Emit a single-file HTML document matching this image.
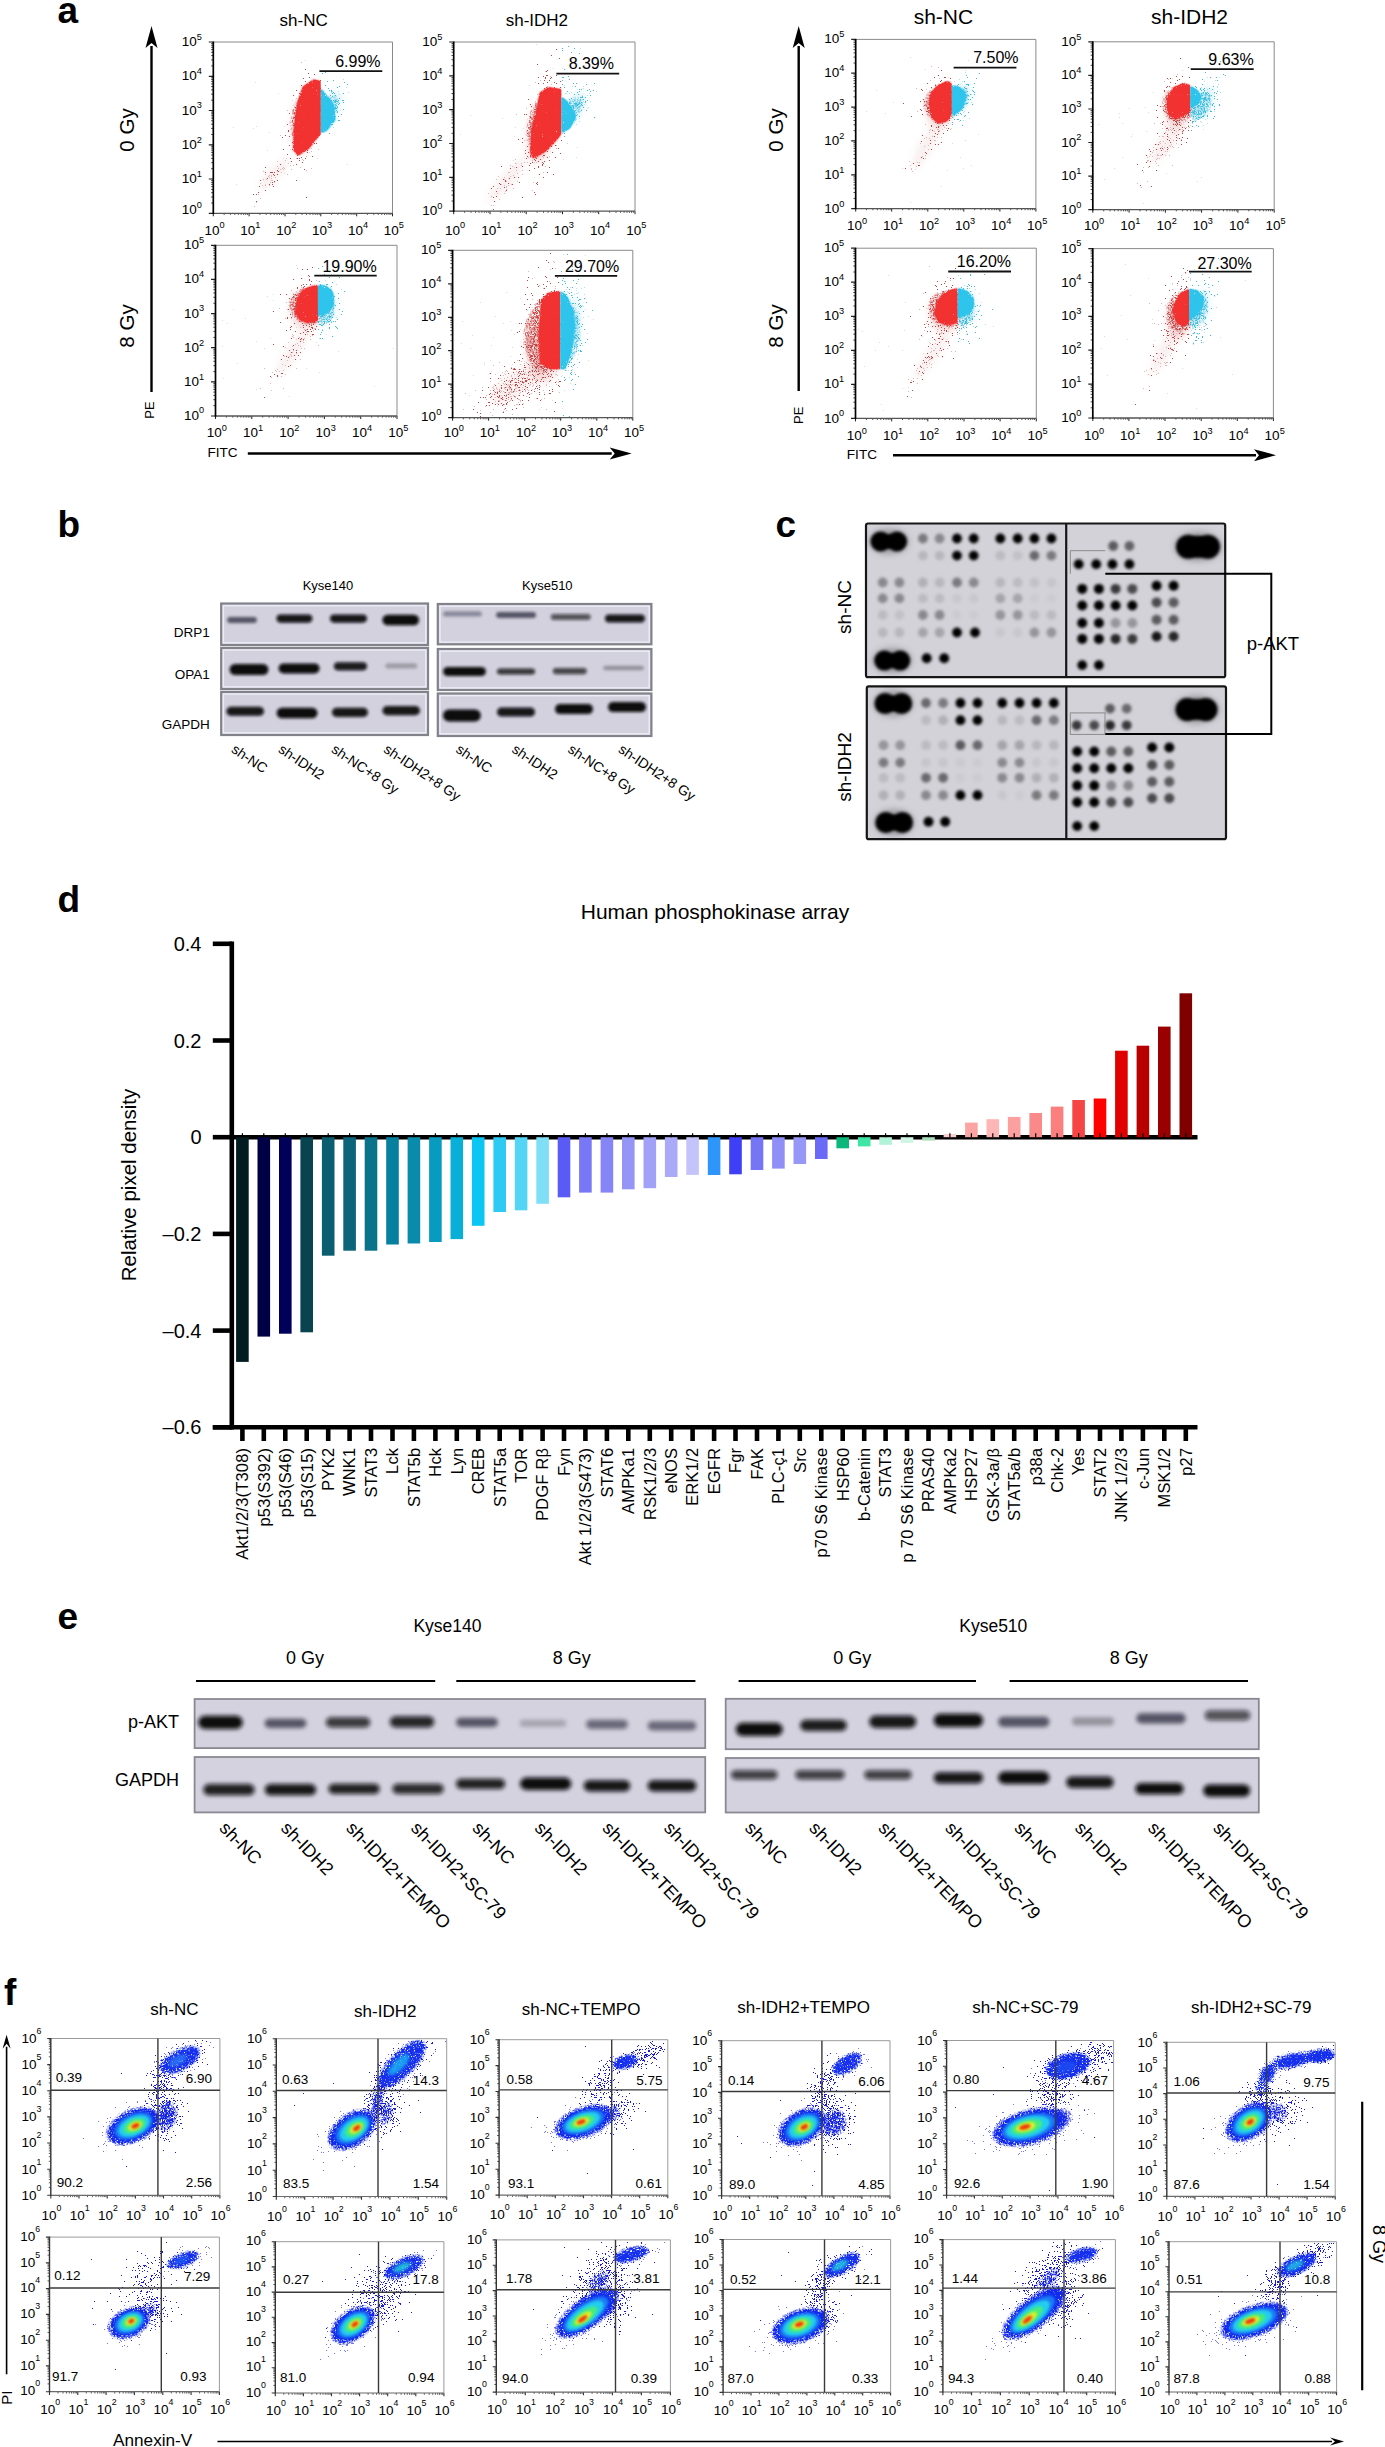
<!DOCTYPE html><html><head><meta charset="utf-8"><style>html,body{margin:0;padding:0;background:#fff;}svg{display:block;font-family:"Liberation Sans",sans-serif;}</style></head><body><svg width="1385" height="2447" viewBox="0 0 1385 2447"><defs><filter id="spkA" x="-40%" y="-40%" width="180%" height="180%" color-interpolation-filters="sRGB"><feGaussianBlur in="SourceGraphic" stdDeviation="2.2" result="b"/><feTurbulence type="fractalNoise" baseFrequency="0.9" numOctaves="2" seed="5" result="n"/><feColorMatrix in="n" type="matrix" values="0 0 0 0 0  0 0 0 0 0  0 0 0 0 0  3 0 0 0 -0.9" result="na"/><feComposite in="b" in2="na" operator="in" result="m"/><feComponentTransfer in="m"><feFuncA type="linear" slope="2" intercept="-0.5"/></feComponentTransfer></filter><filter id="spkB" x="-40%" y="-40%" width="180%" height="180%" color-interpolation-filters="sRGB"><feGaussianBlur in="SourceGraphic" stdDeviation="1" result="b"/><feTurbulence type="fractalNoise" baseFrequency="0.9" numOctaves="2" seed="9" result="n"/><feColorMatrix in="n" type="matrix" values="0 0 0 0 0  0 0 0 0 0  0 0 0 0 0  3 0 0 0 -0.4" result="na"/><feComposite in="b" in2="na" operator="in" result="m"/><feComponentTransfer in="m"><feFuncA type="linear" slope="3" intercept="0"/></feComponentTransfer></filter><filter id="ab1" x="-20%" y="-20%" width="140%" height="140%"><feGaussianBlur stdDeviation="0.7"/></filter><filter id="ab2" x="-50%" y="-50%" width="200%" height="200%"><feGaussianBlur stdDeviation="3"/></filter><clipPath id="gL1"><rect x="214.3" y="43" width="106.5" height="169.3"/></clipPath><clipPath id="gR1"><rect x="320.8" y="43" width="70.7" height="169.3"/></clipPath><clipPath id="gL2"><rect x="454.7" y="43" width="106.7" height="167.2"/></clipPath><clipPath id="gR2"><rect x="561.4" y="43" width="72.6" height="167.2"/></clipPath><clipPath id="gL3"><rect x="216.5" y="246.3" width="101.4" height="168.7"/></clipPath><clipPath id="gR3"><rect x="317.9" y="246.3" width="78.1" height="168.7"/></clipPath><clipPath id="gL4"><rect x="453.6" y="251.3" width="106.6" height="165.4"/></clipPath><clipPath id="gR4"><rect x="560.2" y="251.3" width="71.6" height="165.4"/></clipPath><clipPath id="gL5"><rect x="856.7" y="40.4" width="95.1" height="167.2"/></clipPath><clipPath id="gR5"><rect x="951.8" y="40.4" width="83.1" height="167.2"/></clipPath><clipPath id="gL6"><rect x="1093.8" y="42.8" width="96.4" height="165.9"/></clipPath><clipPath id="gR6"><rect x="1190.2" y="42.8" width="83" height="165.9"/></clipPath><clipPath id="gL7"><rect x="856.5" y="249.2" width="101.1" height="168.2"/></clipPath><clipPath id="gR7"><rect x="957.6" y="249.2" width="77.7" height="168.2"/></clipPath><clipPath id="gL8"><rect x="1093.8" y="249.6" width="95.3" height="167.4"/></clipPath><clipPath id="gR8"><rect x="1189.1" y="249.6" width="83.3" height="167.4"/></clipPath><filter id="bb" x="-30%" y="-100%" width="160%" height="300%"><feGaussianBlur stdDeviation="1.6"/></filter><filter id="bd" x="-50%" y="-50%" width="200%" height="200%"><feGaussianBlur stdDeviation="1.35"/></filter><filter id="bd2" x="-50%" y="-50%" width="200%" height="200%"><feGaussianBlur stdDeviation="2.3"/></filter><filter id="bd2h" x="-50%" y="-50%" width="200%" height="200%"><feGaussianBlur stdDeviation="3.5"/></filter><filter id="fb1" x="-50%" y="-50%" width="200%" height="200%"><feGaussianBlur stdDeviation="1.6"/></filter><filter id="fb2" x="-50%" y="-50%" width="200%" height="200%"><feGaussianBlur stdDeviation="1.0"/></filter><filter id="fb3" x="-50%" y="-50%" width="200%" height="200%"><feGaussianBlur stdDeviation="3"/></filter><filter id="spk" x="-40%" y="-40%" width="180%" height="180%" color-interpolation-filters="sRGB"><feGaussianBlur in="SourceGraphic" stdDeviation="2.6" result="b"/><feTurbulence type="fractalNoise" baseFrequency="0.8" numOctaves="2" seed="3" result="n"/><feColorMatrix in="n" type="matrix" values="0 0 0 0 0  0 0 0 0 0  0 0 0 0 0  3 0 0 0 -0.9" result="na"/><feComposite in="b" in2="na" operator="in" result="m"/><feComponentTransfer in="m"><feFuncA type="linear" slope="2.5" intercept="-0.3"/></feComponentTransfer></filter><filter id="spk2" x="-40%" y="-40%" width="180%" height="180%" color-interpolation-filters="sRGB"><feGaussianBlur in="SourceGraphic" stdDeviation="2" result="b"/><feTurbulence type="fractalNoise" baseFrequency="0.8" numOctaves="2" seed="7" result="n"/><feColorMatrix in="n" type="matrix" values="0 0 0 0 0  0 0 0 0 0  0 0 0 0 0  3 0 0 0 -0.9" result="na"/><feComposite in="b" in2="na" operator="in" result="m"/><feComponentTransfer in="m"><feFuncA type="linear" slope="2.5" intercept="-0.3"/></feComponentTransfer></filter><filter id="spkL" x="-40%" y="-40%" width="180%" height="180%" color-interpolation-filters="sRGB"><feGaussianBlur in="SourceGraphic" stdDeviation="3.5" result="b"/><feTurbulence type="fractalNoise" baseFrequency="0.8" numOctaves="2" seed="11" result="n"/><feColorMatrix in="n" type="matrix" values="0 0 0 0 0  0 0 0 0 0  0 0 0 0 0  3 0 0 0 -0.9" result="na"/><feComposite in="b" in2="na" operator="in" result="m"/><feComponentTransfer in="m"><feFuncA type="linear" slope="2.2" intercept="-0.5"/></feComponentTransfer></filter></defs><rect width="100%" height="100%" fill="#fff"/><g font-family="Liberation Sans, sans-serif">
<text x="57.5" y="22.5" font-size="37" text-anchor="start" font-weight="bold" fill="#000">a</text>
<path d="M213.3 42H392.5V213.3" stroke="#8a8a8a" stroke-width="1" fill="none"/>
<path d="M213.3 213.3v3M249.1 213.3v3M285 213.3v3M320.8 213.3v3M356.7 213.3v3M392.5 213.3v3" stroke="#222" stroke-width="1" fill="none"/>
<path d="M224.1 213.3v1.6M230.4 213.3v1.6M234.9 213.3v1.6M238.4 213.3v1.6M241.2 213.3v1.6M243.6 213.3v1.6M245.7 213.3v1.6M247.5 213.3v1.6M259.9 213.3v1.6M266.2 213.3v1.6M270.7 213.3v1.6M274.2 213.3v1.6M277 213.3v1.6M279.4 213.3v1.6M281.5 213.3v1.6M283.3 213.3v1.6M295.8 213.3v1.6M302.1 213.3v1.6M306.6 213.3v1.6M310 213.3v1.6M312.9 213.3v1.6M315.3 213.3v1.6M317.3 213.3v1.6M319.2 213.3v1.6M331.6 213.3v1.6M337.9 213.3v1.6M342.4 213.3v1.6M345.9 213.3v1.6M348.7 213.3v1.6M351.1 213.3v1.6M353.2 213.3v1.6M355 213.3v1.6M367.4 213.3v1.6M373.8 213.3v1.6M378.2 213.3v1.6M381.7 213.3v1.6M384.5 213.3v1.6M386.9 213.3v1.6M389 213.3v1.6M390.9 213.3v1.6M211.1 203h2.2M211.1 197h2.2M211.1 192.7h2.2M211.1 189.4h2.2M211.1 186.6h2.2M211.1 184.3h2.2M211.1 182.4h2.2M211.1 180.6h2.2M211.1 168.7h2.2M211.1 162.7h2.2M211.1 158.4h2.2M211.1 155.1h2.2M211.1 152.4h2.2M211.1 150.1h2.2M211.1 148.1h2.2M211.1 146.3h2.2M211.1 134.5h2.2M211.1 128.4h2.2M211.1 124.2h2.2M211.1 120.8h2.2M211.1 118.1h2.2M211.1 115.8h2.2M211.1 113.8h2.2M211.1 112.1h2.2M211.1 100.2h2.2M211.1 94.2h2.2M211.1 89.9h2.2M211.1 86.6h2.2M211.1 83.9h2.2M211.1 81.6h2.2M211.1 79.6h2.2M211.1 77.8h2.2M211.1 65.9h2.2M211.1 59.9h2.2M211.1 55.6h2.2M211.1 52.3h2.2M211.1 49.6h2.2M211.1 47.3h2.2M211.1 45.3h2.2M211.1 43.6h2.2" stroke="#222" stroke-width="0.8" fill="none"/>
<path d="M208.8 213.3h4.5M208.8 179h4.5M208.8 144.8h4.5M208.8 110.5h4.5M208.8 76.3h4.5M208.8 42h4.5" stroke="#222" stroke-width="1.2" fill="none"/>
<path d="M212.6 213.3H392.5" stroke="#555" stroke-width="1.3" fill="none"/>
<path d="M213.3 41.5V214.1" stroke="#000" stroke-width="1.7" fill="none"/>
<text x="204.5" y="234.6" font-size="13.5">10<tspan font-size="9.2" dy="-6.2">0</tspan></text>
<text x="181.8" y="214.4" font-size="13.5">10<tspan font-size="9.2" dy="-6.2">0</tspan></text>
<text x="240.3" y="234.6" font-size="13.5">10<tspan font-size="9.2" dy="-6.2">1</tspan></text>
<text x="181.8" y="183" font-size="13.5">10<tspan font-size="9.2" dy="-6.2">1</tspan></text>
<text x="276.2" y="234.6" font-size="13.5">10<tspan font-size="9.2" dy="-6.2">2</tspan></text>
<text x="181.8" y="148.8" font-size="13.5">10<tspan font-size="9.2" dy="-6.2">2</tspan></text>
<text x="312" y="234.6" font-size="13.5">10<tspan font-size="9.2" dy="-6.2">3</tspan></text>
<text x="181.8" y="114.5" font-size="13.5">10<tspan font-size="9.2" dy="-6.2">3</tspan></text>
<text x="347.9" y="234.6" font-size="13.5">10<tspan font-size="9.2" dy="-6.2">4</tspan></text>
<text x="181.8" y="80.3" font-size="13.5">10<tspan font-size="9.2" dy="-6.2">4</tspan></text>
<text x="383.7" y="234.6" font-size="13.5">10<tspan font-size="9.2" dy="-6.2">5</tspan></text>
<text x="181.8" y="46" font-size="13.5">10<tspan font-size="9.2" dy="-6.2">5</tspan></text>
<path d="M300 137.5h1m-11 12h1m-22 -17h1m14 -6h1m-20 58h1m36 -37h1m44 17h1m-65 -6h1m-6 -65h1m38 65h1m-6 -27h1m-9 -32h1m-38 51h1m31 -16h1m24 -8h1m-72 2h1m30 45h1m-52 -46h1m21 -45h1m-20 102h1m55 -84h1m-37 26h1m52 26h1m-5 -92h1" stroke="#e8d8d8" stroke-width="1" fill="none"/>
<ellipse cx="306" cy="118" rx="36" ry="13.5" transform="rotate(-80 306 118)" fill="#c85050" fill-opacity="0.2" filter="url(#ab2)" clip-path="url(#gL1)"/>
<ellipse cx="274" cy="174" rx="20.8" ry="5.9" transform="rotate(-45 274 174)" fill="#c87070" fill-opacity="0.1" filter="url(#ab2)" clip-path="url(#gL1)"/>
<ellipse cx="329" cy="108" rx="18.2" ry="8.4" transform="rotate(-60 329 108)" fill="#40b8d8" fill-opacity="0.2" filter="url(#ab2)" clip-path="url(#gR1)"/>
<g clip-path="url(#gL1)"><ellipse cx="306" cy="118" rx="28.8" ry="15.8" transform="rotate(-80 306 118)" fill="#c63a3a" fill-opacity="0.8" filter="url(#spkA)"/></g>
<g clip-path="url(#gR1)"><ellipse cx="329" cy="108" rx="14.9" ry="9" transform="rotate(-60 329 108)" fill="#38bfe4" fill-opacity="0.8" filter="url(#spkA)"/></g>
<path d="M306 99.5h1m11 50h1m0 -31h1m-19 -15h1m-3 18h1m10 -19h1m1 1h1m5 -18h1m-21 48h1m-12 -23h1m14 19h1m10 -13h1m-3 32h1m-8 -16h1m2 -9h1m12 -24h1m-11 -8h1m0 60h1m-19 -16h1m5 -34h1m-12 62h1m19 -33h1m-8 -11h1m10 -31h1m-1 14h1m-5 24h1m7 3h1m1 -3h1m-14 -45h1m0 47h1m-4 -3h1m-5 -17h1m12 16h1m-13 20h1m1 -26h1m4 11h1m-6 -40h1m4 13h1m9 18h1m-1 -16h1m-21 21h1m8 -33h1m-11 10h1m-2 46h1m0 -40h1m5 51h1m-3 8h1m14 -40h1m-36 8h1m27 -21h1m-8 -52h1m6 77h1m-7 -7h1m8 -25h1m-15 14h1m18 4h1m-18 -25h1m5 5h1m5 39h1m-2 -23h1m-1 -3h1m-9 25h1m9 -30h1m-3 27h1m2 -44h1m2 19h1m1 3h1m-21 1h1m12 49h1m-11 -23h1m11 -35h1m-8 60h1m-5 -73h1m0 63h1m-8 -62h1m12 41h1m-1 -24h1m-4 41h1m-1 -68h1m6 -4h1m-14 35h1m4 6h1m9 -2h1m-13 18h1m6 -49h1m-16 37h1" stroke="#e2b6b6" stroke-width="1" fill="none"/>
<path d="M314 121.5h1m-12 16h1m15 -2h1m-25 12h1m15 -52h1m-16 21h1m20 21h1m-4 -10h1m-5 5h1m5 -12h1m-16 6h1m10 0h1m-6 26h1m-11 -16h1m22 -56h1m-22 53h1m10 11h1m7 -32h1m-36 37h1m24 -26h1m-8 10h1m-3 27h1m8 -60h1m-4 18h1m-17 -5h1m22 24h1m0 -5h1m3 -9h1m-23 20h1m-2 2h1m25 -57h1m-5 44h1m-7 -20h1m-17 5h1m4 12h1m18 -24h1m-23 19h1m18 -1h1m-7 -5h1m7 -15h1m-23 4h1m0 23h1m7 21h1m13 -54h1m-10 25h1m-1 -17h1m0 -5h1m-1 -1h1m9 -1h1m-16 31h1m7 -47h1m-25 63h1m3 -50h1m15 12h1m6 -8h1m-3 -25h1m3 10h1m-11 62h1m-10 12h1m19 -58h1m-24 41h1m10 -23h1m-1 -20h1m-7 59h1m2 12h1m10 -56h1m-8 4h1m1 8h1m-7 -8h1m-3 21h1m9 18h1m-8 -34h1m8 21h1m-10 15h1m5 -51h1m-5 1h1m-7 33h1m3 -7h1m0 8h1m-1 -2h1m8 -25h1m-11 22h1m6 -27h1m-6 0h1m-10 41h1m9 -54h1m-2 23h1m2 -1h1m-16 32h1m23 -20h1m-15 -31h1m-2 20h1m-1 -4h1m-4 8h1m15 -32h1m-10 27h1m-18 50h1m7 -35h1m-4 30h1m9 33h1m-8 -67h1m1 -45h1m-5 30h1m1 30h1m16 -2h1m-15 -53h1m5 25h1m-7 4h1m16 0h1m-6 -13h1m-19 5h1m8 32h1m0 -38h1m-19 26h1m7 -41h1m5 58h1m5 -26h1m8 -2h1m-11 30h1m1 -73h1m-1 6h1m-7 46h1m-4 -31h1m13 12h1m-19 70h1m4 -69h1m-1 8h1m-5 -5h1m0 29h1m9 -18h1m-7 -3h1m17 -31h1m-20 26h1m-1 14h1m17 -1h1m-18 32h1m15 -80h1m-7 21h1m-14 11h1m4 -2h1m0 11h1m-6 -7h1m-3 15h1m-11 -1h1m14 -52h1m1 28h1m-8 19h1m7 20h1m-1 -25h1m-5 -24h1m-16 28h1m18 0h1m-1 -1h1m-2 -8h1m-19 39h1m17 -30h1m-17 12h1m28 -37h1m-15 38h1m5 -32h1m-6 -24h1m-11 43h1m21 11h1m-15 -17h1m4 25h1m-4 -74h1m-5 54h1m-1 -1h1m4 21h1m-9 -34h1m4 39h1m-12 -6h1m26 -53h1m-10 52h1m-2 -49h1m9 -9h1m-13 50h1m-16 16h1m19 -31h1m3 -34h1m-18 9h1m-18 44h1m2 -2h1m17 -5h1m1 -19h1m-14 9h1m15 -7h1m7 0h1m-13 12h1m-3 -7h1m11 -4h1m5 9h1m-13 -50h1m6 32h1m-9 12h1m-11 41h1" stroke="#c44444" stroke-width="1" fill="none"/>
<path d="M321 122.5h1m-1 2h1m1 -3h1m-2 -5h1m-2 -26h1" stroke="#b4e2ee" stroke-width="1" fill="none"/>
<path d="M328 88.5h1m-7 22h1m6 23h1m-6 -40h1m2 5h1m-4 25h1m0 -51h1m3 49h1m-9 -20h1m0 12h1m7 -13h1m6 -13h1m-17 22h1m0 -36h1m-2 35h1" stroke="#3cbde0" stroke-width="1" fill="none"/>
<path d="M282 168.5h1m-20 3h1m16 -2h1m-16 16h1m2 -9h1m-9 7h1m29 -18h1m-17 10h1m-12 4h1m5 -2h1m1 -1h1m5 -15h1m-20 33h1m3 -9h1m8 -5h1m26 -39h1m-8 28h1m-17 8h1m8 -9h1m10 -19h1m-27 26h1m-5 -1h1m27 -9h1m-17 1h1m5 1h1m-14 15h1m23 -31h1m1 7h1m-10 16h1m-32 28h1m26 -33h1m-13 6h1m6 -7h1m-8 10h1m-12 20h1m20 -26h1m-13 13h1m4 -3h1m-9 -3h1m5 1h1m-19 26h1m31 -48h1m-10 13h1m7 -11h1" stroke="#e2b6b6" stroke-width="1" fill="none"/>
<path d="M296 151.5h1m-25 21h1m-20 22h1m6 -14h1m-2 6h1m7 -8h1m6 -6h1m-19 29h1m21 -30h1m-21 21h1m18 -22h1m-1 10h1m-13 -8h1m7 2h1m-2 10h1m0 2h1m-18 8h1m17 -19h1m22 -20h1m-7 6h1m-12 3h1m-12 20h1m20 -26h1m-21 14h1m-6 -5h1m8 14h1m2 -7h1m-6 8h1m-2 -10h1m-7 18h1" stroke="#c44444" stroke-width="1" fill="none"/>
<path d="M320 134.5h1m-9 -9h1m7 -9h1m-6 -8h1m4 21h1" stroke="#e2b6b6" stroke-width="1" fill="none"/>
<path d="M318 108.5h1m-5 6h1m-4 15h1m9 -15h1m-12 4h1m6 0h1m2 -8h1m-8 1h1m-2 17h1m2 6h1" stroke="#c44444" stroke-width="1" fill="none"/>
<path d="M331 117.5h1m-8 -12h1m-1 15h1m2 1h1m-4 -9h1m-1 15h1m9 -10h1m-5 -11h1m-6 3h1m1 5h1m1 -18h1m3 6h1m-5 7h1m-2 -11h1m-2 18h1m-5 6h1m1 -4h1m12 -27h1m-4 17h1m-5 -16h1m-4 23h1m4 -19h1m-5 21h1m-4 -8h1m16 -30h1m-8 22h1m-10 7h1m-6 -9h1m9 -8h1m-4 24h1m-5 -5h1m3 -2h1m-1 -1h1m9 -13h1m0 16h1m-6 -10h1m-3 27h1m-1 -30h1m12 -10h1m-9 14h1m-7 5h1m-4 -1h1m18 -13h1" stroke="#b4e2ee" stroke-width="1" fill="none"/>
<path d="M332 124.5h1m1 -12h1m8 -3h1m-5 -6h1m-4 5h1m-13 1h1m12 2h1m-11 -2h1m-5 13h1m5 -14h1m2 -12h1m-7 14h1m6 -10h1m-7 23h1m-1 -19h1m-5 17h1m8 -28h1m11 -11h1m-12 -2h1m4 36h1m-4 -15h1m-11 3h1m5 4h1m11 -15h1m-22 31h1m20 -24h1m-16 8h1m-4 -23h1m-2 17h1m5 17h1m4 -12h1m0 -6h1m-13 4h1m11 0h1m-8 11h1m0 -21h1m5 15h1m0 2h1m1 -14h1m-2 22h1m-8 -8h1m2 -19h1m-4 -2h1m-1 28h1m-1 -29h1m0 21h1m-7 14h1m0 -13h1m15 -10h1m-15 -12h1m9 30h1m-3 -13h1m-12 9h1m3 -12h1m-4 4h1m-1 7h1m13 -1h1m-13 3h1m-4 -5h1m8 -17h1m-1 13h1m2 -8h1m-6 -8h1m-3 8h1m15 -16h1m-26 8h1m12 24h1m3 -30h1m-13 -5h1m-6 37h1m11 -17h1m2 0h1m-3 -1h1m-5 10h1m-4 -9h1m6 1h1m6 -2h1m-5 4h1" stroke="#3cbde0" stroke-width="1" fill="none"/>
<g clip-path="url(#gL1)">
<polygon points="298.2,102.8 303.4,87.2 313.8,80.3 320.8,82 320.8,132.3 308.6,147.8 298.2,154.8 293.9,149.6 294.8,127.1" fill="#f23131" filter="url(#spkB)"/>
</g>
<g clip-path="url(#gR1)">
<polygon points="320.8,88.9 326,95.9 332.9,104.5 334.6,120.1 326,130.5 320.8,132.3" fill="#2ec4ec" filter="url(#spkB)"/>
</g>
<line x1="319.4" y1="71.2" x2="382.3" y2="71.2" stroke="#111" stroke-width="1.8"/>
<text x="380.6" y="66.9" font-size="16" text-anchor="end" fill="#000">6.99%</text>
<path d="M453.7 42H635V211.2" stroke="#8a8a8a" stroke-width="1" fill="none"/>
<path d="M453.7 211.2v3M490 211.2v3M526.2 211.2v3M562.5 211.2v3M598.7 211.2v3M635 211.2v3" stroke="#222" stroke-width="1" fill="none"/>
<path d="M464.6 211.2v1.6M471 211.2v1.6M475.5 211.2v1.6M479 211.2v1.6M481.9 211.2v1.6M484.3 211.2v1.6M486.4 211.2v1.6M488.3 211.2v1.6M500.9 211.2v1.6M507.3 211.2v1.6M511.8 211.2v1.6M515.3 211.2v1.6M518.2 211.2v1.6M520.6 211.2v1.6M522.7 211.2v1.6M524.6 211.2v1.6M537.1 211.2v1.6M543.5 211.2v1.6M548.1 211.2v1.6M551.6 211.2v1.6M554.4 211.2v1.6M556.9 211.2v1.6M559 211.2v1.6M560.8 211.2v1.6M573.4 211.2v1.6M579.8 211.2v1.6M584.3 211.2v1.6M587.8 211.2v1.6M590.7 211.2v1.6M593.1 211.2v1.6M595.2 211.2v1.6M597.1 211.2v1.6M609.7 211.2v1.6M616 211.2v1.6M620.6 211.2v1.6M624.1 211.2v1.6M627 211.2v1.6M629.4 211.2v1.6M631.5 211.2v1.6M633.3 211.2v1.6M451.5 201h2.2M451.5 195.1h2.2M451.5 190.8h2.2M451.5 187.5h2.2M451.5 184.9h2.2M451.5 182.6h2.2M451.5 180.6h2.2M451.5 178.9h2.2M451.5 167.2h2.2M451.5 161.2h2.2M451.5 157h2.2M451.5 153.7h2.2M451.5 151h2.2M451.5 148.8h2.2M451.5 146.8h2.2M451.5 145.1h2.2M451.5 133.3h2.2M451.5 127.4h2.2M451.5 123.1h2.2M451.5 119.9h2.2M451.5 117.2h2.2M451.5 114.9h2.2M451.5 113h2.2M451.5 111.2h2.2M451.5 99.5h2.2M451.5 93.5h2.2M451.5 89.3h2.2M451.5 86h2.2M451.5 83.3h2.2M451.5 81.1h2.2M451.5 79.1h2.2M451.5 77.4h2.2M451.5 65.7h2.2M451.5 59.7h2.2M451.5 55.5h2.2M451.5 52.2h2.2M451.5 49.5h2.2M451.5 47.2h2.2M451.5 45.3h2.2M451.5 43.5h2.2" stroke="#222" stroke-width="0.8" fill="none"/>
<path d="M449.2 211.2h4.5M449.2 177.4h4.5M449.2 143.5h4.5M449.2 109.7h4.5M449.2 75.8h4.5M449.2 42h4.5" stroke="#222" stroke-width="1.2" fill="none"/>
<path d="M452.9 211.2H635" stroke="#555" stroke-width="1.3" fill="none"/>
<path d="M453.7 41.5V211.9" stroke="#000" stroke-width="1.7" fill="none"/>
<text x="444.9" y="234.6" font-size="13.5">10<tspan font-size="9.2" dy="-6.2">0</tspan></text>
<text x="422.2" y="214.7" font-size="13.5">10<tspan font-size="9.2" dy="-6.2">0</tspan></text>
<text x="481.2" y="234.6" font-size="13.5">10<tspan font-size="9.2" dy="-6.2">1</tspan></text>
<text x="422.2" y="181.4" font-size="13.5">10<tspan font-size="9.2" dy="-6.2">1</tspan></text>
<text x="517.4" y="234.6" font-size="13.5">10<tspan font-size="9.2" dy="-6.2">2</tspan></text>
<text x="422.2" y="147.5" font-size="13.5">10<tspan font-size="9.2" dy="-6.2">2</tspan></text>
<text x="553.7" y="234.6" font-size="13.5">10<tspan font-size="9.2" dy="-6.2">3</tspan></text>
<text x="422.2" y="113.7" font-size="13.5">10<tspan font-size="9.2" dy="-6.2">3</tspan></text>
<text x="589.9" y="234.6" font-size="13.5">10<tspan font-size="9.2" dy="-6.2">4</tspan></text>
<text x="422.2" y="79.8" font-size="13.5">10<tspan font-size="9.2" dy="-6.2">4</tspan></text>
<text x="626.2" y="234.6" font-size="13.5">10<tspan font-size="9.2" dy="-6.2">5</tspan></text>
<text x="422.2" y="46" font-size="13.5">10<tspan font-size="9.2" dy="-6.2">5</tspan></text>
<path d="M534 177.5h1m41 -20h1m-24 -89h1m4 51h1m-7 11h1m-11 -37h1m-7 -49h1m-8 41h1m37 40h1m-66 -7h1m84 -10h1m-47 43h1m-28 16h1m8 -39h1m-8 35h1m29 -31h1m-32 -5h1m64 -79h1m-68 112h1m-54 -26h1m53 2h1m-45 -21h1m68 -22h1m37 54h1m-15 12h1" stroke="#e8d8d8" stroke-width="1" fill="none"/>
<ellipse cx="545" cy="122" rx="42" ry="15" transform="rotate(-75 545 122)" fill="#c85050" fill-opacity="0.2" filter="url(#ab2)" clip-path="url(#gL2)"/>
<ellipse cx="507" cy="180" rx="28.6" ry="6.5" transform="rotate(-50 507 180)" fill="#c87070" fill-opacity="0.1" filter="url(#ab2)" clip-path="url(#gL2)"/>
<ellipse cx="572" cy="110" rx="19.6" ry="8.4" transform="rotate(-55 572 110)" fill="#40b8d8" fill-opacity="0.2" filter="url(#ab2)" clip-path="url(#gR2)"/>
<g clip-path="url(#gL2)"><ellipse cx="545" cy="122" rx="33.6" ry="17.5" transform="rotate(-75 545 122)" fill="#c63a3a" fill-opacity="0.8" filter="url(#spkA)"/></g>
<g clip-path="url(#gR2)"><ellipse cx="572" cy="110" rx="16.1" ry="9" transform="rotate(-55 572 110)" fill="#38bfe4" fill-opacity="0.8" filter="url(#spkA)"/></g>
<path d="M521 163.5h1m23 -14h1m-1 -43h1m8 17h1m-11 28h1m3 -17h1m-2 -12h1m-1 -14h1m-12 29h1m20 -4h1m-46 33h1m12 -16h1m24 -74h1m-18 106h1m9 -51h1m-3 -16h1m-4 16h1m17 17h1m-20 -26h1m-22 -8h1m5 56h1m17 -45h1m-1 20h1m-14 -12h1m30 -14h1m-11 -15h1m-12 -10h1m5 42h1m12 -38h1m-5 -8h1m5 2h1m-19 -12h1m12 48h1m-19 -4h1m-8 33h1m19 -40h1m-7 15h1m0 40h1m-1 -25h1m-14 -29h1m-1 2h1m11 7h1m-19 13h1m20 -30h1m6 21h1m-3 -25h1m-6 -35h1m-11 49h1m-2 42h1m3 -17h1m-3 17h1m5 -6h1m-8 -74h1m11 34h1m-3 50h1m8 -60h1m-8 -20h1m-12 44h1m4 11h1m7 -8h1m-3 -19h1m-2 -27h1m11 4h1m-8 -7h1m-14 17h1m-12 61h1m16 -37h1m-19 -17h1m9 23h1m18 -33h1m-21 32h1m-2 16h1m14 -42h1m4 -10h1m-5 20h1m-19 76h1m23 -45h1m-12 -10h1m-8 14h1m6 -33h1m-11 17h1m13 23h1m-21 -25h1m13 26h1m8 -40h1m-16 -9h1m6 34h1m9 -41h1m-16 34h1m-12 9h1m30 -41h1m-10 39h1" stroke="#e2b6b6" stroke-width="1" fill="none"/>
<path d="M558 116.5h1m-6 11h1m-17 13h1m5 -17h1m-4 1h1m16 -20h1m-8 -7h1m-13 -14h1m5 29h1m2 28h1m-6 -3h1m15 -26h1m-12 -5h1m-1 -24h1m8 31h1m-2 -19h1m-11 -16h1m5 41h1m-20 43h1m14 -5h1m-5 6h1m-26 -24h1m39 -49h1m-5 18h1m-1 -13h1m-17 28h1m3 4h1m-17 -13h1m17 3h1m-18 16h1m14 -11h1m8 -45h1m-5 95h1m0 -57h1m-10 32h1m9 -29h1m-14 3h1m17 -19h1m-17 64h1m16 -73h1m-13 46h1m2 -35h1m12 16h1m-25 74h1m1 -52h1m7 -26h1m14 -35h1m-8 35h1m1 1h1m-21 43h1m8 -80h1m-15 37h1m4 9h1m2 41h1m5 -71h1m8 12h1m-13 41h1m18 -62h1m-26 68h1m6 -42h1m11 -1h1m-3 1h1m-2 33h1m-3 14h1m5 -37h1m-16 18h1m-11 15h1m-1 -1h1m20 -17h1m-13 36h1m4 -13h1m-16 4h1m6 -57h1m5 57h1m-1 -70h1m-3 32h1m-9 1h1m23 -53h1m-26 53h1m-7 22h1m10 8h1m-3 -49h1m11 4h1m-13 46h1m12 -8h1m4 -43h1m-11 -4h1m10 39h1m-11 -40h1m2 3h1m-18 64h1m19 -59h1m-15 25h1m1 46h1m4 -53h1m7 -51h1m-15 105h1m19 -134h1m-2 108h1m-11 -63h1m10 -5h1m-13 4h1m10 27h1m-13 35h1m-16 -56h1m19 44h1m-15 49h1m25 -87h1m-14 -35h1m-26 72h1m22 -65h1m-12 43h1m-7 32h1m4 -28h1m3 60h1m-4 -16h1m24 -45h1m-8 29h1m-19 -28h1m16 3h1m-15 -63h1m16 23h1m-4 38h1m-6 -38h1m-25 51h1m15 -8h1m-7 25h1m-3 -29h1m9 33h1m12 -38h1m-7 -46h1m-10 67h1m18 -23h1m-16 28h1m1 8h1m-12 0h1m20 -73h1m-4 -27h1m-10 52h1m12 38h1m-10 -43h1m-13 27h1m11 -30h1m-10 12h1m14 5h1m6 -8h1m-28 27h1m19 1h1m0 38h1m-22 -43h1m9 31h1m4 -35h1m11 -14h1m-22 48h1m-3 -18h1m23 10h1m-18 -53h1m-8 30h1m19 -47h1m-8 84h1m-12 -90h1m10 65h1m-28 55h1m20 -121h1m-2 75h1m-7 -36h1m14 15h1m-17 -14h1m6 48h1m1 -23h1m-15 -37h1m13 11h1m8 -26h1m-30 25h1m34 -56h1m-20 55h1m2 64h1m-19 -24h1m17 -70h1m0 66h1m10 -40h1m-19 41h1m14 -16h1m-17 0h1m24 6h1m-7 -37h1m-2 2h1m-12 33h1m-9 8h1m23 -28h1m-21 5h1m16 3h1m-17 0h1m7 22h1m-11 -2h1m-12 0h1m4 -16h1m-6 0h1m25 -27h1m-1 33h1m-20 -11h1m-2 29h1m12 -79h1m2 33h1m-4 -37h1m-4 27h1m5 -18h1m-12 47h1m-5 28h1m9 -67h1m-14 18h1m20 -4h1" stroke="#c44444" stroke-width="1" fill="none"/>
<path d="M563 129.5h1m-1 -26h1m3 40h1m-5 -42h1m-1 -3h1m2 11h1m-1 -16h1m-3 -8h1m6 17h1m-7 -9h1m-4 -25h1" stroke="#b4e2ee" stroke-width="1" fill="none"/>
<path d="M568 123.5h1m5 -75h1m-11 39h1m-3 -7h1m0 -3h1m8 28h1m-5 -29h1m10 -23h1m-13 54h1m-1 -16h1m-4 42h1m0 -31h1m0 20h1m-3 -53h1m-1 67h1m8 -28h1m-6 -62h1m-7 38h1m10 -1h1m-11 18h1m5 -22h1m-9 23h1m0 -52h1m8 2h1m-8 51h1m-3 -55h1m-1 29h1" stroke="#3cbde0" stroke-width="1" fill="none"/>
<path d="M515 159.5h1m-3 29h1m-10 -3h1m32 -38h1m-37 37h1m-9 21h1m3 -12h1m8 -4h1m28 -48h1m-26 35h1m10 -11h1m-31 31h1m21 -21h1m8 -1h1m7 -26h1m-35 43h1m19 -21h1m-9 2h1m-21 21h1m22 -9h1m-6 3h1m3 -22h1m6 8h1m-13 18h1m-15 14h1m38 -48h1m-14 24h1m3 -18h1m10 -3h1m-29 33h1m10 -30h1m-10 23h1m-1 -5h1m-4 -2h1m0 -2h1m19 -15h1m-16 16h1m-2 7h1m-13 -6h1m12 -7h1m-11 27h1m0 -11h1m3 -9h1m-8 9h1m0 -12h1" stroke="#e2b6b6" stroke-width="1" fill="none"/>
<path d="M493 186.5h1m43 -38h1m-12 10h1m-9 19h1m-14 3h1m31 -37h1m-37 23h1m3 15h1m13 1h1m-6 -5h1m12 -21h1m-16 28h1m27 -37h1m-45 49h1m19 -29h1m-24 30h1m42 -45h1m-38 31h1m8 0h1m13 -17h1m7 -3h1m-37 38h1m5 -17h1m-8 25h1m15 -31h1m-7 1h1m0 8h1m-9 4h1m9 -1h1m-16 -2h1m18 -20h1" stroke="#c44444" stroke-width="1" fill="none"/>
<path d="M559 127.5h1m-4 -9h1m-8 16h1m3 -24h1m5 9h1m-2 4h1" stroke="#e2b6b6" stroke-width="1" fill="none"/>
<path d="M553 127.5h1m6 -1h1m-1 -14h1m-14 18h1m12 -23h1m-2 18h1m0 4h1m-3 19h1m0 -14h1m-8 -6h1m5 -3h1m-1 -12h1m-1 11h1" stroke="#c44444" stroke-width="1" fill="none"/>
<path d="M575 108.5h1m-14 25h1m0 -12h1m7 -29h1m11 -4h1m-8 20h1m13 -7h1m-17 21h1m4 -4h1m-12 -11h1m10 1h1m3 -7h1m-2 -6h1m-19 33h1m11 -21h1m-6 13h1m12 -16h1m-6 8h1m-5 8h1m20 -29h1m-26 16h1m6 5h1m-14 6h1m15 -9h1m-13 8h1m0 -1h1m18 -23h1m-21 0h1m18 14h1m-15 -4h1m12 -8h1m-17 15h1m11 -24h1m-20 34h1m3 -9h1m10 10h1m-11 -22h1m2 -13h1m-11 28h1m4 -8h1m8 13h1m-10 0h1m-2 7h1m8 -15h1m1 0h1m-5 -1h1m2 14h1m-12 -2h1" stroke="#b4e2ee" stroke-width="1" fill="none"/>
<path d="M590 91.5h1m-26 37h1m9 -42h1m7 21h1m-10 11h1m-8 8h1m6 -32h1m1 -11h1m-14 37h1m9 -4h1m9 -17h1m-15 3h1m23 -12h1m-25 9h1m-8 25h1m23 -40h1m-25 32h1m13 -1h1m-12 -7h1m23 -19h1m-17 28h1m-3 -7h1m6 -6h1m11 -9h1m-12 21h1m5 -15h1m-17 6h1m-4 -1h1m0 16h1m14 -26h1m4 4h1m-3 2h1m-15 9h1m-5 9h1m7 -4h1m-2 -13h1m4 -1h1m-11 1h1m10 -4h1m-12 18h1m3 -10h1m7 -3h1m-7 6h1m-11 2h1m12 -18h1m-8 4h1m2 13h1m-13 17h1m17 -31h1m13 -14h1m-25 35h1m-2 -12h1m-1 6h1m11 -2h1m-5 -18h1m-11 31h1m13 -34h1m-14 34h1m13 -26h1m-1 8h1m-17 17h1m3 -1h1m-4 -6h1m13 -18h1m-18 30h1m29 -10h1m-19 -14h1m9 7h1m-12 -6h1m3 -15h1m-5 14h1m5 -1h1m-5 2h1m9 -14h1m-3 7h1m-12 19h1m-11 -7h1m-1 12h1m5 -6h1m-5 3h1m10 -13h1m1 -14h1m-7 15h1m-1 9h1m-10 9h1m0 -19h1" stroke="#3cbde0" stroke-width="1" fill="none"/>
<g clip-path="url(#gL2)">
<polygon points="540.5,93 548.8,88 561.1,90 561.1,133.3 554.3,141.5 544.7,151.1 533.7,158 531,152.5 532.3,129.2 537.8,108.6" fill="#f23131" filter="url(#spkB)"/>
</g>
<g clip-path="url(#gR2)">
<polygon points="561.4,97.6 566.6,101.7 573.5,111.3 574.8,118.2 569.4,127.8 561.8,132.6" fill="#2ec4ec" filter="url(#spkB)"/>
</g>
<line x1="556.4" y1="73.6" x2="619.2" y2="73.6" stroke="#111" stroke-width="1.8"/>
<text x="614" y="69.3" font-size="16" text-anchor="end" fill="#000">8.39%</text>
<path d="M215.5 245.3H397V416" stroke="#8a8a8a" stroke-width="1" fill="none"/>
<path d="M215.5 416v3M251.8 416v3M288.1 416v3M324.4 416v3M360.7 416v3M397 416v3" stroke="#222" stroke-width="1" fill="none"/>
<path d="M226.4 416v1.6M232.8 416v1.6M237.4 416v1.6M240.9 416v1.6M243.7 416v1.6M246.2 416v1.6M248.3 416v1.6M250.1 416v1.6M262.7 416v1.6M269.1 416v1.6M273.7 416v1.6M277.2 416v1.6M280 416v1.6M282.5 416v1.6M284.6 416v1.6M286.4 416v1.6M299 416v1.6M305.4 416v1.6M310 416v1.6M313.5 416v1.6M316.3 416v1.6M318.8 416v1.6M320.9 416v1.6M322.7 416v1.6M335.3 416v1.6M341.7 416v1.6M346.3 416v1.6M349.8 416v1.6M352.6 416v1.6M355.1 416v1.6M357.2 416v1.6M359 416v1.6M371.6 416v1.6M378 416v1.6M382.6 416v1.6M386.1 416v1.6M388.9 416v1.6M391.4 416v1.6M393.5 416v1.6M395.3 416v1.6M213.3 405.7h2.2M213.3 399.7h2.2M213.3 395.4h2.2M213.3 392.1h2.2M213.3 389.4h2.2M213.3 387.1h2.2M213.3 385.2h2.2M213.3 383.4h2.2M213.3 371.6h2.2M213.3 365.6h2.2M213.3 361.3h2.2M213.3 358h2.2M213.3 355.3h2.2M213.3 353h2.2M213.3 351h2.2M213.3 349.3h2.2M213.3 337.4h2.2M213.3 331.4h2.2M213.3 327.2h2.2M213.3 323.9h2.2M213.3 321.2h2.2M213.3 318.9h2.2M213.3 316.9h2.2M213.3 315.1h2.2M213.3 303.3h2.2M213.3 297.3h2.2M213.3 293h2.2M213.3 289.7h2.2M213.3 287h2.2M213.3 284.7h2.2M213.3 282.7h2.2M213.3 281h2.2M213.3 269.2h2.2M213.3 263.2h2.2M213.3 258.9h2.2M213.3 255.6h2.2M213.3 252.9h2.2M213.3 250.6h2.2M213.3 248.6h2.2M213.3 246.9h2.2" stroke="#222" stroke-width="0.8" fill="none"/>
<path d="M211 416h4.5M211 381.9h4.5M211 347.7h4.5M211 313.6h4.5M211 279.4h4.5M211 245.3h4.5" stroke="#222" stroke-width="1.2" fill="none"/>
<path d="M214.8 416H397" stroke="#555" stroke-width="1.3" fill="none"/>
<path d="M215.5 244.8V416.8" stroke="#000" stroke-width="1.7" fill="none"/>
<text x="206.7" y="437" font-size="13.5">10<tspan font-size="9.2" dy="-6.2">0</tspan></text>
<text x="184" y="419.6" font-size="13.5">10<tspan font-size="9.2" dy="-6.2">0</tspan></text>
<text x="243" y="437" font-size="13.5">10<tspan font-size="9.2" dy="-6.2">1</tspan></text>
<text x="184" y="385.9" font-size="13.5">10<tspan font-size="9.2" dy="-6.2">1</tspan></text>
<text x="279.3" y="437" font-size="13.5">10<tspan font-size="9.2" dy="-6.2">2</tspan></text>
<text x="184" y="351.7" font-size="13.5">10<tspan font-size="9.2" dy="-6.2">2</tspan></text>
<text x="315.6" y="437" font-size="13.5">10<tspan font-size="9.2" dy="-6.2">3</tspan></text>
<text x="184" y="317.6" font-size="13.5">10<tspan font-size="9.2" dy="-6.2">3</tspan></text>
<text x="351.9" y="437" font-size="13.5">10<tspan font-size="9.2" dy="-6.2">4</tspan></text>
<text x="184" y="283.4" font-size="13.5">10<tspan font-size="9.2" dy="-6.2">4</tspan></text>
<text x="388.2" y="437" font-size="13.5">10<tspan font-size="9.2" dy="-6.2">5</tspan></text>
<text x="184" y="249.3" font-size="13.5">10<tspan font-size="9.2" dy="-6.2">5</tspan></text>
<path d="M264 348.5h1m109 38h1m-79 -121h1m5 13h1m-30 22h1m-51 78h1m3 -55h1m68 16h1m-1 -12h1m-27 11h1m-38 -29h1m-12 37h1m44 -50h1m-46 24h1m93 22h1m9 -8h1m66 14h1m-79 -51h1m-60 44h1m-12 -23h1m10 71h1m16 -95h1m45 78h1m-16 -69h1m-1 10h1m-16 83h1m16 -28h1m31 -17h1m-102 12h1" stroke="#e8d8d8" stroke-width="1" fill="none"/>
<ellipse cx="309" cy="306" rx="24" ry="18" transform="rotate(-70 309 306)" fill="#c85050" fill-opacity="0.2" filter="url(#ab2)" clip-path="url(#gL3)"/>
<ellipse cx="294" cy="350" rx="28.6" ry="5.9" transform="rotate(-55 294 350)" fill="#c87070" fill-opacity="0.1" filter="url(#ab2)" clip-path="url(#gL3)"/>
<ellipse cx="325" cy="310" rx="19.6" ry="9.8" transform="rotate(-80 325 310)" fill="#40b8d8" fill-opacity="0.2" filter="url(#ab2)" clip-path="url(#gR3)"/>
<g clip-path="url(#gL3)"><ellipse cx="309" cy="306" rx="19.2" ry="21" transform="rotate(-70 309 306)" fill="#c63a3a" fill-opacity="0.8" filter="url(#spkA)"/></g>
<g clip-path="url(#gR3)"><ellipse cx="325" cy="310" rx="16.1" ry="10.5" transform="rotate(-80 325 310)" fill="#38bfe4" fill-opacity="0.8" filter="url(#spkA)"/></g>
<path d="M315 328.5h1m-7 -15h1m-3 -18h1m1 10h1m-15 4h1m-5 9h1m22 -13h1m-12 -7h1m-25 10h1m18 -15h1m8 6h1m-4 49h1m-4 -47h1m2 15h1m-8 -10h1m18 16h1m-12 -14h1m10 -2h1m-2 12h1m-13 -13h1m9 25h1m-28 -28h1m10 -34h1m6 31h1m11 -19h1m-10 7h1m-11 10h1m11 4h1m-4 0h1m-9 14h1m19 30h1m-32 -36h1m4 25h1m21 -27h1m-7 -16h1m4 15h1m-29 12h1m10 -24h1m12 -4h1m-5 27h1m7 0h1m0 -8h1m-11 20h1m-6 -9h1m6 -25h1m-1 11h1m2 -7h1m0 40h1m1 -23h1m4 -23h1m-8 13h1m1 -11h1m1 21h1m-5 -29h1m3 13h1m-24 -10h1m9 -3h1" stroke="#e2b6b6" stroke-width="1" fill="none"/>
<path d="M296 295.5h1m0 -8h1m-5 -8h1m14 27h1m-8 32h1m1 -36h1m-2 21h1m7 -13h1m-21 4h1m0 12h1m12 -31h1m-11 13h1m-4 9h1m-1 21h1m-3 -40h1m14 13h1m-5 28h1m-15 -9h1m27 -12h1m-3 -51h1m-13 28h1m-4 10h1m15 -7h1m-20 13h1m20 6h1m-26 12h1m11 -60h1m9 65h1m-10 -7h1m-5 -16h1m8 3h1m8 -6h1m-5 -20h1m3 29h1m-6 -18h1m-40 12h1m27 -12h1m11 25h1m2 -23h1m-7 28h1m-16 -15h1m22 -17h1m-2 14h1m-4 -16h1m-7 21h1m-6 -32h1m10 29h1m-20 -7h1m11 -3h1m-3 14h1m3 -37h1m-9 -2h1m3 31h1m3 -30h1m3 29h1m1 -6h1m-16 -4h1m12 5h1m-8 22h1m3 -41h1m-8 27h1m13 3h1m-45 30h1m38 -54h1m0 4h1m-17 -6h1m5 -1h1m-1 17h1m8 16h1m-12 -35h1m-8 38h1m12 -4h1m0 -21h1m-9 12h1m-21 12h1m18 -1h1m9 -45h1m-3 55h1m-6 -31h1m8 -4h1m6 2h1m-16 27h1m4 -14h1m-1 -8h1m0 -11h1m1 26h1m-1 9h1m-6 -39h1m-19 21h1m28 -2h1m-12 -16h1m-27 3h1m6 23h1m5 -21h1m5 6h1m9 11h1m-3 -14h1m3 32h1m-12 -28h1m13 0h1m-11 -17h1m10 43h1m-11 1h1m2 -28h1m-2 -33h1m1 26h1m4 -1h1m-2 28h1m-6 9h1m-7 -40h1m5 -16h1m2 27h1m-6 -18h1m2 40h1m-3 5h1m3 -48h1m-11 13h1m-16 0h1m8 4h1m6 17h1m5 -21h1m-14 0h1m-9 24h1m20 -21h1m-16 12h1m19 1h1m3 -16h1m-28 33h1m18 -1h1m3 -5h1m-13 -3h1m-1 -4h1" stroke="#c44444" stroke-width="1" fill="none"/>
<path d="M319 297.5h1m0 17h1m-2 -11h1m2 3h1m-2 17h1m2 -11h1m-1 4h1m0 -46h1m-6 45h1m11 -7h1m-11 -21h1m-3 10h1m4 3h1m3 -7h1m0 3h1m-8 17h1m-5 -6h1m1 3h1m-3 28h1m8 -37h1m2 -15h1m-7 -6h1m-8 12h1m-1 10h1" stroke="#b4e2ee" stroke-width="1" fill="none"/>
<path d="M322 325.5h1m-5 -3h1m10 5h1m-10 -18h1m2 3h1m-2 -2h1m-2 -2h1m0 -14h1m-4 14h1m-1 -21h1m9 -10h1m-7 26h1m8 -21h1m-12 34h1m7 -10h1m-4 -22h1m-6 6h1m2 3h1m-5 5h1m-1 18h1m14 10h1m-9 -19h1m-8 -7h1m5 -6h1m1 19h1m-11 -6h1m1 17h1m6 -27h1m1 24h1m-7 -7h1m-3 -19h1m-4 -27h1m0 13h1m6 15h1m6 25h1m-1 -13h1m-14 -4h1m-2 9h1m14 -17h1m-17 7h1m23 8h1m-22 21h1m15 -13h1m-14 -15h1m2 1h1m-7 20h1m0 -59h1m-4 38h1m10 -15h1m-11 -5h1m0 18h1m-1 -4h1m2 -24h1m-6 19h1m15 12h1m-11 -2h1m19 -37h1m-16 35h1" stroke="#3cbde0" stroke-width="1" fill="none"/>
<path d="M293 350.5h1m9 -8h1m-3 -3h1m-14 3h1m11 17h1m5 -27h1m-1 -3h1m-26 47h1m30 -41h1m-20 0h1m13 -1h1m-16 2h1m-17 35h1m2 0h1m35 -55h1m-21 28h1m-24 28h1m24 -29h1m-9 13h1m-20 27h1m-11 5h1m10 -11h1m29 -29h1m-6 5h1m-7 1h1m9 -8h1m2 -6h1m-33 50h1m19 -34h1m-10 8h1m-8 6h1m11 -10h1m-3 -13h1m5 8h1m-28 13h1m19 -12h1m33 -44h1m-36 58h1m-1 18h1m14 -43h1m-6 -8h1m-9 37h1m14 -47h1m-16 38h1m-9 4h1m18 -1h1m-5 -16h1m11 -14h1m-6 -1h1m10 -1h1m-19 10h1" stroke="#e2b6b6" stroke-width="1" fill="none"/>
<path d="M303 332.5h1m-30 42h1m-5 2h1m29 -43h1m-24 42h1m17 -16h1m2 -4h1m-16 0h1m2 1h1m24 -31h1m-48 72h1m40 -63h1m-10 16h1m-1 2h1m-2 -21h1m20 -15h1m-36 57h1m18 -21h1m-7 3h1m3 -17h1m-6 7h1m9 -6h1m-16 18h1m1 8h1m-10 -6h1m9 -7h1m-9 -6h1m-2 27h1m31 -51h1m-26 28h1m-13 26h1m35 -42h1m-26 32h1m11 -25h1m-8 8h1" stroke="#c44444" stroke-width="1" fill="none"/>
<path d="M319 313.5h1" stroke="#b4e2ee" stroke-width="1" fill="none"/>
<path d="M323 309.5h1" stroke="#3cbde0" stroke-width="1" fill="none"/>
<path d="M317 294.5h1m-4 8h1m0 -2h1m-2 28h1m-3 -34h1m-3 4h1m3 10h1m-1 -23h1" stroke="#e2b6b6" stroke-width="1" fill="none"/>
<path d="M316 326.5h1m-5 -6h1m2 9h1m-1 -38h1m1 6h1m-7 11h1m5 -20h1m-1 29h1m-2 -17h1m-5 27h1m3 -10h1m-4 0h1m-2 11h1m-3 -6h1m2 2h1" stroke="#c44444" stroke-width="1" fill="none"/>
<path d="M330 312.5h1m-1 -15h1m1 10h1m-2 4h1m-6 3h1m4 -11h1m-2 -5h1m-10 11h1m14 8h1m-15 12h1m-1 -5h1m4 -24h1m-1 4h1m3 -16h1m-14 20h1m11 -9h1m-2 -7h1m-3 4h1m-5 22h1m2 -5h1m-9 -6h1m4 17h1m1 -21h1m2 -7h1m2 22h1m4 -34h1m-5 31h1m-10 -2h1m5 1h1m1 7h1m-8 -17h1m16 -15h1m-16 14h1m-2 10h1m-2 -2h1m2 11h1m4 -10h1m-3 -25h1m-10 12h1m12 1h1m-9 7h1m-4 0h1m9 -9h1m-10 22h1m-3 -18h1m8 -28h1m1 39h1" stroke="#b4e2ee" stroke-width="1" fill="none"/>
<path d="M322 313.5h1m0 6h1m-6 10h1m1 -37h1m-3 16h1m4 -3h1m3 -21h1m11 -7h1m-16 45h1m1 -27h1m2 7h1m-5 2h1m6 0h1m-3 -11h1m-13 3h1m4 7h1m1 2h1m5 -19h1m-7 17h1m6 9h1m-15 9h1m10 -5h1m-11 8h1m4 -16h1m-7 -3h1m1 33h1m12 -36h1m-13 5h1m2 16h1m2 -31h1m8 35h1m-14 -17h1m14 -12h1m0 11h1m-11 19h1m5 -7h1m-3 -7h1m-14 20h1m8 -25h1m9 -6h1m-13 9h1m-6 -9h1m3 16h1m1 -25h1m1 2h1m-9 20h1m-1 -2h1m4 -25h1m2 15h1m-2 13h1m1 5h1m-3 2h1m-8 6h1m6 -23h1m11 7h1m-20 1h1m1 -26h1m7 28h1m-5 4h1m-4 -29h1m6 14h1m-1 30h1m-6 -26h1m16 -19h1m-17 10h1m0 -9h1m-3 19h1m3 -15h1m5 32h1m-8 -8h1m-1 -26h1m7 -1h1m-13 13h1m-4 18h1m1 -12h1m1 8h1m3 -30h1m-3 16h1m-6 -3h1m5 13h1m-9 22h1m1 -17h1m-2 -17h1m2 5h1" stroke="#3cbde0" stroke-width="1" fill="none"/>
<g clip-path="url(#gL3)">
<polygon points="297.8,298.4 303.2,290.4 311.2,287.1 317.9,285.7 317.9,319.8 308.5,322.5 300.5,319.8 295.8,311.8" fill="#f23131" filter="url(#spkB)"/>
</g>
<g clip-path="url(#gR3)">
<polygon points="317.9,285.7 325.9,286.4 332.6,293.1 333.2,303.8 328.5,311.8 321.9,314.5 317.9,314.5" fill="#2ec4ec" filter="url(#spkB)"/>
</g>
<line x1="314.3" y1="275.6" x2="376.7" y2="275.6" stroke="#111" stroke-width="1.8"/>
<text x="376.7" y="271.8" font-size="16" text-anchor="end" fill="#000">19.90%</text>
<path d="M452.6 250.3H632.8V417.7" stroke="#8a8a8a" stroke-width="1" fill="none"/>
<path d="M452.6 417.7v3M488.6 417.7v3M524.7 417.7v3M560.7 417.7v3M596.8 417.7v3M632.8 417.7v3" stroke="#222" stroke-width="1" fill="none"/>
<path d="M463.4 417.7v1.6M469.8 417.7v1.6M474.3 417.7v1.6M477.8 417.7v1.6M480.6 417.7v1.6M483.1 417.7v1.6M485.1 417.7v1.6M487 417.7v1.6M499.5 417.7v1.6M505.8 417.7v1.6M510.3 417.7v1.6M513.8 417.7v1.6M516.7 417.7v1.6M519.1 417.7v1.6M521.2 417.7v1.6M523 417.7v1.6M535.5 417.7v1.6M541.9 417.7v1.6M546.4 417.7v1.6M549.9 417.7v1.6M552.7 417.7v1.6M555.1 417.7v1.6M557.2 417.7v1.6M559.1 417.7v1.6M571.6 417.7v1.6M577.9 417.7v1.6M582.4 417.7v1.6M585.9 417.7v1.6M588.8 417.7v1.6M591.2 417.7v1.6M593.3 417.7v1.6M595.1 417.7v1.6M607.6 417.7v1.6M614 417.7v1.6M618.5 417.7v1.6M622 417.7v1.6M624.8 417.7v1.6M627.2 417.7v1.6M629.3 417.7v1.6M631.2 417.7v1.6M450.4 407.6h2.2M450.4 401.7h2.2M450.4 397.5h2.2M450.4 394.3h2.2M450.4 391.6h2.2M450.4 389.4h2.2M450.4 387.5h2.2M450.4 385.8h2.2M450.4 374.1h2.2M450.4 368.2h2.2M450.4 364.1h2.2M450.4 360.8h2.2M450.4 358.2h2.2M450.4 355.9h2.2M450.4 354h2.2M450.4 352.3h2.2M450.4 340.7h2.2M450.4 334.8h2.2M450.4 330.6h2.2M450.4 327.3h2.2M450.4 324.7h2.2M450.4 322.4h2.2M450.4 320.5h2.2M450.4 318.8h2.2M450.4 307.2h2.2M450.4 301.3h2.2M450.4 297.1h2.2M450.4 293.9h2.2M450.4 291.2h2.2M450.4 289h2.2M450.4 287h2.2M450.4 285.3h2.2M450.4 273.7h2.2M450.4 267.8h2.2M450.4 263.6h2.2M450.4 260.4h2.2M450.4 257.7h2.2M450.4 255.5h2.2M450.4 253.5h2.2M450.4 251.8h2.2" stroke="#222" stroke-width="0.8" fill="none"/>
<path d="M448.1 417.7h4.5M448.1 384.2h4.5M448.1 350.7h4.5M448.1 317.3h4.5M448.1 283.8h4.5M448.1 250.3h4.5" stroke="#222" stroke-width="1.2" fill="none"/>
<path d="M451.9 417.7H632.8" stroke="#555" stroke-width="1.3" fill="none"/>
<path d="M452.6 249.8V418.4" stroke="#000" stroke-width="1.7" fill="none"/>
<text x="443.8" y="437" font-size="13.5">10<tspan font-size="9.2" dy="-6.2">0</tspan></text>
<text x="421.1" y="421.4" font-size="13.5">10<tspan font-size="9.2" dy="-6.2">0</tspan></text>
<text x="479.8" y="437" font-size="13.5">10<tspan font-size="9.2" dy="-6.2">1</tspan></text>
<text x="421.1" y="388.2" font-size="13.5">10<tspan font-size="9.2" dy="-6.2">1</tspan></text>
<text x="515.9" y="437" font-size="13.5">10<tspan font-size="9.2" dy="-6.2">2</tspan></text>
<text x="421.1" y="354.7" font-size="13.5">10<tspan font-size="9.2" dy="-6.2">2</tspan></text>
<text x="551.9" y="437" font-size="13.5">10<tspan font-size="9.2" dy="-6.2">3</tspan></text>
<text x="421.1" y="321.3" font-size="13.5">10<tspan font-size="9.2" dy="-6.2">3</tspan></text>
<text x="588" y="437" font-size="13.5">10<tspan font-size="9.2" dy="-6.2">4</tspan></text>
<text x="421.1" y="287.8" font-size="13.5">10<tspan font-size="9.2" dy="-6.2">4</tspan></text>
<text x="624" y="437" font-size="13.5">10<tspan font-size="9.2" dy="-6.2">5</tspan></text>
<text x="421.1" y="254.3" font-size="13.5">10<tspan font-size="9.2" dy="-6.2">5</tspan></text>
<path d="M544 392.5h1m18 -32h1m-21 -17h1m44 17h1m-17 7h1m-49 11h1m-15 -57h1m45 31h1m-14 -7h1m-22 44h1m-50 -14h1m-13 -32h1m75 47h1m14 10h1m0 -37h1m-74 -61h1m80 40h1m-56 -50h1m32 63h1m0 7h1m-44 44h1m6 -33h1m-12 -36h1m-32 -16h1m77 1h1m-14 28h1m29 8h1m-21 -13h1m-35 -22h1m33 9h1m-27 -2h1m34 14h1m-11 37h1m-47 -21h1m34 28h1m1 -78h1m28 49h1m28 -104h1m-74 109h1m0 31h1m6 -97h1m-11 58h1m24 -10h1m10 19h1m-35 -18h1m-22 24h1m60 -1h1m-81 -35h1m41 -1h1m78 -15h1m-67 25h1m13 63h1m-22 -78h1m-37 33h1m39 -1h1m14 48h1m-51 -36h1m47 6h1m31 -28h1m-8 57h1m-93 -60h1m20 -3h1m-23 50h1m92 -20h1m-17 9h1m3 -70h1m-67 50h1m44 3h1m-35 -51h1m34 59h1m17 -31h1m-16 40h1" stroke="#e8d8d8" stroke-width="1" fill="none"/>
<ellipse cx="546" cy="335" rx="48" ry="19.5" transform="rotate(-85 546 335)" fill="#c85050" fill-opacity="0.2" filter="url(#ab2)" clip-path="url(#gL4)"/>
<ellipse cx="514" cy="385" rx="28.6" ry="11.7" transform="rotate(-35 514 385)" fill="#c87070" fill-opacity="0.1" filter="url(#ab2)" clip-path="url(#gL4)"/>
<ellipse cx="570" cy="335" rx="36.4" ry="9.8" transform="rotate(-85 570 335)" fill="#40b8d8" fill-opacity="0.2" filter="url(#ab2)" clip-path="url(#gR4)"/>
<g clip-path="url(#gL4)"><ellipse cx="546" cy="335" rx="38.4" ry="22.8" transform="rotate(-85 546 335)" fill="#c63a3a" fill-opacity="0.8" filter="url(#spkA)"/></g>
<g clip-path="url(#gR4)"><ellipse cx="570" cy="335" rx="29.9" ry="10.5" transform="rotate(-85 570 335)" fill="#38bfe4" fill-opacity="0.8" filter="url(#spkA)"/></g>
<path d="M528 271.5h1m11 34h1m5 -6h1m-36 76h1m44 -4h1m-20 -71h1m15 42h1m-9 1h1m0 -19h1m-24 49h1m29 -38h1m-16 21h1m14 -37h1m-15 38h1m14 -58h1m-20 6h1m14 14h1m-11 -5h1m12 -5h1m-20 22h1m8 13h1m-15 34h1m26 -22h1m-27 7h1m12 -75h1m0 75h1m5 -94h1m-15 64h1m10 31h1m-4 -61h1m4 -22h1m5 5h1m-28 56h1m26 -54h1m-9 59h1m1 39h1m4 -66h1m-21 -16h1m20 -36h1m-3 75h1m-21 18h1m2 -18h1m-2 -15h1m4 7h1m-2 -25h1m19 45h1m-31 39h1m25 -20h1m-13 -37h1m9 -32h1m-18 13h1m19 6h1m-6 32h1m-6 -24h1m-7 29h1m-22 8h1m37 -70h1m-15 66h1m-12 -66h1m22 29h1m4 -20h1m-18 5h1m-2 -3h1m3 54h1m-3 -7h1m-13 -44h1m6 -28h1m13 -24h1m-8 64h1m-9 3h1m13 -25h1m2 32h1m-4 3h1m-4 -35h1m1 67h1m-10 -52h1m13 63h1m-2 -80h1m0 68h1m-24 16h1m17 -35h1m-8 -53h1m14 65h1m-15 -29h1m0 76h1m7 -83h1m-15 -5h1m0 49h1m8 -53h1m-18 42h1m7 8h1m-2 -33h1m-6 22h1m18 -94h1m-9 123h1m-3 -74h1m10 -7h1m-20 94h1m-10 -9h1m9 -73h1m12 35h1m-1 -52h1m-22 69h1m20 -39h1m-16 35h1m13 -36h1m-29 49h1m10 -99h1m8 22h1m4 8h1m9 66h1m-19 -27h1m5 5h1m-2 -4h1m6 23h1m-3 -50h1m1 7h1m-7 -5h1m-18 27h1m18 -57h1m10 45h1m-16 -34h1m-2 40h1m12 0h1m-14 12h1m16 -41h1m-3 45h1m-27 -44h1m-5 71h1m4 -73h1" stroke="#e2b6b6" stroke-width="1" fill="none"/>
<path d="M547 358.5h1m0 -34h1m7 0h1m-7 -27h1m-10 4h1m3 52h1m-13 -14h1m-6 36h1m18 -94h1m-4 40h1m6 -30h1m-11 54h1m13 57h1m-10 -116h1m-3 46h1m13 0h1m-40 -1h1m39 -12h1m-21 66h1m15 -32h1m-5 -47h1m-10 39h1m-16 48h1m9 -64h1m-5 -12h1m5 20h1m9 38h1m-20 -16h1m19 17h1m4 -47h1m-27 -22h1m9 -6h1m2 57h1m-5 -31h1m-2 -11h1m10 24h1m-3 -12h1m11 -20h1m-31 39h1m11 -14h1m11 58h1m-6 -55h1m4 -68h1m-10 28h1m1 17h1m3 42h1m-10 -15h1m3 -25h1m-8 51h1m12 27h1m-10 -26h1m-5 21h1m-4 -10h1m22 -78h1m-14 41h1m-2 -47h1m2 57h1m12 -27h1m-13 11h1m-20 -16h1m0 60h1m4 -20h1m15 -43h1m-11 30h1m0 -7h1m2 -35h1m9 -14h1m-29 19h1m4 -16h1m15 55h1m11 -2h1m-39 -23h1m31 22h1m-24 5h1m-4 -70h1m30 63h1m-19 23h1m12 -46h1m-9 -44h1m-3 56h1m-19 -38h1m12 54h1m-9 8h1m19 -16h1m6 -63h1m-43 92h1m34 -1h1m-5 -26h1m-13 -17h1m17 64h1m2 -65h1m-7 44h1m10 -25h1m-16 -14h1m-33 40h1m22 -20h1m-4 26h1m12 -32h1m-12 13h1m12 -5h1m1 -57h1m-6 72h1m3 27h1m-14 -22h1m11 -10h1m-8 -5h1m-4 -70h1m8 7h1m-5 57h1m-11 11h1m11 -63h1m9 84h1m-13 -5h1m5 -14h1m-16 28h1m3 -124h1m9 60h1m-29 27h1m18 -54h1m-18 100h1m23 -66h1m-9 0h1m-3 -21h1m17 49h1m-5 -27h1m-5 -31h1m5 20h1m-28 20h1m-7 -21h1m28 10h1m-22 -46h1m28 26h1m0 31h1m-22 -33h1m17 0h1m-41 51h1m22 36h1m3 -27h1m-18 -4h1m25 -17h1m-2 -22h1m-15 7h1m-2 2h1m18 16h1m-4 -70h1m-6 18h1m-5 78h1m-20 -21h1m28 -41h1m1 42h1m1 -52h1m2 20h1m-14 -8h1m9 44h1m-9 11h1m-9 -24h1m1 -50h1m14 41h1m-24 19h1m-15 15h1m34 -57h1m-15 -16h1m1 -1h1m0 67h1m8 -11h1m-2 -27h1m-14 -20h1m-12 -11h1m19 68h1m-19 -18h1m6 18h1m0 -27h1m2 41h1m-24 -49h1m28 -6h1m-8 15h1m13 5h1m2 -10h1m-14 45h1m-2 -48h1m11 30h1m-32 -16h1m29 -18h1m-15 58h1m19 -1h1m-22 -42h1m1 -25h1m10 5h1m-28 -20h1m24 -11h1m-6 26h1m14 18h1m-8 29h1m0 -39h1m-17 0h1m-8 0h1m24 -1h1m-2 0h1m4 28h1m-28 13h1m12 -45h1m-16 25h1m17 -85h1m-12 97h1m-8 -18h1m19 -14h1m-5 45h1m-9 -41h1m7 -54h1m5 29h1m-5 9h1m6 2h1m-19 -14h1m8 37h1m-26 6h1m3 -23h1m28 -9h1m-23 -19h1m13 -35h1m-11 84h1m21 19h1m-13 4h1m8 -55h1m3 41h1m-6 -48h1m-15 95h1m7 -74h1m0 55h1m3 -79h1m-32 80h1m13 -67h1m-4 19h1m14 39h1m-11 -56h1m1 5h1m11 -10h1m-3 -59h1m-2 69h1m-13 -38h1m-48 89h1m43 -2h1m9 -24h1m13 10h1m-24 -45h1m-10 34h1m7 -32h1m21 -4h1m-6 60h1m-11 -42h1m1 -44h1m1 12h1m-5 65h1m12 -29h1m-15 29h1m3 2h1m-15 -59h1m-1 17h1m24 -16h1m-5 35h1m-27 40h1m2 -103h1m27 15h1m-12 29h1m-13 -9h1m5 11h1m14 -32h1m-43 89h1m30 -73h1m4 36h1m-10 51h1m14 -35h1m2 -38h1m0 28h1m-17 -36h1m-4 -11h1m9 46h1m-18 31h1m3 -27h1m4 -53h1m-14 101h1m15 -6h1m14 -13h1m-8 -30h1m-14 -17h1m16 4h1m-25 36h1m4 0h1m16 37h1m-2 -70h1m-10 -53h1m1 74h1m-3 -66h1m-13 67h1m24 -35h1m-19 -29h1m16 -8h1m-4 56h1m-18 34h1" stroke="#c44444" stroke-width="1" fill="none"/>
<path d="M560 311.5h1m7 11h1m-6 -16h1m1 40h1m5 8h1m-3 -38h1m8 -24h1m-9 91h1m-7 -102h1m23 35h1m-19 38h1m-2 -8h1m-7 -92h1m2 98h1m-4 -34h1m-3 58h1m5 -85h1m-5 26h1m-4 47h1m0 -57h1m3 -26h1m2 11h1m-3 78h1m-4 -61h1m3 43h1m-4 -28h1m4 7h1m-5 26h1m-2 -6h1m-2 5h1m-2 -2h1" stroke="#b4e2ee" stroke-width="1" fill="none"/>
<path d="M561 316.5h1m13 -13h1m-11 49h1m-2 -71h1m-2 72h1m4 -84h1m-3 29h1m5 38h1m-7 -29h1m-5 22h1m5 -29h1m2 -5h1m-2 46h1m-9 -57h1m0 26h1m12 7h1m-10 -63h1m1 51h1m-6 13h1m3 6h1m-6 27h1m1 -44h1m5 24h1m5 5h1m-6 -70h1m-13 83h1m9 -18h1m-2 85h1m3 -108h1m5 -9h1m1 27h1m-3 -63h1m-9 29h1m0 5h1m-1 23h1m-13 19h1m4 31h1m12 -32h1m-18 3h1m10 -24h1m-1 27h1m-6 -10h1m-6 67h1m3 -107h1m-2 34h1m-3 -35h1m-2 63h1m0 -12h1m-3 -73h1m1 48h1m-2 -6h1m4 34h1m-6 -67h1m1 32h1m0 13h1m1 -11h1m-1 4h1m-2 24h1m-4 -64h1m1 5h1m-2 52h1m2 -36h1m-5 51h1m-3 -15h1m12 -7h1m-1 -18h1m-15 41h1m2 -30h1m10 16h1m-10 -28h1" stroke="#3cbde0" stroke-width="1" fill="none"/>
<path d="M529 365.5h1m14 33h1m-44 -7h1m18 9h1m-10 -15h1m-19 24h1m1 -12h1m28 -34h1m5 9h1m-12 11h1m0 18h1m-1 -27h1m1 5h1m15 -5h1m-29 22h1m-18 -31h1m17 27h1m45 -17h1m-23 5h1m-38 20h1m10 -7h1m-9 2h1m17 -2h1m-6 -14h1m42 -19h1m-22 19h1m-14 4h1m-28 5h1m11 -4h1m-3 10h1m7 -9h1m15 -14h1m-56 19h1m64 -17h1m-37 14h1m32 -26h1m-12 26h1m8 -19h1m-13 9h1m11 -2h1m-25 6h1m-19 7h1m26 -19h1m6 9h1m22 -21h1m-86 36h1m49 3h1m15 -26h1m-46 25h1m21 -8h1m39 -33h1m-11 12h1m-45 25h1m38 -33h1m2 14h1m-11 2h1m-6 7h1m-2 4h1m-23 12h1m11 3h1m12 -29h1m-17 0h1m30 -22h1m-38 31h1m-2 -2h1m21 9h1m-18 -16h1m-2 33h1m31 -44h1m-37 32h1m26 -15h1m-15 18h1m-24 2h1m50 -26h1m-79 38h1m28 -22h1m35 3h1m-19 4h1m18 -16h1m-12 17h1m-8 4h1m40 -42h1m-42 33h1m7 9h1m-23 4h1m-1 -12h1m34 -5h1m-4 -1h1m-25 -11h1m-12 10h1m39 5h1m-29 -2h1m8 10h1m-16 1h1m18 -11h1m-21 3h1m12 24h1m45 -35h1m-26 6h1m-4 -22h1m-16 23h1m24 0h1m-16 -14h1m6 -7h1m25 -8h1m-43 22h1m-10 -2h1m-22 22h1m40 -19h1m-20 19h1m24 -30h1m5 2h1m-32 21h1m26 -32h1m7 -1h1m-26 14h1m-15 36h1m33 -47h1m-25 29h1m-4 5h1m8 -6h1m-23 -7h1m33 -3h1m9 -2h1m-19 0h1m-23 20h1m0 -23h1m33 10h1m-22 19h1m-7 -16h1m-8 3h1m27 -26h1m-15 -5h1m-3 28h1m-3 4h1m17 1h1m-4 -20h1m-6 -4h1m-14 22h1m5 -20h1m12 3h1m-10 -10h1m-18 40h1m-1 -5h1m14 0h1m7 -3h1m2 -25h1m-9 0h1m-20 1h1m12 13h1m31 -20h1m-39 36h1m4 -27h1m25 -12h1m-18 23h1m-50 21h1m43 -30h1m-2 28h1m-10 -23h1m23 -10h1m-9 11h1m-14 9h1m9 -30h1m-8 7h1m-9 2h1m18 20h1m-23 -7h1m8 17h1m5 -10h1m-13 20h1m-25 -23h1m49 -26h1m-26 24h1m4 -1h1m1 6h1m1 -2h1m-6 -8h1m7 9h1m-27 -3h1m39 -9h1m-28 23h1m19 -38h1m-47 48h1m11 -16h1m41 -18h1m-12 27h1m-25 -14h1m-10 1h1m32 5h1m-20 -7h1m-5 2h1m35 -7h1m-43 6h1m56 -14h1m-46 21h1m30 -37h1m-22 32h1m-20 -2h1m5 22h1m40 -34h1m-31 12h1m34 -22h1m-41 18h1m15 -16h1m-22 15h1m6 5h1m37 -14h1m-41 13h1m9 -15h1m-15 23h1m23 -37h1m13 31h1m-24 2h1m1 -18h1m9 15h1m-28 -6h1m3 4h1m20 -3h1m-32 16h1m15 -18h1m6 -1h1m-28 -7h1m8 18h1m27 -9h1m-37 4h1m38 -30h1m-25 10h1m-22 45h1m20 -36h1m15 -13h1m-19 26h1m31 10h1m-17 -15h1m-26 -9h1m13 30h1m-3 -13h1m1 -10h1m6 -8h1m-9 -6h1m4 34h1m-4 -18h1m1 -10h1m-26 41h1m-3 -34h1m13 -3h1m1 6h1m16 23h1m-25 -10h1m24 -24h1m-4 11h1m-37 22h1m13 -44h1m-5 39h1m54 -31h1m-46 19h1m3 3h1m7 -6h1m-7 2h1m-3 -8h1m31 -16h1m-17 27h1m4 -16h1m1 -8h1m-34 34h1m39 -46h1m-17 15h1" stroke="#e2b6b6" stroke-width="1" fill="none"/>
<path d="M537 380.5h1m-41 13h1m21 -33h1m-6 8h1m-10 24h1m45 -43h1m-24 34h1m-12 15h1m-3 -20h1m13 -7h1m2 -4h1m-8 11h1m9 -11h1m7 3h1m-54 27h1m10 -12h1m-4 12h1m13 -19h1m37 2h1m-21 2h1m-43 5h1m11 -12h1m31 -5h1m-14 25h1m-2 -17h1m-41 24h1m57 -16h1m-19 -10h1m3 -2h1m-29 20h1m11 9h1m-6 -15h1m25 5h1m-20 -20h1m7 9h1m36 -11h1m-23 -13h1m-37 27h1m10 13h1m27 -51h1m-21 49h1m23 -31h1m-2 -9h1m-22 52h1m-13 -27h1m11 3h1m-18 12h1m2 9h1m2 -18h1m29 -5h1m-25 16h1m1 -7h1m-2 9h1m-31 -10h1m65 -14h1m-45 19h1m19 -17h1m-40 19h1m35 -26h1m16 0h1m-38 27h1m16 -16h1m-29 11h1m29 -20h1m-2 14h1m9 10h1m-2 -45h1m-11 20h1m18 -6h1m-14 8h1m-30 30h1m28 -15h1m0 -8h1m-37 24h1m52 -32h1m-20 22h1m-1 -13h1m-29 10h1m22 -5h1m1 -6h1m-2 23h1m-3 -19h1m-41 27h1m67 -35h1m-43 35h1m-31 -3h1m27 -6h1m-5 -11h1m28 -11h1m-6 3h1m-17 24h1m49 -50h1m-30 22h1m19 -25h1m-49 46h1m29 -22h1m-36 11h1m25 -21h1m3 2h1m-44 26h1m10 -1h1m-3 -2h1m-7 3h1m15 -6h1m-3 5h1m-10 6h1m15 -36h1m-13 37h1m13 -8h1m8 -10h1m-7 1h1m-3 16h1m31 -13h1m-12 -17h1m6 16h1m13 -29h1m-10 -5h1m-43 24h1m11 6h1m27 -10h1m-33 30h1m18 -18h1m-11 -2h1m-4 25h1m-3 -22h1m-25 18h1m14 -18h1m-22 26h1m74 -58h1m-11 16h1m-7 2h1m-11 21h1m2 -23h1m-4 -14h1m-27 47h1m10 -35h1m-7 28h1m-16 2h1m33 -12h1m0 -23h1m-40 38h1m55 -40h1m-8 1h1m-32 27h1m0 4h1m1 -12h1m23 -6h1m-28 13h1m-10 15h1m29 -12h1m-49 24h1m54 -46h1m-23 2h1m23 16h1m-16 -10h1m16 14h1m-18 -1h1m-21 8h1m19 5h1m-1 -4h1m13 -32h1m6 -4h1m-22 17h1m-18 19h1m-16 -22h1m20 11h1m31 -15h1m-33 -6h1m-2 13h1m-9 16h1m21 -32h1m-7 15h1m-4 2h1m34 -11h1m-45 9h1m37 -17h1m-3 14h1m-24 13h1m5 -23h1m-12 22h1m-16 6h1m6 -11h1m24 6h1m-21 -10h1m7 -9h1" stroke="#c44444" stroke-width="1" fill="none"/>
<path d="M568 350.5h1" stroke="#3cbde0" stroke-width="1" fill="none"/>
<path d="M558 311.5h1m-3 4h1m3 30h1m-2 21h1m-1 26h1m-4 -8h1m1 -2h1m-2 -31h1m1 14h1m-3 -32h1" stroke="#e2b6b6" stroke-width="1" fill="none"/>
<path d="M558 343.5h1m-1 -61h1m1 61h1m-4 5h1m-3 -8h1m2 45h1m1 -4h1m-5 -31h1m3 -12h1m-3 17h1m-9 -14h1m8 -9h1m-1 -19h1m-8 64h1m-4 13h1m10 -66h1m-10 50h1m7 -74h1m-4 61h1" stroke="#c44444" stroke-width="1" fill="none"/>
<path d="M584 294.5h1m-18 31h1m3 -10h1m2 -21h1m-3 49h1m3 -53h1m-11 -1h1m0 25h1m13 -26h1m-21 24h1m15 47h1m-11 -54h1m1 21h1m-8 -2h1m4 7h1m-3 -32h1m5 22h1m-11 31h1m6 -30h1m4 32h1m-9 -9h1m1 6h1m6 -25h1m-6 -18h1m14 -21h1m-3 18h1m-16 3h1m15 -2h1m-22 -7h1m8 46h1m-3 -28h1m0 10h1m-5 11h1m3 9h1m0 1h1m-2 -6h1m-8 -21h1m-3 14h1m5 -3h1m4 -6h1m10 -9h1m-20 33h1m-2 -13h1m5 40h1m2 -82h1m-5 28h1m16 -25h1m-14 49h1m3 -54h1m-7 -6h1m7 24h1m-1 -37h1m-1 45h1m-11 35h1m1 -33h1m-9 25h1m-2 22h1m3 0h1m7 -93h1m-7 74h1m1 -14h1m17 -2h1m-18 8h1m-5 4h1m7 27h1m-10 -18h1m-2 -27h1m12 -46h1m7 28h1m-10 -21h1m2 35h1m-15 13h1m6 33h1m-9 21h1m9 -47h1m2 -50h1m0 34h1m-10 -22h1m-2 65h1m6 -25h1m-6 -42h1m7 51h1m-18 -17h1m20 8h1m-6 22h1m-1 -34h1" stroke="#b4e2ee" stroke-width="1" fill="none"/>
<path d="M564 324.5h1m8 1h1m-6 41h1m-5 -29h1m0 42h1m4 -69h1m-2 51h1m-9 -20h1m12 5h1m-6 16h1m1 18h1m-3 -91h1m-3 38h1m16 2h1m-12 -49h1m5 58h1m-3 -18h1m-14 13h1m13 -29h1m-11 17h1m4 5h1m-3 1h1m8 -22h1m-8 84h1m2 -51h1m-9 7h1m0 -3h1m0 -27h1m-4 41h1m-1 -16h1m1 7h1m-6 30h1m-2 -32h1m7 14h1m9 -16h1m-7 -8h1m-8 -2h1m18 6h1m-10 -60h1m-12 44h1m3 43h1m4 -15h1m-7 -1h1m-7 -59h1m13 43h1m-3 7h1m-6 -1h1m8 -41h1m-11 23h1m10 -16h1m-19 109h1m-1 -90h1m7 -18h1m4 -24h1m-5 96h1m-9 -61h1m-1 62h1m3 -30h1m4 -47h1m3 13h1m-7 46h1m0 -93h1m-5 95h1m9 -27h1m-8 35h1m6 -72h1m-8 22h1m-1 -11h1m-3 21h1m4 4h1m-5 -7h1m4 55h1m16 -74h1m-21 0h1m7 35h1m-5 -10h1m2 -8h1m-11 -34h1m9 30h1m-8 24h1m2 27h1m4 -24h1m-14 -18h1m-3 -1h1m3 -9h1m-1 5h1m2 -10h1m-1 18h1m4 -13h1m8 -20h1m-22 65h1m3 -55h1m-1 21h1m9 -27h1m-9 27h1m-1 25h1m8 -51h1m-10 22h1m1 2h1m0 1h1m-7 -25h1m10 6h1m-12 14h1m2 47h1m-6 -30h1m3 -13h1m1 -44h1m5 37h1m-4 13h1m3 -34h1m-11 33h1m-5 -2h1m-3 -5h1m6 44h1m1 -64h1m9 15h1m2 18h1m-12 22h1m0 -36h1m8 -30h1m-4 53h1m-18 10h1m12 -38h1m0 53h1m-8 -24h1m-7 -12h1m8 8h1m5 -8h1m-3 10h1m-9 -5h1m6 -27h1m-15 -10h1m19 3h1m-20 48h1m-2 -18h1m4 -13h1m8 -31h1m-8 29h1m-8 23h1m9 -20h1m-2 14h1m-1 10h1m3 -32h1m0 25h1m-7 24h1m8 -19h1m-14 -15h1m11 26h1m-13 -75h1m6 23h1m-3 48h1m-11 -29h1m9 -26h1m-7 35h1m6 27h1m-11 -35h1" stroke="#3cbde0" stroke-width="1" fill="none"/>
<g clip-path="url(#gL4)">
<polygon points="542.2,300.1 548.9,293.4 560.2,292.1 560.2,368.2 551.5,368.2 540.8,362.9 539.5,334.8" fill="#f23131" filter="url(#spkB)"/>
</g>
<g clip-path="url(#gR4)">
<polygon points="560.2,292.1 566.2,295.8 572.9,312.1 574.2,328.1 570.2,352.2 564.9,368.2 560.2,368.2" fill="#2ec4ec" filter="url(#spkB)"/>
</g>
<line x1="554.9" y1="275.9" x2="617.2" y2="275.9" stroke="#111" stroke-width="1.8"/>
<text x="619.2" y="271.5" font-size="16" text-anchor="end" fill="#000">29.70%</text>
<path d="M855.7 39.4H1035.9V208.6" stroke="#8a8a8a" stroke-width="1" fill="none"/>
<path d="M855.7 208.6v3M891.7 208.6v3M927.8 208.6v3M963.8 208.6v3M999.9 208.6v3M1035.9 208.6v3" stroke="#222" stroke-width="1" fill="none"/>
<path d="M866.5 208.6v1.6M872.9 208.6v1.6M877.4 208.6v1.6M880.9 208.6v1.6M883.7 208.6v1.6M886.2 208.6v1.6M888.2 208.6v1.6M890.1 208.6v1.6M902.6 208.6v1.6M908.9 208.6v1.6M913.4 208.6v1.6M916.9 208.6v1.6M919.8 208.6v1.6M922.2 208.6v1.6M924.3 208.6v1.6M926.1 208.6v1.6M938.6 208.6v1.6M945 208.6v1.6M949.5 208.6v1.6M953 208.6v1.6M955.8 208.6v1.6M958.2 208.6v1.6M960.3 208.6v1.6M962.2 208.6v1.6M974.7 208.6v1.6M981 208.6v1.6M985.5 208.6v1.6M989 208.6v1.6M991.9 208.6v1.6M994.3 208.6v1.6M996.4 208.6v1.6M998.2 208.6v1.6M1010.7 208.6v1.6M1017.1 208.6v1.6M1021.6 208.6v1.6M1025.1 208.6v1.6M1027.9 208.6v1.6M1030.3 208.6v1.6M1032.4 208.6v1.6M1034.3 208.6v1.6M853.5 198.4h2.2M853.5 192.5h2.2M853.5 188.2h2.2M853.5 184.9h2.2M853.5 182.3h2.2M853.5 180h2.2M853.5 178h2.2M853.5 176.3h2.2M853.5 164.6h2.2M853.5 158.6h2.2M853.5 154.4h2.2M853.5 151.1h2.2M853.5 148.4h2.2M853.5 146.2h2.2M853.5 144.2h2.2M853.5 142.5h2.2M853.5 130.7h2.2M853.5 124.8h2.2M853.5 120.5h2.2M853.5 117.3h2.2M853.5 114.6h2.2M853.5 112.3h2.2M853.5 110.4h2.2M853.5 108.6h2.2M853.5 96.9h2.2M853.5 90.9h2.2M853.5 86.7h2.2M853.5 83.4h2.2M853.5 80.7h2.2M853.5 78.5h2.2M853.5 76.5h2.2M853.5 74.8h2.2M853.5 63.1h2.2M853.5 57.1h2.2M853.5 52.9h2.2M853.5 49.6h2.2M853.5 46.9h2.2M853.5 44.6h2.2M853.5 42.7h2.2M853.5 40.9h2.2" stroke="#222" stroke-width="0.8" fill="none"/>
<path d="M851.2 208.6h4.5M851.2 174.8h4.5M851.2 140.9h4.5M851.2 107.1h4.5M851.2 73.2h4.5M851.2 39.4h4.5" stroke="#222" stroke-width="1.2" fill="none"/>
<path d="M855 208.6H1035.9" stroke="#555" stroke-width="1.3" fill="none"/>
<path d="M855.7 38.9V209.3" stroke="#000" stroke-width="1.7" fill="none"/>
<text x="846.9" y="230" font-size="13.5">10<tspan font-size="9.2" dy="-6.2">0</tspan></text>
<text x="824.2" y="213.3" font-size="13.5">10<tspan font-size="9.2" dy="-6.2">0</tspan></text>
<text x="882.9" y="230" font-size="13.5">10<tspan font-size="9.2" dy="-6.2">1</tspan></text>
<text x="824.2" y="178.8" font-size="13.5">10<tspan font-size="9.2" dy="-6.2">1</tspan></text>
<text x="919" y="230" font-size="13.5">10<tspan font-size="9.2" dy="-6.2">2</tspan></text>
<text x="824.2" y="144.9" font-size="13.5">10<tspan font-size="9.2" dy="-6.2">2</tspan></text>
<text x="955" y="230" font-size="13.5">10<tspan font-size="9.2" dy="-6.2">3</tspan></text>
<text x="824.2" y="111.1" font-size="13.5">10<tspan font-size="9.2" dy="-6.2">3</tspan></text>
<text x="991.1" y="230" font-size="13.5">10<tspan font-size="9.2" dy="-6.2">4</tspan></text>
<text x="824.2" y="77.2" font-size="13.5">10<tspan font-size="9.2" dy="-6.2">4</tspan></text>
<text x="1027.1" y="230" font-size="13.5">10<tspan font-size="9.2" dy="-6.2">5</tspan></text>
<text x="824.2" y="43.4" font-size="13.5">10<tspan font-size="9.2" dy="-6.2">5</tspan></text>
<path d="M932 106.5h1m-74 24h1m42 38h1m45 -91h1m-39 125h1m-1 -145h1m49 100h1m-36 -88h1m52 65h1m-28 -6h1m-4 -9h1m-83 -8h1m9 -21h1m86 78h1m-79 -55h1m17 -10h1m48 40h1m-38 26h1m31 1h1m-55 -68h1m46 -2h1m30 65h1m-31 21h1" stroke="#e8d8d8" stroke-width="1" fill="none"/>
<ellipse cx="941" cy="104" rx="24" ry="15" transform="rotate(-80 941 104)" fill="#c85050" fill-opacity="0.2" filter="url(#ab2)" clip-path="url(#gL5)"/>
<ellipse cx="926" cy="146" rx="26" ry="6.5" transform="rotate(-60 926 146)" fill="#c87070" fill-opacity="0.1" filter="url(#ab2)" clip-path="url(#gL5)"/>
<ellipse cx="960" cy="100" rx="16.8" ry="8.4" transform="rotate(-70 960 100)" fill="#40b8d8" fill-opacity="0.2" filter="url(#ab2)" clip-path="url(#gR5)"/>
<g clip-path="url(#gL5)"><ellipse cx="941" cy="104" rx="19.2" ry="17.5" transform="rotate(-80 941 104)" fill="#c63a3a" fill-opacity="0.8" filter="url(#spkA)"/></g>
<g clip-path="url(#gR5)"><ellipse cx="960" cy="100" rx="13.8" ry="9" transform="rotate(-70 960 100)" fill="#38bfe4" fill-opacity="0.8" filter="url(#spkA)"/></g>
<path d="M947 86.5h1m-9 44h1m2 -28h1m-5 31h1m-12 -27h1m2 -26h1m0 -14h1m1 40h1m15 -16h1m-15 -3h1m6 26h1m-10 4h1m12 -5h1m-11 -7h1m-14 1h1m17 1h1m-25 4h1m-2 -23h1m23 23h1m5 17h1m-4 -24h1m-2 25h1m-3 -14h1m-6 -31h1m2 -17h1m1 32h1m-3 23h1m3 -30h1m-9 48h1m-2 -25h1m11 -34h1m-8 11h1m11 37h1m-22 1h1m-4 -41h1m12 16h1m-11 -9h1m13 18h1m1 -21h1m-13 21h1m0 6h1m-10 4h1m10 -24h1m1 17h1m12 -6h1m-10 -23h1m-10 22h1m15 7h1m-9 20h1m-9 -16h1m6 4h1m-5 -4h1m10 -21h1m-9 15h1m-10 14h1m10 -19h1m-1 -20h1m-3 -12h1m6 30h1m-15 0h1m-3 -12h1" stroke="#e2b6b6" stroke-width="1" fill="none"/>
<path d="M940 87.5h1m-12 8h1m15 23h1m-13 -20h1m7 -9h1m7 29h1m-12 8h1m9 -28h1m-2 2h1m-5 -10h1m-13 12h1m10 14h1m-4 -4h1m-3 8h1m-10 -8h1m3 -1h1m6 -24h1m3 38h1m6 -18h1m-11 7h1m-10 -5h1m-8 -8h1m16 -21h1m2 -3h1m-2 16h1m-1 10h1m-2 20h1m-5 -30h1m-13 8h1m22 -6h1m-18 8h1m5 12h1m0 6h1m-18 -31h1m24 20h1m0 -26h1m-8 34h1m-39 -15h1m31 19h1m-9 -39h1m1 15h1m14 15h1m-13 17h1m-9 -25h1m17 -16h1m-5 20h1m-4 1h1m10 15h1m-9 -22h1m-2 -9h1m10 24h1m-7 0h1m0 -17h1m-2 5h1m-9 1h1m6 -6h1m-2 0h1m8 16h1m-11 -20h1m2 -14h1m2 36h1m-9 -27h1m10 14h1m2 -8h1m-2 -5h1m-6 -16h1m-35 39h1m29 -9h1m1 1h1m-9 -23h1m11 7h1m-21 15h1m10 20h1m13 -19h1m-7 -5h1m-13 -5h1m3 -23h1m8 30h1m-13 4h1m14 -31h1m-13 34h1m-8 13h1m18 -36h1m-11 8h1m0 5h1m7 6h1m-28 6h1m21 3h1m-10 -21h1m4 6h1m-7 -25h1m-15 32h1m19 12h1m-4 2h1m-17 -34h1m18 -8h1m7 13h1m-27 41h1m15 -4h1m6 -29h1m-26 -1h1m21 16h1m-12 -30h1m17 13h1m-2 14h1m-19 -3h1m0 15h1m9 -56h1m-9 44h1m14 -15h1m-11 14h1m2 -22h1m5 7h1m-2 11h1m-4 24h1m-2 -20h1m-2 -5h1m-5 26h1m-17 -24h1m5 -2h1m-1 3h1m12 -12h1m0 43h1m-16 -31h1m7 6h1m11 -18h1m-1 14h1m0 -16h1m-9 -11h1m-17 13h1m23 31h1m-9 -14h1m8 -25h1m-1 19h1m-14 6h1m0 -11h1m-6 -13h1m4 25h1" stroke="#c44444" stroke-width="1" fill="none"/>
<path d="M959 121.5h1m-6 -16h1m-1 -24h1m2 6h1m-5 30h1m11 23h1m-4 -41h1m-1 -2h1m5 -37h1m-4 41h1m-12 5h1" stroke="#b4e2ee" stroke-width="1" fill="none"/>
<path d="M952 124.5h1m5 -40h1m-5 19h1m-3 -9h1m1 21h1m-1 -19h1m-1 -8h1m11 0h1m-7 13h1m-4 -4h1m-6 25h1m7 -32h1m-9 -1h1m10 10h1m-2 26h1m-11 -22h1m4 -10h1m2 27h1m-4 -35h1m-5 24h1m0 4h1m3 -3h1m-1 -22h1m-1 9h1m-6 3h1m1 2h1m1 -3h1m-6 3h1" stroke="#3cbde0" stroke-width="1" fill="none"/>
<path d="M935 140.5h1m-11 18h1m-1 -3h1m3 -17h1m-8 18h1m-7 10h1m7 -20h1m9 -15h1m-26 30h1m27 -32h1m-1 8h1m-21 25h1m2 -19h1m7 6h1m3 -13h1m1 0h1m-24 32h1m-1 1h1m27 -38h1m-12 14h1m-3 -8h1m-3 1h1m12 -20h1m-28 47h1m27 -36h1m-20 33h1m9 -30h1m14 -5h1m-33 44h1" stroke="#e2b6b6" stroke-width="1" fill="none"/>
<path d="M938 144.5h1m-14 8h1m0 1h1m4 -4h1m-19 14h1m5 2h1m14 -29h1m0 -3h1m-13 25h1m-19 10h1m45 -60h1m-16 19h1m-2 17h1m-18 21h1m2 -8h1m8 -14h1m10 -24h1m-21 22h1m8 -1h1" stroke="#c44444" stroke-width="1" fill="none"/>
<path d="M948 123.5h1m-2 -12h1m2 1h1m-1 -8h1m0 0h1" stroke="#e2b6b6" stroke-width="1" fill="none"/>
<path d="M950 98.5h1m1 8h1m-2 3h1m-8 9h1m4 -20h1m-2 30h1m1 -31h1m-2 23h1m1 -17h1m-3 10h1m2 -11h1" stroke="#c44444" stroke-width="1" fill="none"/>
<path d="M958 102.5h1m3 4h1m2 -36h1m-4 11h1m5 15h1m-14 -6h1m8 21h1m-12 -11h1m6 -2h1m4 3h1m-3 11h1m-5 -2h1m2 -15h1m2 3h1m2 4h1m-4 -16h1m-9 22h1m13 -6h1m-20 14h1m17 -22h1m-2 24h1m-12 -3h1m1 -11h1m4 -32h1m-6 36h1m-7 -16h1m0 4h1m3 -17h1m-7 35h1m3 5h1m-3 -16h1m0 -9h1m3 2h1m5 -7h1m-4 31h1m-11 -12h1m4 -7h1m12 -7h1m-11 1h1m-8 9h1m2 8h1m1 -23h1m0 -1h1" stroke="#b4e2ee" stroke-width="1" fill="none"/>
<path d="M979 73.5h1m-19 30h1m2 -22h1m3 31h1m-10 -6h1m-7 3h1m9 -2h1m1 -13h1m0 9h1m-12 -4h1m17 -12h1m-19 8h1m-1 2h1m1 3h1m14 4h1m-7 -9h1m-14 13h1m19 -17h1m-6 -7h1m-4 4h1m-13 16h1m-2 13h1m4 -12h1m5 -5h1m-1 -9h1m-4 12h1m-6 -1h1m11 -18h1m6 8h1m-18 -4h1m-2 27h1m0 -9h1m-1 13h1m3 -23h1m-3 9h1m0 -8h1m4 18h1m-6 -11h1m-3 15h1m-5 0h1m15 -20h1m-18 -3h1m0 14h1m13 -15h1m5 -12h1m-20 27h1m16 -13h1m-6 -20h1m-4 24h1m3 -16h1m-3 -1h1m3 10h1m-12 -7h1m12 3h1m-9 -3h1m2 16h1m-6 7h1m0 -8h1m1 -5h1m-5 10h1m0 -7h1m-7 -12h1m11 11h1m7 -21h1m-11 -3h1m-3 41h1m-5 -9h1m-6 6h1m9 -18h1m-6 18h1m0 1h1m0 -9h1m-10 -3h1m13 -11h1m-2 6h1m-9 -3h1m15 0h1m-17 19h1" stroke="#3cbde0" stroke-width="1" fill="none"/>
<g clip-path="url(#gL5)">
<polygon points="931.1,94.1 937.8,86.1 947.2,82.1 951.2,83.4 951.8,112 946.8,120.5 938.5,123 932.1,117 929.8,104.1" fill="#f23131" filter="url(#spkB)"/>
</g>
<g clip-path="url(#gR5)">
<polygon points="951.8,86 959,87.5 964.5,93 965,101 961,109 955,114 951.8,115" fill="#2ec4ec" filter="url(#spkB)"/>
</g>
<line x1="953.6" y1="67.6" x2="1016.4" y2="67.6" stroke="#111" stroke-width="1.8"/>
<text x="1018.6" y="63.2" font-size="16" text-anchor="end" fill="#000">7.50%</text>
<path d="M1092.8 41.8H1274.2V209.7" stroke="#8a8a8a" stroke-width="1" fill="none"/>
<path d="M1092.8 209.7v3M1129.1 209.7v3M1165.4 209.7v3M1201.6 209.7v3M1237.9 209.7v3M1274.2 209.7v3" stroke="#222" stroke-width="1" fill="none"/>
<path d="M1103.7 209.7v1.6M1110.1 209.7v1.6M1114.6 209.7v1.6M1118.2 209.7v1.6M1121 209.7v1.6M1123.5 209.7v1.6M1125.6 209.7v1.6M1127.4 209.7v1.6M1140 209.7v1.6M1146.4 209.7v1.6M1150.9 209.7v1.6M1154.4 209.7v1.6M1157.3 209.7v1.6M1159.7 209.7v1.6M1161.8 209.7v1.6M1163.7 209.7v1.6M1176.3 209.7v1.6M1182.7 209.7v1.6M1187.2 209.7v1.6M1190.7 209.7v1.6M1193.6 209.7v1.6M1196 209.7v1.6M1198.1 209.7v1.6M1200 209.7v1.6M1212.6 209.7v1.6M1218.9 209.7v1.6M1223.5 209.7v1.6M1227 209.7v1.6M1229.9 209.7v1.6M1232.3 209.7v1.6M1234.4 209.7v1.6M1236.3 209.7v1.6M1248.8 209.7v1.6M1255.2 209.7v1.6M1259.8 209.7v1.6M1263.3 209.7v1.6M1266.2 209.7v1.6M1268.6 209.7v1.6M1270.7 209.7v1.6M1272.5 209.7v1.6M1090.6 199.6h2.2M1090.6 193.7h2.2M1090.6 189.5h2.2M1090.6 186.2h2.2M1090.6 183.6h2.2M1090.6 181.3h2.2M1090.6 179.4h2.2M1090.6 177.7h2.2M1090.6 166h2.2M1090.6 160.1h2.2M1090.6 155.9h2.2M1090.6 152.6h2.2M1090.6 150h2.2M1090.6 147.7h2.2M1090.6 145.8h2.2M1090.6 144.1h2.2M1090.6 132.4h2.2M1090.6 126.5h2.2M1090.6 122.3h2.2M1090.6 119.1h2.2M1090.6 116.4h2.2M1090.6 114.2h2.2M1090.6 112.2h2.2M1090.6 110.5h2.2M1090.6 98.9h2.2M1090.6 92.9h2.2M1090.6 88.7h2.2M1090.6 85.5h2.2M1090.6 82.8h2.2M1090.6 80.6h2.2M1090.6 78.6h2.2M1090.6 76.9h2.2M1090.6 65.3h2.2M1090.6 59.4h2.2M1090.6 55.2h2.2M1090.6 51.9h2.2M1090.6 49.2h2.2M1090.6 47h2.2M1090.6 45.1h2.2M1090.6 43.3h2.2" stroke="#222" stroke-width="0.8" fill="none"/>
<path d="M1088.3 209.7h4.5M1088.3 176.1h4.5M1088.3 142.5h4.5M1088.3 109h4.5M1088.3 75.4h4.5M1088.3 41.8h4.5" stroke="#222" stroke-width="1.2" fill="none"/>
<path d="M1092 209.7H1274.2" stroke="#555" stroke-width="1.3" fill="none"/>
<path d="M1092.8 41.3V210.4" stroke="#000" stroke-width="1.7" fill="none"/>
<text x="1084" y="230" font-size="13.5">10<tspan font-size="9.2" dy="-6.2">0</tspan></text>
<text x="1061.3" y="214.2" font-size="13.5">10<tspan font-size="9.2" dy="-6.2">0</tspan></text>
<text x="1120.3" y="230" font-size="13.5">10<tspan font-size="9.2" dy="-6.2">1</tspan></text>
<text x="1061.3" y="180.1" font-size="13.5">10<tspan font-size="9.2" dy="-6.2">1</tspan></text>
<text x="1156.6" y="230" font-size="13.5">10<tspan font-size="9.2" dy="-6.2">2</tspan></text>
<text x="1061.3" y="146.5" font-size="13.5">10<tspan font-size="9.2" dy="-6.2">2</tspan></text>
<text x="1192.8" y="230" font-size="13.5">10<tspan font-size="9.2" dy="-6.2">3</tspan></text>
<text x="1061.3" y="113" font-size="13.5">10<tspan font-size="9.2" dy="-6.2">3</tspan></text>
<text x="1229.1" y="230" font-size="13.5">10<tspan font-size="9.2" dy="-6.2">4</tspan></text>
<text x="1061.3" y="79.4" font-size="13.5">10<tspan font-size="9.2" dy="-6.2">4</tspan></text>
<text x="1265.4" y="230" font-size="13.5">10<tspan font-size="9.2" dy="-6.2">5</tspan></text>
<text x="1061.3" y="45.8" font-size="13.5">10<tspan font-size="9.2" dy="-6.2">5</tspan></text>
<path d="M1145 107.5h1m-32 61h1m4 -51h1m52 -39h1m-51 79h1m9 -23h1m28 13h1m-58 32h1m96 -2h1m-56 -46h1m1 -19h1m-6 91h1m-13 -67h1m-13 -23h1m83 16h1m-38 44h1m-14 -81h1m43 89h1m-69 -73h1m52 -38h1m-61 53h1m64 -2h1m-90 3h1" stroke="#e8d8d8" stroke-width="1" fill="none"/>
<ellipse cx="1179" cy="104" rx="24" ry="15" transform="rotate(-80 1179 104)" fill="#c85050" fill-opacity="0.2" filter="url(#ab2)" clip-path="url(#gL6)"/>
<ellipse cx="1167" cy="141" rx="27.3" ry="7.8" transform="rotate(-55 1167 141)" fill="#c87070" fill-opacity="0.1" filter="url(#ab2)" clip-path="url(#gL6)"/>
<ellipse cx="1200" cy="106" rx="21" ry="9.8" transform="rotate(-60 1200 106)" fill="#40b8d8" fill-opacity="0.2" filter="url(#ab2)" clip-path="url(#gR6)"/>
<g clip-path="url(#gL6)"><ellipse cx="1179" cy="104" rx="19.2" ry="17.5" transform="rotate(-80 1179 104)" fill="#c63a3a" fill-opacity="0.8" filter="url(#spkA)"/></g>
<g clip-path="url(#gR6)"><ellipse cx="1200" cy="106" rx="17.2" ry="10.5" transform="rotate(-60 1200 106)" fill="#38bfe4" fill-opacity="0.8" filter="url(#spkA)"/></g>
<path d="M1173 117.5h1m4 -7h1m-25 13h1m14 -22h1m3 -5h1m12 21h1m-15 2h1m8 -6h1m-3 -7h1m-3 -2h1m5 4h1m-11 -5h1m-14 20h1m1 23h1m16 -50h1m-15 30h1m1 -12h1m14 -13h1m3 -9h1m-12 2h1m14 -7h1m-20 18h1m18 -4h1m-2 0h1m-12 11h1m2 -16h1m-5 -6h1m12 24h1m-18 -26h1m7 35h1m-7 -24h1m-6 47h1m9 -24h1m5 -27h1m-1 9h1m-5 28h1m-15 -53h1m2 16h1m1 3h1m4 2h1m7 -16h1m-12 18h1m-9 25h1m15 -17h1m1 -24h1m-7 11h1m7 17h1m-8 -10h1m6 -7h1m-6 34h1m-9 -12h1m-3 -25h1m2 14h1m12 -6h1m-12 -28h1m-2 36h1m-3 -9h1m-8 11h1m17 5h1m-6 -10h1m-1 22h1m0 10h1m-18 -58h1m5 25h1" stroke="#e2b6b6" stroke-width="1" fill="none"/>
<path d="M1175 103.5h1m8 1h1m-15 -11h1m9 1h1m-4 30h1m3 -37h1m-9 33h1m5 -18h1m8 -35h1m-9 38h1m-2 -26h1m8 34h1m-9 -17h1m3 4h1m-15 18h1m17 4h1m-6 -21h1m-2 30h1m-12 -13h1m13 -22h1m-9 19h1m-5 4h1m11 -7h1m-5 -8h1m-3 5h1m-4 -33h1m-6 35h1m-15 22h1m19 -30h1m5 3h1m-16 23h1m-2 -43h1m8 19h1m7 2h1m-13 22h1m5 -31h1m-1 8h1m10 -20h1m-10 39h1m-12 -23h1m4 17h1m1 3h1m-17 -16h1m16 0h1m10 9h1m-20 2h1m16 -9h1m-15 6h1m6 -11h1m9 9h1m-23 27h1m2 -57h1m8 19h1m10 -3h1m-28 12h1m-2 14h1m3 -37h1m12 10h1m2 2h1m-2 1h1m-1 6h1m-16 -7h1m10 6h1m-21 12h1m11 -3h1m11 -3h1m-1 33h1m-3 -40h1m-11 36h1m12 -64h1m3 20h1m1 1h1m-12 26h1m-21 -18h1m28 2h1m-18 9h1m18 -20h1m-21 -2h1m6 27h1m5 19h1m0 -34h1m-15 8h1m1 -36h1m6 2h1m4 22h1m-14 -16h1m-3 -8h1m5 26h1m4 -3h1m-15 -11h1m0 14h1m20 10h1m-8 3h1m1 -2h1m-12 -6h1m11 -26h1m-21 39h1m24 -32h1m-10 21h1m1 -27h1m3 14h1m-5 8h1m-8 -12h1m3 20h1m-11 -16h1m19 3h1m-11 6h1m-1 13h1m9 -22h1m-25 23h1m10 -26h1m0 2h1m-12 -6h1m-1 20h1m15 -53h1m4 52h1m-9 6h1m8 -32h1m-3 29h1m-1 -22h1m-19 7h1m21 14h1m-1 -20h1m-16 16h1m-3 -11h1m-5 24h1m11 -1h1m-2 14h1m-14 -25h1m10 9h1m9 -16h1m2 -5h1m-18 16h1m-9 -8h1m21 -11h1m-16 21h1m3 4h1m-20 -9h1m25 -15h1m1 2h1m1 4h1m-12 -18h1m-5 26h1m4 1h1m12 -33h1m-8 60h1m-13 -38h1" stroke="#c44444" stroke-width="1" fill="none"/>
<path d="M1201 87.5h1m-6 2h1m-4 26h1m-3 -7h1m6 -17h1m-9 34h1m10 -9h1" stroke="#b4e2ee" stroke-width="1" fill="none"/>
<path d="M1200 103.5h1m-6 8h1m-5 -2h1m5 -7h1m-6 -7h1m4 9h1m-8 -5h1m0 2h1m3 -5h1m-3 6h1m-1 3h1m-2 17h1m-1 -1h1m-2 -26h1m6 2h1m-6 -2h1m1 13h1m-3 4h1" stroke="#3cbde0" stroke-width="1" fill="none"/>
<path d="M1165 151.5h1m8 -18h1m14 -19h1m-37 33h1m13 0h1m-21 10h1m15 -16h1m9 6h1m-7 4h1m-7 4h1m-14 12h1m-2 -7h1m9 -2h1m12 -31h1m-2 28h1m2 10h1m3 -34h1m-6 -1h1m-12 25h1m4 0h1m6 -26h1m-11 -1h1m-5 27h1m14 -15h1m-3 4h1m-2 -28h1m-14 39h1m16 -31h1m-9 6h1m-17 24h1m33 -27h1m-12 -4h1m-26 37h1m38 -53h1m-39 49h1m9 2h1m4 -11h1m13 -17h1m-9 -1h1m-2 16h1m11 -28h1m-5 21h1m6 -20h1m-15 20h1m-34 45h1m25 -34h1m-8 10h1m21 -12h1m-16 -11h1m-8 27h1m-2 -2h1m12 -13h1m-9 -7h1m-20 46h1m34 -64h1m-15 13h1m-4 0h1m5 -4h1m-14 24h1m19 -10h1m0 -27h1m0 0h1m-7 11h1m-9 13h1m-4 11h1m27 -33h1m-18 8h1m-13 15h1m-10 37h1m4 -29h1m-10 20h1m33 -55h1m-10 20h1m-16 13h1m5 -8h1m28 -17h1m-42 36h1m17 -18h1m-8 22h1m-16 2h1m32 -24h1" stroke="#e2b6b6" stroke-width="1" fill="none"/>
<path d="M1177 109.5h1m-8 33h1m-13 2h1m8 -8h1m8 -15h1m-21 49h1m-15 0h1m45 -61h1m-22 25h1m18 -20h1m-23 19h1m18 -18h1m-28 34h1m9 -21h1m17 -14h1m-11 6h1m-15 28h1m14 -24h1m-14 30h1m-17 8h1m20 -34h1m16 -11h1m-12 7h1m-24 37h1m32 -31h1m-11 -2h1m-19 16h1m-16 41h1m47 -55h1m-13 -5h1m-1 10h1m-40 29h1m11 2h1m29 -42h1m-1 5h1m-8 3h1m-6 15h1m8 -10h1m-16 13h1m5 -1h1m-18 2h1m25 -11h1m-15 8h1m19 -21h1m-1 6h1m-34 16h1m-4 6h1m32 -17h1m-1 -16h1m-9 -11h1m-21 75h1m33 -58h1m-11 -12h1m7 0h1" stroke="#c44444" stroke-width="1" fill="none"/>
<path d="M1199 118.5h1m1 -22h1m-9 -2h1" stroke="#b4e2ee" stroke-width="1" fill="none"/>
<path d="M1191 97.5h1m7 20h1" stroke="#3cbde0" stroke-width="1" fill="none"/>
<path d="M1187 109.5h1m-2 18h1m-5 2h1m4 -19h1m2 -2h1m-2 19h1" stroke="#e2b6b6" stroke-width="1" fill="none"/>
<path d="M1189 104.5h1m-16 26h1m8 -22h1m6 -12h1m-1 14h1m-3 -7h1m1 17h1m-4 18h1m-12 -27h1m11 15h1m0 -17h1m-2 5h1m-3 28h1" stroke="#c44444" stroke-width="1" fill="none"/>
<path d="M1195 112.5h1m2 -7h1m-6 13h1m1 -18h1m24 -8h1m-22 19h1m-3 -10h1m16 -8h1m0 -13h1m-16 35h1m-1 -15h1m-10 10h1m2 -1h1m5 7h1m13 -5h1m-8 -22h1m-1 29h1m-13 -13h1m6 -9h1m0 -2h1m-10 10h1m2 1h1m20 -21h1m-23 25h1m6 -9h1m1 13h1m1 -36h1m-7 34h1m8 -13h1m-1 -3h1m6 -8h1m-26 36h1m11 -42h1m-9 22h1m-6 -1h1m10 11h1m-8 -5h1m-5 -17h1m17 18h1m-9 13h1m17 -45h1m-11 27h1m-15 5h1m21 -23h1m-11 37h1m-9 -16h1m-5 -1h1m4 -13h1m2 4h1m-8 19h1m6 -7h1m6 1h1m-11 2h1m-7 -9h1m-4 9h1m9 -7h1m1 20h1m-6 -28h1m-6 7h1m6 17h1m4 -2h1m-10 -8h1m10 -3h1" stroke="#b4e2ee" stroke-width="1" fill="none"/>
<path d="M1201 109.5h1m-4 10h1m18 -28h1m-4 7h1m-15 6h1m8 -9h1m-4 9h1m6 14h1m-23 -19h1m33 -24h1m-18 18h1m5 3h1m-20 13h1m17 -6h1m2 -26h1m-13 24h1m-2 -12h1m12 4h1m-8 7h1m3 -14h1m-2 18h1m-19 9h1m28 -39h1m-23 27h1m-5 1h1m11 -14h1m-15 23h1m2 -6h1m-1 12h1m3 -11h1m4 10h1m-2 -16h1m-3 10h1m-8 4h1m-4 -7h1m2 -1h1m-4 4h1m6 -20h1m17 15h1m-21 -3h1m-8 19h1m11 -22h1m-7 27h1m-1 -25h1m-5 0h1m0 15h1m-5 -4h1m18 -35h1m-19 27h1m13 -11h1m-4 7h1m3 -8h1m-13 29h1m24 -60h1m-17 47h1m-2 4h1m7 -17h1m-19 26h1m20 -12h1m-20 -6h1m9 -6h1m-4 7h1m-9 7h1m-2 5h1m2 -29h1m-5 39h1m-1 -19h1m9 -28h1m-2 34h1m2 -15h1m-2 13h1m-5 -18h1m3 23h1m-2 -32h1m-10 22h1m2 19h1m-6 -19h1m11 -8h1m-8 -8h1m12 8h1m7 -18h1m-17 37h1m2 -20h1m-12 11h1m18 -3h1m-9 4h1m-14 -7h1m6 10h1m4 -10h1m1 -3h1m-1 -1h1m11 1h1m-14 -11h1m-14 42h1m4 -18h1m17 4h1m-15 -28h1m18 16h1m-22 -1h1m15 -11h1m-8 23h1m-3 -22h1m-6 5h1m11 -9h1m-6 15h1m-7 -11h1m0 23h1m7 -5h1m-11 -22h1m10 22h1m-7 1h1m-2 -22h1m-6 15h1m-5 -19h1m9 -14h1m-4 23h1m0 -3h1m10 14h1" stroke="#3cbde0" stroke-width="1" fill="none"/>
<g clip-path="url(#gL6)">
<polygon points="1168.8,96.1 1174.2,88.1 1183.5,84.1 1190.2,86.1 1190.2,109.5 1183.5,114.8 1175.5,118.8 1169.5,114.8 1167.5,105.5" fill="#f23131" filter="url(#spkB)"/>
</g>
<g clip-path="url(#gR6)">
<polygon points="1190.5,86.8 1196.9,90.8 1200.9,97.4 1196.9,104.1 1190.9,106.8" fill="#2ec4ec" filter="url(#spkB)"/>
</g>
<line x1="1190.7" y1="69.2" x2="1253.7" y2="69.2" stroke="#111" stroke-width="1.8"/>
<text x="1253.7" y="65.3" font-size="16" text-anchor="end" fill="#000">9.63%</text>
<path d="M855.5 248.2H1036.3V418.4" stroke="#8a8a8a" stroke-width="1" fill="none"/>
<path d="M855.5 418.4v3M891.7 418.4v3M927.8 418.4v3M964 418.4v3M1000.1 418.4v3M1036.3 418.4v3" stroke="#222" stroke-width="1" fill="none"/>
<path d="M866.4 418.4v1.6M872.8 418.4v1.6M877.3 418.4v1.6M880.8 418.4v1.6M883.6 418.4v1.6M886.1 418.4v1.6M888.2 418.4v1.6M890 418.4v1.6M902.5 418.4v1.6M908.9 418.4v1.6M913.4 418.4v1.6M916.9 418.4v1.6M919.8 418.4v1.6M922.2 418.4v1.6M924.3 418.4v1.6M926.2 418.4v1.6M938.7 418.4v1.6M945.1 418.4v1.6M949.6 418.4v1.6M953.1 418.4v1.6M956 418.4v1.6M958.4 418.4v1.6M960.5 418.4v1.6M962.3 418.4v1.6M974.9 418.4v1.6M981.2 418.4v1.6M985.8 418.4v1.6M989.3 418.4v1.6M992.1 418.4v1.6M994.5 418.4v1.6M996.6 418.4v1.6M998.5 418.4v1.6M1011 418.4v1.6M1017.4 418.4v1.6M1021.9 418.4v1.6M1025.4 418.4v1.6M1028.3 418.4v1.6M1030.7 418.4v1.6M1032.8 418.4v1.6M1034.6 418.4v1.6M853.3 408.2h2.2M853.3 402.2h2.2M853.3 397.9h2.2M853.3 394.6h2.2M853.3 391.9h2.2M853.3 389.6h2.2M853.3 387.7h2.2M853.3 385.9h2.2M853.3 374.1h2.2M853.3 368.1h2.2M853.3 363.9h2.2M853.3 360.6h2.2M853.3 357.9h2.2M853.3 355.6h2.2M853.3 353.6h2.2M853.3 351.9h2.2M853.3 340.1h2.2M853.3 334.1h2.2M853.3 329.8h2.2M853.3 326.5h2.2M853.3 323.8h2.2M853.3 321.6h2.2M853.3 319.6h2.2M853.3 317.8h2.2M853.3 306h2.2M853.3 300h2.2M853.3 295.8h2.2M853.3 292.5h2.2M853.3 289.8h2.2M853.3 287.5h2.2M853.3 285.5h2.2M853.3 283.8h2.2M853.3 272h2.2M853.3 266h2.2M853.3 261.7h2.2M853.3 258.4h2.2M853.3 255.8h2.2M853.3 253.5h2.2M853.3 251.5h2.2M853.3 249.8h2.2" stroke="#222" stroke-width="0.8" fill="none"/>
<path d="M851 418.4h4.5M851 384.4h4.5M851 350.3h4.5M851 316.3h4.5M851 282.2h4.5M851 248.2h4.5" stroke="#222" stroke-width="1.2" fill="none"/>
<path d="M854.8 418.4H1036.3" stroke="#555" stroke-width="1.3" fill="none"/>
<path d="M855.5 247.7V419.1" stroke="#000" stroke-width="1.7" fill="none"/>
<text x="846.7" y="439.8" font-size="13.5">10<tspan font-size="9.2" dy="-6.2">0</tspan></text>
<text x="824" y="422.5" font-size="13.5">10<tspan font-size="9.2" dy="-6.2">0</tspan></text>
<text x="882.9" y="439.8" font-size="13.5">10<tspan font-size="9.2" dy="-6.2">1</tspan></text>
<text x="824" y="388.4" font-size="13.5">10<tspan font-size="9.2" dy="-6.2">1</tspan></text>
<text x="919" y="439.8" font-size="13.5">10<tspan font-size="9.2" dy="-6.2">2</tspan></text>
<text x="824" y="354.3" font-size="13.5">10<tspan font-size="9.2" dy="-6.2">2</tspan></text>
<text x="955.2" y="439.8" font-size="13.5">10<tspan font-size="9.2" dy="-6.2">3</tspan></text>
<text x="824" y="320.3" font-size="13.5">10<tspan font-size="9.2" dy="-6.2">3</tspan></text>
<text x="991.3" y="439.8" font-size="13.5">10<tspan font-size="9.2" dy="-6.2">4</tspan></text>
<text x="824" y="286.2" font-size="13.5">10<tspan font-size="9.2" dy="-6.2">4</tspan></text>
<text x="1027.5" y="439.8" font-size="13.5">10<tspan font-size="9.2" dy="-6.2">5</tspan></text>
<text x="824" y="252.2" font-size="13.5">10<tspan font-size="9.2" dy="-6.2">5</tspan></text>
<path d="M881 404.5h1m20 -54h1m5 37h1m-47 -56h1m16 11h1m3 68h1m72 -103h1m-26 -1h1m-30 82h1m1 -58h1m21 -22h1m-39 38h1m16 -44h1m35 -8h1m10 34h1m-24 14h1m3 -26h1m-5 -11h1m63 21h1m-71 27h1m-60 13h1m10 -16h1m66 7h1m13 -29h1m-13 1h1m2 10h1m-26 -3h1m-65 -7h1m29 -54h1" stroke="#e8d8d8" stroke-width="1" fill="none"/>
<ellipse cx="948" cy="309" rx="24" ry="18" transform="rotate(-70 948 309)" fill="#c85050" fill-opacity="0.2" filter="url(#ab2)" clip-path="url(#gL7)"/>
<ellipse cx="932" cy="355" rx="28.6" ry="5.9" transform="rotate(-55 932 355)" fill="#c87070" fill-opacity="0.1" filter="url(#ab2)" clip-path="url(#gL7)"/>
<ellipse cx="965" cy="312" rx="19.6" ry="9.8" transform="rotate(-80 965 312)" fill="#40b8d8" fill-opacity="0.2" filter="url(#ab2)" clip-path="url(#gR7)"/>
<g clip-path="url(#gL7)"><ellipse cx="948" cy="309" rx="19.2" ry="21" transform="rotate(-70 948 309)" fill="#c63a3a" fill-opacity="0.8" filter="url(#spkA)"/></g>
<g clip-path="url(#gR7)"><ellipse cx="965" cy="312" rx="16.1" ry="10.5" transform="rotate(-80 965 312)" fill="#38bfe4" fill-opacity="0.8" filter="url(#spkA)"/></g>
<path d="M953 321.5h1m-31 -28h1m17 19h1m7 -1h1m-14 -2h1m-18 0h1m8 15h1m22 27h1m-2 -44h1m-4 17h1m3 -7h1m-12 3h1m6 -7h1m7 38h1m-1 -43h1m-16 1h1m-11 34h1m22 -43h1m1 9h1m-6 8h1m5 13h1m-6 -12h1m2 0h1m-26 -52h1m20 14h1m-3 37h1m-2 -1h1m3 -11h1m-3 -4h1m-1 20h1m-7 3h1m3 -47h1m-3 14h1m-9 40h1m-14 -1h1m16 -9h1m12 -4h1m-15 16h1m4 -28h1m-7 -9h1m15 16h1m-1 8h1m-13 -22h1m-9 8h1m12 22h1m-4 -21h1m-20 16h1m23 -29h1m0 9h1m-18 -2h1m13 -12h1m-14 51h1m17 -26h1m-13 19h1m7 -20h1m-22 13h1m-10 13h1m19 -6h1m-8 -20h1m13 -10h1m-10 -5h1m15 -6h1m2 8h1m-20 22h1m7 -26h1" stroke="#e2b6b6" stroke-width="1" fill="none"/>
<path d="M929 309.5h1m4 30h1m-8 -8h1m15 -12h1m-1 -10h1m6 3h1m-7 16h1m-7 -16h1m-15 12h1m30 -23h1m-12 29h1m2 -33h1m8 20h1m-9 -27h1m3 19h1m-11 30h1m-1 -40h1m-1 57h1m-4 -43h1m1 17h1m10 -20h1m-5 5h1m4 -37h1m-4 40h1m-1 -40h1m0 9h1m-24 26h1m1 4h1m15 -31h1m1 21h1m5 9h1m-45 0h1m38 0h1m-13 6h1m-13 5h1m31 -23h1m-17 -20h1m0 18h1m2 15h1m0 -2h1m8 -47h1m-16 49h1m8 28h1m0 -48h1m4 13h1m0 1h1m-5 22h1m-21 4h1m11 -28h1m-7 17h1m13 -20h1m-7 24h1m-24 -24h1m9 4h1m8 5h1m8 -15h1m-2 13h1m6 14h1m-7 -22h1m-10 -8h1m1 -14h1m4 14h1m-9 25h1m2 -4h1m-5 -13h1m-2 1h1m-10 -8h1m17 11h1m-13 3h1m17 -14h1m-27 19h1m-4 -25h1m18 9h1m-6 37h1m1 -11h1m1 -9h1m1 -37h1m-13 37h1m-7 3h1m23 -2h1m4 -12h1m-36 28h1m14 18h1m6 -62h1m-7 -2h1m1 53h1m12 -28h1m-17 -28h1m13 35h1m-21 -13h1m20 -14h1m-8 19h1m-4 6h1m4 12h1m-7 5h1m-5 -3h1m10 -25h1m-5 25h1m5 -18h1m6 -20h1m-22 -10h1m19 5h1m-2 23h1m-13 -10h1m11 -2h1m-7 15h1m8 -22h1m-10 10h1m1 -13h1m-5 9h1m9 25h1m-25 1h1m1 -17h1m-2 -2h1m17 -11h1m-24 28h1m20 -12h1m-9 38h1m-6 -40h1m0 -29h1m2 67h1m7 -52h1m-9 26h1m13 -2h1m-9 21h1m1 -20h1m-3 0h1m7 -21h1m-10 2h1m-8 5h1m10 -2h1m2 -20h1m-13 25h1m-11 21h1m12 -33h1m7 3h1m-2 5h1m-20 16h1m6 3h1m18 -8h1m-11 -10h1m-13 19h1m4 -1h1m8 -25h1m5 -5h1m-10 24h1" stroke="#c44444" stroke-width="1" fill="none"/>
<path d="M963 295.5h1m-5 -1h1m5 13h1m-4 3h1m1 7h1m20 7h1m-27 -17h1m1 3h1m9 -1h1m-5 24h1m3 -42h1m-10 25h1m-3 -4h1m8 -7h1m-7 13h1m18 -49h1m-25 6h1m4 26h1" stroke="#b4e2ee" stroke-width="1" fill="none"/>
<path d="M967 300.5h1m-1 23h1m0 -39h1m-11 30h1m1 -36h1m0 30h1m3 14h1m3 -8h1m5 18h1m-14 -22h1m-1 10h1m4 -34h1m-7 1h1m-3 28h1m3 -2h1m9 -14h1m-8 -4h1m-6 44h1m-1 -47h1m12 -6h1m-5 21h1m21 2h1m-24 -3h1m-12 35h1m6 -35h1m-3 8h1m12 12h1m-10 -21h1m-9 -1h1m1 -7h1m8 9h1m4 21h1m-10 -66h1m5 36h1m-10 0h1m5 16h1m-5 -1h1m3 -55h1m-8 48h1m0 22h1m-6 -17h1m12 -7h1m-2 -29h1" stroke="#3cbde0" stroke-width="1" fill="none"/>
<path d="M919 371.5h1m-9 9h1m25 -51h1m-18 36h1m12 -15h1m-26 29h1m28 -24h1m-21 13h1m3 7h1m-6 -5h1m26 -32h1m-3 -6h1m-31 65h1m22 -47h1m10 -9h1m-29 37h1m29 -30h1m-26 15h1m-5 10h1m12 -9h1m-1 3h1m-15 16h1m37 -71h1m-30 52h1m-3 6h1m16 -31h1m-11 18h1m16 -26h1m-23 27h1m8 -10h1m-6 4h1m7 4h1m-10 3h1m2 -1h1m19 -33h1m-30 43h1m3 -1h1m1 -4h1m5 -20h1m3 7h1m8 -8h1m-36 36h1m17 -30h1m-2 11h1m-3 1h1m-21 31h1m22 -40h1" stroke="#e2b6b6" stroke-width="1" fill="none"/>
<path d="M913 381.5h1m17 -23h1m25 -26h1m-32 30h1m10 -18h1m-13 13h1m-12 8h1m4 6h1m3 -11h1m28 -25h1m-15 3h1m-19 28h1m18 -32h1m-12 22h1m-8 11h1m10 -23h1m-10 29h1m-14 9h1m33 -52h1m-33 60h1m30 -41h1m-33 33h1m19 -26h1m-5 1h1m-4 5h1m-18 34h1m21 -39h1m-3 -4h1m-6 19h1m9 -15h1m15 -16h1m-21 5h1m-7 33h1" stroke="#c44444" stroke-width="1" fill="none"/>
<path d="M971 304.5h1" stroke="#3cbde0" stroke-width="1" fill="none"/>
<path d="M950 317.5h1m3 -9h1m-3 18h1m-1 -18h1m-5 35h1m8 -9h1m-3 -35h1m-2 22h1" stroke="#e2b6b6" stroke-width="1" fill="none"/>
<path d="M953 305.5h1m2 13h1m-9 23h1m4 -28h1m-3 5h1m2 2h1m2 -21h1m-1 24h1m-7 -9h1m4 -18h1m-4 62h1m-5 -56h1m5 13h1m-1 13h1m-6 -3h1" stroke="#c44444" stroke-width="1" fill="none"/>
<path d="M965 301.5h1m15 1h1m-19 15h1m1 9h1m-8 -5h1m3 -12h1m11 -5h1m-7 -3h1m8 10h1m-20 -21h1m0 4h1m-1 27h1m15 -32h1m-17 15h1m4 -19h1m1 49h1m-8 -33h1m-2 13h1m14 12h1m5 -33h1m-9 13h1m-11 23h1m-2 -9h1m8 -32h1m-9 51h1m3 -31h1m-6 8h1m4 -2h1m-7 19h1m7 -14h1m-5 -30h1m5 16h1m-4 -1h1m-3 2h1m7 -7h1m-9 29h1m-2 -12h1m3 -16h1m-1 22h1m4 -3h1m-6 -24h1m-1 -4h1m-8 28h1m7 -15h1m10 6h1m-16 11h1m14 -15h1" stroke="#b4e2ee" stroke-width="1" fill="none"/>
<path d="M975 306.5h1m-18 3h1m9 -38h1m3 23h1m-2 7h1m-4 -3h1m15 -24h1m-21 22h1m0 25h1m6 -9h1m-3 -3h1m-13 -2h1m12 6h1m-13 4h1m10 -16h1m-4 33h1m0 -34h1m-8 11h1m1 -4h1m-1 -19h1m15 50h1m-15 -15h1m14 -18h1m-15 15h1m-8 -4h1m9 27h1m2 -24h1m-9 -11h1m3 -5h1m-6 5h1m-2 -3h1m3 17h1m2 -37h1m0 39h1m-5 -30h1m-8 -4h1m3 30h1m7 -15h1m-1 3h1m2 8h1m-10 -9h1m15 8h1m-3 4h1m-4 -5h1m-18 16h1m12 -12h1m-14 -6h1m7 -19h1m-8 12h1m5 -5h1m-8 21h1m0 -25h1m5 35h1m4 -24h1m-5 3h1m-3 8h1m-2 -8h1m1 17h1m-6 -20h1m-1 21h1m-3 0h1m8 -36h1m-10 28h1m8 21h1m-9 -20h1m-1 -10h1m-2 -14h1m0 9h1m6 -18h1m-2 25h1m10 -8h1m-17 20h1m5 -16h1m2 -18h1m7 20h1m-20 27h1m-2 -39h1m13 24h1m-1 -15h1m-15 16h1m12 -38h1m-9 23h1m6 -34h1m-9 33h1m1 15h1m0 -20h1m6 -4h1m-6 0h1m-5 40h1" stroke="#3cbde0" stroke-width="1" fill="none"/>
<g clip-path="url(#gL7)">
<polygon points="937.2,303.1 943.2,295.1 951.2,290.4 957.2,289.1 957.6,321.8 948.5,324.5 939.2,321.8 935.2,313.8" fill="#f23131" filter="url(#spkB)"/>
</g>
<g clip-path="url(#gR7)">
<polygon points="957.6,289.1 965.9,291.1 972.6,297.8 973.2,305.8 968.5,313.8 960.5,316.5 957.6,316.5" fill="#2ec4ec" filter="url(#spkB)"/>
</g>
<line x1="948.2" y1="271.5" x2="1011" y2="271.5" stroke="#111" stroke-width="1.8"/>
<text x="1011" y="267.2" font-size="16" text-anchor="end" fill="#000">16.20%</text>
<path d="M1092.8 248.6H1273.4V418" stroke="#8a8a8a" stroke-width="1" fill="none"/>
<path d="M1092.8 418v3M1128.9 418v3M1165 418v3M1201.2 418v3M1237.3 418v3M1273.4 418v3" stroke="#222" stroke-width="1" fill="none"/>
<path d="M1103.7 418v1.6M1110 418v1.6M1114.5 418v1.6M1118 418v1.6M1120.9 418v1.6M1123.3 418v1.6M1125.4 418v1.6M1127.3 418v1.6M1139.8 418v1.6M1146.2 418v1.6M1150.7 418v1.6M1154.2 418v1.6M1157 418v1.6M1159.4 418v1.6M1161.5 418v1.6M1163.4 418v1.6M1175.9 418v1.6M1182.3 418v1.6M1186.8 418v1.6M1190.3 418v1.6M1193.1 418v1.6M1195.6 418v1.6M1197.7 418v1.6M1199.5 418v1.6M1212 418v1.6M1218.4 418v1.6M1222.9 418v1.6M1226.4 418v1.6M1229.3 418v1.6M1231.7 418v1.6M1233.8 418v1.6M1235.6 418v1.6M1248.2 418v1.6M1254.5 418v1.6M1259 418v1.6M1262.5 418v1.6M1265.4 418v1.6M1267.8 418v1.6M1269.9 418v1.6M1271.7 418v1.6M1090.6 407.8h2.2M1090.6 401.8h2.2M1090.6 397.6h2.2M1090.6 394.3h2.2M1090.6 391.6h2.2M1090.6 389.4h2.2M1090.6 387.4h2.2M1090.6 385.7h2.2M1090.6 373.9h2.2M1090.6 368h2.2M1090.6 363.7h2.2M1090.6 360.4h2.2M1090.6 357.8h2.2M1090.6 355.5h2.2M1090.6 353.5h2.2M1090.6 351.8h2.2M1090.6 340h2.2M1090.6 334.1h2.2M1090.6 329.8h2.2M1090.6 326.6h2.2M1090.6 323.9h2.2M1090.6 321.6h2.2M1090.6 319.6h2.2M1090.6 317.9h2.2M1090.6 306.2h2.2M1090.6 300.2h2.2M1090.6 296h2.2M1090.6 292.7h2.2M1090.6 290h2.2M1090.6 287.7h2.2M1090.6 285.8h2.2M1090.6 284h2.2M1090.6 272.3h2.2M1090.6 266.3h2.2M1090.6 262.1h2.2M1090.6 258.8h2.2M1090.6 256.1h2.2M1090.6 253.8h2.2M1090.6 251.9h2.2M1090.6 250.2h2.2" stroke="#222" stroke-width="0.8" fill="none"/>
<path d="M1088.3 418h4.5M1088.3 384.1h4.5M1088.3 350.2h4.5M1088.3 316.4h4.5M1088.3 282.5h4.5M1088.3 248.6h4.5" stroke="#222" stroke-width="1.2" fill="none"/>
<path d="M1092 418H1273.4" stroke="#555" stroke-width="1.3" fill="none"/>
<path d="M1092.8 248.1V418.8" stroke="#000" stroke-width="1.7" fill="none"/>
<text x="1084" y="439.8" font-size="13.5">10<tspan font-size="9.2" dy="-6.2">0</tspan></text>
<text x="1061.3" y="421.8" font-size="13.5">10<tspan font-size="9.2" dy="-6.2">0</tspan></text>
<text x="1120.1" y="439.8" font-size="13.5">10<tspan font-size="9.2" dy="-6.2">1</tspan></text>
<text x="1061.3" y="388.1" font-size="13.5">10<tspan font-size="9.2" dy="-6.2">1</tspan></text>
<text x="1156.2" y="439.8" font-size="13.5">10<tspan font-size="9.2" dy="-6.2">2</tspan></text>
<text x="1061.3" y="354.2" font-size="13.5">10<tspan font-size="9.2" dy="-6.2">2</tspan></text>
<text x="1192.4" y="439.8" font-size="13.5">10<tspan font-size="9.2" dy="-6.2">3</tspan></text>
<text x="1061.3" y="320.4" font-size="13.5">10<tspan font-size="9.2" dy="-6.2">3</tspan></text>
<text x="1228.5" y="439.8" font-size="13.5">10<tspan font-size="9.2" dy="-6.2">4</tspan></text>
<text x="1061.3" y="286.5" font-size="13.5">10<tspan font-size="9.2" dy="-6.2">4</tspan></text>
<text x="1264.6" y="439.8" font-size="13.5">10<tspan font-size="9.2" dy="-6.2">5</tspan></text>
<text x="1061.3" y="252.6" font-size="13.5">10<tspan font-size="9.2" dy="-6.2">5</tspan></text>
<path d="M1173 289.5h1m-67 86h1m-4 -39h1m77 32h1m-11 -84h1m-48 -20h1m28 76h1m-34 -25h1m123 -35h1m-145 68h1m130 26h1m-103 -79h1m49 21h1m-28 29h1m-6 -67h1m52 49h1m-6 81h1m-45 -85h1m-26 16h1m118 -78h1m-27 76h1m-52 8h1m-18 -26h1m22 8h1m-9 66h1" stroke="#e8d8d8" stroke-width="1" fill="none"/>
<ellipse cx="1181" cy="312" rx="27" ry="13.5" transform="rotate(-80 1181 312)" fill="#c85050" fill-opacity="0.2" filter="url(#ab2)" clip-path="url(#gL8)"/>
<ellipse cx="1165" cy="350" rx="28.6" ry="6.5" transform="rotate(-60 1165 350)" fill="#c87070" fill-opacity="0.1" filter="url(#ab2)" clip-path="url(#gL8)"/>
<ellipse cx="1197" cy="312" rx="22.4" ry="9.8" transform="rotate(-70 1197 312)" fill="#40b8d8" fill-opacity="0.2" filter="url(#ab2)" clip-path="url(#gR8)"/>
<g clip-path="url(#gL8)"><ellipse cx="1181" cy="312" rx="21.6" ry="15.8" transform="rotate(-80 1181 312)" fill="#c63a3a" fill-opacity="0.8" filter="url(#spkA)"/></g>
<g clip-path="url(#gR8)"><ellipse cx="1197" cy="312" rx="18.4" ry="10.5" transform="rotate(-70 1197 312)" fill="#38bfe4" fill-opacity="0.8" filter="url(#spkA)"/></g>
<path d="M1179 308.5h1m9 10h1m-18 -35h1m-5 45h1m-11 -4h1m28 -1h1m-8 0h1m-11 -16h1m17 -15h1m-16 41h1m8 6h1m-13 3h1m6 -57h1m-13 20h1m16 -14h1m-22 12h1m11 -7h1m-3 7h1m11 18h1m-3 -46h1m-6 34h1m-3 9h1m2 20h1m-9 -30h1m2 -19h1m10 45h1m1 -61h1m-10 29h1m4 29h1m-3 -5h1m-6 -11h1m-2 17h1m-8 -1h1m11 -17h1m9 1h1m-19 15h1m16 -38h1m-2 3h1m-26 28h1m13 -5h1m12 -41h1m-7 15h1m-9 20h1m13 -4h1m-6 -1h1m-2 17h1m-25 -14h1m19 12h1m-4 -21h1m-22 22h1m-6 -20h1m34 -6h1m-11 -4h1m10 6h1" stroke="#e2b6b6" stroke-width="1" fill="none"/>
<path d="M1167 324.5h1m12 -28h1m-3 15h1m9 -8h1m-12 26h1m8 -43h1m-4 35h1m-2 -18h1m-3 8h1m4 18h1m-12 15h1m-8 -31h1m-4 16h1m15 -29h1m-4 -17h1m-5 67h1m-7 -19h1m13 -26h1m-1 -17h1m2 17h1m-3 -1h1m-18 -6h1m20 -17h1m1 19h1m-21 31h1m-6 -15h1m20 -9h1m-11 7h1m-2 5h1m11 -21h1m-6 19h1m-9 5h1m4 -13h1m7 -37h1m2 30h1m-19 46h1m-6 -25h1m7 11h1m-3 -58h1m2 62h1m9 -16h1m-1 -33h1m-11 51h1m14 -19h1m-22 -9h1m3 -17h1m9 26h1m6 -3h1m-14 25h1m1 -26h1m-2 -16h1m9 33h1m-16 -14h1m-5 -15h1m5 3h1m-2 8h1m4 -11h1m-3 3h1m-4 23h1m11 -40h1m-2 4h1m-1 5h1m-11 36h1m8 -26h1m-13 -10h1m-1 17h1m9 6h1m-5 -15h1m-9 -18h1m15 30h1m-5 -22h1m5 18h1m-3 -28h1m-1 37h1m-21 -40h1m2 50h1m10 -22h1m-5 -16h1m-4 30h1m9 6h1m5 -38h1m-18 23h1m0 -9h1m10 -41h1m-6 13h1m10 15h1m-9 40h1m-11 -33h1m16 11h1m-8 -28h1m-14 54h1m6 -36h1m4 4h1m2 17h1m-1 -46h1m-23 51h1m18 -20h1m6 0h1m-17 39h1m16 -11h1m-13 -10h1m9 -31h1m-12 -5h1m6 8h1m-11 4h1m-20 42h1m33 -25h1m-8 -32h1m5 -2h1m0 -17h1m1 29h1m-12 -4h1m0 38h1m1 -39h1m-16 36h1m19 -15h1m-1 12h1m-18 -10h1m8 4h1" stroke="#c44444" stroke-width="1" fill="none"/>
<path d="M1194 269.5h1m5 60h1m-6 -36h1m7 49h1m-11 0h1m-2 -48h1m-1 39h1m-3 -42h1m8 11h1m-10 -24h1m2 46h1m-4 -44h1m12 40h1m-14 -41h1m1 14h1" stroke="#b4e2ee" stroke-width="1" fill="none"/>
<path d="M1197 321.5h1m-6 -22h1m-3 -10h1m3 11h1m-5 15h1m11 -11h1m-13 12h1m2 -21h1m-3 24h1m2 -17h1m9 27h1m-11 -4h1m4 8h1m-9 -26h1m0 -22h1m-2 20h1m5 28h1m2 -32h1m2 15h1m-8 21h1m-4 -13h1m-5 -27h1m0 -4h1m8 16h1m5 -9h1m-8 38h1m-9 -65h1m-1 40h1m4 -4h1m2 9h1m-5 -10h1m1 12h1m-4 -24h1m-3 39h1m9 -22h1" stroke="#3cbde0" stroke-width="1" fill="none"/>
<path d="M1167 338.5h1m3 -5h1m-1 20h1m-16 21h1m26 -41h1m-17 29h1m-3 1h1m10 -30h1m-26 36h1m5 -11h1m5 -4h1m-4 12h1m-18 22h1m28 -56h1m2 3h1m-8 10h1m-7 13h1m7 -11h1m1 -10h1m-15 36h1m-2 -20h1m8 12h1m4 -30h1m2 13h1m-31 23h1m9 -11h1m34 -43h1m-34 53h1m15 -20h1m-15 12h1m19 -38h1m-26 20h1m12 18h1m-21 8h1m18 -14h1m7 -23h1m-5 1h1m-22 40h1m32 -56h1m-19 37h1m-11 16h1m12 -24h1m-14 12h1m11 6h1m-6 -2h1m9 -8h1m-7 7h1m-16 24h1m16 -49h1" stroke="#e2b6b6" stroke-width="1" fill="none"/>
<path d="M1150 355.5h1m22 -32h1m3 19h1m-6 -5h1m-1 12h1m5 -26h1m-23 30h1m-6 15h1m13 -27h1m-31 63h1m34 -42h1m5 -11h1m-16 7h1m15 -34h1m-11 9h1m0 15h1m-9 9h1m15 -29h1m-24 32h1m24 -22h1m-12 -3h1m18 -26h1m-26 44h1m-13 37h1m23 -53h1m13 -8h1m-16 29h1m11 -38h1m2 -4h1m-33 45h1m-3 -5h1m-3 19h1m11 -40h1" stroke="#c44444" stroke-width="1" fill="none"/>
<path d="M1195 314.5h1" stroke="#3cbde0" stroke-width="1" fill="none"/>
<path d="M1188 314.5h1m-8 17h1m5 -20h1m-4 22h1m-8 5h1m3 -61h1m0 57h1m3 -29h1m-3 3h1m2 8h1m-1 -29h1m-11 41h1m7 -8h1" stroke="#e2b6b6" stroke-width="1" fill="none"/>
<path d="M1177 313.5h1m7 11h1m2 -19h1m0 9h1m-5 27h1m2 -33h1m-9 20h1m-7 13h1m10 -18h1m-1 -21h1m-4 25h1m-2 7h1m3 21h1m1 -21h1m1 -7h1m-3 -13h1m-6 8h1m3 -11h1m-3 1h1m3 22h1m-4 -20h1m2 0h1m-3 28h1m-1 -45h1m-2 23h1m-4 -20h1" stroke="#c44444" stroke-width="1" fill="none"/>
<path d="M1205 325.5h1m-5 -25h1m-8 33h1m-1 -24h1m-1 5h1m-3 -14h1m0 44h1m6 -33h1m-2 16h1m-3 -17h1m1 -4h1m-4 12h1m6 3h1m-13 9h1m11 -25h1m-15 16h1m11 -15h1m1 -16h1m0 42h1m0 -37h1m-2 27h1m-11 -21h1m6 1h1m-8 9h1m19 -15h1m1 11h1m-12 -4h1m2 -16h1m-6 39h1m0 -34h1m-10 18h1m-7 -9h1m0 12h1m18 -26h1m-16 32h1m-2 -9h1m11 1h1m-12 -9h1m-2 26h1m15 -36h1m-19 18h1m-1 -3h1m8 -7h1m-10 15h1m4 18h1m-6 -21h1m10 18h1m1 -46h1m-16 38h1m14 4h1m-7 8h1m1 -19h1m-9 4h1m7 -2h1m-9 -14h1m-4 14h1m6 -18h1m-5 23h1m6 -11h1" stroke="#b4e2ee" stroke-width="1" fill="none"/>
<path d="M1193 311.5h1m5 -8h1m-3 12h1m7 3h1m-12 8h1m0 -21h1m-1 22h1m8 -43h1m-7 29h1m4 5h1m3 -16h1m-7 13h1m-3 -4h1m-1 18h1m7 -1h1m-9 -35h1m-4 30h1m-2 -5h1m-5 -20h1m12 -18h1m-14 28h1m7 10h1m4 -12h1m-12 27h1m-3 -38h1m3 34h1m2 -44h1m4 14h1m-8 -8h1m-6 44h1m3 -15h1m6 -17h1m2 -12h1m-5 22h1m3 4h1m-15 -25h1m7 22h1m2 22h1m8 -16h1m-2 15h1m-14 -10h1m7 -2h1m-6 -15h1m0 32h1m0 -66h1m-2 18h1m-3 8h1m-1 17h1m18 -36h1m-8 13h1m-6 30h1m-16 -35h1m13 5h1m-10 17h1m5 -18h1m-6 30h1m-4 -10h1m8 -16h1m-2 40h1m2 -32h1m-1 -22h1m-12 35h1m-2 -20h1m18 -13h1m-4 -8h1m-19 38h1m6 -1h1m-9 -9h1m16 -8h1m6 -2h1m-17 15h1m1 4h1m2 -5h1m2 -16h1m-11 16h1m11 -25h1m-19 40h1m20 -16h1m-16 -27h1m3 10h1m3 18h1m-15 13h1m15 -12h1m-12 -8h1m7 -2h1m-8 36h1m-1 -18h1m4 24h1m-12 -23h1m27 -61h1m-20 54h1m-7 9h1m0 11h1m-2 11h1m3 -30h1m11 -22h1m-15 49h1m-3 -37h1m10 -12h1m-9 49h1m1 -37h1m18 -9h1m-19 19h1m-6 -7h1m12 5h1m-11 -19h1m-8 21h1m6 1h1m3 -15h1" stroke="#3cbde0" stroke-width="1" fill="none"/>
<g clip-path="url(#gL8)">
<polygon points="1175.5,303.1 1180.8,293.8 1189.1,289.7 1189.1,321.8 1183.5,325.8 1176.8,321.8 1173.5,311.1" fill="#f23131" filter="url(#spkB)"/>
</g>
<g clip-path="url(#gR8)">
<polygon points="1189.1,289.7 1196.9,291.1 1203.5,297.8 1202.2,307.1 1194.2,316.5 1189.1,319.1" fill="#2ec4ec" filter="url(#spkB)"/>
</g>
<line x1="1189" y1="271.6" x2="1251.7" y2="271.6" stroke="#111" stroke-width="1.8"/>
<text x="1251.7" y="268.6" font-size="16" text-anchor="end" fill="#000">27.30%</text>
<text x="303.7" y="26" font-size="17" text-anchor="middle" fill="#000">sh-NC</text>
<text x="536.9" y="26" font-size="17" text-anchor="middle" fill="#000">sh-IDH2</text>
<text x="943.4" y="24.3" font-size="21" text-anchor="middle" fill="#000">sh-NC</text>
<text x="1189.5" y="24.3" font-size="21" text-anchor="middle" fill="#000">sh-IDH2</text>
<text x="133.8" y="130" font-size="20.5" text-anchor="middle" transform="rotate(-90 133.8 130)" fill="#000">0 Gy</text>
<text x="133.8" y="326" font-size="20.5" text-anchor="middle" transform="rotate(-90 133.8 326)" fill="#000">8 Gy</text>
<text x="782.5" y="130" font-size="20.5" text-anchor="middle" transform="rotate(-90 782.5 130)" fill="#000">0 Gy</text>
<text x="783" y="326" font-size="20.5" text-anchor="middle" transform="rotate(-90 783 326)" fill="#000">8 Gy</text>
<line x1="151.5" y1="46" x2="151.5" y2="392" stroke="#000" stroke-width="2.4"/>
<polygon points="151.5,26 145.5,48 151.5,43 157.5,48" fill="#000"/>
<line x1="798.7" y1="46" x2="798.7" y2="391" stroke="#000" stroke-width="2.4"/>
<polygon points="798.7,26 792.7,48 798.7,43 804.7,48" fill="#000"/>
<line x1="247.8" y1="453.5" x2="611.7" y2="453.5" stroke="#000" stroke-width="2.4"/>
<polygon points="631.7,453.5 609.7,447.5 614.7,453.5 609.7,459.5" fill="#000"/>
<line x1="893" y1="455.2" x2="1256" y2="455.2" stroke="#000" stroke-width="2.4"/>
<polygon points="1276,455.2 1254,449.2 1259,455.2 1254,461.2" fill="#000"/>
<text x="154" y="410" font-size="13" text-anchor="middle" transform="rotate(-90 154 410)" fill="#000">PE</text>
<text x="803" y="415.3" font-size="13" text-anchor="middle" transform="rotate(-90 803 415.3)" fill="#000">PE</text>
<text x="207.4" y="456.5" font-size="13.6" text-anchor="start" fill="#000">FITC</text>
<text x="846.8" y="459" font-size="13.6" text-anchor="start" fill="#000">FITC</text>
<text x="57.5" y="536.5" font-size="37" text-anchor="start" font-weight="bold" fill="#000">b</text>
<text x="328" y="590" font-size="13" text-anchor="middle" fill="#000">Kyse140</text>
<text x="547.3" y="590" font-size="13" text-anchor="middle" fill="#000">Kyse510</text>
<rect x="221.2" y="603.5" width="206.8" height="41.5" fill="#d3d1de" stroke="#82828a" stroke-width="2.2"/>
<rect x="223.4" y="605.7" width="202.4" height="37.1" fill="none" stroke="#ececf6" stroke-width="1.4"/>
<rect x="221.2" y="647.9" width="206.8" height="41.1" fill="#d3d1de" stroke="#82828a" stroke-width="2.2"/>
<rect x="223.4" y="650.1" width="202.4" height="36.7" fill="none" stroke="#ececf6" stroke-width="1.4"/>
<rect x="221.2" y="691.9" width="206.8" height="43.1" fill="#d3d1de" stroke="#82828a" stroke-width="2.2"/>
<rect x="223.4" y="694.1" width="202.4" height="38.7" fill="none" stroke="#ececf6" stroke-width="1.4"/>
<rect x="437.8" y="604" width="213.6" height="40.3" fill="#d3d1de" stroke="#82828a" stroke-width="2.2"/>
<rect x="440" y="606.2" width="209.2" height="35.9" fill="none" stroke="#ececf6" stroke-width="1.4"/>
<rect x="437.8" y="649" width="213.6" height="41" fill="#d3d1de" stroke="#82828a" stroke-width="2.2"/>
<rect x="440" y="651.2" width="209.2" height="36.6" fill="none" stroke="#ececf6" stroke-width="1.4"/>
<rect x="437.8" y="693.5" width="213.6" height="42.5" fill="#d3d1de" stroke="#82828a" stroke-width="2.2"/>
<rect x="440" y="695.7" width="209.2" height="38.1" fill="none" stroke="#ececf6" stroke-width="1.4"/>
<text x="209.7" y="636.5" font-size="13.5" text-anchor="end" fill="#000">DRP1</text>
<text x="209.7" y="678.7" font-size="13.5" text-anchor="end" fill="#000">OPA1</text>
<text x="209.7" y="728.6" font-size="13.5" text-anchor="end" fill="#000">GAPDH</text>
<rect x="227.1" y="617" width="29.8" height="6.1" rx="3" fill="#0a0a10" fill-opacity="0.60" filter="url(#bb)"/>
<rect x="276.5" y="614.5" width="35.9" height="8.2" rx="4.1" fill="#0a0a10" fill-opacity="0.95" filter="url(#bb)"/>
<rect x="330" y="614.5" width="36.9" height="8.2" rx="4.1" fill="#0a0a10" fill-opacity="0.95" filter="url(#bb)"/>
<rect x="382.4" y="614.8" width="36.7" height="10.4" rx="5.2" fill="#0a0a10" fill-opacity="1.00" filter="url(#bb)"/>
<rect x="229.6" y="664" width="38.8" height="11" rx="5.5" fill="#0a0a10" fill-opacity="1.00" filter="url(#bb)"/>
<rect x="278.6" y="663.4" width="40.9" height="10.1" rx="5" fill="#0a0a10" fill-opacity="1.00" filter="url(#bb)"/>
<rect x="333.9" y="662.2" width="33.1" height="8.2" rx="4.1" fill="#0a0a10" fill-opacity="0.92" filter="url(#bb)"/>
<rect x="385.3" y="663.3" width="31.9" height="5.3" rx="2.7" fill="#0a0a10" fill-opacity="0.25" filter="url(#bb)"/>
<rect x="226.4" y="706.7" width="37.6" height="9.1" rx="4.6" fill="#0a0a10" fill-opacity="0.95" filter="url(#bb)"/>
<rect x="276.6" y="707.7" width="40.9" height="10.6" rx="5.3" fill="#0a0a10" fill-opacity="1.00" filter="url(#bb)"/>
<rect x="331.9" y="707.8" width="36.1" height="9.1" rx="4.6" fill="#0a0a10" fill-opacity="0.95" filter="url(#bb)"/>
<rect x="382.4" y="706.1" width="37.6" height="9.1" rx="4.6" fill="#0a0a10" fill-opacity="0.95" filter="url(#bb)"/>
<rect x="443" y="611.3" width="38.8" height="5.3" rx="2.7" fill="#0a0a10" fill-opacity="0.35" filter="url(#bb)"/>
<rect x="496.1" y="612" width="39.9" height="6.1" rx="3" fill="#0a0a10" fill-opacity="0.60" filter="url(#bb)"/>
<rect x="550.8" y="614" width="39.9" height="6.1" rx="3" fill="#0a0a10" fill-opacity="0.65" filter="url(#bb)"/>
<rect x="605" y="614.6" width="39.9" height="8" rx="4" fill="#0a0a10" fill-opacity="0.95" filter="url(#bb)"/>
<rect x="443.1" y="666.9" width="42.8" height="9.1" rx="4.6" fill="#0a0a10" fill-opacity="1.00" filter="url(#bb)"/>
<rect x="497" y="668.5" width="38" height="6.1" rx="3" fill="#0a0a10" fill-opacity="0.80" filter="url(#bb)"/>
<rect x="552.9" y="667.9" width="33.8" height="6.3" rx="3.1" fill="#0a0a10" fill-opacity="0.72" filter="url(#bb)"/>
<rect x="603.1" y="665.7" width="40.9" height="4.6" rx="2.3" fill="#0a0a10" fill-opacity="0.30" filter="url(#bb)"/>
<rect x="443" y="709.6" width="37.8" height="11.8" rx="5.9" fill="#0a0a10" fill-opacity="1.00" filter="url(#bb)"/>
<rect x="497" y="707.4" width="38" height="9.1" rx="4.6" fill="#0a0a10" fill-opacity="0.95" filter="url(#bb)"/>
<rect x="555" y="704" width="38" height="10.1" rx="5" fill="#0a0a10" fill-opacity="1.00" filter="url(#bb)"/>
<rect x="608" y="702" width="38" height="10.1" rx="5" fill="#0a0a10" fill-opacity="1.00" filter="url(#bb)"/>
<text x="230.5" y="751.5" font-size="14" text-anchor="start" transform="rotate(34 230.5 751.5)" fill="#000">sh-NC</text>
<text x="277.4" y="751.5" font-size="14" text-anchor="start" transform="rotate(34 277.4 751.5)" fill="#000">sh-IDH2</text>
<text x="330.5" y="751.5" font-size="14" text-anchor="start" transform="rotate(34 330.5 751.5)" fill="#000">sh-NC+8 Gy</text>
<text x="382.8" y="751.5" font-size="14" text-anchor="start" transform="rotate(34 382.8 751.5)" fill="#000">sh-IDH2+8 Gy</text>
<text x="455" y="751.5" font-size="14" text-anchor="start" transform="rotate(34 455 751.5)" fill="#000">sh-NC</text>
<text x="510.9" y="751.5" font-size="14" text-anchor="start" transform="rotate(34 510.9 751.5)" fill="#000">sh-IDH2</text>
<text x="566.9" y="751.5" font-size="14" text-anchor="start" transform="rotate(34 566.9 751.5)" fill="#000">sh-NC+8 Gy</text>
<text x="617.5" y="751.5" font-size="14" text-anchor="start" transform="rotate(34 617.5 751.5)" fill="#000">sh-IDH2+8 Gy</text>
<text x="775.5" y="537" font-size="37" text-anchor="start" font-weight="bold" fill="#000">c</text>
<rect x="866" y="523.5" width="359.2" height="153.7" rx="2" fill="#d3d2d9" stroke="#161616" stroke-width="2.2"/>
<line x1="1066.2" y1="523.5" x2="1066.2" y2="677.2" stroke="#161616" stroke-width="2.2"/>
<rect x="866.8" y="686.4" width="359.2" height="152.8" rx="2" fill="#d3d2d9" stroke="#161616" stroke-width="2.2"/>
<line x1="1066.3" y1="686.4" x2="1066.3" y2="839.2" stroke="#161616" stroke-width="2.2"/>
<ellipse cx="888.8" cy="541.5" rx="19" ry="12" fill="#000" fill-opacity="0.3" filter="url(#bd2h)"/>
<ellipse cx="892.2" cy="660.6" rx="19" ry="12" fill="#000" fill-opacity="0.3" filter="url(#bd2h)"/>
<ellipse cx="1198" cy="546.8" rx="23" ry="14" fill="#000" fill-opacity="0.3" filter="url(#bd2h)"/>
<ellipse cx="893.3" cy="703.5" rx="19" ry="12.5" fill="#000" fill-opacity="0.3" filter="url(#bd2h)"/>
<ellipse cx="894.1" cy="822.5" rx="19" ry="12.5" fill="#000" fill-opacity="0.3" filter="url(#bd2h)"/>
<ellipse cx="1196.5" cy="709.6" rx="22" ry="13.5" fill="#000" fill-opacity="0.3" filter="url(#bd2h)"/>
<circle cx="880.5" cy="541.5" r="10" fill="#000" fill-opacity="1.00" filter="url(#bd)"/>
<circle cx="897.1" cy="541.5" r="10" fill="#000" fill-opacity="1.00" filter="url(#bd)"/>
<circle cx="888.8" cy="541.5" r="7" fill="#000" fill-opacity="1.00" filter="url(#bd)"/>
<circle cx="884.3" cy="660.6" r="10" fill="#000" fill-opacity="1.00" filter="url(#bd)"/>
<circle cx="900.2" cy="660.6" r="10" fill="#000" fill-opacity="1.00" filter="url(#bd)"/>
<circle cx="892.2" cy="660.6" r="7" fill="#000" fill-opacity="1.00" filter="url(#bd)"/>
<circle cx="926.7" cy="658.3" r="5" fill="#000" fill-opacity="1.00" filter="url(#bd)"/>
<circle cx="944.2" cy="658.3" r="5" fill="#000" fill-opacity="1.00" filter="url(#bd)"/>
<circle cx="922.9" cy="538.5" r="4.9" fill="#000" fill-opacity="0.42" filter="url(#bd)"/>
<circle cx="939.6" cy="538.5" r="4.9" fill="#000" fill-opacity="0.35" filter="url(#bd)"/>
<circle cx="957" cy="538.5" r="4.9" fill="#000" fill-opacity="1.00" filter="url(#bd)"/>
<circle cx="973.7" cy="538.5" r="4.9" fill="#000" fill-opacity="1.00" filter="url(#bd)"/>
<circle cx="1000.3" cy="538.5" r="4.9" fill="#000" fill-opacity="1.00" filter="url(#bd)"/>
<circle cx="1017.7" cy="538.5" r="4.9" fill="#000" fill-opacity="1.00" filter="url(#bd)"/>
<circle cx="1034.4" cy="538.5" r="4.9" fill="#000" fill-opacity="1.00" filter="url(#bd)"/>
<circle cx="1051.4" cy="538.5" r="4.9" fill="#000" fill-opacity="1.00" filter="url(#bd)"/>
<circle cx="922.9" cy="555.6" r="4.9" fill="#000" fill-opacity="0.13" filter="url(#bd)"/>
<circle cx="939.6" cy="555.6" r="4.9" fill="#000" fill-opacity="0.13" filter="url(#bd)"/>
<circle cx="957" cy="555.6" r="4.9" fill="#000" fill-opacity="0.99" filter="url(#bd)"/>
<circle cx="973.7" cy="555.6" r="4.9" fill="#000" fill-opacity="0.99" filter="url(#bd)"/>
<circle cx="1000.3" cy="555.6" r="4.9" fill="#000" fill-opacity="0.11" filter="url(#bd)"/>
<circle cx="1017.7" cy="555.6" r="4.9" fill="#000" fill-opacity="0.08" filter="url(#bd)"/>
<circle cx="1034.4" cy="555.6" r="4.9" fill="#000" fill-opacity="0.50" filter="url(#bd)"/>
<circle cx="1051.4" cy="555.6" r="4.9" fill="#000" fill-opacity="0.42" filter="url(#bd)"/>
<circle cx="882.7" cy="582.5" r="4.9" fill="#000" fill-opacity="0.35" filter="url(#bd)"/>
<circle cx="899.4" cy="582.5" r="4.9" fill="#000" fill-opacity="0.35" filter="url(#bd)"/>
<circle cx="922.9" cy="582.5" r="4.9" fill="#000" fill-opacity="0.16" filter="url(#bd)"/>
<circle cx="939.6" cy="582.5" r="4.9" fill="#000" fill-opacity="0.13" filter="url(#bd)"/>
<circle cx="957" cy="582.5" r="4.9" fill="#000" fill-opacity="0.42" filter="url(#bd)"/>
<circle cx="973.7" cy="582.5" r="4.9" fill="#000" fill-opacity="0.35" filter="url(#bd)"/>
<circle cx="1000.3" cy="582.5" r="4.9" fill="#000" fill-opacity="0.13" filter="url(#bd)"/>
<circle cx="1017.7" cy="582.5" r="4.9" fill="#000" fill-opacity="0.11" filter="url(#bd)"/>
<circle cx="1034.4" cy="582.5" r="4.9" fill="#000" fill-opacity="0.08" filter="url(#bd)"/>
<circle cx="1051.4" cy="582.5" r="4.9" fill="#000" fill-opacity="0.06" filter="url(#bd)"/>
<circle cx="882.7" cy="598.4" r="4.9" fill="#000" fill-opacity="0.35" filter="url(#bd)"/>
<circle cx="899.4" cy="598.4" r="4.9" fill="#000" fill-opacity="0.35" filter="url(#bd)"/>
<circle cx="922.9" cy="598.4" r="4.9" fill="#000" fill-opacity="0.11" filter="url(#bd)"/>
<circle cx="939.6" cy="598.4" r="4.9" fill="#000" fill-opacity="0.11" filter="url(#bd)"/>
<circle cx="957" cy="598.4" r="4.9" fill="#000" fill-opacity="0.05" filter="url(#bd)"/>
<circle cx="973.7" cy="598.4" r="4.9" fill="#000" fill-opacity="0.05" filter="url(#bd)"/>
<circle cx="1000.3" cy="598.4" r="4.9" fill="#000" fill-opacity="0.22" filter="url(#bd)"/>
<circle cx="1017.7" cy="598.4" r="4.9" fill="#000" fill-opacity="0.22" filter="url(#bd)"/>
<circle cx="1034.4" cy="598.4" r="4.9" fill="#000" fill-opacity="0.03" filter="url(#bd)"/>
<circle cx="1051.4" cy="598.4" r="4.9" fill="#000" fill-opacity="0.03" filter="url(#bd)"/>
<circle cx="882.7" cy="615" r="4.9" fill="#000" fill-opacity="0.11" filter="url(#bd)"/>
<circle cx="899.4" cy="615" r="4.9" fill="#000" fill-opacity="0.08" filter="url(#bd)"/>
<circle cx="922.9" cy="615" r="4.9" fill="#000" fill-opacity="0.35" filter="url(#bd)"/>
<circle cx="939.6" cy="615" r="4.9" fill="#000" fill-opacity="0.35" filter="url(#bd)"/>
<circle cx="957" cy="615" r="4.9" fill="#000" fill-opacity="0.03" filter="url(#bd)"/>
<circle cx="973.7" cy="615" r="4.9" fill="#000" fill-opacity="0.03" filter="url(#bd)"/>
<circle cx="1000.3" cy="615" r="4.9" fill="#000" fill-opacity="0.29" filter="url(#bd)"/>
<circle cx="1017.7" cy="615" r="4.9" fill="#000" fill-opacity="0.29" filter="url(#bd)"/>
<circle cx="1034.4" cy="615" r="4.9" fill="#000" fill-opacity="0.11" filter="url(#bd)"/>
<circle cx="1051.4" cy="615" r="4.9" fill="#000" fill-opacity="0.11" filter="url(#bd)"/>
<circle cx="882.7" cy="632.5" r="4.9" fill="#000" fill-opacity="0.13" filter="url(#bd)"/>
<circle cx="899.4" cy="632.5" r="4.9" fill="#000" fill-opacity="0.13" filter="url(#bd)"/>
<circle cx="922.9" cy="632.5" r="4.9" fill="#000" fill-opacity="0.22" filter="url(#bd)"/>
<circle cx="939.6" cy="632.5" r="4.9" fill="#000" fill-opacity="0.22" filter="url(#bd)"/>
<circle cx="957" cy="632.5" r="4.9" fill="#000" fill-opacity="1.00" filter="url(#bd)"/>
<circle cx="975" cy="632.5" r="4.9" fill="#000" fill-opacity="1.00" filter="url(#bd)"/>
<circle cx="1000.3" cy="632.5" r="4.9" fill="#000" fill-opacity="0.05" filter="url(#bd)"/>
<circle cx="1017.7" cy="632.5" r="4.9" fill="#000" fill-opacity="0.05" filter="url(#bd)"/>
<circle cx="1034.4" cy="632.5" r="4.9" fill="#000" fill-opacity="0.29" filter="url(#bd)"/>
<circle cx="1051.4" cy="632.5" r="4.9" fill="#000" fill-opacity="0.29" filter="url(#bd)"/>
<circle cx="1113.2" cy="546" r="4.9" fill="#000" fill-opacity="0.57" filter="url(#bd)"/>
<circle cx="1129.4" cy="546" r="4.9" fill="#000" fill-opacity="0.53" filter="url(#bd)"/>
<circle cx="1078.7" cy="564.2" r="4.9" fill="#000" fill-opacity="1.00" filter="url(#bd)"/>
<circle cx="1096.2" cy="564.2" r="4.9" fill="#000" fill-opacity="1.00" filter="url(#bd)"/>
<circle cx="1112.4" cy="564.2" r="4.9" fill="#000" fill-opacity="1.00" filter="url(#bd)"/>
<circle cx="1129.4" cy="564.2" r="4.9" fill="#000" fill-opacity="0.99" filter="url(#bd)"/>
<circle cx="1188" cy="546.8" r="12" fill="#000" fill-opacity="1.00" filter="url(#bd)"/>
<circle cx="1208" cy="546.8" r="12" fill="#000" fill-opacity="1.00" filter="url(#bd)"/>
<circle cx="1198" cy="546.8" r="11" fill="#000" fill-opacity="1.00" filter="url(#bd)"/>
<circle cx="1082.2" cy="588.9" r="5" fill="#000" fill-opacity="1.00" filter="url(#bd)"/>
<circle cx="1098.9" cy="588.9" r="5" fill="#000" fill-opacity="1.00" filter="url(#bd)"/>
<circle cx="1115.6" cy="588.9" r="5" fill="#000" fill-opacity="0.73" filter="url(#bd)"/>
<circle cx="1132.3" cy="588.9" r="5" fill="#000" fill-opacity="0.65" filter="url(#bd)"/>
<circle cx="1082.2" cy="605.5" r="5" fill="#000" fill-opacity="1.00" filter="url(#bd)"/>
<circle cx="1098.9" cy="605.5" r="5" fill="#000" fill-opacity="1.00" filter="url(#bd)"/>
<circle cx="1115.6" cy="605.5" r="5" fill="#000" fill-opacity="1.00" filter="url(#bd)"/>
<circle cx="1132.3" cy="605.5" r="5" fill="#000" fill-opacity="1.00" filter="url(#bd)"/>
<circle cx="1082.2" cy="623" r="5" fill="#000" fill-opacity="1.00" filter="url(#bd)"/>
<circle cx="1098.9" cy="623" r="5" fill="#000" fill-opacity="1.00" filter="url(#bd)"/>
<circle cx="1115.6" cy="623" r="5" fill="#000" fill-opacity="0.29" filter="url(#bd)"/>
<circle cx="1132.3" cy="623" r="5" fill="#000" fill-opacity="0.29" filter="url(#bd)"/>
<circle cx="1082.2" cy="638.9" r="5" fill="#000" fill-opacity="1.00" filter="url(#bd)"/>
<circle cx="1098.9" cy="638.9" r="5" fill="#000" fill-opacity="1.00" filter="url(#bd)"/>
<circle cx="1115.6" cy="638.9" r="5" fill="#000" fill-opacity="0.82" filter="url(#bd)"/>
<circle cx="1132.3" cy="638.9" r="5" fill="#000" fill-opacity="0.73" filter="url(#bd)"/>
<circle cx="1156.6" cy="585.7" r="5" fill="#000" fill-opacity="1.00" filter="url(#bd)"/>
<circle cx="1173.6" cy="585.7" r="5" fill="#000" fill-opacity="1.00" filter="url(#bd)"/>
<circle cx="1156.6" cy="602.4" r="5" fill="#000" fill-opacity="0.65" filter="url(#bd)"/>
<circle cx="1173.6" cy="602.4" r="5" fill="#000" fill-opacity="0.57" filter="url(#bd)"/>
<circle cx="1156.6" cy="619.8" r="5" fill="#000" fill-opacity="0.57" filter="url(#bd)"/>
<circle cx="1173.6" cy="619.8" r="5" fill="#000" fill-opacity="0.57" filter="url(#bd)"/>
<circle cx="1156.6" cy="636.5" r="5" fill="#000" fill-opacity="0.90" filter="url(#bd)"/>
<circle cx="1173.6" cy="636.5" r="5" fill="#000" fill-opacity="0.82" filter="url(#bd)"/>
<circle cx="1082.2" cy="665.1" r="4.9" fill="#000" fill-opacity="1.00" filter="url(#bd)"/>
<circle cx="1098.9" cy="665.1" r="4.9" fill="#000" fill-opacity="1.00" filter="url(#bd)"/>
<circle cx="885" cy="703.5" r="10.5" fill="#000" fill-opacity="1.00" filter="url(#bd)"/>
<circle cx="901.7" cy="703.5" r="10.5" fill="#000" fill-opacity="1.00" filter="url(#bd)"/>
<circle cx="893.3" cy="703.5" r="7.5" fill="#000" fill-opacity="1.00" filter="url(#bd)"/>
<circle cx="885.8" cy="822.5" r="10.5" fill="#000" fill-opacity="1.00" filter="url(#bd)"/>
<circle cx="902.5" cy="822.5" r="10.5" fill="#000" fill-opacity="1.00" filter="url(#bd)"/>
<circle cx="894.1" cy="822.5" r="7.5" fill="#000" fill-opacity="1.00" filter="url(#bd)"/>
<circle cx="928.5" cy="821.8" r="5" fill="#000" fill-opacity="1.00" filter="url(#bd)"/>
<circle cx="945.2" cy="821.8" r="5" fill="#000" fill-opacity="1.00" filter="url(#bd)"/>
<circle cx="926" cy="703" r="4.9" fill="#000" fill-opacity="0.50" filter="url(#bd)"/>
<circle cx="943.1" cy="703" r="4.9" fill="#000" fill-opacity="0.42" filter="url(#bd)"/>
<circle cx="960.4" cy="703" r="4.9" fill="#000" fill-opacity="1.00" filter="url(#bd)"/>
<circle cx="977.5" cy="703" r="4.9" fill="#000" fill-opacity="1.00" filter="url(#bd)"/>
<circle cx="1002.2" cy="703" r="4.9" fill="#000" fill-opacity="1.00" filter="url(#bd)"/>
<circle cx="1019.5" cy="703" r="4.9" fill="#000" fill-opacity="1.00" filter="url(#bd)"/>
<circle cx="1036.6" cy="703" r="4.9" fill="#000" fill-opacity="1.00" filter="url(#bd)"/>
<circle cx="1053.8" cy="703" r="4.9" fill="#000" fill-opacity="1.00" filter="url(#bd)"/>
<circle cx="926" cy="720.2" r="4.9" fill="#000" fill-opacity="0.11" filter="url(#bd)"/>
<circle cx="943.1" cy="720.2" r="4.9" fill="#000" fill-opacity="0.16" filter="url(#bd)"/>
<circle cx="960.4" cy="720.2" r="4.9" fill="#000" fill-opacity="1.00" filter="url(#bd)"/>
<circle cx="977.5" cy="720.2" r="4.9" fill="#000" fill-opacity="1.00" filter="url(#bd)"/>
<circle cx="1002.2" cy="720.2" r="4.9" fill="#000" fill-opacity="0.13" filter="url(#bd)"/>
<circle cx="1019.5" cy="720.2" r="4.9" fill="#000" fill-opacity="0.11" filter="url(#bd)"/>
<circle cx="1036.6" cy="720.2" r="4.9" fill="#000" fill-opacity="0.50" filter="url(#bd)"/>
<circle cx="1053.8" cy="720.2" r="4.9" fill="#000" fill-opacity="0.42" filter="url(#bd)"/>
<circle cx="883.5" cy="745.2" r="4.9" fill="#000" fill-opacity="0.29" filter="url(#bd)"/>
<circle cx="900.2" cy="745.2" r="4.9" fill="#000" fill-opacity="0.29" filter="url(#bd)"/>
<circle cx="926" cy="745.2" r="4.9" fill="#000" fill-opacity="0.11" filter="url(#bd)"/>
<circle cx="943.1" cy="745.2" r="4.9" fill="#000" fill-opacity="0.11" filter="url(#bd)"/>
<circle cx="960.4" cy="745.2" r="4.9" fill="#000" fill-opacity="0.57" filter="url(#bd)"/>
<circle cx="977.5" cy="745.2" r="4.9" fill="#000" fill-opacity="0.50" filter="url(#bd)"/>
<circle cx="1002.2" cy="745.2" r="4.9" fill="#000" fill-opacity="0.22" filter="url(#bd)"/>
<circle cx="1019.5" cy="745.2" r="4.9" fill="#000" fill-opacity="0.22" filter="url(#bd)"/>
<circle cx="1036.6" cy="745.2" r="4.9" fill="#000" fill-opacity="0.13" filter="url(#bd)"/>
<circle cx="1053.8" cy="745.2" r="4.9" fill="#000" fill-opacity="0.13" filter="url(#bd)"/>
<circle cx="883.5" cy="762.6" r="4.9" fill="#000" fill-opacity="0.42" filter="url(#bd)"/>
<circle cx="900.2" cy="762.6" r="4.9" fill="#000" fill-opacity="0.42" filter="url(#bd)"/>
<circle cx="926" cy="762.6" r="4.9" fill="#000" fill-opacity="0.06" filter="url(#bd)"/>
<circle cx="943.1" cy="762.6" r="4.9" fill="#000" fill-opacity="0.06" filter="url(#bd)"/>
<circle cx="960.4" cy="762.6" r="4.9" fill="#000" fill-opacity="0.04" filter="url(#bd)"/>
<circle cx="977.5" cy="762.6" r="4.9" fill="#000" fill-opacity="0.03" filter="url(#bd)"/>
<circle cx="1002.2" cy="762.6" r="4.9" fill="#000" fill-opacity="0.35" filter="url(#bd)"/>
<circle cx="1019.5" cy="762.6" r="4.9" fill="#000" fill-opacity="0.35" filter="url(#bd)"/>
<circle cx="1036.6" cy="762.6" r="4.9" fill="#000" fill-opacity="0.05" filter="url(#bd)"/>
<circle cx="1053.8" cy="762.6" r="4.9" fill="#000" fill-opacity="0.05" filter="url(#bd)"/>
<circle cx="883.5" cy="777.8" r="4.9" fill="#000" fill-opacity="0.11" filter="url(#bd)"/>
<circle cx="900.2" cy="777.8" r="4.9" fill="#000" fill-opacity="0.11" filter="url(#bd)"/>
<circle cx="926" cy="777.8" r="4.9" fill="#000" fill-opacity="0.50" filter="url(#bd)"/>
<circle cx="943.1" cy="777.8" r="4.9" fill="#000" fill-opacity="0.50" filter="url(#bd)"/>
<circle cx="960.4" cy="777.8" r="4.9" fill="#000" fill-opacity="0.03" filter="url(#bd)"/>
<circle cx="977.5" cy="777.8" r="4.9" fill="#000" fill-opacity="0.03" filter="url(#bd)"/>
<circle cx="1002.2" cy="777.8" r="4.9" fill="#000" fill-opacity="0.35" filter="url(#bd)"/>
<circle cx="1019.5" cy="777.8" r="4.9" fill="#000" fill-opacity="0.35" filter="url(#bd)"/>
<circle cx="1036.6" cy="777.8" r="4.9" fill="#000" fill-opacity="0.16" filter="url(#bd)"/>
<circle cx="1053.8" cy="777.8" r="4.9" fill="#000" fill-opacity="0.16" filter="url(#bd)"/>
<circle cx="883.5" cy="795.2" r="4.9" fill="#000" fill-opacity="0.16" filter="url(#bd)"/>
<circle cx="900.2" cy="795.2" r="4.9" fill="#000" fill-opacity="0.16" filter="url(#bd)"/>
<circle cx="926" cy="795.2" r="4.9" fill="#000" fill-opacity="0.35" filter="url(#bd)"/>
<circle cx="943.1" cy="795.2" r="4.9" fill="#000" fill-opacity="0.35" filter="url(#bd)"/>
<circle cx="960.4" cy="795.2" r="4.9" fill="#000" fill-opacity="1.00" filter="url(#bd)"/>
<circle cx="977.5" cy="795.2" r="4.9" fill="#000" fill-opacity="1.00" filter="url(#bd)"/>
<circle cx="1002.2" cy="795.2" r="4.9" fill="#000" fill-opacity="0.05" filter="url(#bd)"/>
<circle cx="1019.5" cy="795.2" r="4.9" fill="#000" fill-opacity="0.03" filter="url(#bd)"/>
<circle cx="1036.6" cy="795.2" r="4.9" fill="#000" fill-opacity="0.42" filter="url(#bd)"/>
<circle cx="1053.8" cy="795.2" r="4.9" fill="#000" fill-opacity="0.42" filter="url(#bd)"/>
<circle cx="1110" cy="708.6" r="4.9" fill="#000" fill-opacity="0.57" filter="url(#bd)"/>
<circle cx="1126.7" cy="708.6" r="4.9" fill="#000" fill-opacity="0.50" filter="url(#bd)"/>
<circle cx="1076.7" cy="725.3" r="4.9" fill="#000" fill-opacity="0.73" filter="url(#bd)"/>
<circle cx="1094.2" cy="725.3" r="4.9" fill="#000" fill-opacity="0.65" filter="url(#bd)"/>
<circle cx="1110" cy="725.3" r="4.9" fill="#000" fill-opacity="0.82" filter="url(#bd)"/>
<circle cx="1126.7" cy="725.3" r="4.9" fill="#000" fill-opacity="0.73" filter="url(#bd)"/>
<circle cx="1187" cy="709.6" r="11.5" fill="#000" fill-opacity="1.00" filter="url(#bd)"/>
<circle cx="1206" cy="709.6" r="11.5" fill="#000" fill-opacity="1.00" filter="url(#bd)"/>
<circle cx="1196.5" cy="709.6" r="10.5" fill="#000" fill-opacity="1.00" filter="url(#bd)"/>
<circle cx="1077.2" cy="751.5" r="5" fill="#000" fill-opacity="1.00" filter="url(#bd)"/>
<circle cx="1094.2" cy="751.5" r="5" fill="#000" fill-opacity="1.00" filter="url(#bd)"/>
<circle cx="1111.2" cy="751.5" r="5" fill="#000" fill-opacity="0.57" filter="url(#bd)"/>
<circle cx="1128.3" cy="751.5" r="5" fill="#000" fill-opacity="0.57" filter="url(#bd)"/>
<circle cx="1077.2" cy="768.2" r="5" fill="#000" fill-opacity="1.00" filter="url(#bd)"/>
<circle cx="1094.2" cy="768.2" r="5" fill="#000" fill-opacity="1.00" filter="url(#bd)"/>
<circle cx="1111.2" cy="768.2" r="5" fill="#000" fill-opacity="1.00" filter="url(#bd)"/>
<circle cx="1128.3" cy="768.2" r="5" fill="#000" fill-opacity="1.00" filter="url(#bd)"/>
<circle cx="1077.2" cy="785.6" r="5" fill="#000" fill-opacity="1.00" filter="url(#bd)"/>
<circle cx="1094.2" cy="785.6" r="5" fill="#000" fill-opacity="1.00" filter="url(#bd)"/>
<circle cx="1111.2" cy="785.6" r="5" fill="#000" fill-opacity="0.35" filter="url(#bd)"/>
<circle cx="1128.3" cy="785.6" r="5" fill="#000" fill-opacity="0.35" filter="url(#bd)"/>
<circle cx="1077.2" cy="802.3" r="5" fill="#000" fill-opacity="1.00" filter="url(#bd)"/>
<circle cx="1094.2" cy="802.3" r="5" fill="#000" fill-opacity="1.00" filter="url(#bd)"/>
<circle cx="1111.2" cy="802.3" r="5" fill="#000" fill-opacity="0.65" filter="url(#bd)"/>
<circle cx="1128.3" cy="802.3" r="5" fill="#000" fill-opacity="0.65" filter="url(#bd)"/>
<circle cx="1152.1" cy="747.5" r="5" fill="#000" fill-opacity="1.00" filter="url(#bd)"/>
<circle cx="1169.3" cy="747.5" r="5" fill="#000" fill-opacity="1.00" filter="url(#bd)"/>
<circle cx="1152.1" cy="765" r="5" fill="#000" fill-opacity="0.65" filter="url(#bd)"/>
<circle cx="1169.3" cy="765" r="5" fill="#000" fill-opacity="0.57" filter="url(#bd)"/>
<circle cx="1152.1" cy="781.7" r="5" fill="#000" fill-opacity="0.57" filter="url(#bd)"/>
<circle cx="1169.3" cy="781.7" r="5" fill="#000" fill-opacity="0.57" filter="url(#bd)"/>
<circle cx="1152.1" cy="798.3" r="5" fill="#000" fill-opacity="0.65" filter="url(#bd)"/>
<circle cx="1169.3" cy="798.3" r="5" fill="#000" fill-opacity="0.65" filter="url(#bd)"/>
<circle cx="1077.2" cy="826.1" r="4.9" fill="#000" fill-opacity="1.00" filter="url(#bd)"/>
<circle cx="1094.2" cy="826.1" r="4.9" fill="#000" fill-opacity="1.00" filter="url(#bd)"/>
<polyline points="1070.3,573.8 1070.3,550.7 1105.3,550.7" fill="none" stroke="#8a8a8a" stroke-width="1"/>
<rect x="1070.3" y="712.9" width="34.7" height="21.5" fill="none" stroke="#8a8a8a" stroke-width="1"/>
<text x="1246.7" y="650.2" font-size="18.5" text-anchor="start" fill="#000">p-AKT</text>
<polyline points="1105.3,573.8 1271.3,573.8 1271.3,734 1105.3,734" fill="none" stroke="#000" stroke-width="2"/>
<text x="851.2" y="607" font-size="19" text-anchor="middle" transform="rotate(-90 851.2 607)" fill="#000">sh-NC</text>
<text x="851.2" y="767" font-size="19" text-anchor="middle" transform="rotate(-90 851.2 767)" fill="#000">sh-IDH2</text>
<text x="57.5" y="911.5" font-size="37" text-anchor="start" font-weight="bold" fill="#000">d</text>
<text x="715" y="918.5" font-size="21" text-anchor="middle" fill="#000">Human phosphokinase array</text>
<line x1="231.8" y1="941.5" x2="231.8" y2="1429.6" stroke="#000" stroke-width="4.6"/>
<line x1="212.8" y1="943.8" x2="231.8" y2="943.8" stroke="#000" stroke-width="4.6"/>
<text x="201.5" y="950.8" font-size="20" text-anchor="end" fill="#000">0.4</text>
<line x1="212.8" y1="1040.5" x2="231.8" y2="1040.5" stroke="#000" stroke-width="4.6"/>
<text x="201.5" y="1047.5" font-size="20" text-anchor="end" fill="#000">0.2</text>
<line x1="212.8" y1="1137.2" x2="231.8" y2="1137.2" stroke="#000" stroke-width="4.6"/>
<text x="201.5" y="1144.2" font-size="20" text-anchor="end" fill="#000">0</text>
<line x1="212.8" y1="1233.9" x2="231.8" y2="1233.9" stroke="#000" stroke-width="4.6"/>
<text x="201.5" y="1240.9" font-size="20" text-anchor="end" fill="#000">–0.2</text>
<line x1="212.8" y1="1330.6" x2="231.8" y2="1330.6" stroke="#000" stroke-width="4.6"/>
<text x="201.5" y="1337.6" font-size="20" text-anchor="end" fill="#000">–0.4</text>
<line x1="212.8" y1="1427.3" x2="231.8" y2="1427.3" stroke="#000" stroke-width="4.6"/>
<text x="201.5" y="1434.3" font-size="20" text-anchor="end" fill="#000">–0.6</text>
<line x1="231.8" y1="1137.2" x2="1197.5" y2="1137.2" stroke="#000" stroke-width="4.4"/>
<line x1="212.8" y1="1427.3" x2="1197.5" y2="1427.3" stroke="#000" stroke-width="4.6"/>
<rect x="236.1" y="1137.2" width="12.6" height="224.7" fill="#031c1f"/>
<line x1="242.4" y1="1427.3" x2="242.4" y2="1441" stroke="#000" stroke-width="4.6"/>
<line x1="242.4" y1="1133.2" x2="242.4" y2="1137.2" stroke="#000" stroke-width="1.2"/>
<text x="248.3" y="1447.7" font-size="16.4" text-anchor="end" transform="rotate(-90 248.3 1447.7)" fill="#000" letter-spacing="0.25">Akt1/2/3(T308)</text>
<rect x="257.5" y="1137.2" width="12.6" height="199.4" fill="#000045"/>
<line x1="263.8" y1="1427.3" x2="263.8" y2="1441" stroke="#000" stroke-width="4.6"/>
<line x1="263.8" y1="1133.2" x2="263.8" y2="1137.2" stroke="#000" stroke-width="1.2"/>
<text x="269.7" y="1447.7" font-size="16.4" text-anchor="end" transform="rotate(-90 269.7 1447.7)" fill="#000" letter-spacing="0.25">p53(S392)</text>
<rect x="279" y="1137.2" width="12.6" height="196.5" fill="#00005a"/>
<line x1="285.3" y1="1427.3" x2="285.3" y2="1441" stroke="#000" stroke-width="4.6"/>
<line x1="285.3" y1="1133.2" x2="285.3" y2="1137.2" stroke="#000" stroke-width="1.2"/>
<text x="291.2" y="1447.7" font-size="16.4" text-anchor="end" transform="rotate(-90 291.2 1447.7)" fill="#000" letter-spacing="0.25">p53(S46)</text>
<rect x="300.4" y="1137.2" width="12.6" height="195.1" fill="#08434f"/>
<line x1="306.7" y1="1427.3" x2="306.7" y2="1441" stroke="#000" stroke-width="4.6"/>
<line x1="306.7" y1="1133.2" x2="306.7" y2="1137.2" stroke="#000" stroke-width="1.2"/>
<text x="312.6" y="1447.7" font-size="16.4" text-anchor="end" transform="rotate(-90 312.6 1447.7)" fill="#000" letter-spacing="0.25">p53(S15)</text>
<rect x="321.9" y="1137.2" width="12.6" height="118.5" fill="#0b5e70"/>
<line x1="328.2" y1="1427.3" x2="328.2" y2="1441" stroke="#000" stroke-width="4.6"/>
<line x1="328.2" y1="1133.2" x2="328.2" y2="1137.2" stroke="#000" stroke-width="1.2"/>
<text x="334.1" y="1447.7" font-size="16.4" text-anchor="end" transform="rotate(-90 334.1 1447.7)" fill="#000" letter-spacing="0.25">PYK2</text>
<rect x="343.3" y="1137.2" width="12.6" height="113.5" fill="#0b6479"/>
<line x1="349.6" y1="1427.3" x2="349.6" y2="1441" stroke="#000" stroke-width="4.6"/>
<line x1="349.6" y1="1133.2" x2="349.6" y2="1137.2" stroke="#000" stroke-width="1.2"/>
<text x="355.5" y="1447.7" font-size="16.4" text-anchor="end" transform="rotate(-90 355.5 1447.7)" fill="#000" letter-spacing="0.25">WNK1</text>
<rect x="364.7" y="1137.2" width="12.6" height="113.5" fill="#0a7389"/>
<line x1="371" y1="1427.3" x2="371" y2="1441" stroke="#000" stroke-width="4.6"/>
<line x1="371" y1="1133.2" x2="371" y2="1137.2" stroke="#000" stroke-width="1.2"/>
<text x="376.9" y="1447.7" font-size="16.4" text-anchor="end" transform="rotate(-90 376.9 1447.7)" fill="#000" letter-spacing="0.25">STAT3</text>
<rect x="386.2" y="1137.2" width="12.6" height="107.3" fill="#06809e"/>
<line x1="392.5" y1="1427.3" x2="392.5" y2="1441" stroke="#000" stroke-width="4.6"/>
<line x1="392.5" y1="1133.2" x2="392.5" y2="1137.2" stroke="#000" stroke-width="1.2"/>
<text x="398.4" y="1447.7" font-size="16.4" text-anchor="end" transform="rotate(-90 398.4 1447.7)" fill="#000" letter-spacing="0.25">Lck</text>
<rect x="407.6" y="1137.2" width="12.6" height="106.3" fill="#0a8bab"/>
<line x1="413.9" y1="1427.3" x2="413.9" y2="1441" stroke="#000" stroke-width="4.6"/>
<line x1="413.9" y1="1133.2" x2="413.9" y2="1137.2" stroke="#000" stroke-width="1.2"/>
<text x="419.8" y="1447.7" font-size="16.4" text-anchor="end" transform="rotate(-90 419.8 1447.7)" fill="#000" letter-spacing="0.25">STAT5b</text>
<rect x="429.1" y="1137.2" width="12.6" height="104.8" fill="#079bc0"/>
<line x1="435.4" y1="1427.3" x2="435.4" y2="1441" stroke="#000" stroke-width="4.6"/>
<line x1="435.4" y1="1133.2" x2="435.4" y2="1137.2" stroke="#000" stroke-width="1.2"/>
<text x="441.3" y="1447.7" font-size="16.4" text-anchor="end" transform="rotate(-90 441.3 1447.7)" fill="#000" letter-spacing="0.25">Hck</text>
<rect x="450.5" y="1137.2" width="12.6" height="101.9" fill="#0aafd8"/>
<line x1="456.8" y1="1427.3" x2="456.8" y2="1441" stroke="#000" stroke-width="4.6"/>
<line x1="456.8" y1="1133.2" x2="456.8" y2="1137.2" stroke="#000" stroke-width="1.2"/>
<text x="462.7" y="1447.7" font-size="16.4" text-anchor="end" transform="rotate(-90 462.7 1447.7)" fill="#000" letter-spacing="0.25">Lyn</text>
<rect x="471.9" y="1137.2" width="12.6" height="88.6" fill="#0bc5f2"/>
<line x1="478.2" y1="1427.3" x2="478.2" y2="1441" stroke="#000" stroke-width="4.6"/>
<line x1="478.2" y1="1133.2" x2="478.2" y2="1137.2" stroke="#000" stroke-width="1.2"/>
<text x="484.1" y="1447.7" font-size="16.4" text-anchor="end" transform="rotate(-90 484.1 1447.7)" fill="#000" letter-spacing="0.25">CREB</text>
<rect x="493.4" y="1137.2" width="12.6" height="74.8" fill="#2fcaf4"/>
<line x1="499.7" y1="1427.3" x2="499.7" y2="1441" stroke="#000" stroke-width="4.6"/>
<line x1="499.7" y1="1133.2" x2="499.7" y2="1137.2" stroke="#000" stroke-width="1.2"/>
<text x="505.6" y="1447.7" font-size="16.4" text-anchor="end" transform="rotate(-90 505.6 1447.7)" fill="#000" letter-spacing="0.25">STAT5a</text>
<rect x="514.8" y="1137.2" width="12.6" height="73.1" fill="#54d5f6"/>
<line x1="521.1" y1="1427.3" x2="521.1" y2="1441" stroke="#000" stroke-width="4.6"/>
<line x1="521.1" y1="1133.2" x2="521.1" y2="1137.2" stroke="#000" stroke-width="1.2"/>
<text x="527" y="1447.7" font-size="16.4" text-anchor="end" transform="rotate(-90 527 1447.7)" fill="#000" letter-spacing="0.25">TOR</text>
<rect x="536.3" y="1137.2" width="12.6" height="66.6" fill="#7fdff7"/>
<line x1="542.6" y1="1427.3" x2="542.6" y2="1441" stroke="#000" stroke-width="4.6"/>
<line x1="542.6" y1="1133.2" x2="542.6" y2="1137.2" stroke="#000" stroke-width="1.2"/>
<text x="548.5" y="1447.7" font-size="16.4" text-anchor="end" transform="rotate(-90 548.5 1447.7)" fill="#000" letter-spacing="0.25">PDGF Rβ</text>
<rect x="557.7" y="1137.2" width="12.6" height="60.1" fill="#5a5af6"/>
<line x1="564" y1="1427.3" x2="564" y2="1441" stroke="#000" stroke-width="4.6"/>
<line x1="564" y1="1133.2" x2="564" y2="1137.2" stroke="#000" stroke-width="1.2"/>
<text x="569.9" y="1447.7" font-size="16.4" text-anchor="end" transform="rotate(-90 569.9 1447.7)" fill="#000" letter-spacing="0.25">Fyn</text>
<rect x="579.1" y="1137.2" width="12.6" height="55.4" fill="#7878f6"/>
<line x1="585.4" y1="1427.3" x2="585.4" y2="1441" stroke="#000" stroke-width="4.6"/>
<line x1="585.4" y1="1133.2" x2="585.4" y2="1137.2" stroke="#000" stroke-width="1.2"/>
<text x="591.3" y="1447.7" font-size="16.4" text-anchor="end" transform="rotate(-90 591.3 1447.7)" fill="#000" letter-spacing="0.25">Akt 1/2/3(S473)</text>
<rect x="600.6" y="1137.2" width="12.6" height="55.4" fill="#8585f7"/>
<line x1="606.9" y1="1427.3" x2="606.9" y2="1441" stroke="#000" stroke-width="4.6"/>
<line x1="606.9" y1="1133.2" x2="606.9" y2="1137.2" stroke="#000" stroke-width="1.2"/>
<text x="612.8" y="1447.7" font-size="16.4" text-anchor="end" transform="rotate(-90 612.8 1447.7)" fill="#000" letter-spacing="0.25">STAT6</text>
<rect x="622" y="1137.2" width="12.6" height="52.1" fill="#9595f7"/>
<line x1="628.3" y1="1427.3" x2="628.3" y2="1441" stroke="#000" stroke-width="4.6"/>
<line x1="628.3" y1="1133.2" x2="628.3" y2="1137.2" stroke="#000" stroke-width="1.2"/>
<text x="634.2" y="1447.7" font-size="16.4" text-anchor="end" transform="rotate(-90 634.2 1447.7)" fill="#000" letter-spacing="0.25">AMPKa1</text>
<rect x="643.5" y="1137.2" width="12.6" height="51" fill="#a1a1f8"/>
<line x1="649.8" y1="1427.3" x2="649.8" y2="1441" stroke="#000" stroke-width="4.6"/>
<line x1="649.8" y1="1133.2" x2="649.8" y2="1137.2" stroke="#000" stroke-width="1.2"/>
<text x="655.7" y="1447.7" font-size="16.4" text-anchor="end" transform="rotate(-90 655.7 1447.7)" fill="#000" letter-spacing="0.25">RSK1/2/3</text>
<rect x="664.9" y="1137.2" width="12.6" height="39.8" fill="#aaaaf8"/>
<line x1="671.2" y1="1427.3" x2="671.2" y2="1441" stroke="#000" stroke-width="4.6"/>
<line x1="671.2" y1="1133.2" x2="671.2" y2="1137.2" stroke="#000" stroke-width="1.2"/>
<text x="677.1" y="1447.7" font-size="16.4" text-anchor="end" transform="rotate(-90 677.1 1447.7)" fill="#000" letter-spacing="0.25">eNOS</text>
<rect x="686.3" y="1137.2" width="12.6" height="37.7" fill="#c4c4fa"/>
<line x1="692.6" y1="1427.3" x2="692.6" y2="1441" stroke="#000" stroke-width="4.6"/>
<line x1="692.6" y1="1133.2" x2="692.6" y2="1137.2" stroke="#000" stroke-width="1.2"/>
<text x="698.5" y="1447.7" font-size="16.4" text-anchor="end" transform="rotate(-90 698.5 1447.7)" fill="#000" letter-spacing="0.25">ERK1/2</text>
<rect x="707.8" y="1137.2" width="12.6" height="37.8" fill="#2e96fb"/>
<line x1="714.1" y1="1427.3" x2="714.1" y2="1441" stroke="#000" stroke-width="4.6"/>
<line x1="714.1" y1="1133.2" x2="714.1" y2="1137.2" stroke="#000" stroke-width="1.2"/>
<text x="720" y="1447.7" font-size="16.4" text-anchor="end" transform="rotate(-90 720 1447.7)" fill="#000" letter-spacing="0.25">EGFR</text>
<rect x="729.2" y="1137.2" width="12.6" height="37.1" fill="#3f3ff8"/>
<line x1="735.5" y1="1427.3" x2="735.5" y2="1441" stroke="#000" stroke-width="4.6"/>
<line x1="735.5" y1="1133.2" x2="735.5" y2="1137.2" stroke="#000" stroke-width="1.2"/>
<text x="741.4" y="1447.7" font-size="16.4" text-anchor="end" transform="rotate(-90 741.4 1447.7)" fill="#000" letter-spacing="0.25">Fgr</text>
<rect x="750.7" y="1137.2" width="12.6" height="32.8" fill="#7575f6"/>
<line x1="757" y1="1427.3" x2="757" y2="1441" stroke="#000" stroke-width="4.6"/>
<line x1="757" y1="1133.2" x2="757" y2="1137.2" stroke="#000" stroke-width="1.2"/>
<text x="762.9" y="1447.7" font-size="16.4" text-anchor="end" transform="rotate(-90 762.9 1447.7)" fill="#000" letter-spacing="0.25">FAK</text>
<rect x="772.1" y="1137.2" width="12.6" height="31.4" fill="#8f8ff7"/>
<line x1="778.4" y1="1427.3" x2="778.4" y2="1441" stroke="#000" stroke-width="4.6"/>
<line x1="778.4" y1="1133.2" x2="778.4" y2="1137.2" stroke="#000" stroke-width="1.2"/>
<text x="784.3" y="1447.7" font-size="16.4" text-anchor="end" transform="rotate(-90 784.3 1447.7)" fill="#000" letter-spacing="0.25">PLC-ç1</text>
<rect x="793.5" y="1137.2" width="12.6" height="26.8" fill="#9797f8"/>
<line x1="799.8" y1="1427.3" x2="799.8" y2="1441" stroke="#000" stroke-width="4.6"/>
<line x1="799.8" y1="1133.2" x2="799.8" y2="1137.2" stroke="#000" stroke-width="1.2"/>
<text x="805.7" y="1447.7" font-size="16.4" text-anchor="end" transform="rotate(-90 805.7 1447.7)" fill="#000" letter-spacing="0.25">Src</text>
<rect x="815" y="1137.2" width="12.6" height="21.8" fill="#6a6af6"/>
<line x1="821.3" y1="1427.3" x2="821.3" y2="1441" stroke="#000" stroke-width="4.6"/>
<line x1="821.3" y1="1133.2" x2="821.3" y2="1137.2" stroke="#000" stroke-width="1.2"/>
<text x="827.2" y="1447.7" font-size="16.4" text-anchor="end" transform="rotate(-90 827.2 1447.7)" fill="#000" letter-spacing="0.25">p70 S6 Kinase</text>
<rect x="836.4" y="1137.2" width="12.6" height="11.1" fill="#0cb77b"/>
<line x1="842.7" y1="1427.3" x2="842.7" y2="1441" stroke="#000" stroke-width="4.6"/>
<line x1="842.7" y1="1133.2" x2="842.7" y2="1137.2" stroke="#000" stroke-width="1.2"/>
<text x="848.6" y="1447.7" font-size="16.4" text-anchor="end" transform="rotate(-90 848.6 1447.7)" fill="#000" letter-spacing="0.25">HSP60</text>
<rect x="857.9" y="1137.2" width="12.6" height="9.2" fill="#3ee6a6"/>
<line x1="864.2" y1="1427.3" x2="864.2" y2="1441" stroke="#000" stroke-width="4.6"/>
<line x1="864.2" y1="1133.2" x2="864.2" y2="1137.2" stroke="#000" stroke-width="1.2"/>
<text x="870.1" y="1447.7" font-size="16.4" text-anchor="end" transform="rotate(-90 870.1 1447.7)" fill="#000" letter-spacing="0.25">b-Catenin</text>
<rect x="879.3" y="1137.2" width="12.6" height="7.6" fill="#b0f3d8"/>
<line x1="885.6" y1="1427.3" x2="885.6" y2="1441" stroke="#000" stroke-width="4.6"/>
<line x1="885.6" y1="1133.2" x2="885.6" y2="1137.2" stroke="#000" stroke-width="1.2"/>
<text x="891.5" y="1447.7" font-size="16.4" text-anchor="end" transform="rotate(-90 891.5 1447.7)" fill="#000" letter-spacing="0.25">STAT3</text>
<rect x="900.7" y="1137.2" width="12.6" height="5.8" fill="#d0f5e5"/>
<line x1="907" y1="1427.3" x2="907" y2="1441" stroke="#000" stroke-width="4.6"/>
<line x1="907" y1="1133.2" x2="907" y2="1137.2" stroke="#000" stroke-width="1.2"/>
<text x="912.9" y="1447.7" font-size="16.4" text-anchor="end" transform="rotate(-90 912.9 1447.7)" fill="#000" letter-spacing="0.25">p 70 S6 Kinase</text>
<rect x="922.2" y="1137.2" width="12.6" height="3.4" fill="#a8dcb8"/>
<line x1="928.5" y1="1427.3" x2="928.5" y2="1441" stroke="#000" stroke-width="4.6"/>
<line x1="928.5" y1="1133.2" x2="928.5" y2="1137.2" stroke="#000" stroke-width="1.2"/>
<text x="934.4" y="1447.7" font-size="16.4" text-anchor="end" transform="rotate(-90 934.4 1447.7)" fill="#000" letter-spacing="0.25">PRAS40</text>
<rect x="943.6" y="1134" width="12.6" height="3.2" fill="#f8d0d0"/>
<line x1="949.9" y1="1427.3" x2="949.9" y2="1441" stroke="#000" stroke-width="4.6"/>
<line x1="949.9" y1="1133.2" x2="949.9" y2="1137.2" stroke="#000" stroke-width="1.2"/>
<text x="955.8" y="1447.7" font-size="16.4" text-anchor="end" transform="rotate(-90 955.8 1447.7)" fill="#000" letter-spacing="0.25">AMPKa2</text>
<rect x="965.1" y="1122.6" width="12.6" height="14.6" fill="#fca4a4"/>
<line x1="971.4" y1="1427.3" x2="971.4" y2="1441" stroke="#000" stroke-width="4.6"/>
<line x1="971.4" y1="1133.2" x2="971.4" y2="1137.2" stroke="#000" stroke-width="1.2"/>
<text x="977.3" y="1447.7" font-size="16.4" text-anchor="end" transform="rotate(-90 977.3 1447.7)" fill="#000" letter-spacing="0.25">HSP27</text>
<rect x="986.5" y="1119.2" width="12.6" height="18" fill="#fdb5b5"/>
<line x1="992.8" y1="1427.3" x2="992.8" y2="1441" stroke="#000" stroke-width="4.6"/>
<line x1="992.8" y1="1133.2" x2="992.8" y2="1137.2" stroke="#000" stroke-width="1.2"/>
<text x="998.7" y="1447.7" font-size="16.4" text-anchor="end" transform="rotate(-90 998.7 1447.7)" fill="#000" letter-spacing="0.25">GSK-3a/β</text>
<rect x="1007.9" y="1116.9" width="12.6" height="20.3" fill="#fb9f9f"/>
<line x1="1014.2" y1="1427.3" x2="1014.2" y2="1441" stroke="#000" stroke-width="4.6"/>
<line x1="1014.2" y1="1133.2" x2="1014.2" y2="1137.2" stroke="#000" stroke-width="1.2"/>
<text x="1020.1" y="1447.7" font-size="16.4" text-anchor="end" transform="rotate(-90 1020.1 1447.7)" fill="#000" letter-spacing="0.25">STAT5a/b</text>
<rect x="1029.4" y="1113" width="12.6" height="24.2" fill="#fa8a8a"/>
<line x1="1035.7" y1="1427.3" x2="1035.7" y2="1441" stroke="#000" stroke-width="4.6"/>
<line x1="1035.7" y1="1133.2" x2="1035.7" y2="1137.2" stroke="#000" stroke-width="1.2"/>
<text x="1041.6" y="1447.7" font-size="16.4" text-anchor="end" transform="rotate(-90 1041.6 1447.7)" fill="#000" letter-spacing="0.25">p38a</text>
<rect x="1050.8" y="1106.6" width="12.6" height="30.6" fill="#fb7f7f"/>
<line x1="1057.1" y1="1427.3" x2="1057.1" y2="1441" stroke="#000" stroke-width="4.6"/>
<line x1="1057.1" y1="1133.2" x2="1057.1" y2="1137.2" stroke="#000" stroke-width="1.2"/>
<text x="1063" y="1447.7" font-size="16.4" text-anchor="end" transform="rotate(-90 1063 1447.7)" fill="#000" letter-spacing="0.25">Chk-2</text>
<rect x="1072.3" y="1100" width="12.6" height="37.2" fill="#f54545"/>
<line x1="1078.6" y1="1427.3" x2="1078.6" y2="1441" stroke="#000" stroke-width="4.6"/>
<line x1="1078.6" y1="1133.2" x2="1078.6" y2="1137.2" stroke="#000" stroke-width="1.2"/>
<text x="1084.5" y="1447.7" font-size="16.4" text-anchor="end" transform="rotate(-90 1084.5 1447.7)" fill="#000" letter-spacing="0.25">Yes</text>
<rect x="1093.7" y="1098.5" width="12.6" height="38.7" fill="#ff0000"/>
<line x1="1100" y1="1427.3" x2="1100" y2="1441" stroke="#000" stroke-width="4.6"/>
<line x1="1100" y1="1133.2" x2="1100" y2="1137.2" stroke="#000" stroke-width="1.2"/>
<text x="1105.9" y="1447.7" font-size="16.4" text-anchor="end" transform="rotate(-90 1105.9 1447.7)" fill="#000" letter-spacing="0.25">STAT2</text>
<rect x="1115.1" y="1050.7" width="12.6" height="86.5" fill="#e00000"/>
<line x1="1121.4" y1="1427.3" x2="1121.4" y2="1441" stroke="#000" stroke-width="4.6"/>
<line x1="1121.4" y1="1133.2" x2="1121.4" y2="1137.2" stroke="#000" stroke-width="1.2"/>
<text x="1127.3" y="1447.7" font-size="16.4" text-anchor="end" transform="rotate(-90 1127.3 1447.7)" fill="#000" letter-spacing="0.25">JNK 1/2/3</text>
<rect x="1136.6" y="1045.7" width="12.6" height="91.5" fill="#b80000"/>
<line x1="1142.9" y1="1427.3" x2="1142.9" y2="1441" stroke="#000" stroke-width="4.6"/>
<line x1="1142.9" y1="1133.2" x2="1142.9" y2="1137.2" stroke="#000" stroke-width="1.2"/>
<text x="1148.8" y="1447.7" font-size="16.4" text-anchor="end" transform="rotate(-90 1148.8 1447.7)" fill="#000" letter-spacing="0.25">c-Jun</text>
<rect x="1158" y="1026.6" width="12.6" height="110.6" fill="#9a0000"/>
<line x1="1164.3" y1="1427.3" x2="1164.3" y2="1441" stroke="#000" stroke-width="4.6"/>
<line x1="1164.3" y1="1133.2" x2="1164.3" y2="1137.2" stroke="#000" stroke-width="1.2"/>
<text x="1170.2" y="1447.7" font-size="16.4" text-anchor="end" transform="rotate(-90 1170.2 1447.7)" fill="#000" letter-spacing="0.25">MSK1/2</text>
<rect x="1179.5" y="993.3" width="12.6" height="143.9" fill="#800000"/>
<line x1="1185.8" y1="1427.3" x2="1185.8" y2="1441" stroke="#000" stroke-width="4.6"/>
<line x1="1185.8" y1="1133.2" x2="1185.8" y2="1137.2" stroke="#000" stroke-width="1.2"/>
<text x="1191.7" y="1447.7" font-size="16.4" text-anchor="end" transform="rotate(-90 1191.7 1447.7)" fill="#000" letter-spacing="0.25">p27</text>
<text x="135.5" y="1185" font-size="20.5" text-anchor="middle" transform="rotate(-90 135.5 1185)" fill="#000">Relative pixel density</text>
<text x="57.5" y="1629" font-size="37" text-anchor="start" font-weight="bold" fill="#000">e</text>
<text x="447.5" y="1631.5" font-size="17.5" text-anchor="middle" fill="#000">Kyse140</text>
<text x="993.3" y="1631.5" font-size="17.5" text-anchor="middle" fill="#000">Kyse510</text>
<text x="305" y="1664" font-size="18" text-anchor="middle" fill="#000">0 Gy</text>
<text x="571.7" y="1664" font-size="18" text-anchor="middle" fill="#000">8 Gy</text>
<text x="852.3" y="1664" font-size="18" text-anchor="middle" fill="#000">0 Gy</text>
<text x="1128.8" y="1664" font-size="18" text-anchor="middle" fill="#000">8 Gy</text>
<line x1="196" y1="1681" x2="435.2" y2="1681" stroke="#000" stroke-width="1.8"/>
<line x1="456.3" y1="1681" x2="695.4" y2="1681" stroke="#000" stroke-width="1.8"/>
<line x1="738.6" y1="1681" x2="976" y2="1681" stroke="#000" stroke-width="1.8"/>
<line x1="1009.6" y1="1681" x2="1248" y2="1681" stroke="#000" stroke-width="1.8"/>
<rect x="194.6" y="1699" width="510.6" height="49.1" fill="#d4d2df" stroke="#8a8992" stroke-width="1.8"/>
<rect x="194.6" y="1757" width="510.6" height="55.4" fill="#d4d2df" stroke="#8a8992" stroke-width="1.8"/>
<rect x="725.7" y="1698.8" width="533.1" height="50.4" fill="#d4d2df" stroke="#8a8992" stroke-width="1.8"/>
<rect x="725.7" y="1758" width="533.1" height="54.5" fill="#d4d2df" stroke="#8a8992" stroke-width="1.8"/>
<text x="179" y="1728.3" font-size="18" text-anchor="end" fill="#000">p-AKT</text>
<text x="179" y="1785.5" font-size="18" text-anchor="end" fill="#000">GAPDH</text>
<rect x="198.2" y="1715.8" width="44.5" height="13.2" rx="6.6" fill="#0a0a10" fill-opacity="1.00" filter="url(#bd2)"/>
<rect x="264.6" y="1718.7" width="41.8" height="9.2" rx="4.6" fill="#0a0a10" fill-opacity="0.60" filter="url(#bd2)"/>
<rect x="325.9" y="1717.3" width="44.3" height="10.2" rx="5.1" fill="#0a0a10" fill-opacity="0.78" filter="url(#bd2)"/>
<rect x="389.9" y="1716.2" width="44.3" height="11.3" rx="5.6" fill="#0a0a10" fill-opacity="0.88" filter="url(#bd2)"/>
<rect x="456.1" y="1717.7" width="41.8" height="9.2" rx="4.6" fill="#0a0a10" fill-opacity="0.60" filter="url(#bd2)"/>
<rect x="519.7" y="1719.8" width="46.5" height="7" rx="3.5" fill="#0a0a10" fill-opacity="0.22" filter="url(#bd2)"/>
<rect x="586.1" y="1719.7" width="41.8" height="9.2" rx="4.6" fill="#0a0a10" fill-opacity="0.50" filter="url(#bd2)"/>
<rect x="647.6" y="1721.2" width="48.8" height="9.2" rx="4.6" fill="#0a0a10" fill-opacity="0.50" filter="url(#bd2)"/>
<rect x="203.3" y="1784" width="51.3" height="11.3" rx="5.6" fill="#0a0a10" fill-opacity="0.90" filter="url(#bd2)"/>
<rect x="264.8" y="1784" width="51.3" height="11.3" rx="5.6" fill="#0a0a10" fill-opacity="0.95" filter="url(#bd2)"/>
<rect x="328.4" y="1783.7" width="51.3" height="10.2" rx="5.1" fill="#0a0a10" fill-opacity="0.90" filter="url(#bd2)"/>
<rect x="392.4" y="1783.7" width="51.3" height="10.2" rx="5.1" fill="#0a0a10" fill-opacity="0.85" filter="url(#bd2)"/>
<rect x="456.1" y="1778.7" width="49" height="10.2" rx="5.1" fill="#0a0a10" fill-opacity="0.90" filter="url(#bd2)"/>
<rect x="520" y="1777.6" width="51.3" height="12.3" rx="6.2" fill="#0a0a10" fill-opacity="1.00" filter="url(#bd2)"/>
<rect x="583.7" y="1780.2" width="46.5" height="11.3" rx="5.6" fill="#0a0a10" fill-opacity="0.95" filter="url(#bd2)"/>
<rect x="647.6" y="1780.2" width="48.8" height="11.3" rx="5.6" fill="#0a0a10" fill-opacity="0.95" filter="url(#bd2)"/>
<rect x="735.8" y="1722.7" width="46.9" height="13.2" rx="6.6" fill="#0a0a10" fill-opacity="1.00" filter="url(#bd2)"/>
<rect x="800.2" y="1719.7" width="46.5" height="11.3" rx="5.6" fill="#0a0a10" fill-opacity="0.92" filter="url(#bd2)"/>
<rect x="869.2" y="1715.6" width="47.1" height="12.3" rx="6.2" fill="#0a0a10" fill-opacity="0.95" filter="url(#bd2)"/>
<rect x="933.7" y="1713.8" width="49.4" height="13.2" rx="6.6" fill="#0a0a10" fill-opacity="1.00" filter="url(#bd2)"/>
<rect x="998.1" y="1716.7" width="51.3" height="10.2" rx="5.1" fill="#0a0a10" fill-opacity="0.60" filter="url(#bd2)"/>
<rect x="1072.1" y="1717.3" width="41.8" height="8.1" rx="4" fill="#0a0a10" fill-opacity="0.30" filter="url(#bd2)"/>
<rect x="1136.3" y="1713.3" width="49.4" height="10.2" rx="5.1" fill="#0a0a10" fill-opacity="0.60" filter="url(#bd2)"/>
<rect x="1204.7" y="1710.3" width="45.6" height="10.2" rx="5.1" fill="#0a0a10" fill-opacity="0.65" filter="url(#bd2)"/>
<rect x="730.9" y="1770.2" width="46.7" height="9.2" rx="4.6" fill="#0a0a10" fill-opacity="0.75" filter="url(#bd2)"/>
<rect x="795.3" y="1770.2" width="49.4" height="9.2" rx="4.6" fill="#0a0a10" fill-opacity="0.75" filter="url(#bd2)"/>
<rect x="864.2" y="1770.2" width="47.5" height="9.2" rx="4.6" fill="#0a0a10" fill-opacity="0.75" filter="url(#bd2)"/>
<rect x="933.7" y="1772.2" width="49.4" height="11.3" rx="5.6" fill="#0a0a10" fill-opacity="0.95" filter="url(#bd2)"/>
<rect x="998.1" y="1771.6" width="51.3" height="12.3" rx="6.2" fill="#0a0a10" fill-opacity="1.00" filter="url(#bd2)"/>
<rect x="1066.2" y="1776.6" width="47.5" height="11.3" rx="5.6" fill="#0a0a10" fill-opacity="0.95" filter="url(#bd2)"/>
<rect x="1135.3" y="1783" width="48.3" height="11.3" rx="5.6" fill="#0a0a10" fill-opacity="1.00" filter="url(#bd2)"/>
<rect x="1203.2" y="1784.4" width="46.9" height="12.3" rx="6.2" fill="#0a0a10" fill-opacity="1.00" filter="url(#bd2)"/>
<text x="218.6" y="1829" font-size="18" text-anchor="start" transform="rotate(46 218.6 1829)" fill="#000">sh-NC</text>
<text x="280" y="1829" font-size="18" text-anchor="start" transform="rotate(46 280 1829)" fill="#000">sh-IDH2</text>
<text x="345.3" y="1829" font-size="18" text-anchor="start" transform="rotate(46 345.3 1829)" fill="#000">sh-IDH2+TEMPO</text>
<text x="410" y="1829" font-size="18" text-anchor="start" transform="rotate(46 410 1829)" fill="#000">sh-IDH2+SC-79</text>
<text x="471.5" y="1829" font-size="18" text-anchor="start" transform="rotate(46 471.5 1829)" fill="#000">sh-NC</text>
<text x="533.8" y="1829" font-size="18" text-anchor="start" transform="rotate(46 533.8 1829)" fill="#000">sh-IDH2</text>
<text x="601.5" y="1829" font-size="18" text-anchor="start" transform="rotate(46 601.5 1829)" fill="#000">sh-IDH2+TEMPO</text>
<text x="663" y="1829" font-size="18" text-anchor="start" transform="rotate(46 663 1829)" fill="#000">sh-IDH2+SC-79</text>
<text x="744" y="1829" font-size="18" text-anchor="start" transform="rotate(46 744 1829)" fill="#000">sh-NC</text>
<text x="808.3" y="1829" font-size="18" text-anchor="start" transform="rotate(46 808.3 1829)" fill="#000">sh-IDH2</text>
<text x="877.5" y="1829" font-size="18" text-anchor="start" transform="rotate(46 877.5 1829)" fill="#000">sh-IDH2+TEMPO</text>
<text x="944.3" y="1829" font-size="18" text-anchor="start" transform="rotate(46 944.3 1829)" fill="#000">sh-IDH2+SC-79</text>
<text x="1013.5" y="1829" font-size="18" text-anchor="start" transform="rotate(46 1013.5 1829)" fill="#000">sh-NC</text>
<text x="1073.9" y="1829" font-size="18" text-anchor="start" transform="rotate(46 1073.9 1829)" fill="#000">sh-IDH2</text>
<text x="1147" y="1829" font-size="18" text-anchor="start" transform="rotate(46 1147 1829)" fill="#000">sh-IDH2+TEMPO</text>
<text x="1212.3" y="1829" font-size="18" text-anchor="start" transform="rotate(46 1212.3 1829)" fill="#000">sh-IDH2+SC-79</text>
<text x="4" y="2004.5" font-size="37" text-anchor="start" font-weight="bold" fill="#000">f</text>
<path d="M50.8 2038.5H219.9V2195.3" stroke="#9a9a9a" stroke-width="1" fill="none"/>
<path d="M50.8 2195.3v3.2M79 2195.3v3.2M107.2 2195.3v3.2M135.4 2195.3v3.2M163.5 2195.3v3.2M191.7 2195.3v3.2M219.9 2195.3v3.2M47.2 2195.3h3.6M47.2 2169.2h3.6M47.2 2143h3.6M47.2 2116.9h3.6M47.2 2090.8h3.6M47.2 2064.6h3.6M47.2 2038.5h3.6" stroke="#333" stroke-width="1.1" fill="none"/>
<path d="M59.3 2195.3v1.8M64.2 2195.3v1.8M67.8 2195.3v1.8M70.5 2195.3v1.8M72.7 2195.3v1.8M74.6 2195.3v1.8M76.3 2195.3v1.8M77.7 2195.3v1.8M87.5 2195.3v1.8M92.4 2195.3v1.8M96 2195.3v1.8M98.7 2195.3v1.8M100.9 2195.3v1.8M102.8 2195.3v1.8M104.4 2195.3v1.8M105.9 2195.3v1.8M115.7 2195.3v1.8M120.6 2195.3v1.8M124.1 2195.3v1.8M126.9 2195.3v1.8M129.1 2195.3v1.8M131 2195.3v1.8M132.6 2195.3v1.8M134.1 2195.3v1.8M143.8 2195.3v1.8M148.8 2195.3v1.8M152.3 2195.3v1.8M155 2195.3v1.8M157.3 2195.3v1.8M159.2 2195.3v1.8M160.8 2195.3v1.8M162.2 2195.3v1.8M172 2195.3v1.8M177 2195.3v1.8M180.5 2195.3v1.8M183.2 2195.3v1.8M185.5 2195.3v1.8M187.4 2195.3v1.8M189 2195.3v1.8M190.4 2195.3v1.8M200.2 2195.3v1.8M205.2 2195.3v1.8M208.7 2195.3v1.8M211.4 2195.3v1.8M213.6 2195.3v1.8M215.5 2195.3v1.8M217.2 2195.3v1.8M218.6 2195.3v1.8M48.8 2187.4h2M48.8 2182.8h2M48.8 2179.6h2M48.8 2177h2M48.8 2175h2M48.8 2173.2h2M48.8 2171.7h2M48.8 2170.4h2M48.8 2161.3h2M48.8 2156.7h2M48.8 2153.4h2M48.8 2150.9h2M48.8 2148.8h2M48.8 2147.1h2M48.8 2145.6h2M48.8 2144.2h2M48.8 2135.2h2M48.8 2130.6h2M48.8 2127.3h2M48.8 2124.8h2M48.8 2122.7h2M48.8 2120.9h2M48.8 2119.4h2M48.8 2118.1h2M48.8 2109h2M48.8 2104.4h2M48.8 2101.2h2M48.8 2098.6h2M48.8 2096.6h2M48.8 2094.8h2M48.8 2093.3h2M48.8 2092h2M48.8 2082.9h2M48.8 2078.3h2M48.8 2075h2M48.8 2072.5h2M48.8 2070.4h2M48.8 2068.7h2M48.8 2067.2h2M48.8 2065.8h2M48.8 2056.8h2M48.8 2052.2h2M48.8 2048.9h2M48.8 2046.4h2M48.8 2044.3h2M48.8 2042.5h2M48.8 2041h2M48.8 2039.7h2" stroke="#333" stroke-width="0.8" fill="none"/>
<path d="M50.2 2195.3H219.9" stroke="#6a6a6a" stroke-width="1.2" fill="none"/>
<path d="M50.8 2038V2195.9" stroke="#333" stroke-width="1.4" fill="none"/>
<text x="41.5" y="2219.6" font-size="13.5">10<tspan font-size="8.8" dy="-9">0</tspan></text>
<text x="21.5" y="2199.6" font-size="13.5">10<tspan font-size="8.8" dy="-9">0</tspan></text>
<text x="69.7" y="2219.6" font-size="13.5">10<tspan font-size="8.8" dy="-9">1</tspan></text>
<text x="21.5" y="2173.5" font-size="13.5">10<tspan font-size="8.8" dy="-9">1</tspan></text>
<text x="97.9" y="2219.6" font-size="13.5">10<tspan font-size="8.8" dy="-9">2</tspan></text>
<text x="21.5" y="2147.3" font-size="13.5">10<tspan font-size="8.8" dy="-9">2</tspan></text>
<text x="126" y="2219.6" font-size="13.5">10<tspan font-size="8.8" dy="-9">3</tspan></text>
<text x="21.5" y="2121.2" font-size="13.5">10<tspan font-size="8.8" dy="-9">3</tspan></text>
<text x="154.2" y="2219.6" font-size="13.5">10<tspan font-size="8.8" dy="-9">4</tspan></text>
<text x="21.5" y="2095.1" font-size="13.5">10<tspan font-size="8.8" dy="-9">4</tspan></text>
<text x="182.4" y="2219.6" font-size="13.5">10<tspan font-size="8.8" dy="-9">5</tspan></text>
<text x="21.5" y="2068.9" font-size="13.5">10<tspan font-size="8.8" dy="-9">5</tspan></text>
<text x="210.6" y="2219.6" font-size="13.5">10<tspan font-size="8.8" dy="-9">6</tspan></text>
<text x="21.5" y="2042.8" font-size="13.5">10<tspan font-size="8.8" dy="-9">6</tspan></text>
<path d="M117 2122.5h1m21 -1h1m-32 20h1m49 -23h1m-9 5h1m-20 13h1m17 0h1m-9 -15h1m21 -5h1m-39 15h1m-17 -10h1m-8 14h1m29 -2h1m-24 -1h1m27 7h1m-2 -24h1m-11 12h1m-6 7h1m27 -21h1m-25 3h1m13 12h1m11 -1h1m-45 -9h1m12 14h1m43 -35h1m-31 35h1m-18 -2h1m14 2h1m-10 -7h1m-7 11h1m12 -2h1m-3 -20h1m3 9h1m16 15h1m-41 1h1m5 4h1m33 -13h1m-21 3h1m23 -12h1m-16 2h1m-23 18h1m31 -4h1m-28 0h1m12 -20h1m21 11h1m5 -21h1m-32 16h1m13 1h1m-9 -3h1m10 5h1m-51 20h1m33 -10h1m3 -16h1m-2 -8h1m-11 24h1m15 -25h1m15 24h1m-20 -3h1m-5 3h1m-13 -20h1m15 14h1m9 -17h1m14 20h1m-38 -4h1m-9 0h1m3 3h1m35 9h1m-23 -17h1m-2 -6h1m0 -5h1m1 8h1m-1 20h1m-20 -6h1m1 -11h1m16 8h1m-2 -12h1m-8 13h1m-4 -4h1m23 -17h1m-23 23h1m-4 -32h1m1 25h1m-9 2h1m-7 13h1m11 -13h1m-4 4h1m27 -2h1m-29 14h1m3 -19h1m15 -4h1m-2 25h1m6 -8h1m-3 -16h1m-38 14h1m14 -13h1m-2 18h1m26 -30h1m-19 17h1m9 -3h1m15 -11h1m-35 5h1m7 1h1m2 -5h1m16 4h1m-4 9h1m-15 0h1m-11 -7h1m0 3h1m-21 6h1m30 -9h1m2 -10h1m-9 13h1m-11 -4h1m8 1h1m1 -4h1m3 6h1m25 -1h1m-38 20h1m4 -35h1m9 10h1m-10 4h1m-3 7h1m-11 7h1m-7 -29h1m32 23h1m6 -13h1m-32 14h1m19 1h1m1 0h1m4 -7h1m-14 2h1m3 0h1m0 -14h1m-23 30h1m-19 -17h1m-2 6h1m23 8h1m-5 19h1m15 -43h1m7 -1h1m-16 17h1m-5 -15h1m4 13h1m-4 -3h1m9 6h1m-11 -1h1m-6 3h1m-3 -14h1m21 -2h1m-12 21h1m18 -29h1m-26 10h1m28 2h1m-39 14h1m4 -7h1m17 -5h1m-2 -3h1m-12 0h1m34 -6h1m-38 -7h1m12 20h1m-14 5h1m22 -35h1m-14 2h1m1 22h1m-29 15h1m31 -6h1m-21 -12h1m26 6h1m-30 2h1m10 -14h1m10 1h1m-16 -8h1m-4 12h1m-9 10h1m6 1h1m-11 0h1m28 -20h1m-12 8h1m-21 7h1m20 -1h1m-22 4h1m-30 10h1m67 -19h1m3 9h1m-50 -6h1m14 4h1m16 2h1m-17 5h1m9 10h1m-2 -2h1m-1 -13h1m-13 -6h1m14 5h1m-26 7h1m45 -15h1m-46 21h1m26 -3h1m-3 -21h1m3 6h1m-1 7h1m10 -13h1m-32 20h1m15 -4h1m-1 -9h1m-14 -3h1m3 12h1m30 -3h1m-32 6h1m-7 -20h1m11 19h1m-7 -16h1m10 9h1m-10 -6h1m10 3h1m1 13h1m0 -11h1m2 -26h1m-24 32h1m31 -21h1m-27 20h1m14 -8h1m-10 -1h1m-8 2h1m-30 -3h1m57 -6h1m-34 17h1m29 -3h1m-14 9h1m17 -30h1m5 21h1m-27 -19h1m6 13h1m-27 21h1m16 -20h1m-2 1h1m4 5h1m-27 8h1m31 -18h1m5 0h1m-36 19h1m24 -1h1m18 -9h1m-20 -1h1m-23 6h1m-5 -10h1m20 -22h1m15 -2h1m-27 11h1m1 -5h1m7 28h1m-13 0h1m38 -20h1m-39 1h1m6 17h1m12 -20h1m-12 17h1m-1 8h1m10 -19h1m-29 13h1m32 -5h1m-7 2h1m-19 -9h1m3 3h1m-24 13h1m21 -12h1m13 -7h1m-8 14h1m-5 9h1m-10 -2h1m7 -13h1m2 0h1m10 -14h1m-7 29h1m-14 -8h1m2 6h1m-2 -12h1m-26 18h1m10 2h1m-3 -20h1m31 9h1m-18 -16h1m8 10h1m15 -2h1m-32 14h1m29 -16h1m-11 6h1m-21 -2h1m38 3h1m-53 -6h1m5 2h1m26 4h1m-4 14h1m-34 0h1m23 -16h1m0 -5h1m38 -11h1m-18 5h1m-20 6h1m-11 21h1m6 -36h1m-11 33h1m13 -20h1m-2 -7h1m-4 20h1m5 -11h1m-15 -9h1m27 -7h1m-12 12h1m-13 6h1m-9 -1h1m15 1h1m5 -2h1m-2 -11h1m11 1h1m-16 5h1m-17 23h1m38 -29h1m-17 -4h1m4 5h1m-37 25h1m15 -6h1m-7 -7h1m19 -19h1m-28 26h1m6 -15h1m30 0h1m-18 -6h1m20 0h1m-41 31h1m17 -25h1m-10 5h1m15 7h1m-22 5h1m18 1h1m-25 6h1m25 -13h1m-4 -20h1m-17 23h1m26 -10h1m-48 19h1m35 -21h1m-28 16h1m8 0h1m13 -26h1m-14 26h1m-1 -7h1m36 -6h1m-40 14h1m-2 -6h1m-19 13h1m12 -15h1m-1 4h1m45 -7h1m-5 10h1m-47 -10h1m49 -8h1m-25 -9h1m-8 18h1m15 0h1m-12 -8h1m-28 18h1m14 2h1m6 -18h1m-8 -1h1m0 15h1m14 -29h1m-21 31h1m24 -19h1m-14 24h1m9 -2h1m-33 -23h1m17 -2h1m-11 7h1m-4 28h1m28 -30h1m-9 2h1m-34 29h1m46 -36h1m6 7h1m-19 5h1m1 -5h1m-22 6h1m34 2h1m16 -75h1m18 1h1m-28 -3h1m10 9h1m-4 10h1m21 -23h1m-21 12h1m-6 -1h1m18 -3h1m0 -11h1m-2 14h1m2 -7h1m-6 12h1m-6 0h1m-8 -3h1m1 5h1m-2 -1h1m9 -7h1m-8 0h1m0 -4h1m5 -3h1m-9 3h1m-14 12h1m8 1h1m-2 7h1m-14 -1h1m24 -10h1m-14 13h1m-11 -18h1m11 18h1m15 -24h1m-15 6h1m16 -4h1m-21 -8h1m2 16h1m13 -2h1m-8 -14h1m-11 27h1m5 -6h1m-11 3h1m8 -10h1m2 -3h1m21 1h1m-7 -10h1m-15 -5h1m10 14h1m-11 1h1m10 -15h1m18 3h1m-27 16h1m0 0h1m0 -15h1m-10 6h1m9 16h1m-16 8h1m19 -17h1m-10 6h1m1 -14h1m-12 7h1m-24 1h1m29 -8h1m8 -1h1m-32 10h1m8 9h1m9 -2h1m-24 -3h1m46 -8h1m-17 -9h1m-20 10h1m-11 15h1m23 -17h1m19 -8h1m-16 6h1m1 -6h1m-21 21h1m8 -17h1m-21 12h1m40 -22h1m-10 24h1m-32 16h1m-5 -15h1m29 -8h1m-4 3h1m-6 3h1m11 -2h1m-6 -2h1m-26 13h1m15 -16h1m-10 16h1m-2 -16h1m3 -11h1m6 9h1m-11 3h1m17 -3h1m-12 1h1m9 0h1m-4 13h1m5 -17h1m-14 1h1m5 8h1m-4 10h1m4 -10h1m-26 6h1m51 -27h1m-42 16h1m10 -1h1m-8 3h1m6 14h1m-3 -28h1m-5 17h1m-3 -5h1m-8 13h1m4 -4h1m-5 0h1m29 -26h1m-37 19h1m5 4h1m9 -16h1m21 5h1m-40 15h1m3 4h1m14 -20h1m5 6h1m-24 6h1m-8 -2h1m20 15h1m13 -20h1m-6 14h1m-5 -9h1m13 7h1m-17 -9h1m4 0h1m-20 -4h1m9 10h1m7 -15h1m-9 4h1m-10 -1h1m18 14h1m-11 3h1m34 -26h1m-36 27h1m-6 -11h1m0 7h1m-6 1h1m3 3h1m16 -25h1m-2 -2h1m10 5h1m-8 6h1m-21 -2h1m21 -3h1m-17 17h1m4 2h1m7 -29h1m4 16h1m-28 -10h1m9 15h1m4 -1h1m8 -5h1m-12 2h1m-14 18h1m11 -10h1" stroke="#7676f2" stroke-width="1" fill="none"/>
<path d="M158 2070.5h1m43 -17h1m-1 9h1m-16 -9h1m5 1h1m10 -5h1m-13 9h1m-25 24h1m4 -29h1m-20 24h1m14 -15h1m-9 -2h1m14 -6h1m7 3h1m-16 9h1m5 -6h1m4 -6h1m-5 4h1m2 6h1m-30 9h1m22 -12h1m13 -9h1m-6 6h1m-25 4h1m17 -1h1m-9 5h1m20 -7h1m-17 11h1m2 -7h1m0 -5h1m24 -18h1m-29 27h1m-5 -11h1m-16 21h1m25 -23h1m1 14h1m-20 0h1m31 -16h1m-20 10h1m3 6h1m-21 -5h1m-6 -2h1m20 10h1m-17 -2h1m21 -15h1m-1 -11h1m-11 23h1m-10 9h1m10 -12h1m-15 -7h1m19 3h1m-1 -1h1m-13 -5h1m17 18h1m10 -5h1m-2 -21h1m-27 14h1m20 4h1m-18 -4h1m-9 8h1m26 -16h1m-9 11h1m-5 0h1m3 1h1m-10 -2h1m-10 7h1m26 -28h1m-8 11h1m-2 16h1m2 -15h1m-1 -7h1m-15 15h1m6 -9h1m-8 11h1m8 -10h1m-7 15h1m26 -26h1m-28 29h1m2 -20h1m6 16h1m-8 8h1m6 -22h1m-11 10h1m-6 0h1m3 -4h1m-8 7h1m24 -7h1m-11 -3h1m-25 11h1m14 -18h1m-5 21h1m6 -10h1m12 -10h1m-10 12h1m9 -5h1m-7 -8h1m13 2h1m-47 18h1m28 -6h1m-13 -2h1m-3 9h1m11 -5h1m-18 3h1m-14 7h1m11 -16h1m15 13h1m18 -25h1m-35 10h1m-5 4h1m-5 15h1m18 -9h1m0 -2h1m1 -6h1m-19 10h1m7 -5h1m-20 8h1m33 -6h1m-22 11h1m-14 8h1m45 -24h1m-12 -2h1m-4 -2h1m-8 -12h1m-11 20h1m25 -10h1m-30 5h1m40 -7h1m-24 5h1m-27 9h1m31 -15h1m13 -5h1m-6 14h1m-50 13h1m46 -20h1m-6 14h1m-26 -5h1m6 9h1m25 -9h1m-36 0h1m17 -7h1m11 7h1m-19 1h1m3 -1h1m-9 14h1m28 -19h1m-22 18h1m1 -9h1m26 -2h1m-29 2h1m-9 4h1m6 -3h1m18 -24h1m-15 18h1m8 -14h1m-24 14h1m28 -7h1m-6 7h1m-7 1h1m-35 15h1m28 -18h1m-8 59h1m-10 -17h1m-1 15h1m7 -22h1m-6 9h1m-4 18h1m9 -15h1m-14 44h1m-4 -53h1m8 13h1m-14 -2h1m14 29h1m11 -50h1m-20 31h1m-6 -3h1m14 -12h1m-14 13h1m-6 8h1m2 -19h1m4 22h1m3 -21h1m10 10h1m-11 -15h1m-9 28h1m-4 -31h1m18 16h1m0 -21h1m-7 32h1m-9 -34h1m23 20h1m-12 -4h1m-30 13h1m13 -13h1m15 2h1m-15 16h1m-9 2h1m3 -4h1m10 -25h1m1 16h1m-12 -12h1m4 10h1m-8 0h1m2 0h1m5 9h1m0 -7h1m-4 19h1m1 -21h1m-4 12h1m3 -2h1m-4 -20h1m-15 24h1m-3 -12h1m4 -9h1m13 -4h1m-18 18h1m10 -9h1m-12 -1h1m19 22h1m-25 7h1m16 1h1m-9 -33h1m11 9h1m-16 15h1m11 -7h1m12 0h1m-8 -2h1m-6 -5h1m2 -28h1m10 40h1m-7 -13h1m-7 10h1m-5 -2h1m-5 2h1m9 -6h1m4 5h1m-13 -14h1m3 3h1m-13 11h1m17 -31h1m-18 35h1m15 -16h1m-6 -23h1m-7 34h1m2 -25h1m10 2h1m-10 11h1m-1 28h1m-8 -26h1m-21 4h1m27 -17h1m-11 23h1m8 -21h1m-13 18h1m7 -12h1m-10 18h1m6 -7h1m-18 3h1m7 -1h1m26 -5h1m-18 1h1m2 -4h1m20 -10h1m-16 15h1m-8 20h1m5 -18h1m-7 -6h1m17 -8h1m-21 -5h1m6 7h1m-9 24h1m10 -32h1m-16 8h1m4 0h1m-15 8h1m19 -1h1m2 -6h1m-9 22h1m12 -26h1m-6 -14h1m-12 23h1m-8 0h1m12 -1h1m-5 1h1m0 14h1m2 1h1m-6 -8h1m-2 -3h1m-5 10h1m-2 0h1m13 -8h1m-7 -15h1m-9 10h1m14 -7h1m-6 -5h1m6 4h1m-10 13h1m-14 -3h1m8 20h1m3 -28h1m-4 19h1m-1 -31h1m18 3h1m-9 21h1m-4 -17h1m5 31h1m-22 -9h1m26 -3h1m-10 -7h1m4 4h1m-9 6h1m-5 -36h1m-4 20h1m-4 0h1m3 -4h1m18 10h1m-4 9h1m-14 10h1m6 -37h1m-6 29h1m-11 7h1m11 -8h1m-23 5h1m17 -41h1m-9 19h1m5 -12h1m-2 -1h1m4 12h1m-17 -3h1m9 10h1m1 7h1m3 -7h1m-7 8h1m12 -22h1m-15 3h1m-2 11h1m0 20h1m0 -29h1m17 13h1m-14 12h1m-19 -33h1m13 40h1m-5 -32h1m-5 29h1m-6 -24h1m18 -17h1m2 26h1m1 -3h1m3 -29h1m-21 9h1m4 21h1m2 2h1m-1 -5h1m9 -25h1m-8 12h1m-10 16h1m-5 11h1m25 -27h1m-19 14h1m-12 6h1m9 0h1m-11 10h1m10 -32h1m4 11h1m-6 -9h1m-8 15h1m-6 -7h1m13 -10h1m9 7h1m-4 5h1m-9 11h1m-2 7h1m-6 -6h1m2 -2h1m-12 -3h1m6 -26h1m14 20h1m-10 27h1m-7 -13h1m3 4h1m-1 -20h1m5 17h1m-15 -23h1m1 11h1m24 -12h1m-8 -4h1m-9 11h1m-5 -6h1m13 17h1m-9 -43h1m-13 11h1m12 -16h1m-4 13h1m-2 -12h1m-9 0h1m1 0h1m-4 20h1m-4 -25h1m9 17h1m-13 17h1m-1 -14h1m9 -8h1m9 1h1m-17 21h1m-4 -30h1m0 12h1m-3 15h1m10 0h1m-8 4h1m13 -24h1m-3 -3h1m-12 19h1m4 -24h1m-4 -1h1m-10 20h1m5 -37h1m4 34h1m-2 -4h1m-19 31h1m24 -35h1m-11 15h1m1 -15h1m-7 30h1m9 -39h1m-3 -6h1m14 0h1m-23 65h1m7 -51h1m3 6h1m-27 39h1m16 -27h1m-1 -10h1m3 -21h1m-13 29h1m12 -10h1m11 3h1m-7 9h1m-5 -23h1m-11 31h1m14 -31h1m-4 20h1m8 -18h1m-20 8h1m16 0h1m-14 -9h1m6 6h1m-15 11h1m-2 6h1m6 -22h1m-3 -2h1m7 10h1m-3 7h1m3 -14h1m-5 12h1m-17 13h1m13 -19h1m0 -3h1m-2 -5h1m-6 24h1m-8 -6h1m21 -6h1m-17 4h1m0 -5h1m12 -10h1m-5 7h1m-3 0h1m9 -7h1m-5 -25h1m-6 37h1m-13 -4h1m7 -18h1m-4 27h1m-4 -2h1m10 -6h1m-2 -3h1m-10 24h1m2 -25h1m6 12h1m-6 -6h1m-5 0h1m20 -9h1m-6 6h1m-12 2h1m3 -14h1m-3 4h1m-9 10h1m1 -3h1m16 -21h1m-20 22h1m10 -21h1m-6 10h1m-4 18h1m-11 11h1m6 -28h1m4 23h1m-16 9h1m17 -37h1m-2 18h1m-16 -13h1m16 10h1m2 4h1m-3 -8h1m-11 8h1m-8 32h1m17 -43h1m-6 3h1m6 -15h1m-21 60h1m19 -58h1m-1 16h1m-24 21h1m16 -11h1m2 -14h1m-4 27h1m16 -44h1m-20 2h1m-1 22h1m3 16h1m2 -15h1m-9 3h1m1 12h1m-16 -2h1m26 -38h1m-15 22h1m4 -19h1m8 2h1m-20 26h1m-1 -13h1m2 10h1m-3 11h1m14 39h1m-3 -53h1m-26 29h1m1 -29h1m-24 -15h1m40 23h1m12 56h1m14 -95h1m-65 109h1m-8 -32h1" stroke="#1a1ad4" stroke-width="1" fill="none"/>
<ellipse cx="167" cy="2116" rx="15.4" ry="9.9" transform="rotate(-78 167 2116)" fill="#1426e4" filter="url(#spkL)"/>
<ellipse cx="180" cy="2060" rx="22" ry="10" transform="rotate(-28 180 2060)" fill="#1430ee" filter="url(#spk2)"/>
<ellipse cx="177.8" cy="2060.5" rx="9.9" ry="4.5" transform="rotate(-28 177.8 2060.5)" fill="#2a78f2" filter="url(#fb1)" fill-opacity="0.8"/>
<ellipse cx="133" cy="2126" rx="28" ry="15.7" transform="rotate(-25 133 2126)" fill="#1228ec" filter="url(#spk)"/>
<ellipse cx="133" cy="2126" rx="21.2" ry="11.9" transform="rotate(-25 133 2126)" fill="#1030f0" filter="url(#fb1)"/>
<ellipse cx="133.6" cy="2126" rx="20" ry="11.2" transform="rotate(-25 133.6 2126)" fill="#1a7cf4" filter="url(#fb2)"/>
<ellipse cx="134" cy="2125.9" rx="16.5" ry="9.2" transform="rotate(-25 134 2125.9)" fill="#22cdee" filter="url(#fb2)"/>
<ellipse cx="134.5" cy="2125.9" rx="11.8" ry="6.6" transform="rotate(-25 134.5 2125.9)" fill="#44ec80" filter="url(#fb2)"/>
<ellipse cx="135" cy="2125.9" rx="7.5" ry="4.2" transform="rotate(-25 135 2125.9)" fill="#dcef2c" filter="url(#fb2)"/>
<ellipse cx="135.4" cy="2125.8" rx="4.2" ry="2.4" transform="rotate(-25 135.4 2125.8)" fill="#f2380e" filter="url(#fb2)"/>
<line x1="157.9" y1="2038.5" x2="157.9" y2="2195.3" stroke="#3a3a3a" stroke-width="1.4"/>
<line x1="50.8" y1="2090.3" x2="219.9" y2="2090.3" stroke="#3a3a3a" stroke-width="1.4"/>
<text x="55.8" y="2081.9" font-size="13.5" text-anchor="start" fill="#000">0.39</text>
<text x="212" y="2083.1" font-size="13.5" text-anchor="end" fill="#000">6.90</text>
<text x="56.8" y="2186.5" font-size="13.5" text-anchor="start" fill="#000">90.2</text>
<text x="212" y="2186.5" font-size="13.5" text-anchor="end" fill="#000">2.56</text>
<path d="M276.3 2038.7H446.7V2196.5" stroke="#9a9a9a" stroke-width="1" fill="none"/>
<path d="M276.3 2196.5v3.2M304.7 2196.5v3.2M333.1 2196.5v3.2M361.5 2196.5v3.2M389.9 2196.5v3.2M418.3 2196.5v3.2M446.7 2196.5v3.2M272.7 2196.5h3.6M272.7 2170.2h3.6M272.7 2143.9h3.6M272.7 2117.6h3.6M272.7 2091.3h3.6M272.7 2065h3.6M272.7 2038.7h3.6" stroke="#333" stroke-width="1.1" fill="none"/>
<path d="M284.8 2196.5v1.8M289.9 2196.5v1.8M293.4 2196.5v1.8M296.2 2196.5v1.8M298.4 2196.5v1.8M300.3 2196.5v1.8M301.9 2196.5v1.8M303.4 2196.5v1.8M313.2 2196.5v1.8M318.3 2196.5v1.8M321.8 2196.5v1.8M324.6 2196.5v1.8M326.8 2196.5v1.8M328.7 2196.5v1.8M330.3 2196.5v1.8M331.8 2196.5v1.8M341.6 2196.5v1.8M346.7 2196.5v1.8M350.2 2196.5v1.8M353 2196.5v1.8M355.2 2196.5v1.8M357.1 2196.5v1.8M358.7 2196.5v1.8M360.2 2196.5v1.8M370 2196.5v1.8M375.1 2196.5v1.8M378.6 2196.5v1.8M381.4 2196.5v1.8M383.6 2196.5v1.8M385.5 2196.5v1.8M387.1 2196.5v1.8M388.6 2196.5v1.8M398.4 2196.5v1.8M403.5 2196.5v1.8M407 2196.5v1.8M409.8 2196.5v1.8M412 2196.5v1.8M413.9 2196.5v1.8M415.5 2196.5v1.8M417 2196.5v1.8M426.8 2196.5v1.8M431.9 2196.5v1.8M435.4 2196.5v1.8M438.2 2196.5v1.8M440.4 2196.5v1.8M442.3 2196.5v1.8M443.9 2196.5v1.8M445.4 2196.5v1.8M274.3 2188.6h2M274.3 2184h2M274.3 2180.7h2M274.3 2178.1h2M274.3 2176h2M274.3 2174.3h2M274.3 2172.7h2M274.3 2171.4h2M274.3 2162.3h2M274.3 2157.7h2M274.3 2154.4h2M274.3 2151.8h2M274.3 2149.7h2M274.3 2148h2M274.3 2146.4h2M274.3 2145.1h2M274.3 2136h2M274.3 2131.4h2M274.3 2128.1h2M274.3 2125.5h2M274.3 2123.4h2M274.3 2121.7h2M274.3 2120.1h2M274.3 2118.8h2M274.3 2109.7h2M274.3 2105.1h2M274.3 2101.8h2M274.3 2099.2h2M274.3 2097.1h2M274.3 2095.4h2M274.3 2093.8h2M274.3 2092.5h2M274.3 2083.4h2M274.3 2078.8h2M274.3 2075.5h2M274.3 2072.9h2M274.3 2070.8h2M274.3 2069.1h2M274.3 2067.5h2M274.3 2066.2h2M274.3 2057.1h2M274.3 2052.5h2M274.3 2049.2h2M274.3 2046.6h2M274.3 2044.5h2M274.3 2042.8h2M274.3 2041.2h2M274.3 2039.9h2" stroke="#333" stroke-width="0.8" fill="none"/>
<path d="M275.7 2196.5H446.7" stroke="#6a6a6a" stroke-width="1.2" fill="none"/>
<path d="M276.3 2038.2V2197.1" stroke="#333" stroke-width="1.4" fill="none"/>
<text x="267" y="2220.8" font-size="13.5">10<tspan font-size="8.8" dy="-9">0</tspan></text>
<text x="247" y="2200.8" font-size="13.5">10<tspan font-size="8.8" dy="-9">0</tspan></text>
<text x="295.4" y="2220.8" font-size="13.5">10<tspan font-size="8.8" dy="-9">1</tspan></text>
<text x="247" y="2174.5" font-size="13.5">10<tspan font-size="8.8" dy="-9">1</tspan></text>
<text x="323.8" y="2220.8" font-size="13.5">10<tspan font-size="8.8" dy="-9">2</tspan></text>
<text x="247" y="2148.2" font-size="13.5">10<tspan font-size="8.8" dy="-9">2</tspan></text>
<text x="352.2" y="2220.8" font-size="13.5">10<tspan font-size="8.8" dy="-9">3</tspan></text>
<text x="247" y="2121.9" font-size="13.5">10<tspan font-size="8.8" dy="-9">3</tspan></text>
<text x="380.6" y="2220.8" font-size="13.5">10<tspan font-size="8.8" dy="-9">4</tspan></text>
<text x="247" y="2095.6" font-size="13.5">10<tspan font-size="8.8" dy="-9">4</tspan></text>
<text x="409" y="2220.8" font-size="13.5">10<tspan font-size="8.8" dy="-9">5</tspan></text>
<text x="247" y="2069.3" font-size="13.5">10<tspan font-size="8.8" dy="-9">5</tspan></text>
<text x="437.4" y="2220.8" font-size="13.5">10<tspan font-size="8.8" dy="-9">6</tspan></text>
<text x="247" y="2043" font-size="13.5">10<tspan font-size="8.8" dy="-9">6</tspan></text>
<path d="M340 2134.5h1m1 26h1m15 -16h1m-8 -14h1m-7 12h1m-4 -5h1m21 -8h1m-22 -8h1m11 26h1m-5 -2h1m6 -9h1m0 3h1m-8 -3h1m-18 6h1m18 1h1m-13 -10h1m3 -12h1m13 -8h1m-8 -4h1m0 8h1m-2 13h1m-15 -9h1m12 2h1m-16 -1h1m11 13h1m2 17h1m4 -13h1m-8 -9h1m20 -19h1m-13 16h1m-18 0h1m23 5h1m-18 7h1m9 -24h1m1 9h1m24 -18h1m-55 24h1m13 -7h1m7 14h1m-1 -10h1m13 9h1m-29 3h1m0 -5h1m22 6h1m-9 -28h1m-28 14h1m1 14h1m29 -25h1m-8 -2h1m10 10h1m-31 8h1m11 -2h1m14 10h1m-2 -6h1m-9 2h1m9 -14h1m-17 17h1m5 5h1m-18 -23h1m3 -9h1m6 24h1m15 -25h1m-4 25h1m-12 -1h1m23 -4h1m-31 2h1m6 -3h1m1 5h1m-5 5h1m5 5h1m2 -9h1m-29 -1h1m19 2h1m-2 -16h1m10 14h1m-5 -6h1m25 -14h1m-21 13h1m-16 -1h1m13 19h1m-13 -20h1m4 -3h1m-6 11h1m20 -16h1m-30 24h1m15 -21h1m0 6h1m-16 19h1m15 -21h1m-6 -5h1m24 -8h1m-20 12h1m-10 13h1m-3 1h1m3 12h1m2 -20h1m-8 -6h1m-12 21h1m6 1h1m-6 -15h1m6 2h1m0 0h1m-6 0h1m20 -9h1m-8 12h1m-39 1h1m30 -5h1m12 0h1m-14 -11h1m-22 13h1m-6 19h1m25 -40h1m-8 18h1m14 -2h1m-16 -4h1m0 -1h1m25 -1h1m-33 16h1m16 -4h1m-21 -1h1m23 -5h1m10 12h1m-20 -15h1m-5 32h1m12 -21h1m1 -15h1m3 4h1m12 -9h1m-16 16h1m-22 10h1m11 4h1m-4 -19h1m8 -11h1m-26 18h1m26 -11h1m-10 -6h1m-15 17h1m14 -15h1m-3 19h1m14 8h1m-33 -11h1m22 -8h1m-42 7h1m38 13h1m-16 -18h1m32 -5h1m-17 2h1m-9 14h1m-11 -5h1m11 -5h1m-13 -1h1m36 -18h1m-61 39h1m3 -3h1m42 -24h1m-29 5h1m34 -10h1m-6 6h1m-10 9h1m21 8h1m-57 21h1m16 -31h1m-16 0h1m43 1h1m-16 -12h1m-3 11h1m2 -7h1m3 13h1m-15 -2h1m27 -22h1m-27 6h1m-9 -2h1m-7 23h1m12 -2h1m-6 -23h1m8 17h1m-5 2h1m-11 2h1m-1 11h1m5 -9h1m-9 -14h1m19 -12h1m0 11h1m-5 5h1m-13 13h1m23 -14h1m1 -8h1m-29 26h1m11 -7h1m3 -9h1m2 -2h1m3 -2h1m-27 16h1m37 -20h1m-32 23h1m11 -13h1m0 -10h1m6 1h1m1 3h1m2 -5h1m-26 -2h1m14 0h1m-14 19h1m-6 8h1m3 -4h1m33 -11h1m-23 12h1m2 -10h1m-8 -16h1m-17 35h1m15 -9h1m2 -4h1m3 -2h1m-40 10h1m69 -41h1m-25 22h1m-11 -16h1m-14 20h1m14 -5h1m10 -25h1m-1 5h1m-12 28h1m-21 4h1m19 -6h1m-2 10h1m-3 -32h1m-24 20h1m25 10h1m-5 -16h1m1 21h1m4 -31h1m-21 26h1m-1 2h1m21 -19h1m-12 -1h1m-2 1h1m-4 5h1m8 -8h1m-23 4h1m4 -3h1m20 10h1m-3 -2h1m-15 10h1m0 -15h1m12 6h1m5 -12h1m13 -1h1m-17 8h1m-5 20h1m-20 -10h1m9 -22h1m7 16h1m-14 -16h1m1 15h1m15 -9h1m-39 51h1m30 -52h1m15 11h1m-3 -8h1m0 25h1m-13 -25h1m-15 8h1m5 0h1m6 -5h1m-16 18h1m0 -7h1m-5 9h1m11 -18h1m-20 11h1m23 -7h1m-12 3h1m-2 8h1m-10 -24h1m-7 34h1m10 -29h1m8 0h1m27 12h1m-32 -2h1m-1 -8h1m18 -11h1m11 9h1m-7 8h1m-1 -2h1m-32 9h1m-7 -10h1m23 -4h1m16 -19h1m-20 36h1m20 -15h1m-1 -7h1m-48 10h1m21 16h1m25 -15h1m-26 -12h1m6 24h1m0 -14h1m13 -27h1m-46 43h1m24 -14h1m15 -9h1m-26 13h1m8 2h1m1 3h1m-17 0h1m3 6h1m-15 -8h1m24 13h1m-8 -22h1m30 -14h1m-28 33h1m-1 -28h1m5 12h1m9 -5h1m-30 14h1m7 -3h1m31 -9h1m-38 16h1m-4 -14h1m7 -11h1m-4 23h1m19 -33h1m-19 28h1m14 0h1m-14 -2h1m-3 -7h1m-19 4h1m36 -5h1m-22 4h1m23 -8h1m-36 10h1m18 1h1m1 33h1m-7 -42h1m-28 28h1m47 -31h1m-13 4h1m-12 8h1m4 -2h1m6 10h1m-46 18h1m55 -28h1m-15 -17h1m-20 18h1m60 -59h1m6 8h1m3 -20h1m-7 20h1m-14 -16h1m-22 29h1m29 -12h1m-10 -11h1m14 9h1m12 -32h1m-36 31h1m2 2h1m29 -19h1m-26 15h1m10 -10h1m2 -6h1m-10 -5h1m-12 9h1m21 -21h1m17 4h1m-32 33h1m4 -14h1m13 -17h1m-3 27h1m-19 3h1m-6 -20h1m31 0h1m-27 20h1m15 -16h1m-6 -7h1m-11 16h1m16 -15h1m6 5h1m-7 -15h1m1 4h1m-29 34h1m26 -34h1m-9 0h1m16 7h1m-24 24h1m19 -25h1m-9 6h1m-9 30h1m17 -43h1m-36 17h1m4 11h1m10 -25h1m6 32h1m-3 -26h1m-16 0h1m5 -8h1m16 4h1m-10 13h1m4 -18h1m7 8h1m-27 17h1m28 -15h1m-13 -5h1m-7 6h1m3 -21h1m12 0h1m-7 17h1m-32 25h1m29 -18h1m-15 0h1m-1 3h1m-8 -5h1m39 -10h1m-30 6h1m-6 1h1m18 0h1m-16 -16h1m17 8h1m-24 -9h1m-1 17h1m0 -3h1m-27 33h1m4 -13h1m42 -21h1m-20 16h1m32 -21h1m-46 32h1m11 -27h1m-4 25h1m4 -26h1m-7 10h1m-1 1h1m-3 -1h1m5 -1h1m9 -10h1m-26 15h1m26 -7h1m-16 17h1m13 -18h1m-13 -7h1m-8 21h1m-1 -23h1m14 37h1m-15 -11h1m23 -27h1m-42 35h1m24 -36h1m8 6h1m-13 21h1m11 -31h1m-14 47h1m6 -39h1m0 2h1m-11 21h1m14 -18h1m-3 -6h1m-18 20h1m-16 17h1m34 -25h1m-23 7h1m-8 17h1m12 -21h1m-23 29h1m21 -30h1m20 -26h1m-54 58h1m39 -44h1m-8 28h1m-4 -16h1m-7 7h1m24 -15h1m-12 6h1m3 23h1m-23 -8h1m13 -9h1m29 -10h1m-46 16h1m26 -15h1m-7 -4h1m-28 33h1m35 -44h1m-14 17h1m-7 -1h1m16 14h1m-24 0h1m-2 7h1m29 -25h1m-27 5h1m12 7h1m11 -10h1m-8 -13h1m-6 19h1m-5 1h1m12 5h1m-45 12h1m19 -4h1m18 -23h1m-15 -5h1m18 -9h1m4 20h1m-17 7h1m19 -11h1m-31 -10h1m19 1h1m-21 23h1m14 -9h1m-8 11h1m11 5h1m-29 -23h1m30 -9h1m-4 18h1m3 -17h1m-30 25h1m-11 14h1m12 -20h1m13 1h1m5 -18h1m-1 -6h1m3 -1h1m4 -3h1m-9 13h1m-4 12h1m-20 4h1m22 -14h1m-13 18h1m-14 -5h1m29 -6h1m-11 0h1m0 -15h1m-22 19h1m18 -9h1m-11 4h1m-6 19h1m-10 -3h1m36 -34h1m-37 36h1m20 -31h1m-11 19h1m-5 -14h1m26 1h1m-13 12h1m-24 12h1m2 13h1m-2 -20h1m0 15h1m34 -34h1m-31 37h1m28 -34h1m-4 -4h1m-30 32h1m-7 -10h1m9 -17h1m20 17h1m-9 -6h1m-8 10h1m-21 15h1m28 -37h1m-1 -10h1m-5 15h1m8 -4h1m-21 18h1m27 -18h1m-5 10h1m-10 -6h1m1 -15h1m-26 27h1m34 -8h1m-11 -7h1m16 -13h1m-20 24h1m-10 0h1m-5 -4h1m50 -25h1m-41 22h1m-21 2h1m9 6h1m-7 2h1m4 4h1m8 -17h1m-7 -2h1m4 -7h1m-11 34h1m15 -35h1m3 18h1m-18 4h1m7 -16h1m-2 5h1m-9 -2h1m20 -2h1m-20 9h1m-3 18h1m10 -22h1m-4 4h1m-12 5h1m11 -12h1m-19 15h1m20 -7h1m-27 -2h1m41 10h1m-28 -13h1m18 -2h1m-29 0h1m26 2h1m-4 4h1m-21 2h1m2 -4h1m-13 28h1m6 -38h1m0 26h1m6 -26h1" stroke="#7676f2" stroke-width="1" fill="none"/>
<path d="M381 2096.5h1m14 -16h1m6 -18h1m8 2h1m-34 19h1m28 -3h1m6 -24h1m-7 11h1m-44 31h1m24 -21h1m19 -18h1m-11 -2h1m5 -1h1m5 -6h1m-17 6h1m16 -3h1m-40 30h1m19 -18h1m-5 4h1m32 -22h1m-7 17h1m2 -6h1m-23 19h1m3 -20h1m8 -2h1m-24 25h1m7 -16h1m-3 -1h1m-5 -2h1m4 15h1m-14 1h1m20 -22h1m5 11h1m5 -18h1m-11 21h1m-12 5h1m-15 6h1m30 -9h1m-10 1h1m28 -30h1m-7 5h1m-38 27h1m-1 12h1m12 -16h1m-15 2h1m30 -28h1m-23 25h1m-1 -10h1m13 -18h1m-20 37h1m19 -17h1m-23 25h1m0 -28h1m6 19h1m14 -10h1m-11 -6h1m8 -18h1m4 18h1m-23 11h1m-4 16h1m2 -10h1m-8 -17h1m9 5h1m-5 9h1m21 -25h1m-18 18h1m2 8h1m2 -3h1m-15 -19h1m14 14h1m-32 11h1m24 -6h1m-30 8h1m27 -21h1m12 -4h1m-35 11h1m16 6h1m1 4h1m33 -34h1m-17 11h1m-3 9h1m-16 8h1m0 -20h1m8 24h1m5 -11h1m-20 16h1m8 -13h1m-13 -3h1m-13 14h1m40 -38h1m-10 12h1m-33 10h1m8 27h1m9 -10h1m-9 -4h1m1 -4h1m-10 14h1m11 -6h1m12 -9h1m-1 -10h1m-30 33h1m23 -27h1m-10 16h1m-14 -11h1m13 -5h1m-13 -3h1m29 -5h1m-4 -3h1m-13 14h1m-6 3h1m31 -30h1m0 -1h1m-11 28h1m-17 -2h1m10 -20h1m18 8h1m-35 18h1m-4 -13h1m22 -10h1m-25 18h1m0 -14h1m-5 9h1m14 3h1m12 -12h1m-34 16h1m11 -3h1m14 -7h1m-16 11h1m-14 13h1m37 -25h1m-20 -8h1m-28 24h1m21 -6h1m3 -7h1m3 -8h1m4 -7h1m14 12h1m-8 -16h1m-25 38h1m19 -30h1m-33 39h1m11 -37h1m-11 22h1m-7 12h1m27 -42h1m-6 20h1m16 -10h1m-38 31h1m5 -4h1m11 -17h1m-12 3h1m14 -4h1m-13 -1h1m-7 14h1m27 -35h1m-22 44h1m23 -20h1m-19 -11h1m3 4h1m-5 13h1m5 -1h1m-35 20h1m10 -6h1m1 -7h1m25 -13h1m13 -11h1m-33 4h1m24 -9h1m-27 13h1m28 3h1m-37 16h1m22 -20h1m-5 -1h1m-11 25h1m6 4h1m-25 -18h1m44 -23h1m-16 1h1m14 -7h1m-40 37h1m34 -37h1m-35 28h1m34 -19h1m-16 17h1m12 -19h1m-25 21h1m6 -9h1m-15 1h1m18 -8h1m6 -2h1m-6 5h1m-8 5h1m0 8h1m7 -1h1m2 -16h1m-7 11h1m-5 0h1m0 2h1m-17 31h1m23 -40h1m-10 -9h1m-17 24h1m1 7h1m22 -33h1m-2 18h1m-2 -2h1m5 -16h1m6 13h1m-20 4h1m-16 13h1m-10 -5h1m29 -6h1m12 -24h1m-5 15h1m2 17h1m-5 -13h1m-28 11h1m21 -17h1m-19 -6h1m1 35h1m24 -35h1m-14 12h1m-17 -1h1m16 8h1m4 -18h1m-16 9h1m28 -11h1m-30 20h1m3 17h1m-2 3h1m-3 -17h1m10 -15h1m-7 6h1m-26 4h1m6 9h1m15 -20h1m3 10h1m-10 10h1m3 1h1m21 -31h1m-5 10h1m-18 4h1m16 -10h1m-10 14h1m9 13h1m-37 13h1m-7 -3h1m-5 1h1m13 23h1m25 -33h1m-9 -17h1m-11 22h1m12 -22h1m0 1h1m-13 2h1m-7 31h1m31 -45h1m-10 -7h1m-23 29h1m38 -27h1m-33 18h1m-11 12h1m-5 42h1m-13 -26h1m9 2h1m-12 10h1m8 -14h1m-8 30h1m4 -28h1m4 15h1m-25 7h1m21 -1h1m-4 -1h1m-4 -4h1m-9 3h1m14 5h1m-5 -27h1m-1 -19h1m-1 13h1m-5 12h1m7 14h1m-3 2h1m-7 9h1m0 -39h1m-2 27h1m-10 4h1m7 0h1m1 -12h1m-3 11h1m10 -7h1m-12 -4h1m10 -16h1m-11 37h1m-11 -24h1m14 17h1m-7 -5h1m4 -30h1m-3 15h1m-3 15h1m4 -13h1m-15 5h1m22 -13h1m-10 23h1m-8 -6h1m6 -2h1m-1 3h1m-5 6h1m-14 -13h1m12 -11h1m3 25h1m-7 -5h1m5 -10h1m-14 15h1m9 -23h1m-6 1h1m-4 45h1m-6 -25h1m6 7h1m5 -27h1m5 -1h1m-12 23h1m5 -9h1m-16 2h1m14 -14h1m3 -3h1m-10 4h1m7 -6h1m-6 2h1m-1 15h1m1 6h1m-12 2h1m10 -21h1m1 -3h1m1 21h1m-2 1h1m-3 -11h1m0 -14h1m-4 13h1m-4 1h1m5 17h1m-5 -20h1m6 0h1m-7 21h1m-10 -42h1m-2 40h1m12 -25h1m-14 14h1m1 -5h1m0 14h1m-4 -3h1m11 -17h1m-4 13h1m2 3h1m-5 -20h1m8 5h1m-6 7h1m3 -23h1m-10 27h1m-7 -9h1m13 1h1m-17 25h1m7 10h1m6 -30h1m-11 -3h1m6 12h1m-1 2h1m1 -22h1m-2 17h1m-9 18h1m9 -33h1m-4 7h1m-4 -3h1m-2 -14h1m6 12h1m-3 11h1m-19 26h1m7 -35h1m5 8h1m-1 -22h1m2 1h1m-3 -2h1m-3 22h1m-5 -2h1m12 15h1m-13 -10h1m10 -19h1m-7 26h1m3 -22h1m8 -22h1m-15 53h1m-4 -17h1m11 -2h1m-5 -15h1m12 -13h1m-12 9h1m-9 18h1m-1 12h1m6 -11h1m-4 13h1m-4 -37h1m-3 33h1m6 -20h1m-12 5h1m5 21h1m-5 -18h1m4 1h1m-4 -12h1m-1 19h1m6 -23h1m-8 30h1m-5 23h1m11 -54h1m0 15h1m6 4h1m-16 13h1m-1 7h1m-10 5h1m14 -64h1m-15 44h1m14 -33h1m-7 55h1m-2 -39h1m0 24h1m-8 -8h1m17 -23h1m-9 3h1m-7 8h1m12 -8h1m-16 41h1m8 -56h1m7 33h1m-23 15h1m9 -8h1m-8 -13h1m17 0h1m-19 37h1m11 -59h1m-4 41h1m-5 -39h1m11 5h1m-8 -6h1m-6 44h1m1 -5h1m1 -51h1m-7 50h1m1 4h1m10 -34h1m-12 15h1m3 -1h1m-7 -8h1m18 -14h1m-29 32h1m12 0h1m4 1h1m3 -6h1m-13 -4h1m-3 19h1m7 -22h1m-6 23h1m0 -15h1m2 0h1m-8 -1h1m6 -25h1m3 -2h1m5 10h1m-15 -11h1m4 30h1m6 -25h1m-17 20h1m17 -2h1m-7 23h1m0 -18h1m-5 -8h1m-16 5h1m-5 10h1m13 7h1m-5 0h1m13 -14h1m-9 9h1m-7 14h1m3 -31h1m8 -6h1m-16 16h1m11 3h1m18 15h1m-18 -20h1m12 1h1m-4 19h1m1 -15h1m-7 11h1m1 11h1m5 -9h1m-13 -16h1m6 14h1m-1 -5h1m1 -6h1m-13 15h1m-12 4h1m17 -28h1m2 2h1m7 -2h1m-4 19h1m-12 -11h1m6 -8h1m-8 20h1m-7 1h1m3 14h1m6 -23h1m-4 -3h1m-1 -6h1m0 10h1m2 -12h1m8 31h1m-20 -25h1m18 6h1m-13 3h1m3 -5h1m11 -8h1m-14 15h1m5 -25h1m-4 10h1m-12 10h1m-2 1h1m2 13h1m-6 -13h1m12 6h1m-10 -9h1m5 10h1m-5 -14h1m5 10h1m-9 17h1m7 -6h1m-3 4h1m-8 -16h1m10 -11h1m-9 23h1m-6 10h1m-9 -26h1m33 -29h1m-21 39h1m0 -11h1m4 11h1m-2 -17h1m-2 -8h1m1 22h1m-8 -20h1m4 31h1m-2 -17h1m-10 15h1m-14 -23h1m28 21h1m-11 -15h1m-21 10h1m25 -7h1m-10 7h1m9 6h1m-14 0h1m10 -6h1m-4 -11h1m7 10h1m11 -14h1m-22 13h1m-8 -11h1m10 2h1m-2 1h1m-5 8h1m7 -9h1m2 -13h1m-9 0h1m1 19h1m4 -9h1m-4 3h1m-5 -3h1m-1 7h1m9 -17h1m-23 19h1m14 -17h1m5 -7h1m-5 -2h1m2 31h1m-16 12h1m-7 -22h1m17 -25h1m-22 44h1m11 4h1m14 -25h1m-7 0h1m-24 23h1m21 -14h1m0 -5h1m-21 16h1m18 -25h1m-11 26h1m5 -29h1m-3 11h1m-2 11h1m-8 9h1m2 -17h1m9 9h1m-5 -6h1m9 -10h1m-21 15h1m1 -10h1m8 -18h1m-8 15h1m-2 40h1m-12 -37h1m17 -7h1m-10 20h1m-78 -32h1m114 7h1m-125 5h1m69 39h1m-32 -61h1m22 56h1m41 -91h1m36 1h1m-96 95h1m79 -32h1m-57 8h1" stroke="#1a1ad4" stroke-width="1" fill="none"/>
<ellipse cx="377" cy="2100" rx="18.7" ry="5.5" transform="rotate(-80 377 2100)" fill="#1426e4" filter="url(#spkL)"/>
<ellipse cx="386" cy="2114" rx="13.2" ry="6.6" transform="rotate(-70 386 2114)" fill="#1426e4" filter="url(#spkL)" fill-opacity="0.9"/>
<ellipse cx="402" cy="2064" rx="31" ry="12" transform="rotate(-45 402 2064)" fill="#1430ee" filter="url(#spk2)"/>
<ellipse cx="398.9" cy="2064.6" rx="14" ry="5.4" transform="rotate(-45 398.9 2064.6)" fill="#1cb4f0" filter="url(#fb1)" fill-opacity="0.8"/>
<ellipse cx="352" cy="2130" rx="26.9" ry="15.7" transform="rotate(-35 352 2130)" fill="#1228ec" filter="url(#spk)"/>
<ellipse cx="352" cy="2130" rx="20.4" ry="11.9" transform="rotate(-35 352 2130)" fill="#1030f0" filter="url(#fb1)"/>
<ellipse cx="353.1" cy="2129.5" rx="19.2" ry="11.2" transform="rotate(-35 353.1 2129.5)" fill="#1a7cf4" filter="url(#fb2)"/>
<ellipse cx="353.9" cy="2129.2" rx="15.8" ry="9.2" transform="rotate(-35 353.9 2129.2)" fill="#22cdee" filter="url(#fb2)"/>
<ellipse cx="355" cy="2128.8" rx="11.3" ry="6.6" transform="rotate(-35 355 2128.8)" fill="#44ec80" filter="url(#fb2)"/>
<ellipse cx="356" cy="2128.4" rx="7.2" ry="4.2" transform="rotate(-35 356 2128.4)" fill="#dcef2c" filter="url(#fb2)"/>
<ellipse cx="356.7" cy="2128.1" rx="4.1" ry="2.4" transform="rotate(-35 356.7 2128.1)" fill="#f2380e" filter="url(#fb2)"/>
<line x1="378" y1="2038.7" x2="378" y2="2196.5" stroke="#3a3a3a" stroke-width="1.4"/>
<line x1="276.3" y1="2090.5" x2="446.7" y2="2090.5" stroke="#3a3a3a" stroke-width="1.4"/>
<text x="282" y="2083.5" font-size="13.5" text-anchor="start" fill="#000">0.63</text>
<text x="439" y="2084.5" font-size="13.5" text-anchor="end" fill="#000">14.3</text>
<text x="283" y="2188" font-size="13.5" text-anchor="start" fill="#000">83.5</text>
<text x="439" y="2188" font-size="13.5" text-anchor="end" fill="#000">1.54</text>
<path d="M499.1 2039.7H667.8V2195.1" stroke="#9a9a9a" stroke-width="1" fill="none"/>
<path d="M499.1 2195.1v3.2M527.2 2195.1v3.2M555.3 2195.1v3.2M583.5 2195.1v3.2M611.6 2195.1v3.2M639.7 2195.1v3.2M667.8 2195.1v3.2M495.5 2195.1h3.6M495.5 2169.2h3.6M495.5 2143.3h3.6M495.5 2117.4h3.6M495.5 2091.5h3.6M495.5 2065.6h3.6M495.5 2039.7h3.6" stroke="#333" stroke-width="1.1" fill="none"/>
<path d="M507.6 2195.1v1.8M512.5 2195.1v1.8M516 2195.1v1.8M518.8 2195.1v1.8M521 2195.1v1.8M522.9 2195.1v1.8M524.5 2195.1v1.8M525.9 2195.1v1.8M535.7 2195.1v1.8M540.6 2195.1v1.8M544.1 2195.1v1.8M546.9 2195.1v1.8M549.1 2195.1v1.8M551 2195.1v1.8M552.6 2195.1v1.8M554 2195.1v1.8M563.8 2195.1v1.8M568.7 2195.1v1.8M572.3 2195.1v1.8M575 2195.1v1.8M577.2 2195.1v1.8M579.1 2195.1v1.8M580.7 2195.1v1.8M582.2 2195.1v1.8M591.9 2195.1v1.8M596.9 2195.1v1.8M600.4 2195.1v1.8M603.1 2195.1v1.8M605.3 2195.1v1.8M607.2 2195.1v1.8M608.8 2195.1v1.8M610.3 2195.1v1.8M620 2195.1v1.8M625 2195.1v1.8M628.5 2195.1v1.8M631.2 2195.1v1.8M633.4 2195.1v1.8M635.3 2195.1v1.8M637 2195.1v1.8M638.4 2195.1v1.8M648.1 2195.1v1.8M653.1 2195.1v1.8M656.6 2195.1v1.8M659.3 2195.1v1.8M661.6 2195.1v1.8M663.4 2195.1v1.8M665.1 2195.1v1.8M666.5 2195.1v1.8M497.1 2187.3h2M497.1 2182.7h2M497.1 2179.5h2M497.1 2177h2M497.1 2174.9h2M497.1 2173.2h2M497.1 2171.7h2M497.1 2170.4h2M497.1 2161.4h2M497.1 2156.8h2M497.1 2153.6h2M497.1 2151.1h2M497.1 2149h2M497.1 2147.3h2M497.1 2145.8h2M497.1 2144.5h2M497.1 2135.5h2M497.1 2130.9h2M497.1 2127.7h2M497.1 2125.2h2M497.1 2123.1h2M497.1 2121.4h2M497.1 2119.9h2M497.1 2118.6h2M497.1 2109.6h2M497.1 2105h2M497.1 2101.8h2M497.1 2099.3h2M497.1 2097.2h2M497.1 2095.5h2M497.1 2094h2M497.1 2092.7h2M497.1 2083.7h2M497.1 2079.1h2M497.1 2075.9h2M497.1 2073.4h2M497.1 2071.3h2M497.1 2069.6h2M497.1 2068.1h2M497.1 2066.8h2M497.1 2057.8h2M497.1 2053.2h2M497.1 2050h2M497.1 2047.5h2M497.1 2045.4h2M497.1 2043.7h2M497.1 2042.2h2M497.1 2040.9h2" stroke="#333" stroke-width="0.8" fill="none"/>
<path d="M498.5 2195.1H667.8" stroke="#6a6a6a" stroke-width="1.2" fill="none"/>
<path d="M499.1 2039.2V2195.7" stroke="#333" stroke-width="1.4" fill="none"/>
<text x="489.8" y="2219.4" font-size="13.5">10<tspan font-size="8.8" dy="-9">0</tspan></text>
<text x="469.8" y="2199.4" font-size="13.5">10<tspan font-size="8.8" dy="-9">0</tspan></text>
<text x="517.9" y="2219.4" font-size="13.5">10<tspan font-size="8.8" dy="-9">1</tspan></text>
<text x="469.8" y="2173.5" font-size="13.5">10<tspan font-size="8.8" dy="-9">1</tspan></text>
<text x="546" y="2219.4" font-size="13.5">10<tspan font-size="8.8" dy="-9">2</tspan></text>
<text x="469.8" y="2147.6" font-size="13.5">10<tspan font-size="8.8" dy="-9">2</tspan></text>
<text x="574.1" y="2219.4" font-size="13.5">10<tspan font-size="8.8" dy="-9">3</tspan></text>
<text x="469.8" y="2121.7" font-size="13.5">10<tspan font-size="8.8" dy="-9">3</tspan></text>
<text x="602.3" y="2219.4" font-size="13.5">10<tspan font-size="8.8" dy="-9">4</tspan></text>
<text x="469.8" y="2095.8" font-size="13.5">10<tspan font-size="8.8" dy="-9">4</tspan></text>
<text x="630.4" y="2219.4" font-size="13.5">10<tspan font-size="8.8" dy="-9">5</tspan></text>
<text x="469.8" y="2069.9" font-size="13.5">10<tspan font-size="8.8" dy="-9">5</tspan></text>
<text x="658.5" y="2219.4" font-size="13.5">10<tspan font-size="8.8" dy="-9">6</tspan></text>
<text x="469.8" y="2044" font-size="13.5">10<tspan font-size="8.8" dy="-9">6</tspan></text>
<path d="M607 2128.5h1m-22 -1h1m-12 3h1m60 -27h1m-75 36h1m23 -1h1m4 -24h1m-29 1h1m26 23h1m-13 -13h1m-21 -1h1m35 4h1m-25 11h1m1 -13h1m31 -9h1m-37 16h1m20 -27h1m8 -2h1m-1 7h1m-8 9h1m-11 6h1m-23 -3h1m27 0h1m-1 -15h1m-16 7h1m-3 17h1m24 -21h1m-33 5h1m25 -2h1m-11 18h1m-22 2h1m51 -19h1m-18 2h1m-2 2h1m-31 14h1m16 -17h1m4 -6h1m-11 20h1m39 -6h1m-64 7h1m43 -13h1m-43 11h1m7 7h1m1 -9h1m31 -2h1m-27 -7h1m-2 -5h1m3 21h1m-6 16h1m3 -19h1m-3 0h1m8 -9h1m-2 2h1m-34 8h1m20 -27h1m38 14h1m-28 8h1m3 -8h1m-5 21h1m-8 -20h1m12 7h1m-18 13h1m15 -11h1m-28 -1h1m30 -14h1m-33 7h1m37 -6h1m8 7h1m-47 5h1m37 -8h1m-24 -12h1m35 24h1m-37 -18h1m5 5h1m0 2h1m24 -5h1m-50 22h1m43 -12h1m-10 8h1m-20 -24h1m6 7h1m17 -2h1m19 13h1m-42 1h1m-22 4h1m17 -16h1m11 15h1m-9 -9h1m27 -5h1m15 -8h1m-29 17h1m7 -11h1m-20 -3h1m9 -12h1m-12 13h1m10 15h1m5 -7h1m-9 -16h1m26 3h1m-84 19h1m37 -3h1m0 -7h1m11 -7h1m7 -7h1m-33 22h1m21 2h1m12 -6h1m-10 8h1m-11 -10h1m10 -3h1m24 2h1m-65 9h1m62 -10h1m-29 -11h1m-16 14h1m21 -14h1m-4 21h1m18 -5h1m-31 18h1m-4 -5h1m11 -25h1m8 7h1m3 11h1m-23 1h1m23 -15h1m-27 5h1m1 16h1m4 -15h1m3 8h1m-17 -8h1m27 -1h1m-15 6h1m8 -10h1m-36 6h1m6 10h1m11 -17h1m-6 21h1m24 -8h1m4 -13h1m8 6h1m-15 -3h1m-26 4h1m23 5h1m-15 12h1m-16 -14h1m37 -12h1m-12 14h1m-17 -9h1m-15 15h1m22 -18h1m-9 17h1m8 -14h1m-18 0h1m24 3h1m10 -12h1m-44 17h1m16 -5h1m9 0h1m-5 14h1m-10 -10h1m44 -5h1m-52 7h1m24 11h1m-25 -23h1m4 -6h1m-31 23h1m52 -8h1m-19 2h1m-17 -5h1m41 -13h1m-27 21h1m-12 -12h1m-3 5h1m29 -9h1m-15 12h1m-7 -1h1m-15 12h1m3 -10h1m21 0h1m-11 -12h1m-30 20h1m17 -8h1m16 -7h1m37 -14h1m-50 33h1m-31 -12h1m31 4h1m-13 8h1m28 -13h1m-27 3h1m-4 9h1m15 -14h1m2 -2h1m-28 17h1m35 -38h1m-31 31h1m40 -19h1m-17 8h1m-8 5h1m5 -9h1m-18 0h1m11 8h1m28 -4h1m-39 2h1m28 12h1m-34 -7h1m13 -3h1m13 -9h1m-30 26h1m21 -17h1m-39 19h1m14 -10h1m7 -12h1m22 -2h1m-3 4h1m-31 -4h1m14 5h1m10 13h1m-32 3h1m27 -23h1m13 -5h1m-2 2h1m-30 10h1m5 8h1m-11 -3h1m9 6h1m2 -4h1m4 -2h1m-18 2h1m26 -11h1m-27 -1h1m5 -7h1m-23 13h1m33 7h1m1 -19h1m26 10h1m-37 -12h1m-5 11h1m5 10h1m14 4h1m-3 -14h1m-24 16h1m8 -24h1m-32 23h1m27 -12h1m15 -8h1m-14 9h1m-6 -7h1m6 12h1m14 -3h1m-22 -4h1m-11 14h1m3 -9h1m-7 -4h1m24 -15h1m-20 32h1m36 -21h1m-23 9h1m-10 -15h1m26 8h1m-31 -3h1m3 9h1m19 1h1m-30 8h1m48 -34h1m-31 10h1m-31 7h1m33 -14h1m-11 8h1m17 17h1m12 -39h1m-22 13h1m23 14h1m-25 -3h1m-18 20h1m30 -21h1m-37 10h1m24 -13h1m-27 16h1m3 6h1m4 -13h1m7 -6h1m16 -1h1m-24 -1h1m29 -7h1m-16 9h1m-20 20h1m7 -13h1m-6 17h1m16 -18h1m-13 -6h1m14 5h1m-27 11h1m-21 -2h1m24 2h1m9 2h1m-5 2h1m-6 -21h1m38 6h1m-52 12h1m13 0h1m-10 -14h1m-3 14h1m29 -27h1m-17 23h1m16 -15h1m-39 10h1m45 -19h1m11 14h1m-52 12h1m12 -7h1m2 14h1m2 -23h1m-29 13h1m27 -11h1m8 12h1m-26 -4h1m-28 8h1m46 -19h1m-26 -2h1m-3 21h1m26 -10h1m-5 0h1m-6 3h1m10 -21h1m-3 22h1m-39 8h1m27 -22h1m-1 8h1m23 -4h1m-32 10h1m-16 -2h1m20 -2h1m-11 20h1m-13 -19h1m28 -3h1m-16 9h1m-13 -5h1m3 11h1m33 -21h1m-48 8h1m30 -10h1m17 2h1m-26 13h1m-7 0h1m-12 3h1m33 -22h1m-16 10h1m-8 -4h1m-1 -1h1m17 17h1m-38 16h1m45 -21h1m-24 4h1m0 -19h1m0 13h1m16 -5h1m-8 8h1m-29 3h1m21 -6h1m3 12h1m3 -11h1m-17 -27h1m5 21h1m18 -1h1m-36 6h1m55 -6h1m-47 8h1m-11 -4h1m35 8h1m1 -8h1m1 -3h1m-13 5h1m-7 -11h1m-5 7h1m-11 -2h1m32 -12h1m7 11h1m7 -55h1m2 5h1m12 -7h1m-15 3h1m-11 4h1m10 -8h1m2 6h1m-7 1h1m2 -5h1m7 0h1m-13 2h1m2 1h1m-4 3h1m5 -7h1m-11 1h1m5 -3h1m15 2h1m-27 9h1m1 -2h1m12 -3h1m-12 9h1m20 -20h1m-25 11h1m-2 -7h1m18 1h1m-2 2h1m-3 2h1m-4 -3h1m8 1h1m-24 7h1m14 -5h1m10 6h1m-21 -1h1m13 -13h1m1 4h1m-12 2h1m14 -3h1m-8 -2h1m-15 11h1m3 3h1m-3 -7h1m17 -7h1m-30 12h1m2 -2h1m18 -7h1m-6 -1h1m-23 9h1m17 -9h1m1 5h1m8 -9h1m-21 19h1m7 -12h1m12 0h1m-3 1h1m-12 8h1m1 -10h1m-9 7h1m21 -2h1m-14 2h1m11 -5h1m-17 7h1m5 -2h1m3 -6h1m-2 2h1m5 -9h1m-1 9h1m-8 -3h1m0 -4h1m-9 10h1m-6 -6h1m4 7h1m2 4h1m-3 -5h1m6 -6h1m-3 6h1m-2 -7h1m-11 8h1m9 -2h1m-5 -6h1m-3 6h1m0 -2h1m2 1h1m7 -4h1m7 0h1m-13 8h1m8 -8h1m-11 2h1m-1 2h1m6 -9h1m2 9h1" stroke="#7676f2" stroke-width="1" fill="none"/>
<path d="M641 2057.5h1m-21 10h1m-1 -7h1m13 -4h1m-8 4h1m4 6h1m-25 1h1m15 -6h1m-2 -1h1m4 -4h1m-9 5h1m11 -5h1m-15 1h1m-3 16h1m-6 -12h1m22 0h1m-6 -3h1m-12 4h1m14 1h1m-10 2h1m-11 0h1m10 -2h1m-2 -9h1m-5 10h1m9 -12h1m5 10h1m-19 -1h1m7 -4h1m-13 12h1m25 -1h1m7 -18h1m6 -4h1m2 0h1m-5 12h1m0 -10h1m-20 18h1m-1 -17h1m23 -2h1m-21 11h1m2 -2h1m-18 5h1m16 -6h1m7 1h1m-3 -2h1m-6 -5h1m-5 6h1m6 -10h1m-4 19h1m-13 -1h1m2 -13h1m-4 14h1m24 -17h1m-19 2h1m-6 15h1m-4 -4h1m21 -7h1m-2 -5h1m-12 1h1m9 -5h1m7 4h1m-32 13h1m-3 6h1m23 -10h1m-24 2h1m14 15h1m2 -19h1m-6 11h1m-9 -4h1m21 -13h1m-2 9h1m1 -4h1m-6 -11h1m9 5h1m-17 6h1m-2 3h1m-20 3h1m13 -10h1m-3 3h1m16 -8h1m-5 2h1m12 4h1m-12 -10h1m6 9h1m-7 5h1m-6 0h1m-5 5h1m-1 -8h1m-11 4h1m10 -10h1m-1 9h1m-19 14h1m-9 2h1m21 -7h1m1 -4h1m-7 -14h1m22 4h1m-21 10h1m-10 -2h1m16 -7h1m4 -6h1m10 4h1m-27 16h1m0 -16h1m20 -3h1m-10 3h1m-1 14h1m1 -12h1m-11 8h1m-2 -6h1m3 3h1m-1 12h1m-7 -16h1m15 13h1m-8 -10h1m12 -6h1m-8 3h1m-35 10h1m11 5h1m8 -7h1m-4 -7h1m-9 6h1m13 -7h1m-7 7h1m5 -2h1m-11 -3h1m-4 -2h1m5 -7h1m11 13h1m-26 8h1m10 -5h1m16 -4h1m-31 -4h1m26 -11h1m-4 14h1m-11 3h1m16 -2h1m-9 -9h1m-26 9h1m27 -11h1m-26 12h1m19 3h1m14 6h1m-11 -16h1m-3 3h1m-7 -8h1m-3 18h1m17 -11h1m0 -1h1m-24 -2h1m-3 5h1m18 7h1m-20 -11h1m12 3h1m5 -6h1m1 6h1m-7 -4h1m-18 4h1m16 -6h1m14 -5h1m-22 15h1m-5 6h1m8 -3h1m5 -7h1m1 -6h1m-23 9h1m12 7h1m-5 -1h1m9 -9h1m3 5h1m-16 0h1m9 -6h1m-50 35h1m4 -6h1m3 -6h1m1 4h1m-19 -4h1m2 -3h1m1 24h1m-8 -3h1m13 -16h1m-9 -5h1m20 -11h1m-31 18h1m1 14h1m13 -11h1m-10 6h1m-2 6h1m2 -34h1m14 1h1m-10 19h1m-12 9h1m-1 -14h1m9 11h1m-8 17h1m2 -34h1m-2 8h1m11 -7h1m-16 19h1m-3 -10h1m17 14h1m-33 4h1m39 -41h1m-41 47h1m10 -8h1m-10 -19h1m8 26h1m6 -28h1m10 22h1m-10 -15h1m-3 -4h1m9 10h1m1 1h1m-13 -4h1m2 3h1m-7 -1h1m8 5h1m-11 -18h1m5 15h1m-10 -6h1m-2 18h1m25 -38h1m-35 28h1m34 -23h1m-9 5h1m-2 8h1m-12 -5h1m7 1h1m2 -2h1m10 -3h1m-34 18h1m12 -16h1m11 -10h1m-5 1h1m0 41h1m-8 -27h1m-1 1h1m-17 30h1m19 -37h1m14 -12h1m-10 19h1m-13 4h1m8 -6h1m-5 5h1m-16 1h1m10 0h1m2 -5h1m-3 18h1m6 -20h1m-5 -10h1m1 2h1m2 1h1m1 -1h1m-7 6h1m2 -8h1m-7 16h1m12 4h1m-15 -27h1m8 -3h1m-13 30h1m-17 7h1m40 -30h1m-21 2h1m9 -4h1m-11 8h1m0 11h1m-11 8h1m-5 2h1m15 -28h1m-2 7h1m-6 8h1m-7 19h1m-7 -14h1m10 4h1m-21 29h1m28 -32h1m7 -16h1m-14 26h1m-5 -12h1m3 -2h1m-13 13h1m18 -11h1m-15 11h1m3 -3h1m-4 -13h1m9 12h1m0 -2h1m-22 2h1m16 -16h1m-6 27h1m0 -31h1m-12 14h1m-5 9h1m24 -1h1m-20 3h1m8 -2h1m-1 -7h1m13 -6h1m-17 -11h1m8 12h1m-11 5h1m-14 12h1m10 -14h1m0 2h1m4 1h1m-7 2h1m22 -6h1m-34 12h1m17 -9h1m9 -15h1m-15 29h1m4 -10h1m1 4h1m-2 -29h1m4 16h1m-22 5h1m8 4h1m11 -4h1m-7 12h1m4 -28h1m-20 13h1m4 15h1m0 0h1m2 -7h1m-15 12h1m18 -17h1m4 -25h1m-20 47h1m19 -46h1m-13 22h1m10 -9h1m-16 21h1m23 -34h1m-36 28h1m20 -3h1m2 -25h1m-25 49h1m8 -32h1m17 55h1m8 -25h1m-5 -1h1m1 3h1m8 -4h1m-9 9h1m12 5h1m-24 -28h1m10 21h1m-6 7h1m3 -16h1m-6 5h1m-2 5h1m11 -6h1m0 15h1m-13 -4h1m7 -3h1m-2 -2h1m-12 6h1m7 -30h1m3 15h1m8 11h1m-17 -10h1m-17 22h1m34 -19h1m-26 8h1m9 -12h1m-4 18h1m5 -22h1m-10 12h1m-1 -3h1m4 -18h1m4 10h1m-13 20h1m-14 -16h1m27 7h1m-8 0h1m5 -8h1m-17 8h1m-9 9h1m21 1h1m-15 -16h1m19 3h1m-26 -17h1m24 9h1m-18 2h1m4 -3h1m5 13h1m-9 0h1m0 0h1m5 -12h1m-3 -8h1m7 6h1m-17 25h1m20 -19h1m-21 14h1m6 -5h1m-6 -14h1m-9 18h1m9 5h1m-7 -9h1m5 -25h1m7 12h1m-4 21h1m-21 -24h1m12 8h1m-1 -2h1m-19 1h1m33 -5h1m-18 11h1m20 -1h1m-30 12h1m10 -18h1m6 7h1m6 -10h1m-26 31h1m15 -27h1m-12 -9h1m6 16h1m7 -14h1m3 -6h1m3 11h1m-16 2h1m19 2h1m-11 1h1m-17 6h1m13 13h1m7 -22h1m-22 -5h1m9 20h1m-2 -25h1m-7 33h1m7 -4h1m-15 -27h1m14 7h1m-18 13h1m8 4h1m15 -19h1m-7 12h1m-15 19h1m13 -30h1m-7 9h1m-5 2h1m9 -13h1m-16 2h1m11 5h1m-11 -5h1m-5 -3h1m-2 -5h1m29 7h1m-40 9h1m28 6h1m-25 -10h1m20 -12h1m-14 15h1m2 17h1m-7 -21h1m-2 7h1m7 5h1m1 -3h1m-15 2h1m-6 5h1m20 -33h1m-10 28h1m5 -23h1m-19 26h1m13 -8h1m8 -3h1m-13 6h1m4 -12h1m16 45h1m-47 24h1m9 -71h1m-25 27h1m71 -18h1m-61 -30h1m-34 69h1m-16 -33h1m47 -71h1m-7 57h1m18 -3h1" stroke="#1a1ad4" stroke-width="1" fill="none"/>
<ellipse cx="614" cy="2113" rx="9.9" ry="6.6" transform="rotate(-70 614 2113)" fill="#1426e4" filter="url(#spkL)" fill-opacity="0.9"/>
<ellipse cx="625" cy="2062" rx="13" ry="6.5" transform="rotate(-15 625 2062)" fill="#1430ee" filter="url(#spk2)"/>
<ellipse cx="584" cy="2122" rx="30.2" ry="14.6" transform="rotate(-20 584 2122)" fill="#1228ec" filter="url(#spk)"/>
<ellipse cx="584" cy="2122" rx="22.9" ry="11" transform="rotate(-20 584 2122)" fill="#1030f0" filter="url(#fb1)"/>
<ellipse cx="583.3" cy="2122" rx="21.6" ry="10.4" transform="rotate(-20 583.3 2122)" fill="#1a7cf4" filter="url(#fb2)"/>
<ellipse cx="582.8" cy="2122" rx="17.8" ry="8.6" transform="rotate(-20 582.8 2122)" fill="#22cdee" filter="url(#fb2)"/>
<ellipse cx="582.1" cy="2122" rx="12.7" ry="6.1" transform="rotate(-20 582.1 2122)" fill="#44ec80" filter="url(#fb2)"/>
<ellipse cx="581.5" cy="2122" rx="8.1" ry="3.9" transform="rotate(-20 581.5 2122)" fill="#dcef2c" filter="url(#fb2)"/>
<ellipse cx="581.1" cy="2122" rx="4.6" ry="2.2" transform="rotate(-20 581.1 2122)" fill="#f2380e" filter="url(#fb2)"/>
<line x1="611.7" y1="2039.7" x2="611.7" y2="2195.1" stroke="#3a3a3a" stroke-width="1.4"/>
<line x1="499.1" y1="2089.9" x2="667.8" y2="2089.9" stroke="#3a3a3a" stroke-width="1.4"/>
<text x="506.4" y="2083.5" font-size="13.5" text-anchor="start" fill="#000">0.58</text>
<text x="662.5" y="2084.5" font-size="13.5" text-anchor="end" fill="#000">5.75</text>
<text x="508" y="2188" font-size="13.5" text-anchor="start" fill="#000">93.1</text>
<text x="661.9" y="2188" font-size="13.5" text-anchor="end" fill="#000">0.61</text>
<path d="M721.6 2040.7H890V2195.8" stroke="#9a9a9a" stroke-width="1" fill="none"/>
<path d="M721.6 2195.8v3.2M749.7 2195.8v3.2M777.7 2195.8v3.2M805.8 2195.8v3.2M833.9 2195.8v3.2M861.9 2195.8v3.2M890 2195.8v3.2M718 2195.8h3.6M718 2170h3.6M718 2144.1h3.6M718 2118.2h3.6M718 2092.4h3.6M718 2066.6h3.6M718 2040.7h3.6" stroke="#333" stroke-width="1.1" fill="none"/>
<path d="M730 2195.8v1.8M735 2195.8v1.8M738.5 2195.8v1.8M741.2 2195.8v1.8M743.4 2195.8v1.8M745.3 2195.8v1.8M746.9 2195.8v1.8M748.4 2195.8v1.8M758.1 2195.8v1.8M763.1 2195.8v1.8M766.6 2195.8v1.8M769.3 2195.8v1.8M771.5 2195.8v1.8M773.4 2195.8v1.8M775 2195.8v1.8M776.4 2195.8v1.8M786.2 2195.8v1.8M791.1 2195.8v1.8M794.6 2195.8v1.8M797.4 2195.8v1.8M799.6 2195.8v1.8M801.5 2195.8v1.8M803.1 2195.8v1.8M804.5 2195.8v1.8M814.2 2195.8v1.8M819.2 2195.8v1.8M822.7 2195.8v1.8M825.4 2195.8v1.8M827.6 2195.8v1.8M829.5 2195.8v1.8M831.1 2195.8v1.8M832.6 2195.8v1.8M842.3 2195.8v1.8M847.3 2195.8v1.8M850.8 2195.8v1.8M853.5 2195.8v1.8M855.7 2195.8v1.8M857.6 2195.8v1.8M859.2 2195.8v1.8M860.6 2195.8v1.8M870.4 2195.8v1.8M875.3 2195.8v1.8M878.8 2195.8v1.8M881.6 2195.8v1.8M883.8 2195.8v1.8M885.7 2195.8v1.8M887.3 2195.8v1.8M888.7 2195.8v1.8M719.6 2188h2M719.6 2183.5h2M719.6 2180.2h2M719.6 2177.7h2M719.6 2175.7h2M719.6 2174h2M719.6 2172.5h2M719.6 2171.1h2M719.6 2162.2h2M719.6 2157.6h2M719.6 2154.4h2M719.6 2151.9h2M719.6 2149.8h2M719.6 2148.1h2M719.6 2146.6h2M719.6 2145.3h2M719.6 2136.3h2M719.6 2131.8h2M719.6 2128.5h2M719.6 2126h2M719.6 2124h2M719.6 2122.3h2M719.6 2120.8h2M719.6 2119.4h2M719.6 2110.5h2M719.6 2105.9h2M719.6 2102.7h2M719.6 2100.2h2M719.6 2098.1h2M719.6 2096.4h2M719.6 2094.9h2M719.6 2093.6h2M719.6 2084.6h2M719.6 2080.1h2M719.6 2076.8h2M719.6 2074.3h2M719.6 2072.3h2M719.6 2070.6h2M719.6 2069.1h2M719.6 2067.7h2M719.6 2058.8h2M719.6 2054.2h2M719.6 2051h2M719.6 2048.5h2M719.6 2046.4h2M719.6 2044.7h2M719.6 2043.2h2M719.6 2041.9h2" stroke="#333" stroke-width="0.8" fill="none"/>
<path d="M721 2195.8H890" stroke="#6a6a6a" stroke-width="1.2" fill="none"/>
<path d="M721.6 2040.2V2196.4" stroke="#333" stroke-width="1.4" fill="none"/>
<text x="712.3" y="2220.1" font-size="13.5">10<tspan font-size="8.8" dy="-9">0</tspan></text>
<text x="692.3" y="2200.1" font-size="13.5">10<tspan font-size="8.8" dy="-9">0</tspan></text>
<text x="740.4" y="2220.1" font-size="13.5">10<tspan font-size="8.8" dy="-9">1</tspan></text>
<text x="692.3" y="2174.3" font-size="13.5">10<tspan font-size="8.8" dy="-9">1</tspan></text>
<text x="768.4" y="2220.1" font-size="13.5">10<tspan font-size="8.8" dy="-9">2</tspan></text>
<text x="692.3" y="2148.4" font-size="13.5">10<tspan font-size="8.8" dy="-9">2</tspan></text>
<text x="796.5" y="2220.1" font-size="13.5">10<tspan font-size="8.8" dy="-9">3</tspan></text>
<text x="692.3" y="2122.6" font-size="13.5">10<tspan font-size="8.8" dy="-9">3</tspan></text>
<text x="824.6" y="2220.1" font-size="13.5">10<tspan font-size="8.8" dy="-9">4</tspan></text>
<text x="692.3" y="2096.7" font-size="13.5">10<tspan font-size="8.8" dy="-9">4</tspan></text>
<text x="852.6" y="2220.1" font-size="13.5">10<tspan font-size="8.8" dy="-9">5</tspan></text>
<text x="692.3" y="2070.9" font-size="13.5">10<tspan font-size="8.8" dy="-9">5</tspan></text>
<text x="880.7" y="2220.1" font-size="13.5">10<tspan font-size="8.8" dy="-9">6</tspan></text>
<text x="692.3" y="2045" font-size="13.5">10<tspan font-size="8.8" dy="-9">6</tspan></text>
<path d="M797 2135.5h1m18 -18h1m-32 21h1m-1 -9h1m24 12h1m-32 -12h1m37 -4h1m-30 -4h1m15 -6h1m-2 23h1m-5 -9h1m-1 -7h1m-19 25h1m10 -6h1m4 -8h1m28 -27h1m-19 9h1m4 10h1m-28 3h1m20 -18h1m5 1h1m0 16h1m23 -12h1m-55 20h1m12 -9h1m-6 11h1m14 -3h1m-5 -20h1m-2 14h1m-8 -16h1m16 21h1m0 -9h1m-17 13h1m-12 -19h1m24 -9h1m-12 24h1m-1 14h1m-1 -30h1m-4 12h1m10 6h1m-1 4h1m-1 -19h1m5 2h1m-24 10h1m-7 1h1m37 -14h1m-29 15h1m-16 -1h1m-2 8h1m23 -12h1m-13 -2h1m-4 28h1m-4 -30h1m1 6h1m29 -5h1m-12 1h1m-11 -9h1m-13 14h1m22 10h1m6 -12h1m-12 -5h1m3 -19h1m-8 15h1m10 3h1m-7 -4h1m-11 11h1m24 -11h1m-16 2h1m15 15h1m-38 -10h1m1 4h1m14 1h1m-6 7h1m18 -7h1m-10 -10h1m1 0h1m-29 0h1m42 15h1m-28 1h1m1 -18h1m20 7h1m16 -22h1m-32 16h1m7 -16h1m-16 22h1m9 1h1m-11 7h1m1 1h1m15 -22h1m-13 4h1m3 8h1m-16 8h1m23 -29h1m-19 23h1m-8 0h1m13 7h1m6 -8h1m6 11h1m5 -11h1m-40 5h1m3 -11h1m30 -3h1m12 2h1m-42 11h1m1 -12h1m-14 20h1m4 -13h1m2 8h1m14 3h1m-16 5h1m-1 -32h1m4 15h1m0 2h1m-12 7h1m17 -4h1m24 -18h1m-26 16h1m0 -10h1m-13 -1h1m-1 2h1m15 7h1m-43 16h1m22 -1h1m8 -2h1m-2 -11h1m18 -16h1m14 -2h1m-27 6h1m-4 2h1m3 -1h1m13 1h1m-26 26h1m-9 -27h1m17 13h1m-5 -11h1m-27 18h1m32 -10h1m-36 -2h1m33 -8h1m3 4h1m-37 25h1m35 -15h1m-3 4h1m-19 -8h1m22 -3h1m12 -8h1m-23 4h1m-17 17h1m-10 -5h1m8 8h1m1 -2h1m19 -26h1m-5 18h1m-10 -7h1m10 -6h1m-9 10h1m6 12h1m-13 4h1m1 -3h1m8 -4h1m-25 -7h1m41 -7h1m-18 13h1m4 -14h1m-19 26h1m15 -32h1m15 3h1m-37 7h1m11 16h1m-11 -4h1m-8 0h1m17 -12h1m-22 1h1m22 1h1m-10 12h1m15 -21h1m-45 26h1m33 -15h1m-4 -3h1m-6 10h1m24 -25h1m-22 24h1m9 -6h1m-17 -9h1m6 15h1m1 -9h1m4 -8h1m-20 19h1m2 -13h1m-6 17h1m14 -24h1m-5 28h1m-1 -3h1m10 -20h1m-14 -5h1m3 -5h1m3 23h1m2 -11h1m-3 6h1m-9 21h1m3 -31h1m-3 12h1m4 -9h1m-13 17h1m24 -20h1m4 -9h1m-19 -13h1m1 25h1m-16 10h1m1 -12h1m1 6h1m7 6h1m-13 8h1m25 -11h1m-28 9h1m-4 -6h1m28 -8h1m-13 -15h1m13 4h1m-14 15h1m-12 3h1m15 -24h1m-3 32h1m-10 -14h1m-20 -13h1m-5 38h1m1 -8h1m22 -43h1m-17 43h1m48 -31h1m-31 28h1m-4 20h1m25 -45h1m-34 11h1m-5 12h1m24 -23h1m-53 27h1m29 7h1m-7 -28h1m-15 14h1m40 -15h1m-14 8h1m-3 6h1m-19 1h1m22 -18h1m1 0h1m9 6h1m-17 -1h1m-25 21h1m10 -16h1m22 -24h1m-7 21h1m16 -3h1m-24 2h1m3 9h1m-25 -1h1m14 -1h1m16 -17h1m0 14h1m-13 11h1m9 -8h1m5 -14h1m-14 4h1m20 15h1m-28 2h1m22 -18h1m-12 22h1m9 -17h1m1 8h1m-16 -6h1m-7 5h1m-9 -5h1m15 6h1m3 6h1m-12 -11h1m5 -3h1m15 -10h1m-22 2h1m21 1h1m-17 16h1m1 -4h1m-3 -15h1m-9 11h1m-1 29h1m8 -11h1m8 -21h1m3 -8h1m-11 2h1m-22 9h1m-8 10h1m17 5h1m22 -2h1m-32 -3h1m13 -16h1m3 2h1m-32 18h1m8 -22h1m26 -1h1m-9 -2h1m-7 10h1m-22 -1h1m13 12h1m2 -17h1m11 -13h1m-15 15h1m13 -1h1m-34 15h1m15 6h1m16 0h1m5 -22h1m-1 4h1m-26 9h1m9 -6h1m-13 1h1m0 -8h1m11 5h1m-11 3h1m-7 6h1m-5 5h1m20 -13h1m7 1h1m-22 4h1m9 15h1m4 -36h1m-15 21h1m-5 5h1m31 -5h1m-32 7h1m-10 1h1m8 -12h1m11 0h1m-1 5h1m-11 16h1m38 -20h1m-34 -4h1m-21 5h1m35 2h1m-32 -5h1m-3 1h1m28 6h1m3 -15h1m-2 -12h1m6 13h1m-26 3h1m20 6h1m-19 8h1m58 -74h1m-7 9h1m1 -2h1m-1 1h1m-10 6h1m18 -14h1m-14 8h1m-4 -3h1m-10 -12h1m12 13h1m-7 9h1m9 -18h1m-7 13h1m8 -6h1m-16 5h1m-3 -1h1m0 0h1m8 -6h1m-13 9h1m14 -16h1m-10 7h1m12 0h1m-12 5h1m11 -1h1m-21 0h1m1 4h1m8 -17h1m-5 16h1m7 -16h1m-9 18h1m10 -3h1m-13 3h1m-12 0h1m24 -18h1m-5 2h1m-4 10h1m-17 9h1m16 -11h1m0 -11h1m4 5h1m2 -2h1m-7 13h1m-9 -4h1m0 -2h1m-14 1h1m20 1h1m-1 -1h1m-4 3h1m-11 4h1m8 -12h1m-7 12h1m8 -17h1m-13 14h1m3 1h1m-4 6h1m-2 -13h1m-18 11h1m40 -13h1m-16 5h1m-6 -8h1m-5 15h1m5 -9h1m-3 0h1m1 2h1m-13 8h1m10 -6h1m-17 7h1m17 -2h1m-8 -5h1m5 5h1m4 -13h1m5 4h1m-6 13h1m-12 2h1m15 -20h1m-26 11h1m9 0h1m-3 0h1m13 -14h1m-6 8h1m8 3h1m-17 -1h1m10 -3h1m-10 5h1m-1 -1h1m1 -5h1m5 5h1m-20 6h1m-8 11h1m16 -16h1m-3 6h1m9 -13h1m-28 20h1m44 -12h1m-30 -5h1m-7 12h1m16 -7h1m-1 -1h1m14 -7h1m-20 5h1m-9 2h1m9 0h1m4 -10h1m-17 13h1m9 -9h1m3 -3h1m-2 6h1m-23 4h1m13 1h1m7 -17h1m-12 7h1m24 3h1m-26 18h1m10 -15h1m-15 2h1m20 -14h1m-3 2h1m-8 3h1m-7 4h1m-11 13h1m2 -6h1m6 -9h1m0 -2h1m-12 9h1m13 -1h1m2 -3h1m-21 4h1m27 -8h1m-5 -6h1m-9 11h1m15 -9h1m-28 11h1m0 -5h1m3 9h1m15 -21h1m-10 19h1m-1 1h1m5 3h1m2 -18h1m-14 4h1m1 14h1m2 -7h1m7 -5h1m-10 2h1m-3 6h1m6 -1h1m8 -12h1m-20 9h1m17 0h1m-16 -2h1m0 -7h1m0 2h1m-10 9h1m-2 4h1m9 3h1m-12 -16h1m16 11h1m-16 3h1m1 -11h1" stroke="#7676f2" stroke-width="1" fill="none"/>
<path d="M853 2059.5h1m7 -4h1m-10 17h1m5 -11h1m2 2h1m-19 13h1m4 -15h1m-12 5h1m8 3h1m5 -4h1m-17 3h1m12 -10h1m-2 11h1m-7 -9h1m-3 8h1m-5 9h1m9 -15h1m-7 3h1m-6 33h1m-27 18h1m38 -8h1m-13 20h1m-4 -14h1m-4 7h1m7 2h1m3 -16h1m-28 13h1m14 -12h1m7 20h1m9 2h1m-11 4h1m-6 -16h1m-6 27h1m10 -17h1m-7 -21h1m6 7h1m-14 26h1m-3 -8h1m-8 -14h1m22 -17h1m-18 21h1m7 -1h1m-15 -5h1m26 8h1m-9 12h1m1 -15h1m-22 -15h1m7 -3h1m15 11h1m-3 -15h1m-4 14h1m-9 -3h1m-7 39h1m31 -33h1m-17 -18h1m-11 4h1m19 22h1m4 -2h1m0 -29h1m-11 45h1m-19 -15h1m22 -7h1m-23 -1h1m-6 30h1m5 -31h1m-1 18h1m14 -10h1m-18 -8h1m7 33h1m-12 -38h1m26 -7h1m-4 4h1m-26 25h1m-2 2h1m6 -15h1m17 8h1m-15 13h1m-8 -12h1m11 -22h1m-4 14h1m-8 -15h1m5 18h1m-4 -16h1m-12 15h1m6 4h1m-13 12h1m4 -5h1m17 -2h1m-9 -13h1m-11 -6h1m17 7h1m-10 6h1m5 -1h1m-4 -18h1m17 28h1m-32 -20h1m-6 31h1m13 -10h1m8 -26h1m-20 16h1m4 6h1m9 -22h1m-19 20h1m21 -18h1m-12 8h1m-11 2h1m-1 19h1m29 -29h1m-32 26h1m-8 -12h1m31 -9h1m-20 17h1m10 -18h1m-8 3h1m9 9h1m-9 6h1m-16 -14h1m19 16h1m-3 -23h1m3 7h1m-12 -10h1m24 19h1m-14 -12h1m-9 -3h1m21 7h1m-9 2h1m-11 -6h1m-5 15h1m-3 10h1m4 -21h1m19 -1h1m-17 17h1m-27 -6h1m26 1h1m2 -17h1m-16 7h1m-1 12h1m5 -12h1m-3 -12h1m2 12h1m22 -1h1m-28 -14h1m6 -6h1m-5 34h1m11 5h1m1 -20h1m-11 -39h1m-9 31h1m-4 5h1m31 1h1m-11 13h1m-17 12h1m10 -3h1m0 -31h1m-9 37h1m-13 -10h1m17 -12h1m-5 -17h1m-8 23h1m6 -1h1m-9 7h1m21 -1h1m-5 -17h1m-14 5h1m-17 -4h1m32 -2h1m-6 -2h1m1 12h1m-15 0h1m-1 1h1m-7 9h1m5 -16h1m-8 -3h1m12 -15h1m6 24h1m-15 -16h1m18 4h1m-32 26h1m9 -12h1m-12 -12h1m16 5h1m-8 13h1m3 -25h1m7 7h1m-21 13h1m2 -29h1m-8 20h1m-7 14h1m26 -16h1m-10 10h1m9 20h1m-27 -22h1m32 5h1m-31 15h1m34 -28h1m-12 -7h1m-14 9h1m9 -11h1m3 19h1m-9 9h1m5 -20h1m-12 14h1m-11 1h1m31 13h1m-29 -26h1m13 -35h1m-12 42h1m2 -12h1m-12 1h1m27 2h1m-10 18h1m-6 1h1m7 19h1m15 -22h1m-17 7h1m-8 -1h1m1 -25h1m3 12h1m-4 -9h1m-3 -20h1m-24 9h1m19 7h1m5 26h1m-6 -30h1m8 4h1m-11 -2h1m-1 4h1m14 16h1m-1 -4h1m1 -31h1m-23 29h1m-11 -10h1m14 3h1m6 8h1m-10 17h1m22 -24h1m4 -8h1m-21 20h1m-11 4h1m1 -2h1m5 -6h1m5 -5h1m-11 3h1m8 -10h1m12 30h1m-14 -32h1m-4 19h1m3 -5h1m-10 -1h1m5 9h1m-1 -31h1m0 6h1m2 30h1m2 -20h1m-16 -1h1m6 -7h1m20 -6h1m-17 19h1m3 -24h1m-3 7h1m-3 19h1m5 -21h1m-10 33h1m-1 -6h1m12 -10h1m-23 -6h1m4 -10h1m16 2h1m-17 27h1m-20 -48h1m1 12h1m6 -1h1m6 1h1m-14 19h1m9 -44h1m-19 39h1m1 3h1m22 -3h1m-7 -36h1m-8 10h1m8 2h1m-7 11h1m-15 13h1m2 -3h1m20 -16h1m-16 0h1m-3 17h1m-2 -6h1m1 -12h1m-12 -10h1m15 -4h1m2 21h1m3 -28h1m-11 9h1m-7 -13h1m0 37h1m4 -22h1m3 -7h1m-6 45h1m5 -42h1m6 9h1m-13 -10h1m-2 12h1m5 -15h1m0 26h1m-5 0h1m5 -18h1m-7 -1h1m-3 32h1m3 -40h1m-5 0h1m-4 2h1m9 30h1m0 -32h1m2 13h1m-15 -10h1m10 18h1m-17 3h1m10 6h1m-11 -3h1m15 -21h1m-9 25h1m-3 -3h1m3 -14h1m-2 9h1m-12 26h1m0 -22h1m2 -4h1m14 -28h1m6 17h1m-20 22h1m19 6h1m-20 -25h1m8 18h1m-9 -21h1m-6 0h1m15 -10h1m-13 58h1m6 -40h1m-6 -5h1m8 -1h1m-24 0h1m16 7h1m-14 -9h1m12 6h1m7 -22h1m-3 9h1m-9 -1h1m-3 22h1m10 -22h1m-15 31h1m13 -30h1m-4 -18h1m9 16h1m-15 25h1m-1 -8h1m-10 -21h1m2 9h1m-8 13h1m15 -33h1m-6 22h1m-12 0h1m13 14h1m4 -45h1m-10 33h1m-9 31h1m8 -27h1m0 -27h1m8 13h1m-16 24h1m-8 14h1m10 -7h1m-2 -5h1m-5 1h1m21 -34h1m-5 3h1m-20 24h1m20 -27h1m-1 32h1m-11 -32h1m-4 22h1m-14 -1h1m18 11h1m-15 5h1m17 -26h1m-12 40h1m-17 -13h1m14 -6h1m4 1h1m-25 11h1m22 -9h1m-2 -8h1m-10 37h1m13 -48h1m-13 11h1m-8 16h1m16 -25h1m-3 7h1m6 1h1m-2 0h1m-5 -11h1m-4 31h1m-7 -13h1m-1 -16h1m2 7h1m5 6h1m-4 6h1m-5 -13h1m-8 26h1m0 -4h1m23 -56h1m-16 20h1m5 -3h1m4 21h1m-13 -28h1m-5 23h1m10 -13h1m-21 32h1m2 16h1m-1 -16h1m18 -37h1m-5 7h1m-14 9h1m7 7h1m-9 -11h1m-3 20h1m10 -24h1m-17 24h1m28 -30h1m-25 21h1m-4 9h1m15 -9h1m-11 25h1m-2 -21h1m4 -8h1m2 -5h1m-9 11h1m-2 -26h1m2 47h1m12 -21h1m-8 -4h1m1 4h1m-3 -27h1m-6 21h1m-5 14h1m13 -51h1m-7 37h1m6 5h1m-3 7h1m-8 -8h1m6 -15h1m-8 31h1m1 -47h1m-7 28h1m12 3h1m-12 -21h1m2 41h1m4 -11h1m-4 1h1m1 21h1m-14 10h1m1 -39h1m21 -16h1m-14 1h1m-1 -10h1m-14 61h1m7 -39h1m6 -22h1m-3 34h1m-11 5h1m8 -24h1m4 -13h1m-7 7h1m-5 6h1m16 14h1m-1 -18h1m-4 -7h1m-7 2h1m-5 34h1m-6 -28h1m11 4h1m2 -8h1m-8 37h1m-2 -15h1m-2 -9h1m8 -21h1m3 9h1m-13 9h1m9 -26h1m-3 25h1m-12 28h1m-1 -21h1m-10 -10h1m1 98h1m-11 -51h1m-62 9h1m-5 -7h1m98 -46h1m-12 62h1m-56 5h1m43 14h1m-35 -71h1" stroke="#1a1ad4" stroke-width="1" fill="none"/>
<ellipse cx="834" cy="2123" rx="14.3" ry="12.1" transform="rotate(-60 834 2123)" fill="#1426e4" filter="url(#spkL)"/>
<ellipse cx="847" cy="2064" rx="16" ry="8" transform="rotate(-30 847 2064)" fill="#1430ee" filter="url(#spk2)"/>
<ellipse cx="802" cy="2127" rx="25.8" ry="15.7" transform="rotate(-30 802 2127)" fill="#1228ec" filter="url(#spk)"/>
<ellipse cx="802" cy="2127" rx="19.6" ry="11.9" transform="rotate(-30 802 2127)" fill="#1030f0" filter="url(#fb1)"/>
<ellipse cx="802.6" cy="2127" rx="18.4" ry="11.2" transform="rotate(-30 802.6 2127)" fill="#1a7cf4" filter="url(#fb2)"/>
<ellipse cx="803" cy="2127" rx="15.2" ry="9.2" transform="rotate(-30 803 2127)" fill="#22cdee" filter="url(#fb2)"/>
<ellipse cx="803.5" cy="2127" rx="10.8" ry="6.6" transform="rotate(-30 803.5 2127)" fill="#44ec80" filter="url(#fb2)"/>
<ellipse cx="804" cy="2127" rx="6.9" ry="4.2" transform="rotate(-30 804 2127)" fill="#dcef2c" filter="url(#fb2)"/>
<ellipse cx="804.3" cy="2127" rx="3.9" ry="2.4" transform="rotate(-30 804.3 2127)" fill="#f2380e" filter="url(#fb2)"/>
<line x1="821.9" y1="2040.7" x2="821.9" y2="2195.8" stroke="#3a3a3a" stroke-width="1.4"/>
<line x1="721.6" y1="2091.5" x2="890" y2="2091.5" stroke="#3a3a3a" stroke-width="1.4"/>
<text x="728" y="2084.5" font-size="13.5" text-anchor="start" fill="#000">0.14</text>
<text x="884.5" y="2085.5" font-size="13.5" text-anchor="end" fill="#000">6.06</text>
<text x="729" y="2188.5" font-size="13.5" text-anchor="start" fill="#000">89.0</text>
<text x="884.5" y="2188.5" font-size="13.5" text-anchor="end" fill="#000">4.85</text>
<path d="M946.6 2040.5H1113.6V2195.3" stroke="#9a9a9a" stroke-width="1" fill="none"/>
<path d="M946.6 2195.3v3.2M974.4 2195.3v3.2M1002.3 2195.3v3.2M1030.1 2195.3v3.2M1057.9 2195.3v3.2M1085.8 2195.3v3.2M1113.6 2195.3v3.2M943 2195.3h3.6M943 2169.5h3.6M943 2143.7h3.6M943 2117.9h3.6M943 2092.1h3.6M943 2066.3h3.6M943 2040.5h3.6" stroke="#333" stroke-width="1.1" fill="none"/>
<path d="M955 2195.3v1.8M959.9 2195.3v1.8M963.4 2195.3v1.8M966.1 2195.3v1.8M968.3 2195.3v1.8M970.1 2195.3v1.8M971.7 2195.3v1.8M973.2 2195.3v1.8M982.8 2195.3v1.8M987.7 2195.3v1.8M991.2 2195.3v1.8M993.9 2195.3v1.8M996.1 2195.3v1.8M998 2195.3v1.8M999.6 2195.3v1.8M1001 2195.3v1.8M1010.6 2195.3v1.8M1015.5 2195.3v1.8M1019 2195.3v1.8M1021.7 2195.3v1.8M1023.9 2195.3v1.8M1025.8 2195.3v1.8M1027.4 2195.3v1.8M1028.8 2195.3v1.8M1038.5 2195.3v1.8M1043.4 2195.3v1.8M1046.9 2195.3v1.8M1049.6 2195.3v1.8M1051.8 2195.3v1.8M1053.6 2195.3v1.8M1055.2 2195.3v1.8M1056.7 2195.3v1.8M1066.3 2195.3v1.8M1071.2 2195.3v1.8M1074.7 2195.3v1.8M1077.4 2195.3v1.8M1079.6 2195.3v1.8M1081.5 2195.3v1.8M1083.1 2195.3v1.8M1084.5 2195.3v1.8M1094.1 2195.3v1.8M1099 2195.3v1.8M1102.5 2195.3v1.8M1105.2 2195.3v1.8M1107.4 2195.3v1.8M1109.3 2195.3v1.8M1110.9 2195.3v1.8M1112.3 2195.3v1.8M944.6 2187.5h2M944.6 2183h2M944.6 2179.8h2M944.6 2177.3h2M944.6 2175.2h2M944.6 2173.5h2M944.6 2172h2M944.6 2170.7h2M944.6 2161.7h2M944.6 2157.2h2M944.6 2154h2M944.6 2151.5h2M944.6 2149.4h2M944.6 2147.7h2M944.6 2146.2h2M944.6 2144.9h2M944.6 2135.9h2M944.6 2131.4h2M944.6 2128.2h2M944.6 2125.7h2M944.6 2123.6h2M944.6 2121.9h2M944.6 2120.4h2M944.6 2119.1h2M944.6 2110.1h2M944.6 2105.6h2M944.6 2102.4h2M944.6 2099.9h2M944.6 2097.8h2M944.6 2096.1h2M944.6 2094.6h2M944.6 2093.3h2M944.6 2084.3h2M944.6 2079.8h2M944.6 2076.6h2M944.6 2074.1h2M944.6 2072h2M944.6 2070.3h2M944.6 2068.8h2M944.6 2067.5h2M944.6 2058.5h2M944.6 2054h2M944.6 2050.8h2M944.6 2048.3h2M944.6 2046.2h2M944.6 2044.5h2M944.6 2043h2M944.6 2041.7h2" stroke="#333" stroke-width="0.8" fill="none"/>
<path d="M946 2195.3H1113.6" stroke="#6a6a6a" stroke-width="1.2" fill="none"/>
<path d="M946.6 2040V2195.9" stroke="#333" stroke-width="1.4" fill="none"/>
<text x="937.3" y="2219.6" font-size="13.5">10<tspan font-size="8.8" dy="-9">0</tspan></text>
<text x="917.3" y="2199.6" font-size="13.5">10<tspan font-size="8.8" dy="-9">0</tspan></text>
<text x="965.1" y="2219.6" font-size="13.5">10<tspan font-size="8.8" dy="-9">1</tspan></text>
<text x="917.3" y="2173.8" font-size="13.5">10<tspan font-size="8.8" dy="-9">1</tspan></text>
<text x="993" y="2219.6" font-size="13.5">10<tspan font-size="8.8" dy="-9">2</tspan></text>
<text x="917.3" y="2148" font-size="13.5">10<tspan font-size="8.8" dy="-9">2</tspan></text>
<text x="1020.8" y="2219.6" font-size="13.5">10<tspan font-size="8.8" dy="-9">3</tspan></text>
<text x="917.3" y="2122.2" font-size="13.5">10<tspan font-size="8.8" dy="-9">3</tspan></text>
<text x="1048.6" y="2219.6" font-size="13.5">10<tspan font-size="8.8" dy="-9">4</tspan></text>
<text x="917.3" y="2096.4" font-size="13.5">10<tspan font-size="8.8" dy="-9">4</tspan></text>
<text x="1076.5" y="2219.6" font-size="13.5">10<tspan font-size="8.8" dy="-9">5</tspan></text>
<text x="917.3" y="2070.6" font-size="13.5">10<tspan font-size="8.8" dy="-9">5</tspan></text>
<text x="1104.3" y="2219.6" font-size="13.5">10<tspan font-size="8.8" dy="-9">6</tspan></text>
<text x="917.3" y="2044.8" font-size="13.5">10<tspan font-size="8.8" dy="-9">6</tspan></text>
<path d="M1048 2121.5h1m-28 -1h1m-23 30h1m46 -27h1m3 -11h1m-43 20h1m41 0h1m-57 3h1m9 -3h1m29 3h1m-36 -13h1m45 6h1m13 0h1m-30 -3h1m9 5h1m19 -10h1m-22 2h1m15 2h1m0 -10h1m-49 15h1m60 -25h1m-15 25h1m-24 -4h1m12 -5h1m-11 2h1m3 22h1m-27 -3h1m7 -15h1m0 -3h1m28 -2h1m-14 1h1m-4 -8h1m-8 16h1m27 -3h1m-78 -1h1m31 0h1m36 -3h1m-26 12h1m14 -26h1m22 12h1m-15 8h1m-50 -6h1m30 18h1m-22 -7h1m28 -16h1m12 6h1m-25 8h1m12 -12h1m-11 18h1m37 -20h1m-37 1h1m5 16h1m-1 -24h1m13 12h1m-9 0h1m-14 8h1m-2 -10h1m11 7h1m-1 -7h1m-22 -4h1m-5 1h1m19 -6h1m-15 21h1m0 -6h1m-4 -1h1m22 3h1m-26 -5h1m1 -4h1m46 2h1m-29 2h1m-30 0h1m40 -13h1m-30 14h1m-9 3h1m26 -9h1m-39 18h1m24 -13h1m12 2h1m3 0h1m-21 24h1m-2 -5h1m2 -21h1m24 -10h1m-59 18h1m50 -11h1m-10 7h1m18 -14h1m-47 22h1m42 -15h1m-43 -3h1m28 19h1m-16 -3h1m-42 7h1m49 3h1m6 -9h1m3 -22h1m-28 12h1m23 -14h1m-17 26h1m20 -33h1m11 16h1m-32 13h1m-4 -15h1m-10 8h1m-26 9h1m39 -7h1m17 11h1m6 0h1m-26 -12h1m33 -19h1m-43 28h1m6 -10h1m-7 17h1m1 -1h1m-1 -13h1m-11 -5h1m4 -2h1m12 -8h1m0 19h1m-25 0h1m27 -16h1m-22 23h1m22 -13h1m-9 -1h1m-40 11h1m14 -13h1m39 -6h1m-30 16h1m3 17h1m6 -34h1m9 2h1m-17 6h1m37 -11h1m-47 5h1m5 15h1m4 -6h1m8 7h1m22 -14h1m18 1h1m-53 14h1m5 9h1m10 -21h1m-18 -6h1m27 31h1m-48 -28h1m39 2h1m-58 21h1m49 -23h1m3 4h1m34 -10h1m-71 4h1m33 3h1m-2 -2h1m-30 14h1m22 -7h1m-21 12h1m-14 3h1m19 -24h1m-14 16h1m-23 -3h1m5 -4h1m50 2h1m-15 -18h1m-13 37h1m-24 -25h1m21 31h1m-13 -12h1m16 -12h1m1 5h1m57 -2h1m-91 18h1m24 -23h1m26 11h1m3 -23h1m4 -6h1m-47 10h1m-35 23h1m52 -11h1m12 -34h1m0 15h1m-41 16h1m11 -1h1m-29 1h1m34 19h1m-20 -21h1m35 4h1m-17 20h1m17 -37h1m-10 20h1m36 -10h1m-14 0h1m-55 -4h1m55 -3h1m-13 2h1m15 15h1m-24 -17h1m-42 25h1m24 -17h1m-38 24h1m16 -18h1m57 2h1m-30 -9h1m5 10h1m5 -22h1m-32 17h1m15 -30h1m-19 26h1m9 8h1m3 -12h1m31 -14h1m-30 30h1m-6 -26h1m72 2h1m-61 16h1m-17 -17h1m19 23h1m-25 -3h1m63 -27h1m-65 29h1m-1 -5h1m-2 -25h1m-9 31h1m40 -13h1m-43 23h1m36 -30h1m-3 14h1m0 -22h1m-44 17h1m39 6h1m10 -5h1m-11 3h1m-21 1h1m34 -5h1m5 0h1m-3 -5h1m-43 12h1m25 -4h1m-33 -3h1m14 -5h1m21 9h1m-51 -12h1m87 -7h1m-34 0h1m-42 5h1m11 29h1m4 -20h1m-3 -3h1m-23 3h1m21 -2h1m-29 5h1m23 18h1m46 -18h1m-42 -4h1m-1 25h1m35 -24h1m-27 4h1m-22 -5h1m34 -3h1m-27 17h1m24 -5h1m12 -19h1m-15 6h1m-23 23h1m-12 -10h1m42 -19h1m-36 27h1m-42 -4h1m52 -16h1m4 -17h1m-30 30h1m32 -7h1m-40 20h1m23 -3h1m9 -1h1m-17 3h1m12 0h1m25 -9h1m-57 -18h1m21 -1h1m35 14h1m-11 -11h1m-40 10h1m3 10h1m21 -9h1m-29 -8h1m15 -2h1m-31 6h1m-4 8h1m33 -12h1m12 2h1m-33 -9h1m-15 18h1m4 -4h1m-13 9h1m76 -15h1m-64 14h1m32 -5h1m-10 -13h1m16 -16h1m-8 22h1m-10 8h1m-6 -11h1m22 -6h1m-5 14h1m-3 -7h1m-45 20h1m12 -25h1m6 8h1m-15 -9h1m44 26h1m0 -26h1m15 -3h1m-47 18h1m7 -5h1m0 -12h1m1 17h1m-18 5h1m27 -30h1m-57 21h1m32 -3h1m-31 5h1m52 -8h1m-41 15h1m4 -3h1m21 -10h1m-20 12h1m28 3h1m-18 -9h1m46 -17h1m-65 21h1m6 -9h1m26 -2h1m-16 7h1m10 -13h1m22 6h1m-55 18h1m27 -28h1m4 8h1m-26 15h1m33 -16h1m-48 1h1m44 -14h1m-1 28h1m-49 14h1m49 5h1m-58 -22h1m48 -22h1m-43 23h1m32 -4h1m-8 -8h1m-24 23h1m-10 -13h1m46 -19h1m-21 6h1m32 -4h1m36 0h1m-52 19h1m24 -33h1m-28 13h1m6 11h1m-24 12h1m43 -23h1m-38 10h1m-21 6h1m34 -6h1m-22 30h1m12 -25h1m24 5h1m4 -36h1m-21 29h1m-17 -14h1m54 18h1m-54 -7h1m37 -1h1m-42 -6h1m27 -4h1m-82 29h1m64 -2h1m-22 -16h1m43 -14h1m-1 3h1m-42 20h1m8 -11h1m23 7h1m-17 -6h1m-5 1h1m-26 19h1m57 -23h1m-24 13h1m-68 21h1m34 -31h1m68 -4h1m-48 13h1m-33 0h1m59 -9h1m-20 8h1m-11 -6h1m21 -5h1m-22 17h1m16 -27h1m-1 1h1m-27 13h1m-20 13h1m-5 -17h1m43 10h1m-18 2h1m5 -4h1m-3 8h1m-22 -4h1m31 4h1m15 -21h1m11 0h1m-5 9h1m-55 -4h1m31 -15h1m-13 30h1m-24 -8h1m12 5h1m-9 13h1m-2 -19h1m-19 21h1m40 -9h1m35 -18h1m-51 -4h1m-15 13h1m5 -3h1m-15 7h1m11 -11h1m8 6h1m8 18h1m6 -23h1m19 -10h1m-63 19h1m30 -12h1m26 2h1m-20 1h1m53 -13h1m-61 27h1m21 4h1m-41 -15h1m11 -12h1m12 8h1m12 9h1m-82 10h1m87 -19h1m8 3h1m-2 8h1m-10 6h1m-24 -5h1m12 -6h1m13 -8h1m-47 12h1m25 -24h1m-10 21h1m35 -24h1m-47 33h1m-7 1h1m9 8h1m31 -42h1m-59 29h1m5 -6h1m30 -18h1m11 9h1m-43 0h1m59 22h1m-76 -14h1m62 -8h1m-38 18h1m3 -17h1m48 -3h1m-37 17h1m-10 14h1m8 -38h1m43 30h1m-44 -14h1m-22 -8h1m21 3h1m-27 19h1m9 -6h1m2 2h1m22 -14h1m-24 9h1m36 3h1m2 -25h1m-62 39h1m32 -10h1m-32 -25h1m43 19h1m-14 4h1m-16 -12h1m-6 16h1m-17 -2h1m58 5h1m-28 -9h1m7 -8h1m6 -16h1m23 3h1m-35 42h1m13 -16h1m-49 6h1m23 -12h1m-8 -2h1m41 6h1m-21 10h1m-5 -11h1m-4 14h1m-4 -12h1m-7 4h1m1 -1h1m-1 -21h1m-30 28h1m35 -23h1m7 4h1m-38 -16h1m11 32h1m25 -45h1m-23 40h1m-3 -11h1m-14 -4h1m-5 5h1m19 4h1m35 -27h1m-24 26h1m-24 -11h1m49 -7h1m-14 6h1m-30 21h1m-6 3h1m12 -20h1m25 24h1m-49 -9h1m48 -22h1m-27 27h1m16 -36h1m-21 5h1m18 21h1m13 -13h1m12 0h1m-67 8h1m28 -19h1m11 12h1m24 -52h1m-1 -4h1m-13 0h1m18 1h1m-20 -12h1m-2 24h1m17 -21h1m-31 22h1m15 -14h1m2 7h1m1 -7h1m-20 5h1m9 4h1m10 0h1m8 -6h1m-14 -8h1m-11 -3h1m16 19h1m-42 -4h1m50 -10h1m-15 1h1m-14 0h1m30 -5h1m-27 10h1m23 -18h1m-20 14h1m-7 4h1m4 -10h1m-3 17h1m5 -3h1m4 -18h1m-8 13h1m-1 11h1m0 -18h1m4 -4h1m-3 14h1m7 2h1m-2 -9h1m-6 -1h1m7 4h1m-10 5h1m11 -13h1m-11 2h1m9 13h1m-16 0h1m-18 -1h1m12 -1h1m4 -7h1m-5 -11h1m22 5h1m-39 6h1m-3 18h1m19 -12h1m-11 -9h1m13 14h1m2 -21h1m28 -2h1m-53 17h1m2 1h1m14 3h1m-19 4h1m7 -6h1m26 -8h1m-22 -6h1m3 15h1m14 -7h1m-36 18h1m19 -19h1m-3 1h1m2 -8h1m-19 -1h1m8 7h1m6 8h1m8 -10h1m-20 5h1m-17 14h1m30 -19h1m6 9h1m-25 -1h1m8 -1h1m7 14h1m-3 -22h1m8 -13h1m-10 20h1m-6 3h1m7 3h1m3 -11h1m-8 1h1m-10 8h1m1 -4h1m-6 6h1m-2 -1h1m2 -10h1m0 11h1m-9 1h1m13 -12h1m-16 10h1m26 -4h1m7 6h1m-11 2h1m-25 -9h1m10 -14h1m-5 18h1m2 -6h1m5 -4h1m30 0h1m-39 -8h1m7 18h1m-8 -16h1m-2 6h1m2 -5h1m-5 -4h1m15 11h1m-3 11h1m-22 -11h1m18 8h1m-10 -11h1m10 2h1m-8 -2h1m-10 1h1m7 7h1m14 -12h1m-30 4h1m18 -9h1m-9 14h1m12 4h1m-10 -2h1m-22 2h1m15 7h1m29 -15h1m-22 4h1m-9 5h1m3 -1h1m-2 -6h1m-11 12h1m10 -13h1m6 8h1m-28 -1h1m-19 -2h1m13 -1h1m30 -13h1m8 13h1m8 1h1" stroke="#7676f2" stroke-width="1" fill="none"/>
<path d="M1054 2079.5h1m12 -11h1m-6 -8h1m17 -2h1m-10 3h1m-1 13h1m2 -17h1m-14 6h1m19 3h1m-14 18h1m15 -16h1m-14 -2h1m-4 -11h1m-16 13h1m-5 4h1m-5 -11h1m26 -7h1m-33 17h1m43 -14h1m-23 2h1m-11 16h1m19 -13h1m-20 11h1m16 -1h1m-7 -8h1m16 -9h1m-6 -4h1m2 7h1m-20 2h1m23 3h1m-15 13h1m0 -6h1m1 -8h1m-1 7h1m-26 -11h1m25 -2h1m-27 17h1m22 -20h1m-6 9h1m-1 -7h1m-12 16h1m23 -14h1m-1 6h1m-23 -2h1m-2 -5h1m12 9h1m11 -5h1m-29 16h1m7 -7h1m-1 -5h1m5 11h1m-5 -5h1m20 0h1m-8 -8h1m-11 -2h1m10 1h1m3 3h1m-21 11h1m-1 4h1m14 -16h1m14 -14h1m-55 27h1m21 -7h1m18 -3h1m-20 10h1m16 -20h1m-8 4h1m-16 20h1m8 -4h1m5 -20h1m-13 19h1m17 -11h1m-3 8h1m-11 -7h1m9 5h1m-10 1h1m7 2h1m-22 -16h1m28 -13h1m0 14h1m11 -3h1m-7 6h1m-21 6h1m2 1h1m-6 -7h1m7 12h1m-16 1h1m-16 -7h1m30 7h1m12 -11h1m2 -4h1m-44 3h1m7 7h1m21 -7h1m5 4h1m-16 -4h1m-2 -1h1m-23 17h1m49 -24h1m-40 8h1m16 -1h1m-20 2h1m21 -9h1m10 10h1m-18 14h1m6 -24h1m-2 1h1m-22 9h1m0 9h1m2 -10h1m-27 12h1m18 2h1m15 2h1m-12 -17h1m1 18h1m7 -30h1m9 13h1m-12 9h1m-4 0h1m-7 1h1m11 -10h1m-28 2h1m14 9h1m17 -8h1m3 1h1m-16 -9h1m-14 5h1m24 7h1m-19 0h1m6 -5h1m-8 16h1m32 -18h1m-6 -3h1m-28 18h1m6 -12h1m9 2h1m4 -13h1m-14 17h1m-19 -5h1m20 0h1m-4 -9h1m-21 19h1m14 -14h1m-2 0h1m-10 -1h1m13 -8h1m15 18h1m-4 -9h1m-23 13h1m-1 -15h1m14 -7h1m-11 15h1m-2 -3h1m30 -16h1m-60 23h1m33 -2h1m18 -18h1m-20 23h1m0 -12h1m-7 3h1m6 -8h1m30 3h1m-46 -3h1m8 11h1m-2 -11h1m-24 18h1m32 -15h1m-8 6h1m-29 -7h1m25 13h1m-13 -15h1m25 -2h1m-21 11h1m-12 5h1m31 -1h1m-13 -9h1m-25 0h1m3 1h1m3 -4h1m11 4h1m2 7h1m17 -7h1m-2 -14h1m-22 7h1m30 13h1m-26 -1h1m11 -1h1m-22 -2h1m6 6h1m-2 4h1m-9 -7h1m17 11h1m-19 -7h1m6 -10h1m8 9h1m19 -13h1m-51 19h1m24 -10h1m5 -6h1m-14 2h1m14 -4h1m-3 9h1m-6 -15h1m-10 11h1m3 6h1m-4 -13h1m-8 14h1m10 -20h1m-15 12h1m2 6h1m-6 4h1m31 -6h1m-22 5h1m-6 -2h1m18 -17h1m-15 12h1m9 -1h1m0 2h1m-1 7h1m-31 9h1m40 -32h1m-4 13h1m-35 -4h1m28 -10h1m-12 15h1m2 -5h1m16 4h1m-6 -2h1m12 -3h1m-15 -7h1m-30 12h1m-6 3h1m14 -13h1m5 24h1m-10 -18h1m28 5h1m-15 -2h1m-7 6h1m13 -3h1m-16 10h1m22 4h1m1 -36h1m-26 16h1m0 8h1m19 7h1m-45 -7h1m6 -9h1m4 7h1m-4 17h1m17 -14h1m1 -6h1m-4 3h1m-3 -8h1m14 11h1m1 -2h1m4 12h1m-25 -20h1m2 2h1m19 3h1m-12 13h1m6 -22h1m-19 22h1m4 -2h1m6 -8h1m3 -9h1m30 -5h1m-7 -1h1m-12 0h1m-6 12h1m1 -17h1m-22 -1h1m28 4h1m-18 13h1m3 -7h1m9 -12h1m-19 6h1m-1 22h1m29 -25h1m-32 18h1m-1 -6h1m15 -1h1m-43 20h1m35 -19h1m23 3h1m-21 -11h1m5 2h1m-12 5h1m-14 13h1m26 -14h1m9 -5h1m-17 5h1m11 -7h1m2 -4h1m-24 6h1m12 -5h1m-16 16h1m11 -13h1m4 -7h1m1 2h1m-16 4h1m-8 20h1m-10 -5h1m23 10h1m5 -28h1m-20 7h1m3 -2h1m2 -3h1m16 21h1m-1 -16h1m-18 -2h1m1 20h1m-5 -16h1m6 -2h1m-4 9h1m11 -13h1m-39 8h1m23 19h1m12 -15h1m-16 -8h1m14 -1h1m-13 15h1m5 -8h1m2 -1h1m1 -14h1m-6 16h1m3 -3h1m-8 3h1m-7 15h1m8 -26h1m-4 6h1m-12 0h1m0 21h1m-2 -18h1m23 -8h1m-4 13h1m-25 17h1m-4 -28h1m30 4h1m-20 14h1m8 -25h1m-7 33h1m9 -21h1m4 13h1m-8 -17h1m-16 6h1m12 9h1m-38 -4h1m27 -6h1m20 4h1m-10 -1h1m-21 4h1m26 -6h1m-22 -13h1m5 14h1m2 -12h1m3 11h1m-29 -5h1m24 -3h1m12 5h1m-6 7h1m-3 -13h1m-6 0h1m-9 22h1m-3 -12h1m18 -14h1m-18 -4h1m0 17h1m16 -6h1m-3 2h1m-31 5h1m31 -8h1m-7 6h1m-6 3h1m11 -7h1m-21 -12h1m-14 7h1m22 19h1m-4 -16h1m-20 6h1m11 -6h1m7 0h1m-1 4h1m-1 -1h1m-33 20h1m16 -15h1m-6 -5h1m23 -3h1m-18 20h1m7 -26h1m3 18h1m2 -16h1m-12 13h1m-7 -8h1m11 11h1m-2 0h1m-20 -7h1m23 -2h1m-38 1h1m43 -3h1m-13 -5h1m16 -2h1m-29 5h1m-6 13h1m16 -13h1m1 6h1m10 -3h1m-9 -9h1m10 10h1m-25 8h1m7 -15h1m-18 5h1m10 -9h1m8 22h1m-6 -19h1m-1 22h1m-3 -9h1m-20 6h1m-18 3h1m3 24h1m-10 12h1m1 -14h1m-5 -19h1m-1 40h1m-2 -6h1m21 -23h1m-31 1h1m4 17h1m11 -7h1m8 0h1m-18 10h1m-7 -10h1m-6 -28h1m-2 14h1m24 -1h1m-6 13h1m2 8h1m-11 -15h1m6 18h1m-8 -19h1m-2 9h1m-2 -1h1m12 5h1m-23 0h1m19 15h1m-5 -24h1m-10 16h1m-3 -14h1m-2 -6h1m-10 -7h1m21 10h1m22 8h1m-28 1h1m-13 -7h1m13 5h1m-10 3h1m-1 -3h1m18 -16h1m-12 31h1m33 -28h1m-42 13h1m10 -10h1m-3 7h1m-15 -3h1m16 -18h1m12 28h1m-20 -8h1m1 7h1m-3 -33h1m16 18h1m-42 23h1m34 -17h1m-30 18h1m17 -8h1m23 -12h1m-32 9h1m-18 -5h1m11 23h1m25 -27h1m-10 0h1m1 13h1m-32 -23h1m12 31h1m30 2h1m-27 -24h1m6 -6h1m9 15h1m-10 12h1m-14 -34h1m14 27h1m4 -9h1m-16 -8h1m10 17h1m-11 12h1m4 -22h1m6 -4h1m-15 -14h1m-8 20h1m31 0h1m-7 5h1m-6 6h1m-8 -2h1m-2 -10h1m2 1h1m-6 8h1m10 -41h1m4 37h1m10 -5h1m-28 2h1m3 -37h1m-12 60h1m13 -19h1m-8 -10h1m3 17h1m-2 -33h1m0 12h1m-8 9h1m10 4h1m-11 -4h1m1 20h1m8 -20h1m-20 2h1m14 -8h1m10 6h1m-13 13h1m-8 -33h1m6 10h1m-22 13h1m10 6h1m4 -3h1m2 2h1m5 -14h1m-9 5h1m7 3h1m5 3h1m-4 1h1m-6 -28h1m-2 9h1m-4 16h1m-1 -20h1m7 13h1m-21 -6h1m20 18h1m-20 -14h1m14 4h1m-4 -15h1m-7 26h1m1 10h1m0 -14h1m-6 -13h1m5 32h1m9 -19h1m-21 1h1m10 7h1m2 -14h1m3 -12h1m-9 29h1m19 -13h1m-19 -1h1m6 -8h1m-6 14h1m-2 -19h1m-17 0h1m15 24h1m-23 4h1m21 -8h1m-6 -13h1m8 -4h1m-9 11h1m14 7h1m-22 -15h1m19 16h1m-7 -8h1m-27 2h1m20 -9h1m-9 21h1m4 -18h1m-4 6h1m4 1h1m-1 4h1m-10 3h1m0 -9h1m-1 9h1m-2 -14h1m-11 1h1m-2 7h1m34 -15h1m-23 -5h1m-1 11h1m-2 2h1m21 -4h1m-13 -5h1m15 -2h1m-44 21h1m33 -27h1m11 20h1m-27 -25h1m-5 19h1m1 -15h1m17 22h1m-19 7h1m-5 -19h1m14 3h1m-15 -7h1m20 4h1m-18 25h1m5 -32h1m-5 24h1m-4 -13h1m23 15h1m-33 -2h1m29 -15h1m-18 18h1m2 -5h1m-9 19h1m4 -39h1m-20 11h1m29 -5h1m-4 9h1m-3 5h1m4 5h1m-8 -4h1m-8 -13h1m4 19h1m1 5h1m-8 0h1m-13 -50h1m7 13h1m5 25h1m16 4h1m-6 -8h1m3 -12h1m6 17h1m-28 30h1m14 -39h1m-2 19h1m-12 -16h1m13 -3h1m11 7h1m-10 -11h1m-15 -15h1m-20 41h1m24 0h1m3 -39h1m33 64h1m-92 -70h1m45 123h1m-95 -83h1m128 3h1m-55 -19h1m24 6h1m-22 22h1m-42 -25h1m25 20h1" stroke="#1a1ad4" stroke-width="1" fill="none"/>
<ellipse cx="1062" cy="2118" rx="11" ry="8.8" transform="rotate(-40 1062 2118)" fill="#1426e4" filter="url(#spkL)"/>
<ellipse cx="1068" cy="2066" rx="23" ry="12" transform="rotate(-15 1068 2066)" fill="#1430ee" filter="url(#spk2)"/>
<ellipse cx="1065.7" cy="2066.6" rx="10.3" ry="5.4" transform="rotate(-15 1065.7 2066.6)" fill="#1c4ef2" filter="url(#fb1)" fill-opacity="0.8"/>
<ellipse cx="1030" cy="2127" rx="38.1" ry="16.8" transform="rotate(-15 1030 2127)" fill="#1228ec" filter="url(#spk)"/>
<ellipse cx="1030" cy="2127" rx="28.9" ry="12.8" transform="rotate(-15 1030 2127)" fill="#1030f0" filter="url(#fb1)"/>
<ellipse cx="1028.8" cy="2127" rx="27.2" ry="12" transform="rotate(-15 1028.8 2127)" fill="#1a7cf4" filter="url(#fb2)"/>
<ellipse cx="1027.9" cy="2127" rx="22.4" ry="9.9" transform="rotate(-15 1027.9 2127)" fill="#22cdee" filter="url(#fb2)"/>
<ellipse cx="1026.7" cy="2127" rx="16" ry="7" transform="rotate(-15 1026.7 2127)" fill="#44ec80" filter="url(#fb2)"/>
<ellipse cx="1025.7" cy="2127" rx="10.2" ry="4.5" transform="rotate(-15 1025.7 2127)" fill="#dcef2c" filter="url(#fb2)"/>
<ellipse cx="1024.9" cy="2127" rx="5.8" ry="2.6" transform="rotate(-15 1024.9 2127)" fill="#f2380e" filter="url(#fb2)"/>
<line x1="1055.8" y1="2040.5" x2="1055.8" y2="2195.3" stroke="#3a3a3a" stroke-width="1.4"/>
<line x1="946.6" y1="2090.6" x2="1113.6" y2="2090.6" stroke="#3a3a3a" stroke-width="1.4"/>
<text x="953" y="2083.5" font-size="13.5" text-anchor="start" fill="#000">0.80</text>
<text x="1108" y="2084.5" font-size="13.5" text-anchor="end" fill="#000">4.67</text>
<text x="954" y="2188" font-size="13.5" text-anchor="start" fill="#000">92.6</text>
<text x="1108" y="2188" font-size="13.5" text-anchor="end" fill="#000">1.90</text>
<path d="M1166.8 2042.3H1335.2V2196.3" stroke="#9a9a9a" stroke-width="1" fill="none"/>
<path d="M1166.8 2196.3v3.2M1194.9 2196.3v3.2M1222.9 2196.3v3.2M1251 2196.3v3.2M1279.1 2196.3v3.2M1307.1 2196.3v3.2M1335.2 2196.3v3.2M1163.2 2196.3h3.6M1163.2 2170.6h3.6M1163.2 2145h3.6M1163.2 2119.3h3.6M1163.2 2093.6h3.6M1163.2 2068h3.6M1163.2 2042.3h3.6" stroke="#333" stroke-width="1.1" fill="none"/>
<path d="M1175.2 2196.3v1.8M1180.2 2196.3v1.8M1183.7 2196.3v1.8M1186.4 2196.3v1.8M1188.6 2196.3v1.8M1190.5 2196.3v1.8M1192.1 2196.3v1.8M1193.6 2196.3v1.8M1203.3 2196.3v1.8M1208.3 2196.3v1.8M1211.8 2196.3v1.8M1214.5 2196.3v1.8M1216.7 2196.3v1.8M1218.6 2196.3v1.8M1220.2 2196.3v1.8M1221.6 2196.3v1.8M1231.4 2196.3v1.8M1236.3 2196.3v1.8M1239.8 2196.3v1.8M1242.6 2196.3v1.8M1244.8 2196.3v1.8M1246.7 2196.3v1.8M1248.3 2196.3v1.8M1249.7 2196.3v1.8M1259.4 2196.3v1.8M1264.4 2196.3v1.8M1267.9 2196.3v1.8M1270.6 2196.3v1.8M1272.8 2196.3v1.8M1274.7 2196.3v1.8M1276.3 2196.3v1.8M1277.8 2196.3v1.8M1287.5 2196.3v1.8M1292.5 2196.3v1.8M1296 2196.3v1.8M1298.7 2196.3v1.8M1300.9 2196.3v1.8M1302.8 2196.3v1.8M1304.4 2196.3v1.8M1305.8 2196.3v1.8M1315.6 2196.3v1.8M1320.5 2196.3v1.8M1324 2196.3v1.8M1326.8 2196.3v1.8M1329 2196.3v1.8M1330.9 2196.3v1.8M1332.5 2196.3v1.8M1333.9 2196.3v1.8M1164.8 2188.6h2M1164.8 2184.1h2M1164.8 2180.8h2M1164.8 2178.4h2M1164.8 2176.3h2M1164.8 2174.6h2M1164.8 2173.1h2M1164.8 2171.8h2M1164.8 2162.9h2M1164.8 2158.4h2M1164.8 2155.2h2M1164.8 2152.7h2M1164.8 2150.7h2M1164.8 2148.9h2M1164.8 2147.5h2M1164.8 2146.1h2M1164.8 2137.2h2M1164.8 2132.7h2M1164.8 2129.5h2M1164.8 2127h2M1164.8 2125h2M1164.8 2123.3h2M1164.8 2121.8h2M1164.8 2120.5h2M1164.8 2111.6h2M1164.8 2107.1h2M1164.8 2103.8h2M1164.8 2101.4h2M1164.8 2099.3h2M1164.8 2097.6h2M1164.8 2096.1h2M1164.8 2094.8h2M1164.8 2085.9h2M1164.8 2081.4h2M1164.8 2078.2h2M1164.8 2075.7h2M1164.8 2073.7h2M1164.8 2071.9h2M1164.8 2070.5h2M1164.8 2069.1h2M1164.8 2060.2h2M1164.8 2055.7h2M1164.8 2052.5h2M1164.8 2050h2M1164.8 2048h2M1164.8 2046.3h2M1164.8 2044.8h2M1164.8 2043.5h2" stroke="#333" stroke-width="0.8" fill="none"/>
<path d="M1166.2 2196.3H1335.2" stroke="#6a6a6a" stroke-width="1.2" fill="none"/>
<path d="M1166.8 2041.8V2196.9" stroke="#333" stroke-width="1.4" fill="none"/>
<text x="1157.5" y="2220.6" font-size="13.5">10<tspan font-size="8.8" dy="-9">0</tspan></text>
<text x="1137.5" y="2200.6" font-size="13.5">10<tspan font-size="8.8" dy="-9">0</tspan></text>
<text x="1185.6" y="2220.6" font-size="13.5">10<tspan font-size="8.8" dy="-9">1</tspan></text>
<text x="1137.5" y="2174.9" font-size="13.5">10<tspan font-size="8.8" dy="-9">1</tspan></text>
<text x="1213.6" y="2220.6" font-size="13.5">10<tspan font-size="8.8" dy="-9">2</tspan></text>
<text x="1137.5" y="2149.3" font-size="13.5">10<tspan font-size="8.8" dy="-9">2</tspan></text>
<text x="1241.7" y="2220.6" font-size="13.5">10<tspan font-size="8.8" dy="-9">3</tspan></text>
<text x="1137.5" y="2123.6" font-size="13.5">10<tspan font-size="8.8" dy="-9">3</tspan></text>
<text x="1269.8" y="2220.6" font-size="13.5">10<tspan font-size="8.8" dy="-9">4</tspan></text>
<text x="1137.5" y="2097.9" font-size="13.5">10<tspan font-size="8.8" dy="-9">4</tspan></text>
<text x="1297.8" y="2220.6" font-size="13.5">10<tspan font-size="8.8" dy="-9">5</tspan></text>
<text x="1137.5" y="2072.3" font-size="13.5">10<tspan font-size="8.8" dy="-9">5</tspan></text>
<text x="1325.9" y="2220.6" font-size="13.5">10<tspan font-size="8.8" dy="-9">6</tspan></text>
<text x="1137.5" y="2046.6" font-size="13.5">10<tspan font-size="8.8" dy="-9">6</tspan></text>
<path d="M1261 2103.5h1m1 31h1m-29 3h1m15 -8h1m-2 -6h1m-2 12h1m-9 6h1m28 -37h1m-32 5h1m15 22h1m-34 -8h1m28 -13h1m-9 5h1m11 -12h1m14 8h1m-35 8h1m11 19h1m17 -20h1m-7 -7h1m-12 2h1m14 13h1m-10 12h1m-9 -19h1m0 0h1m-28 15h1m36 -18h1m6 9h1m-33 -4h1m5 -1h1m12 -2h1m-7 -18h1m1 20h1m-13 -6h1m18 5h1m9 22h1m-22 -3h1m14 6h1m-14 -18h1m4 -18h1m-9 36h1m-8 -21h1m9 4h1m-2 -12h1m28 -15h1m-23 30h1m5 -21h1m0 -4h1m-1 -11h1m-3 24h1m-28 -1h1m14 8h1m17 -20h1m9 -2h1m-7 13h1m8 -15h1m-18 18h1m-23 5h1m17 4h1m1 -2h1m-3 -18h1m0 3h1m-21 13h1m23 -16h1m-24 10h1m12 -2h1m1 -6h1m8 11h1m-10 -7h1m-7 17h1m7 0h1m6 -15h1m-21 4h1m-7 11h1m-25 -2h1m34 -13h1m-10 10h1m10 -5h1m-6 19h1m0 -15h1m0 -1h1m5 -23h1m-9 33h1m-8 -2h1m17 -6h1m3 -12h1m-12 27h1m5 -26h1m-5 6h1m4 -5h1m-41 2h1m35 3h1m-8 -1h1m7 0h1m-16 -14h1m-22 21h1m55 -7h1m-23 -3h1m8 16h1m-2 -8h1m10 -11h1m-22 21h1m-16 -2h1m5 0h1m6 -1h1m2 -14h1m13 2h1m-29 -2h1m-1 7h1m26 -8h1m-3 -7h1m-17 23h1m17 -13h1m-20 -4h1m8 21h1m-7 -18h1m-17 -4h1m10 36h1m-21 -35h1m29 26h1m12 -7h1m0 -1h1m-1 -11h1m-22 9h1m14 4h1m-26 -1h1m-1 -11h1m30 -5h1m-18 3h1m19 -20h1m-20 2h1m-5 22h1m-8 -4h1m-16 13h1m41 -24h1m-3 5h1m25 -26h1m-20 10h1m-11 29h1m-21 4h1m-13 1h1m15 -11h1m3 -3h1m-25 2h1m27 -13h1m14 14h1m-38 -5h1m19 11h1m-13 10h1m17 -33h1m-16 25h1m3 12h1m-22 -10h1m11 -6h1m-10 5h1m41 -9h1m-17 -12h1m-15 25h1m-5 -13h1m19 9h1m-9 13h1m21 -28h1m2 -13h1m-53 45h1m3 -24h1m32 -10h1m-10 0h1m-4 7h1m9 -5h1m-15 6h1m18 -20h1m-1 5h1m-27 37h1m28 -12h1m5 -28h1m1 1h1m-10 3h1m5 11h1m-29 7h1m31 -9h1m-18 1h1m1 0h1m-11 2h1m7 3h1m-4 -11h1m-13 -1h1m-11 19h1m7 -10h1m13 -7h1m-9 -6h1m11 -13h1m7 24h1m-3 -13h1m-9 -4h1m-1 43h1m-10 -13h1m23 -5h1m-24 -17h1m-8 16h1m18 -17h1m6 -2h1m-9 7h1m5 -6h1m-1 9h1m7 12h1m-44 9h1m20 -9h1m-35 24h1m21 -36h1m2 19h1m16 -7h1m-20 -6h1m3 -12h1m3 28h1m5 -8h1m20 -14h1m-38 11h1m-11 4h1m32 -32h1m-9 24h1m-4 6h1m-1 -19h1m-1 18h1m16 -9h1m-23 7h1m3 -22h1m-22 13h1m22 17h1m1 -15h1m-5 15h1m6 -13h1m-30 14h1m32 -5h1m-22 22h1m24 -20h1m-16 -23h1m-6 19h1m-6 2h1m-12 -8h1m28 6h1m-5 0h1m2 -5h1m-24 12h1m21 -17h1m14 6h1m1 -27h1m-27 29h1m2 -12h1m-4 9h1m-27 24h1m40 -33h1m-31 32h1m31 -40h1m-27 22h1m1 -11h1m30 -33h1m-35 46h1m8 -13h1m3 -9h1m22 2h1m-46 42h1m30 -20h1m1 -22h1m-21 14h1m20 9h1m14 -23h1m-13 19h1m17 -17h1m-43 23h1m6 -3h1m-4 -23h1m17 11h1m-21 16h1m-13 -8h1m15 6h1m16 -3h1m-3 -12h1m-22 22h1m12 -32h1m-9 28h1m14 -14h1m8 -9h1m-20 -12h1m14 6h1m-16 22h1m9 -32h1m-5 19h1m11 0h1m-2 12h1m19 -28h1m-22 5h1m-16 10h1m0 13h1m11 -22h1m-26 25h1m4 -8h1m-19 7h1m35 -21h1m-4 11h1m-11 -11h1m4 21h1m-7 -15h1m-2 13h1m22 -16h1m-4 -5h1m-14 17h1m0 -6h1m-11 3h1m4 1h1m12 7h1m-21 -13h1m28 2h1m-11 5h1m-20 5h1m13 -23h1m-4 17h1m2 10h1m-14 -6h1m13 -1h1m7 -37h1m-6 32h1m-15 -14h1m4 4h1m-19 22h1m40 -21h1m-6 -5h1m-29 37h1m36 -15h1m-7 -6h1m-16 -23h1m-3 9h1m5 -15h1m-9 41h1m10 -12h1m1 -2h1m2 -1h1m-4 11h1m1 -61h1m-2 6h1m8 -8h1m6 0h1m-15 5h1m5 -4h1m-7 -3h1m5 8h1m-8 -1h1m5 -6h1m1 4h1m-6 3h1m-2 2h1m-4 -4h1m1 -5h1m-3 1h1m-2 7h1m5 -2h1m-4 2h1m4 5h1m0 0h1m-8 -9h1m1 1h1m-8 0h1m12 -10h1m-11 11h1m4 -4h1m-3 2h1m-2 -3h1m1 -1h1m0 3h1m4 -11h1m-9 18h1m0 -3h1m2 -3h1m-1 3h1m2 4h1m-8 -4h1m12 2h1m-5 -10h1m-1 12h1m-8 -9h1m-5 9h1m1 1h1m0 -11h1m0 6h1m1 -7h1m1 9h1m-9 -4h1m0 -1h1m8 -6h1m-4 15h1m4 -8h1m-13 -1h1m4 -5h1m-11 11h1m2 0h1m1 -15h1m3 3h1m3 3h1m-7 -2h1m6 9h1m-11 -2h1m4 6h1m0 -2h1m10 -3h1m-15 -7h1m2 0h1m-6 10h1m6 -6h1m26 -11h1m-7 -4h1m6 4h1m-15 9h1m0 -7h1m22 -5h1m-15 4h1m-7 -9h1m-7 6h1m2 -3h1m8 7h1m-16 -2h1m10 -1h1m-2 2h1m-17 6h1m17 -8h1m12 6h1m-19 -8h1m0 -7h1m4 4h1m-6 15h1m-14 -6h1m17 0h1m-6 0h1m15 -10h1m-13 4h1m-7 8h1m-2 -6h1m21 -3h1m-10 -5h1m-23 18h1m21 -10h1m-11 6h1m-3 -4h1m17 5h1m-6 -4h1m-16 0h1m7 0h1m-2 -1h1m4 0h1m7 -3h1m1 -1h1m-22 3h1m-6 10h1m18 -16h1m-5 11h1m-5 -5h1m2 2h1m-18 -3h1m13 -3h1m-6 7h1m14 2h1m-15 0h1m11 -6h1m-3 -6h1m-7 0h1m2 5h1m1 1h1m-2 1h1m-13 1h1m16 -2h1m9 -10h1m-15 13h1m-8 -2h1m14 0h1m-8 -5h1m-15 0h1m7 3h1m-6 2h1m15 -2h1m-24 3h1m24 -2h1m-21 -4h1m8 -2h1m1 3h1m7 3h1m-8 -7h1m-15 16h1m7 -5h1m1 -11h1m17 6h1m-23 6h1m1 3h1m-7 -9h1m13 0h1m-15 10h1m20 -11h1m-1 3h1m-7 -5h1m15 -2h1m-34 7h1m28 -11h1m-31 18h1m13 -9h1m-5 7h1m-8 0h1m-3 -8h1m13 -3h1" stroke="#7676f2" stroke-width="1" fill="none"/>
<path d="M1297 2058.5h1m-4 9h1m-3 -6h1m5 0h1m-12 5h1m-10 -10h1m21 3h1m-29 6h1m23 -9h1m7 2h1m-24 10h1m-11 -3h1m12 -4h1m10 -1h1m-14 -1h1m18 -4h1m-4 3h1m-16 5h1m15 -4h1m-23 -3h1m11 12h1m3 -12h1m10 0h1m-5 6h1m5 -4h1m-29 3h1m44 -1h1m-41 2h1m10 -4h1m12 3h1m-11 -2h1m4 -6h1m-23 9h1m1 4h1m5 3h1m3 -12h1m-4 5h1m-9 1h1m12 -2h1m-16 5h1m4 -10h1m9 1h1m-13 0h1m10 8h1m4 -8h1m6 -2h1m-2 8h1m-4 -1h1m-5 1h1m-19 -4h1m4 3h1m-1 3h1m1 -6h1m4 4h1m29 -3h1m-9 -5h1m14 -6h1m-8 6h1m-22 2h1m19 3h1m-20 1h1m26 -13h1m-6 9h1m-14 -1h1m10 6h1m-11 -3h1m-5 -2h1m16 -1h1m-2 0h1m-19 0h1m10 -1h1m-10 7h1m22 -10h1m-17 2h1m10 6h1m0 -7h1m-14 9h1m7 -11h1m3 10h1m-9 -5h1m11 -1h1m-3 4h1m2 -1h1m-22 2h1m6 0h1m7 -6h1m4 -1h1m-16 -1h1m6 5h1m2 1h1m-6 -7h1m10 6h1m-19 -2h1m11 -6h1m-12 5h1m11 8h1m-13 -1h1m5 -2h1m8 -7h1m-16 8h1m7 -7h1m4 1h1m-7 1h1m-3 1h1m2 2h1m-10 -6h1m14 2h1m-2 -4h1m-3 11h1m4 -11h1m-13 11h1m7 -6h1m-13 3h1m4 -1h1m11 2h1m-28 4h1m15 -8h1m-2 4h1m7 -10h1m-13 7h1m1 -5h1m15 5h1m-18 -2h1m2 4h1m12 0h1m-30 1h1m19 -13h1m1 14h1m-20 0h1m2 -5h1m5 3h1m-2 -2h1m12 -4h1m-10 5h1m15 0h1m-13 4h1m4 -6h1m-12 0h1m-1 1h1m8 -5h1m3 5h1m3 1h1m-13 6h1m-11 -4h1m6 -5h1m9 3h1m-2 -1h1m2 1h1m-3 -4h1m-14 2h1m17 0h1m-17 4h1m0 1h1m10 3h1m-17 -10h1m6 7h1m2 -1h1m6 -1h1m-20 0h1m6 4h1m12 -7h1m-24 4h1m-3 2h1m13 -3h1m4 -3h1m8 -10h1m-27 15h1m13 -11h1m2 10h1m8 -10h1m-14 7h1m9 -2h1m-8 -2h1m-6 3h1m-18 5h1m17 -8h1m-46 89h1m29 -43h1m-46 -9h1m4 40h1m4 -36h1m-1 19h1m1 -13h1m12 14h1m4 -11h1m-31 18h1m24 -12h1m6 -6h1m-34 6h1m29 -2h1m-11 -14h1m1 28h1m-16 8h1m10 -25h1m-5 6h1m14 -19h1m-10 22h1m8 -7h1m-1 7h1m6 11h1m-23 1h1m-7 -17h1m15 3h1m-5 -1h1m-9 -9h1m23 13h1m-17 -6h1m12 3h1m-20 -10h1m22 21h1m-18 -3h1m-9 8h1m19 -19h1m1 2h1m-21 -20h1m1 29h1m16 -15h1m0 20h1m-1 -2h1m-13 1h1m4 3h1m-15 -14h1m16 2h1m-12 7h1m3 -8h1m0 11h1m-5 8h1m7 -15h1m-7 -8h1m1 3h1m-23 30h1m17 -53h1m-2 19h1m-12 5h1m19 -30h1m0 36h1m-8 -22h1m-2 11h1m-23 18h1m44 -10h1m-27 11h1m13 -24h1m-12 10h1m-19 -9h1m-1 29h1m12 -20h1m-2 9h1m16 1h1m-18 0h1m12 -18h1m-25 -5h1m4 4h1m34 -3h1m-9 12h1m-21 3h1m-28 -14h1m19 7h1m9 13h1m1 6h1m7 -21h1m6 32h1m-19 -18h1m1 -1h1m-16 -17h1m36 18h1m-25 -20h1m-8 25h1m16 -32h1m8 16h1m-22 0h1m-10 1h1m-5 -23h1m19 35h1m4 -15h1m-7 4h1m15 -5h1m-31 17h1m18 -12h1m2 18h1m-15 -18h1m5 21h1m17 -35h1m-28 6h1m24 13h1m-23 1h1m23 -15h1m-7 -2h1m1 -12h1m6 20h1m-7 -8h1m-23 6h1m4 15h1m22 -10h1m-34 -2h1m10 -9h1m-13 6h1m2 12h1m14 -2h1m-26 -12h1m7 -2h1m13 -5h1m-1 19h1m5 -14h1m-7 19h1m8 -4h1m-22 0h1m18 -20h1m-33 24h1m24 -14h1m-13 -19h1m-7 51h1m-10 -28h1m16 -8h1m11 17h1m-25 -27h1m14 0h1m36 14h1m-52 -1h1m20 0h1m-10 -4h1m-12 25h1m12 8h1m7 -13h1m-23 3h1m8 -13h1m-3 14h1m-7 -23h1m5 8h1m12 -22h1m24 11h1m-32 -4h1m-9 27h1m31 -16h1m-14 -27h1m-21 17h1m18 13h1m-5 -18h1m-8 8h1m16 1h1m-24 -15h1m6 30h1m4 3h1m-4 -7h1m-4 4h1m19 -12h1m-11 6h1m3 13h1m-7 -25h1m7 23h1m-11 -29h1m8 -1h1m-6 21h1m-8 6h1m-4 7h1m20 -29h1m-26 -5h1m11 23h1m-27 -11h1m37 0h1m-34 12h1m27 -32h1m-35 39h1m13 -14h1m3 -5h1m-10 -14h1m13 39h1m28 -6h1m-21 -14h1m3 15h1m-20 -10h1m-1 21h1m2 -21h1m-7 -11h1m2 21h1m14 -9h1m-8 -17h1m0 23h1m-6 -6h1m27 -5h1m-20 -18h1m-31 10h1m23 -4h1m-19 -5h1m-10 8h1m1 -6h1m0 -10h1m1 11h1m2 -20h1m-11 23h1m17 -10h1m-19 3h1m8 -6h1m5 29h1m2 -17h1m-21 0h1m5 6h1m14 3h1m-15 -9h1m-5 -3h1m1 2h1m3 5h1m-7 12h1m17 -25h1m2 -6h1m-13 9h1m-19 -4h1m-4 4h1m22 2h1m-2 4h1m3 -6h1m7 8h1m-14 -4h1m4 1h1m-9 3h1m12 2h1m-11 -7h1m4 11h1m-1 -6h1m2 -8h1m-1 -1h1m-14 22h1m2 -5h1m8 -12h1m-2 -1h1m-10 12h1m-11 -19h1m8 0h1m10 18h1m-18 -11h1m10 -1h1m-4 -1h1m-2 -11h1m6 37h1m-3 -17h1m1 -15h1m-19 11h1m14 -3h1m3 -9h1m-10 17h1m10 -21h1m-9 25h1m-3 5h1m9 -22h1m-14 7h1m-3 -6h1m6 4h1m7 -7h1m-17 5h1m8 -6h1m-3 1h1m2 8h1m-4 -4h1m2 5h1m2 -26h1m-7 42h1m-6 -11h1m11 1h1m-3 -7h1m2 5h1m4 -19h1m-12 18h1m-23 -7h1m28 7h1m-14 -4h1m6 5h1m2 -6h1m5 -4h1m-25 6h1m8 -10h1m16 16h1m-14 -2h1m-4 7h1m14 -5h1m-18 0h1m4 -14h1m-1 2h1m-1 -21h1m-16 35h1m2 -22h1m33 23h1m-20 -11h1m-14 -1h1m3 23h1m-9 -18h1m12 -13h1m1 13h1m-5 0h1m14 -4h1m-15 -2h1m-6 14h1m17 -14h1m-13 12h1m-5 -21h1m-5 5h1m21 9h1m-15 6h1m7 -11h1m-9 2h1m-10 -3h1m6 2h1m7 9h1m-15 -7h1m14 -7h1m-12 13h1m2 -12h1m17 10h1m-31 0h1m13 -7h1m-2 5h1m-11 -13h1m28 100h1m-75 -46h1m-1 -10h1m92 -9h1m-8 26h1m7 -33h1m-61 27h1" stroke="#1a1ad4" stroke-width="1" fill="none"/>
<ellipse cx="1278" cy="2112" rx="9.9" ry="11" transform="rotate(-40 1278 2112)" fill="#1426e4" filter="url(#spkL)" fill-opacity="0.8"/>
<polyline points="1261,2090 1266,2072 1280,2062 1305,2057 1327,2054" fill="none" stroke="#1430ee" stroke-width="11" stroke-linecap="round" stroke-linejoin="round" filter="url(#spkL)"/>
<ellipse cx="1268" cy="2074" rx="9" ry="6" transform="rotate(-70 1268 2074)" fill="#1430ee" filter="url(#spk2)"/>
<ellipse cx="1292" cy="2061" rx="16" ry="6.5" transform="rotate(-12 1292 2061)" fill="#1430ee" filter="url(#spk2)"/>
<ellipse cx="1320" cy="2056" rx="15" ry="6" transform="rotate(-8 1320 2056)" fill="#1430ee" filter="url(#spk2)"/>
<ellipse cx="1249" cy="2122" rx="25.8" ry="15.7" transform="rotate(-35 1249 2122)" fill="#1228ec" filter="url(#spk)"/>
<ellipse cx="1249" cy="2122" rx="19.6" ry="11.9" transform="rotate(-35 1249 2122)" fill="#1030f0" filter="url(#fb1)"/>
<ellipse cx="1249.3" cy="2122" rx="18.4" ry="11.2" transform="rotate(-35 1249.3 2122)" fill="#1a7cf4" filter="url(#fb2)"/>
<ellipse cx="1249.5" cy="2122" rx="15.2" ry="9.2" transform="rotate(-35 1249.5 2122)" fill="#22cdee" filter="url(#fb2)"/>
<ellipse cx="1249.7" cy="2122" rx="10.8" ry="6.6" transform="rotate(-35 1249.7 2122)" fill="#44ec80" filter="url(#fb2)"/>
<ellipse cx="1250" cy="2122" rx="6.9" ry="4.2" transform="rotate(-35 1250 2122)" fill="#dcef2c" filter="url(#fb2)"/>
<ellipse cx="1250.2" cy="2122" rx="3.9" ry="2.4" transform="rotate(-35 1250.2 2122)" fill="#f2380e" filter="url(#fb2)"/>
<line x1="1266.6" y1="2042.3" x2="1266.6" y2="2196.3" stroke="#3a3a3a" stroke-width="1.4"/>
<line x1="1166.8" y1="2093" x2="1335.2" y2="2093" stroke="#3a3a3a" stroke-width="1.4"/>
<text x="1173.5" y="2086" font-size="13.5" text-anchor="start" fill="#000">1.06</text>
<text x="1329.5" y="2087" font-size="13.5" text-anchor="end" fill="#000">9.75</text>
<text x="1173.5" y="2189" font-size="13.5" text-anchor="start" fill="#000">87.6</text>
<text x="1329.5" y="2189" font-size="13.5" text-anchor="end" fill="#000">1.54</text>
<path d="M49.5 2237.1H219.4V2391.7" stroke="#9a9a9a" stroke-width="1" fill="none"/>
<path d="M49.5 2391.7v3.2M77.8 2391.7v3.2M106.1 2391.7v3.2M134.4 2391.7v3.2M162.8 2391.7v3.2M191.1 2391.7v3.2M219.4 2391.7v3.2M45.9 2391.7h3.6M45.9 2365.9h3.6M45.9 2340.2h3.6M45.9 2314.4h3.6M45.9 2288.6h3.6M45.9 2262.9h3.6M45.9 2237.1h3.6" stroke="#333" stroke-width="1.1" fill="none"/>
<path d="M58 2391.7v1.8M63 2391.7v1.8M66.5 2391.7v1.8M69.3 2391.7v1.8M71.5 2391.7v1.8M73.4 2391.7v1.8M75.1 2391.7v1.8M76.5 2391.7v1.8M86.3 2391.7v1.8M91.3 2391.7v1.8M94.9 2391.7v1.8M97.6 2391.7v1.8M99.9 2391.7v1.8M101.7 2391.7v1.8M103.4 2391.7v1.8M104.8 2391.7v1.8M114.7 2391.7v1.8M119.6 2391.7v1.8M123.2 2391.7v1.8M125.9 2391.7v1.8M128.2 2391.7v1.8M130.1 2391.7v1.8M131.7 2391.7v1.8M133.2 2391.7v1.8M143 2391.7v1.8M148 2391.7v1.8M151.5 2391.7v1.8M154.2 2391.7v1.8M156.5 2391.7v1.8M158.4 2391.7v1.8M160 2391.7v1.8M161.5 2391.7v1.8M171.3 2391.7v1.8M176.3 2391.7v1.8M179.8 2391.7v1.8M182.6 2391.7v1.8M184.8 2391.7v1.8M186.7 2391.7v1.8M188.3 2391.7v1.8M189.8 2391.7v1.8M199.6 2391.7v1.8M204.6 2391.7v1.8M208.1 2391.7v1.8M210.9 2391.7v1.8M213.1 2391.7v1.8M215 2391.7v1.8M216.7 2391.7v1.8M218.1 2391.7v1.8M47.5 2383.9h2M47.5 2379.4h2M47.5 2376.2h2M47.5 2373.7h2M47.5 2371.6h2M47.5 2369.9h2M47.5 2368.4h2M47.5 2367.1h2M47.5 2358.2h2M47.5 2353.6h2M47.5 2350.4h2M47.5 2347.9h2M47.5 2345.9h2M47.5 2344.2h2M47.5 2342.7h2M47.5 2341.3h2M47.5 2332.4h2M47.5 2327.9h2M47.5 2324.7h2M47.5 2322.2h2M47.5 2320.1h2M47.5 2318.4h2M47.5 2316.9h2M47.5 2315.6h2M47.5 2306.6h2M47.5 2302.1h2M47.5 2298.9h2M47.5 2296.4h2M47.5 2294.3h2M47.5 2292.6h2M47.5 2291.1h2M47.5 2289.8h2M47.5 2280.9h2M47.5 2276.3h2M47.5 2273.1h2M47.5 2270.6h2M47.5 2268.6h2M47.5 2266.9h2M47.5 2265.4h2M47.5 2264h2M47.5 2255.1h2M47.5 2250.6h2M47.5 2247.4h2M47.5 2244.9h2M47.5 2242.8h2M47.5 2241.1h2M47.5 2239.6h2M47.5 2238.3h2" stroke="#333" stroke-width="0.8" fill="none"/>
<path d="M48.9 2391.7H219.4" stroke="#6a6a6a" stroke-width="1.2" fill="none"/>
<path d="M49.5 2236.6V2392.3" stroke="#333" stroke-width="1.4" fill="none"/>
<text x="40.2" y="2413.9" font-size="13.5">10<tspan font-size="8.8" dy="-9">0</tspan></text>
<text x="20.2" y="2395.3" font-size="13.5">10<tspan font-size="8.8" dy="-9">0</tspan></text>
<text x="68.5" y="2413.9" font-size="13.5">10<tspan font-size="8.8" dy="-9">1</tspan></text>
<text x="20.2" y="2369.5" font-size="13.5">10<tspan font-size="8.8" dy="-9">1</tspan></text>
<text x="96.8" y="2413.9" font-size="13.5">10<tspan font-size="8.8" dy="-9">2</tspan></text>
<text x="20.2" y="2343.8" font-size="13.5">10<tspan font-size="8.8" dy="-9">2</tspan></text>
<text x="125.1" y="2413.9" font-size="13.5">10<tspan font-size="8.8" dy="-9">3</tspan></text>
<text x="20.2" y="2318" font-size="13.5">10<tspan font-size="8.8" dy="-9">3</tspan></text>
<text x="153.5" y="2413.9" font-size="13.5">10<tspan font-size="8.8" dy="-9">4</tspan></text>
<text x="20.2" y="2292.2" font-size="13.5">10<tspan font-size="8.8" dy="-9">4</tspan></text>
<text x="181.8" y="2413.9" font-size="13.5">10<tspan font-size="8.8" dy="-9">5</tspan></text>
<text x="20.2" y="2266.5" font-size="13.5">10<tspan font-size="8.8" dy="-9">5</tspan></text>
<text x="210.1" y="2413.9" font-size="13.5">10<tspan font-size="8.8" dy="-9">6</tspan></text>
<text x="20.2" y="2240.7" font-size="13.5">10<tspan font-size="8.8" dy="-9">6</tspan></text>
<path d="M129 2314.5h1m0 8h1m-17 9h1m6 5h1m27 -19h1m-22 1h1m-3 -2h1m4 20h1m-1 -17h1m-9 10h1m20 -5h1m-12 -18h1m-7 13h1m15 7h1m-13 5h1m-8 -7h1m20 4h1m-17 -3h1m-11 -1h1m31 0h1m-25 -1h1m5 -5h1m14 2h1m-34 7h1m8 -7h1m13 -5h1m-10 14h1m-8 -9h1m6 6h1m-4 -3h1m-1 1h1m7 -3h1m2 15h1m7 -28h1m-14 10h1m14 -4h1m-19 4h1m11 -4h1m-4 23h1m10 -17h1m-27 11h1m2 -4h1m9 -2h1m-15 8h1m21 -19h1m-20 5h1m8 -2h1m2 -6h1m-21 6h1m-7 2h1m2 16h1m8 -2h1m0 -2h1m-3 -2h1m9 -13h1m-19 10h1m-3 4h1m21 -3h1m15 -10h1m-30 12h1m6 -7h1m10 22h1m0 -28h1m-4 0h1m-11 14h1m7 -21h1m0 5h1m17 11h1m-51 4h1m9 0h1m0 -1h1m8 17h1m11 -12h1m-5 -8h1m19 -1h1m-13 -17h1m-5 22h1m-11 -10h1m8 -2h1m-11 -15h1m-2 23h1m7 -15h1m-7 19h1m5 2h1m-6 -9h1m-9 -5h1m4 13h1m2 -14h1m-2 4h1m-11 9h1m29 -15h1m2 5h1m-9 -3h1m-15 5h1m-1 25h1m-19 -19h1m18 2h1m-20 -1h1m23 0h1m-10 -1h1m0 1h1m3 -4h1m4 -6h1m-4 19h1m11 -31h1m-27 15h1m4 3h1m6 13h1m-6 -19h1m6 4h1m-2 -13h1m-4 19h1m18 -11h1m-40 9h1m31 11h1m-9 -11h1m-17 5h1m6 15h1m10 -17h1m-2 -10h1m-10 -7h1m-1 6h1m4 17h1m11 -18h1m-3 11h1m-23 -14h1m12 -6h1m9 8h1m-28 22h1m23 -8h1m-10 4h1m-1 -17h1m-7 24h1m-8 -20h1m13 4h1m-8 -5h1m-10 -9h1m18 5h1m8 3h1m-23 6h1m12 -4h1m12 4h1m-15 -5h1m1 13h1m9 -13h1m7 3h1m-44 5h1m25 -12h1m-14 24h1m11 -23h1m10 -19h1m-24 27h1m2 -1h1m-13 2h1m20 3h1m-25 -5h1m18 5h1m9 -3h1m5 1h1m-4 -1h1m-12 1h1m3 -8h1m-4 8h1m-12 6h1m18 -23h1m-30 16h1m11 4h1m11 -8h1m1 -2h1m-2 9h1m-18 9h1m12 -8h1m-18 1h1m23 -19h1m-30 16h1m-14 -4h1m32 3h1m-12 -11h1m16 12h1m-1 2h1m-15 -4h1m13 -4h1m1 10h1m-24 -13h1m20 -5h1m-8 11h1m4 -3h1m-9 14h1m-6 -11h1m4 15h1m15 -34h1m-8 20h1m5 -1h1m8 -9h1m-3 5h1m-3 -23h1m-27 26h1m24 -15h1m-22 10h1m-3 -10h1m11 12h1m8 -13h1m-23 34h1m13 -19h1m-7 -8h1m12 20h1m6 -26h1m-19 13h1m-18 3h1m42 4h1m-28 -5h1m0 -9h1m-8 -3h1m-2 6h1m27 5h1m-8 -13h1m-14 13h1m-7 3h1m-1 1h1m-10 -5h1m4 12h1m5 -13h1m0 16h1m1 -3h1m-4 -9h1m-19 18h1m22 -11h1m7 -27h1m-22 18h1m32 -12h1m-27 -6h1m15 9h1m-21 16h1m0 1h1m16 -12h1m0 -7h1m-10 14h1m0 -15h1m-22 7h1m15 7h1m63 -72h1m-21 14h1m0 -3h1m18 -8h1m-23 15h1m39 -24h1m-16 12h1m7 0h1m-20 0h1m-13 5h1m4 1h1m-1 -2h1m13 -12h1m-18 10h1m25 -5h1m-30 1h1m8 7h1m20 -2h1m5 -15h1m-38 20h1m-6 9h1m14 -9h1m8 -3h1m-2 4h1m-8 -3h1m-8 2h1m5 -5h1m5 -2h1m12 -6h1m-14 2h1m21 -10h1m-24 22h1m7 -5h1m-29 4h1m10 -12h1m9 7h1m-10 -4h1m1 7h1m1 -1h1m-6 0h1m1 -7h1m8 4h1m1 -3h1m-15 4h1m6 -5h1m-6 5h1m15 -9h1m6 -5h1m-11 12h1m-8 1h1m6 -4h1m-7 5h1m-10 6h1m22 -9h1m9 -5h1m-15 11h1m-14 -16h1m7 6h1m12 1h1m-21 8h1m8 -11h1m-26 18h1m14 -14h1m9 1h1m-4 -2h1m-5 4h1m4 1h1m-4 -4h1m15 -4h1m-17 8h1m7 -10h1m-5 7h1m20 -10h1m-20 14h1m20 -5h1m-39 3h1m-1 6h1m15 -5h1m4 -11h1m-3 8h1m-17 3h1m6 -3h1m8 -2h1m-12 12h1m1 -11h1m12 1h1m-16 -6h1m13 3h1m-14 -5h1m3 5h1m19 -3h1m-12 5h1m-19 4h1m14 -4h1m-6 5h1m8 -9h1m-15 -7h1m11 11h1m-20 3h1m7 2h1m-4 -15h1m-3 21h1m0 -10h1m2 0h1m-15 7h1m21 -14h1m-5 2h1m1 0h1m10 12h1" stroke="#7676f2" stroke-width="1" fill="none"/>
<path d="M188 2262.5h1m-8 -2h1m13 -8h1m-12 19h1m-2 -18h1m-21 13h1m12 -10h1m8 8h1m5 -4h1m-2 2h1m3 -3h1m-16 5h1m1 4h1m2 -14h1m-10 6h1m5 4h1m5 3h1m-25 -5h1m7 12h1m17 -12h1m-12 5h1m13 -7h1m-15 0h1m-7 0h1m16 -4h1m-8 9h1m2 -11h1m-11 4h1m1 -6h1m-1 15h1m4 -4h1m-8 3h1m11 -5h1m2 -6h1m-4 2h1m-16 9h1m20 -15h1m-27 15h1m18 -5h1m-2 1h1m6 0h1m-16 1h1m2 2h1m13 -9h1m-1 -1h1m-22 7h1m7 1h1m-9 -7h1m-14 17h1m-5 34h1m-6 4h1m5 6h1m-11 2h1m-8 -11h1m16 2h1m-25 6h1m21 -1h1m-28 -14h1m-1 9h1m22 0h1m-15 -10h1m27 -4h1m-36 15h1m21 -1h1m0 2h1m-8 -13h1m-4 8h1m-12 5h1m19 -13h1m3 6h1m-2 6h1m-5 -5h1m15 10h1m-10 -12h1m-8 -6h1m-7 16h1m5 -22h1m-8 24h1m12 -1h1m-19 -4h1m9 1h1m4 -11h1m-5 15h1m5 -15h1m-12 10h1m17 -11h1m-19 4h1m30 -2h1m-20 5h1m-13 -5h1m-11 5h1m35 1h1m-34 7h1m-1 5h1m15 -10h1m12 4h1m-13 12h1m-18 -19h1m6 -2h1m8 16h1m6 -14h1m4 -7h1m-16 15h1m-11 -5h1m-1 8h1m-2 10h1m10 -15h1m-18 1h1m25 -1h1m-16 -7h1m-7 0h1m20 -8h1m-29 17h1m25 -9h1m-10 -1h1m5 9h1m3 12h1m-17 -6h1m5 -23h1m6 0h1m-21 30h1m15 -16h1m-1 4h1m-1 5h1m2 -10h1m-10 2h1m14 -6h1m-12 24h1m-13 -33h1m12 23h1m-9 -6h1m-2 -7h1m18 -5h1m-23 6h1m41 6h1m-42 10h1m-10 3h1m17 -4h1m-5 4h1m11 -29h1m1 19h1m-24 -9h1m7 -3h1m3 9h1m29 -7h1m-26 7h1m3 -2h1m-8 -2h1m-8 7h1m8 -8h1m-20 -1h1m8 -12h1m-4 20h1m-5 3h1m14 -7h1m-1 -11h1m4 0h1m-12 11h1m-8 7h1m2 -8h1m2 -7h1m6 10h1m1 -9h1m2 19h1m6 -15h1m-21 1h1m17 9h1m0 -2h1m-10 -10h1m9 14h1m-14 -30h1m-6 19h1m-4 -11h1m-7 6h1m20 9h1m-10 0h1m-6 -3h1m8 -12h1m-15 5h1m12 -1h1m-1 4h1m8 8h1m-14 -12h1m-6 17h1m5 -17h1m0 -4h1m23 12h1m-15 -24h1m-1 20h1m-5 -9h1m-31 18h1m13 -16h1m-3 7h1m12 -11h1m1 5h1m6 12h1m-3 -5h1m2 3h1m-5 8h1m3 -15h1m-26 -13h1m13 21h1m-4 5h1m7 -15h1m-14 7h1m-12 12h1m21 7h1m-6 -10h1m5 -4h1m-9 -7h1m18 1h1m-1 5h1m0 -6h1m-15 -18h1m4 10h1m-12 10h1m12 4h1m-4 6h1m-2 -20h1m-9 14h1m25 8h1m-15 -24h1m-19 3h1m21 3h1m-26 17h1m14 -13h1m-13 12h1m17 3h1m-18 -16h1m24 4h1m4 -9h1m-14 4h1m-1 -4h1m-12 -7h1m8 -19h1m-10 -9h1m-10 32h1m21 -41h1m-24 52h1m22 -47h1m-23 -11h1m16 35h1m-18 9h1m6 -29h1m2 26h1m28 -12h1m-54 44h1m20 -47h1m-38 24h1m37 -24h1m-5 5h1m5 -20h1m-16 30h1m-9 -11h1m-15 12h1m31 -7h1m-5 -18h1m-2 9h1m4 5h1m0 -17h1m13 19h1m-25 29h1m-3 -36h1m-11 -2h1m-11 34h1m32 -44h1m15 22h1m-19 13h1m11 -23h1m-5 2h1m-13 5h1m12 -5h1m-9 3h1m-6 6h1m13 -25h1m-34 26h1m40 -38h1m-23 15h1m2 19h1m11 -7h1m-2 18h1m9 -45h1m-16 20h1m-5 10h1m1 2h1m18 -5h1m6 6h1m-27 3h1m14 -19h1m2 30h1m-29 -28h1m22 5h1m-26 10h1m-16 3h1m13 -18h1m24 1h1m-23 5h1m12 -13h1m9 2h1m-20 16h1m11 4h1m-11 -6h1m15 -2h1m-6 -2h1m-7 1h1m7 -19h1m-4 19h1m-2 2h1m-11 13h1m-15 -32h1m36 8h1m-14 1h1m6 21h1m-14 -9h1m-2 18h1m-3 -7h1m9 -29h1m-19 5h1m21 -7h1m-17 23h1m3 5h1m17 -26h1m-17 3h1m-20 31h1m21 -14h1m-13 -1h1m8 3h1m-26 7h1m26 6h1m12 -44h1m-12 34h1m-10 -2h1m0 -32h1m-20 34h1m23 -2h1m15 -18h1m-24 6h1m2 -5h1m1 2h1m11 4h1m-18 -4h1m11 10h1m-33 16h1m37 -26h1m10 -10h1m-8 16h1m-20 -5h1m-8 6h1m4 -11h1m21 -14h1m-4 7h1m-19 31h1m20 -29h1m-29 23h1m21 20h1m-5 -15h1m1 -16h1m-18 2h1m9 -17h1m-11 5h1m30 3h1m-40 28h1m20 -13h1m8 -4h1m5 -13h1m-45 37h1m15 -25h1m-4 36h1m16 -37h1m-6 17h1m-8 -27h1m5 -10h1m13 17h1m-12 14h1m-1 -19h1m-2 24h1m16 25h1m-71 -15h1m99 -32h1m-55 24h1m-15 -26h1m-35 41h1m73 -66h1m-74 82h1m37 16h1m-41 -81h1m74 94h1m-52 16h1" stroke="#1a1ad4" stroke-width="1" fill="none"/>
<ellipse cx="150" cy="2310" rx="8.8" ry="6.6" transform="rotate(-30 150 2310)" fill="#1426e4" filter="url(#spkL)" fill-opacity="0.9"/>
<ellipse cx="183" cy="2260" rx="17" ry="6.5" transform="rotate(-20 183 2260)" fill="#1430ee" filter="url(#spk2)"/>
<ellipse cx="181.3" cy="2260.3" rx="7.7" ry="2.9" transform="rotate(-20 181.3 2260.3)" fill="#1c5cf2" filter="url(#fb1)" fill-opacity="0.8"/>
<ellipse cx="129" cy="2323" rx="21.3" ry="14" transform="rotate(-25 129 2323)" fill="#1228ec" filter="url(#spk)"/>
<ellipse cx="129" cy="2323" rx="16.1" ry="10.6" transform="rotate(-25 129 2323)" fill="#1030f0" filter="url(#fb1)"/>
<ellipse cx="129.6" cy="2322.5" rx="15.2" ry="10" transform="rotate(-25 129.6 2322.5)" fill="#1a7cf4" filter="url(#fb2)"/>
<ellipse cx="130" cy="2322.2" rx="12.5" ry="8.2" transform="rotate(-25 130 2322.2)" fill="#22cdee" filter="url(#fb2)"/>
<ellipse cx="130.5" cy="2321.8" rx="8.9" ry="5.9" transform="rotate(-25 130.5 2321.8)" fill="#44ec80" filter="url(#fb2)"/>
<ellipse cx="131" cy="2321.4" rx="5.7" ry="3.8" transform="rotate(-25 131 2321.4)" fill="#dcef2c" filter="url(#fb2)"/>
<ellipse cx="131.3" cy="2321.1" rx="3.2" ry="2.1" transform="rotate(-25 131.3 2321.1)" fill="#f2380e" filter="url(#fb2)"/>
<line x1="161.3" y1="2237.1" x2="161.3" y2="2391.7" stroke="#3a3a3a" stroke-width="1.4"/>
<line x1="49.5" y1="2288" x2="219.4" y2="2288" stroke="#3a3a3a" stroke-width="1.4"/>
<text x="54.3" y="2280.2" font-size="13.5" text-anchor="start" fill="#000">0.12</text>
<text x="210.3" y="2281.1" font-size="13.5" text-anchor="end" fill="#000">7.29</text>
<text x="52" y="2381" font-size="13.5" text-anchor="start" fill="#000">91.7</text>
<text x="206.5" y="2381" font-size="13.5" text-anchor="end" fill="#000">0.93</text>
<path d="M275.3 2241.7H443.9V2393" stroke="#9a9a9a" stroke-width="1" fill="none"/>
<path d="M275.3 2393v3.2M303.4 2393v3.2M331.5 2393v3.2M359.6 2393v3.2M387.7 2393v3.2M415.8 2393v3.2M443.9 2393v3.2M271.7 2393h3.6M271.7 2367.8h3.6M271.7 2342.6h3.6M271.7 2317.3h3.6M271.7 2292.1h3.6M271.7 2266.9h3.6M271.7 2241.7h3.6" stroke="#333" stroke-width="1.1" fill="none"/>
<path d="M283.8 2393v1.8M288.7 2393v1.8M292.2 2393v1.8M294.9 2393v1.8M297.2 2393v1.8M299 2393v1.8M300.7 2393v1.8M302.1 2393v1.8M311.9 2393v1.8M316.8 2393v1.8M320.3 2393v1.8M323 2393v1.8M325.3 2393v1.8M327.1 2393v1.8M328.8 2393v1.8M330.2 2393v1.8M340 2393v1.8M344.9 2393v1.8M348.4 2393v1.8M351.1 2393v1.8M353.4 2393v1.8M355.2 2393v1.8M356.9 2393v1.8M358.3 2393v1.8M368.1 2393v1.8M373 2393v1.8M376.5 2393v1.8M379.2 2393v1.8M381.5 2393v1.8M383.3 2393v1.8M385 2393v1.8M386.4 2393v1.8M396.2 2393v1.8M401.1 2393v1.8M404.6 2393v1.8M407.3 2393v1.8M409.6 2393v1.8M411.4 2393v1.8M413.1 2393v1.8M414.5 2393v1.8M424.3 2393v1.8M429.2 2393v1.8M432.7 2393v1.8M435.4 2393v1.8M437.7 2393v1.8M439.5 2393v1.8M441.2 2393v1.8M442.6 2393v1.8M273.3 2385.4h2M273.3 2381h2M273.3 2377.8h2M273.3 2375.4h2M273.3 2373.4h2M273.3 2371.7h2M273.3 2370.2h2M273.3 2368.9h2M273.3 2360.2h2M273.3 2355.8h2M273.3 2352.6h2M273.3 2350.2h2M273.3 2348.2h2M273.3 2346.5h2M273.3 2345h2M273.3 2343.7h2M273.3 2335h2M273.3 2330.5h2M273.3 2327.4h2M273.3 2324.9h2M273.3 2322.9h2M273.3 2321.3h2M273.3 2319.8h2M273.3 2318.5h2M273.3 2309.8h2M273.3 2305.3h2M273.3 2302.2h2M273.3 2299.7h2M273.3 2297.7h2M273.3 2296h2M273.3 2294.6h2M273.3 2293.3h2M273.3 2284.5h2M273.3 2280.1h2M273.3 2277h2M273.3 2274.5h2M273.3 2272.5h2M273.3 2270.8h2M273.3 2269.4h2M273.3 2268.1h2M273.3 2259.3h2M273.3 2254.9h2M273.3 2251.7h2M273.3 2249.3h2M273.3 2247.3h2M273.3 2245.6h2M273.3 2244.1h2M273.3 2242.9h2" stroke="#333" stroke-width="0.8" fill="none"/>
<path d="M274.7 2393H443.9" stroke="#6a6a6a" stroke-width="1.2" fill="none"/>
<path d="M275.3 2241.2V2393.6" stroke="#333" stroke-width="1.4" fill="none"/>
<text x="266" y="2415.2" font-size="13.5">10<tspan font-size="8.8" dy="-9">0</tspan></text>
<text x="246" y="2396.6" font-size="13.5">10<tspan font-size="8.8" dy="-9">0</tspan></text>
<text x="294.1" y="2415.2" font-size="13.5">10<tspan font-size="8.8" dy="-9">1</tspan></text>
<text x="246" y="2371.4" font-size="13.5">10<tspan font-size="8.8" dy="-9">1</tspan></text>
<text x="322.2" y="2415.2" font-size="13.5">10<tspan font-size="8.8" dy="-9">2</tspan></text>
<text x="246" y="2346.2" font-size="13.5">10<tspan font-size="8.8" dy="-9">2</tspan></text>
<text x="350.3" y="2415.2" font-size="13.5">10<tspan font-size="8.8" dy="-9">3</tspan></text>
<text x="246" y="2320.9" font-size="13.5">10<tspan font-size="8.8" dy="-9">3</tspan></text>
<text x="378.4" y="2415.2" font-size="13.5">10<tspan font-size="8.8" dy="-9">4</tspan></text>
<text x="246" y="2295.7" font-size="13.5">10<tspan font-size="8.8" dy="-9">4</tspan></text>
<text x="406.5" y="2415.2" font-size="13.5">10<tspan font-size="8.8" dy="-9">5</tspan></text>
<text x="246" y="2270.5" font-size="13.5">10<tspan font-size="8.8" dy="-9">5</tspan></text>
<text x="434.6" y="2415.2" font-size="13.5">10<tspan font-size="8.8" dy="-9">6</tspan></text>
<text x="246" y="2245.3" font-size="13.5">10<tspan font-size="8.8" dy="-9">6</tspan></text>
<path d="M339 2331.5h1m41 -23h1m-31 11h1m11 -7h1m-22 34h1m-5 -17h1m19 -6h1m-4 16h1m2 -10h1m-2 -14h1m-8 2h1m4 7h1m-6 -9h1m-4 6h1m16 11h1m4 -8h1m-29 5h1m19 -1h1m4 -6h1m-17 2h1m3 3h1m22 -13h1m-6 11h1m-3 -32h1m10 26h1m-30 11h1m-13 -7h1m10 4h1m16 -3h1m-49 35h1m28 -43h1m13 -6h1m-1 27h1m0 -6h1m-17 -9h1m-22 5h1m39 -6h1m-22 -1h1m19 11h1m-5 4h1m18 -18h1m-26 0h1m0 3h1m-9 0h1m3 23h1m-4 -33h1m17 9h1m-28 -12h1m-14 33h1m46 -31h1m-25 25h1m-4 -21h1m-18 25h1m9 -17h1m6 16h1m17 -14h1m-7 -5h1m-2 2h1m9 3h1m-24 2h1m20 -22h1m-16 26h1m13 -8h1m13 -10h1m-36 14h1m12 -3h1m-9 0h1m-1 -6h1m7 8h1m-4 2h1m-1 -17h1m-17 27h1m5 -6h1m3 0h1m-16 -1h1m21 -10h1m-3 17h1m-15 -11h1m-5 7h1m1 -9h1m1 12h1m15 -22h1m-6 1h1m-13 30h1m5 -13h1m17 -18h1m-14 15h1m-8 0h1m3 5h1m13 -7h1m-35 5h1m45 -3h1m-21 -10h1m-8 20h1m13 -18h1m-35 30h1m12 -17h1m20 -7h1m8 -15h1m-23 33h1m-5 -1h1m9 -17h1m-2 -6h1m-4 16h1m-15 -18h1m37 -3h1m-35 12h1m4 23h1m8 -15h1m19 -14h1m-7 6h1m-8 9h1m-20 2h1m14 -7h1m21 -40h1m-18 30h1m2 -6h1m-20 36h1m-4 -33h1m-3 1h1m37 0h1m-24 15h1m0 -4h1m-16 -11h1m-14 37h1m42 -33h1m-32 27h1m5 -23h1m-15 5h1m18 4h1m-9 -15h1m3 7h1m25 -9h1m-37 12h1m6 -12h1m8 -7h1m-13 8h1m33 -10h1m-16 7h1m-26 2h1m21 5h1m-11 13h1m16 -8h1m-25 11h1m30 -9h1m-10 -3h1m-1 2h1m-9 -4h1m7 6h1m-19 0h1m9 -8h1m1 -9h1m-4 -1h1m-19 8h1m25 0h1m-16 22h1m-6 -19h1m0 4h1m5 4h1m-1 -13h1m2 -14h1m11 8h1m-4 10h1m-17 5h1m21 -4h1m-12 -21h1m-6 35h1m-6 2h1m1 -22h1m28 -8h1m-22 24h1m-9 -15h1m8 -9h1m-10 34h1m6 -39h1m-8 18h1m-6 1h1m-9 12h1m32 -30h1m-37 16h1m32 -13h1m-17 25h1m17 -19h1m-4 -18h1m-15 42h1m12 -16h1m1 -1h1m-4 -17h1m-8 27h1m14 -15h1m-31 11h1m21 -16h1m11 10h1m-16 10h1m-1 2h1m14 -22h1m-36 20h1m26 -17h1m17 3h1m-33 24h1m13 -15h1m-22 -17h1m14 14h1m5 -13h1m-26 32h1m-6 -33h1m1 24h1m19 3h1m18 -25h1m-37 18h1m2 -9h1m4 10h1m5 -15h1m-7 8h1m-6 5h1m2 4h1m2 -10h1m-16 3h1m-9 17h1m41 -26h1m-28 -13h1m1 20h1m24 4h1m-31 -5h1m22 11h1m3 -22h1m-38 34h1m11 -6h1m27 -28h1m-28 24h1m10 6h1m-19 10h1m18 -26h1m9 -4h1m-15 -11h1m-4 33h1m-5 -23h1m26 -13h1m-6 37h1m-16 -4h1m4 -8h1m-14 -6h1m16 -17h1m-5 20h1m-6 -9h1m-8 6h1m-7 9h1m16 -12h1m-7 7h1m-4 -2h1m4 7h1m-3 13h1m3 -34h1m19 -11h1m-33 30h1m20 -27h1m0 12h1m-16 11h1m-4 5h1m-4 -20h1m10 13h1m-1 4h1m17 -30h1m-39 29h1m23 -15h1m25 3h1m-29 2h1m22 -15h1m-24 13h1m8 0h1m-26 -1h1m20 2h1m3 -9h1m-28 16h1m20 4h1m8 -14h1m6 5h1m-30 0h1m12 0h1m-5 15h1m-3 -15h1m12 5h1m-16 0h1m21 -8h1m-11 -7h1m-17 13h1m14 -7h1m18 -22h1m-32 29h1m15 -21h1m18 -4h1m-8 36h1m-46 7h1m29 -43h1m2 18h1m-6 7h1m14 3h1m-21 -23h1m-11 10h1m14 14h1m-6 0h1m-12 0h1m1 12h1m-11 -12h1m10 -8h1m5 4h1m19 -28h1m-6 20h1m-8 3h1m52 -53h1m-36 9h1m29 -8h1m-6 -13h1m-8 16h1m-6 -10h1m27 -3h1m-21 9h1m0 -4h1m14 -4h1m-25 14h1m42 -19h1m-36 20h1m0 -1h1m-14 -3h1m15 10h1m-13 -17h1m6 1h1m-6 9h1m-20 -2h1m40 -20h1m-4 6h1m5 16h1m-3 -1h1m-6 -12h1m-12 15h1m36 -26h1m-39 22h1m-9 0h1m37 -14h1m-29 11h1m7 5h1m-16 -1h1m9 -1h1m4 -12h1m0 8h1m-21 4h1m22 -12h1m-17 12h1m-9 7h1m25 -17h1m-7 4h1m-9 -1h1m-4 10h1m18 -7h1m-21 2h1m11 -11h1m-4 1h1m-12 22h1m-10 -7h1m9 -4h1m10 -10h1m-8 -2h1m14 5h1m-4 1h1m-36 12h1m41 -20h1m-20 13h1m2 -7h1m-10 2h1m-1 10h1m15 -17h1m1 10h1m-13 7h1m24 -12h1m-13 8h1m-1 -5h1m-7 1h1m12 -4h1m-3 0h1m0 1h1m-12 4h1m-2 -2h1m-15 10h1m9 -8h1m-3 7h1m-3 3h1m4 -14h1m3 7h1m-12 0h1m-10 10h1m17 -5h1m1 -2h1m2 -4h1m-19 -4h1m-2 12h1m-9 -2h1m21 -7h1m-9 1h1m16 0h1m-29 0h1m32 -10h1m-17 11h1m5 3h1m4 -7h1m-2 -5h1m-34 8h1m18 3h1m6 -16h1m2 13h1m-17 0h1m13 -10h1m-4 13h1m-4 -12h1m20 7h1m-23 -6h1m16 -10h1m-4 6h1m-26 15h1m5 7h1m-18 -10h1m36 -11h1m-15 5h1m6 14h1m-19 -7h1m22 -3h1m-20 4h1m18 -12h1m-4 12h1m-8 -6h1m-2 -2h1m18 4h1m3 -7h1m-15 5h1m6 -11h1m-32 21h1m17 -12h1m1 8h1m-6 5h1m20 -27h1m-15 12h1m8 1h1m3 0h1m-6 -9h1m-14 10h1m-4 13h1m20 -7h1m-13 -16h1m-12 15h1m23 -10h1m-29 11h1m-5 4h1m12 -6h1m2 9h1m-9 -5h1m3 -10h1m-16 7h1m-9 12h1" stroke="#7676f2" stroke-width="1" fill="none"/>
<path d="M415 2262.5h1m-6 -8h1m-13 11h1m12 3h1m-14 -6h1m21 3h1m-32 3h1m18 -3h1m-7 10h1m11 -10h1m-9 3h1m-25 4h1m15 -9h1m-2 17h1m13 -13h1m0 -9h1m-23 13h1m17 -8h1m-17 7h1m4 -4h1m6 -6h1m14 3h1m-5 12h1m-5 -13h1m-11 11h1m5 3h1m4 -12h1m-5 6h1m-2 -3h1m6 7h1m7 -18h1m-3 4h1m-1 -1h1m-10 10h1m-14 6h1m-9 -6h1m14 -5h1m-12 10h1m-9 9h1m13 -17h1m30 -8h1m-29 5h1m0 4h1m1 -2h1m-16 12h1m15 -14h1m9 6h1m-13 -9h1m3 8h1m-4 1h1m7 -5h1m-22 11h1m-10 6h1m14 -12h1m6 1h1m6 -5h1m-18 5h1m9 1h1m4 -11h1m-16 1h1m16 6h1m-2 -8h1m-10 13h1m0 -3h1m-3 5h1m-5 0h1m0 0h1m-7 -1h1m11 -18h1m-1 17h1m-2 -9h1m20 4h1m-8 3h1m-20 -5h1m15 4h1m-29 8h1m17 5h1m-8 -6h1m10 -9h1m-14 -2h1m-5 -3h1m-7 6h1m3 6h1m3 -1h1m14 -7h1m-2 1h1m7 3h1m7 -11h1m-8 8h1m-34 8h1m7 -17h1m31 7h1m-22 -6h1m7 11h1m-4 -2h1m-22 2h1m12 -7h1m-10 3h1m33 -5h1m-25 4h1m-13 7h1m10 -12h1m-2 21h1m-25 -6h1m22 -8h1m-4 9h1m9 -5h1m-2 0h1m-9 -9h1m3 7h1m0 1h1m-1 -2h1m0 -3h1m5 -4h1m-10 9h1m-35 22h1m13 19h1m7 -7h1m1 3h1m-17 -3h1m7 1h1m16 -7h1m-15 -1h1m13 -6h1m-17 7h1m11 -9h1m3 23h1m-11 -32h1m-2 15h1m-9 9h1m-5 11h1m16 -10h1m-9 -6h1m-17 10h1m-1 -15h1m8 13h1m12 -6h1m-27 8h1m20 -7h1m14 -21h1m-10 9h1m-14 8h1m26 -7h1m-27 14h1m10 -13h1m-2 8h1m-24 -4h1m33 8h1m-26 5h1m-1 1h1m9 -36h1m9 46h1m-11 -16h1m1 7h1m1 6h1m2 -18h1m-21 11h1m4 4h1m-12 -21h1m33 10h1m-9 -20h1m-12 17h1m7 -10h1m-1 -8h1m-1 15h1m-4 -8h1m-4 16h1m-10 17h1m22 -25h1m-20 19h1m3 -26h1m-3 23h1m-13 -3h1m15 -7h1m-12 12h1m-1 -22h1m17 16h1m-10 -5h1m5 -25h1m-4 9h1m-8 13h1m-1 -17h1m11 15h1m-33 7h1m27 9h1m7 -40h1m-17 22h1m5 -5h1m8 -13h1m-10 34h1m5 -26h1m-28 43h1m7 -20h1m-8 14h1m3 -34h1m6 5h1m-16 2h1m8 5h1m10 -10h1m-5 -5h1m5 28h1m5 3h1m6 -12h1m-22 -6h1m9 4h1m-3 1h1m-15 14h1m10 -27h1m7 8h1m5 -1h1m-2 -4h1m-2 -19h1m-11 30h1m-3 -11h1m5 -16h1m-4 27h1m15 -14h1m-11 21h1m-6 -5h1m-2 10h1m-3 -17h1m28 -17h1m-14 -5h1m-10 23h1m-8 -12h1m19 3h1m-28 19h1m0 -11h1m19 10h1m-30 9h1m15 -8h1m3 1h1m6 0h1m-12 -10h1m-12 27h1m18 -32h1m-17 4h1m37 10h1m-32 -23h1m-18 1h1m33 -9h1m-26 41h1m10 -20h1m-8 -7h1m-2 -24h1m12 36h1m-7 -10h1m17 -19h1m-24 34h1m18 7h1m-13 -24h1m15 -6h1m-39 37h1m13 -8h1m24 -28h1m-8 26h1m-29 -14h1m13 5h1m-8 2h1m-12 -4h1m16 -8h1m-5 11h1m39 -14h1m-62 29h1m53 -32h1m-21 5h1m-5 -22h1m13 28h1m-21 7h1m-3 -9h1m4 -4h1m22 -5h1m-10 16h1m-4 -10h1m-36 5h1m32 3h1m5 -16h1m-23 10h1m0 5h1m-7 -6h1m-1 23h1m29 -26h1m-14 15h1m9 -14h1m-13 16h1m-8 3h1m15 -22h1m-37 26h1m-8 -1h1m47 -33h1m-35 17h1m15 -6h1m28 6h1m-13 -26h1m-12 45h1m-14 -24h1m20 -3h1m-25 -1h1m-6 9h1m28 -9h1m-18 33h1m4 -42h1m-14 20h1m15 -19h1m-17 3h1m19 -2h1m-8 5h1m1 18h1m17 10h1m-21 -19h1m-4 6h1m-7 8h1m27 -29h1m-20 28h1m-8 -2h1m7 13h1m10 -43h1m1 2h1m4 1h1m-8 4h1m-20 39h1m15 -31h1m-22 9h1m5 -23h1m6 24h1m-3 10h1m17 -13h1m-4 -11h1m-21 23h1m11 -16h1m4 2h1m-22 -4h1m23 -6h1m-7 -7h1m-7 6h1m-5 -2h1m2 1h1m-14 13h1m10 -1h1m11 7h1m-10 10h1m20 -33h1m-43 8h1m3 -7h1m-2 -4h1m2 10h1m2 -11h1m10 -20h1m-24 33h1m8 1h1m-16 -3h1m24 -19h1m3 9h1m-23 20h1m2 -32h1m-8 29h1m12 -21h1m1 9h1m-2 -2h1m-19 17h1m20 -16h1m-8 -7h1m8 -13h1m-11 13h1m4 8h1m-6 8h1m19 -4h1m-16 -20h1m6 8h1m6 4h1m-12 10h1m-23 1h1m19 -9h1m6 -18h1m0 5h1m-23 14h1m29 -23h1m10 24h1m-30 -18h1m-4 32h1m0 -31h1m9 5h1m16 -7h1m-28 24h1m3 0h1m6 -21h1m-2 0h1m-4 29h1m-19 -17h1m12 -3h1m11 7h1m-10 -17h1m-18 15h1m-5 12h1m19 -9h1m-12 15h1m-3 -29h1m9 16h1m1 -13h1m2 12h1m9 -3h1m-25 14h1m-7 -23h1m6 16h1m29 -8h1m-28 -8h1m16 5h1m-18 9h1m22 -15h1m-19 9h1m22 -5h1m-2 -21h1m-39 31h1m26 -6h1m-18 0h1m6 -8h1m-26 27h1m16 -10h1m14 -7h1m-3 -13h1m6 23h1m-10 -15h1m-2 10h1m-15 10h1m5 -11h1m-8 -9h1m7 4h1m9 2h1m0 -2h1m10 -22h1m-43 16h1m31 9h1m0 -5h1m-17 -2h1m16 -1h1m-32 25h1m37 -18h1m-10 9h1m-30 3h1m35 -37h1m0 -6h1m-8 30h1m5 -16h1m3 -2h1m-20 8h1m-2 22h1m16 -28h1m-26 39h1m-35 19h1m72 -32h1m-2 35h1m-74 6h1m34 -46h1m6 -25h1m-17 1h1m55 3h1m-86 11h1m36 -27h1m1 55h1" stroke="#1a1ad4" stroke-width="1" fill="none"/>
<ellipse cx="404" cy="2267" rx="21" ry="8.5" transform="rotate(-25 404 2267)" fill="#1430ee" filter="url(#spk2)"/>
<ellipse cx="401.9" cy="2267.4" rx="9.5" ry="3.8" transform="rotate(-25 401.9 2267.4)" fill="#22d2d6" filter="url(#fb1)" fill-opacity="0.8"/>
<ellipse cx="353" cy="2325" rx="24.6" ry="14.6" transform="rotate(-35 353 2325)" fill="#1228ec" filter="url(#spk)"/>
<ellipse cx="353" cy="2325" rx="18.7" ry="11" transform="rotate(-35 353 2325)" fill="#1030f0" filter="url(#fb1)"/>
<ellipse cx="353.5" cy="2324.8" rx="17.6" ry="10.4" transform="rotate(-35 353.5 2324.8)" fill="#1a7cf4" filter="url(#fb2)"/>
<ellipse cx="353.8" cy="2324.7" rx="14.5" ry="8.6" transform="rotate(-35 353.8 2324.7)" fill="#22cdee" filter="url(#fb2)"/>
<ellipse cx="354.2" cy="2324.5" rx="10.3" ry="6.1" transform="rotate(-35 354.2 2324.5)" fill="#44ec80" filter="url(#fb2)"/>
<ellipse cx="354.6" cy="2324.3" rx="6.6" ry="3.9" transform="rotate(-35 354.6 2324.3)" fill="#dcef2c" filter="url(#fb2)"/>
<ellipse cx="354.9" cy="2324.2" rx="3.7" ry="2.2" transform="rotate(-35 354.9 2324.2)" fill="#f2380e" filter="url(#fb2)"/>
<line x1="378.5" y1="2241.7" x2="378.5" y2="2393" stroke="#3a3a3a" stroke-width="1.4"/>
<line x1="275.3" y1="2292.2" x2="443.9" y2="2292.2" stroke="#3a3a3a" stroke-width="1.4"/>
<text x="283" y="2284.4" font-size="13.5" text-anchor="start" fill="#000">0.27</text>
<text x="438.8" y="2284.4" font-size="13.5" text-anchor="end" fill="#000">17.8</text>
<text x="279.9" y="2381.7" font-size="13.5" text-anchor="start" fill="#000">81.0</text>
<text x="434.4" y="2381.7" font-size="13.5" text-anchor="end" fill="#000">0.94</text>
<path d="M496.3 2239.9H670.4V2392.1" stroke="#9a9a9a" stroke-width="1" fill="none"/>
<path d="M496.3 2392.1v3.2M525.3 2392.1v3.2M554.3 2392.1v3.2M583.4 2392.1v3.2M612.4 2392.1v3.2M641.4 2392.1v3.2M670.4 2392.1v3.2M492.7 2392.1h3.6M492.7 2366.7h3.6M492.7 2341.4h3.6M492.7 2316h3.6M492.7 2290.6h3.6M492.7 2265.3h3.6M492.7 2239.9h3.6" stroke="#333" stroke-width="1.1" fill="none"/>
<path d="M505 2392.1v1.8M510.1 2392.1v1.8M513.8 2392.1v1.8M516.6 2392.1v1.8M518.9 2392.1v1.8M520.8 2392.1v1.8M522.5 2392.1v1.8M524 2392.1v1.8M534.1 2392.1v1.8M539.2 2392.1v1.8M542.8 2392.1v1.8M545.6 2392.1v1.8M547.9 2392.1v1.8M549.8 2392.1v1.8M551.5 2392.1v1.8M553 2392.1v1.8M563.1 2392.1v1.8M568.2 2392.1v1.8M571.8 2392.1v1.8M574.6 2392.1v1.8M576.9 2392.1v1.8M578.9 2392.1v1.8M580.5 2392.1v1.8M582 2392.1v1.8M592.1 2392.1v1.8M597.2 2392.1v1.8M600.8 2392.1v1.8M603.6 2392.1v1.8M605.9 2392.1v1.8M607.9 2392.1v1.8M609.6 2392.1v1.8M611 2392.1v1.8M621.1 2392.1v1.8M626.2 2392.1v1.8M629.8 2392.1v1.8M632.6 2392.1v1.8M634.9 2392.1v1.8M636.9 2392.1v1.8M638.6 2392.1v1.8M640.1 2392.1v1.8M650.1 2392.1v1.8M655.2 2392.1v1.8M658.9 2392.1v1.8M661.7 2392.1v1.8M664 2392.1v1.8M665.9 2392.1v1.8M667.6 2392.1v1.8M669.1 2392.1v1.8M494.3 2384.5h2M494.3 2380h2M494.3 2376.8h2M494.3 2374.4h2M494.3 2372.4h2M494.3 2370.7h2M494.3 2369.2h2M494.3 2367.9h2M494.3 2359.1h2M494.3 2354.6h2M494.3 2351.5h2M494.3 2349h2M494.3 2347h2M494.3 2345.3h2M494.3 2343.8h2M494.3 2342.5h2M494.3 2333.7h2M494.3 2329.3h2M494.3 2326.1h2M494.3 2323.6h2M494.3 2321.6h2M494.3 2319.9h2M494.3 2318.5h2M494.3 2317.2h2M494.3 2308.4h2M494.3 2303.9h2M494.3 2300.7h2M494.3 2298.3h2M494.3 2296.3h2M494.3 2294.6h2M494.3 2293.1h2M494.3 2291.8h2M494.3 2283h2M494.3 2278.5h2M494.3 2275.4h2M494.3 2272.9h2M494.3 2270.9h2M494.3 2269.2h2M494.3 2267.7h2M494.3 2266.4h2M494.3 2257.6h2M494.3 2253.2h2M494.3 2250h2M494.3 2247.5h2M494.3 2245.5h2M494.3 2243.8h2M494.3 2242.4h2M494.3 2241.1h2" stroke="#333" stroke-width="0.8" fill="none"/>
<path d="M495.7 2392.1H670.4" stroke="#6a6a6a" stroke-width="1.2" fill="none"/>
<path d="M496.3 2239.4V2392.7" stroke="#333" stroke-width="1.4" fill="none"/>
<text x="487" y="2414.3" font-size="13.5">10<tspan font-size="8.8" dy="-9">0</tspan></text>
<text x="467" y="2395.7" font-size="13.5">10<tspan font-size="8.8" dy="-9">0</tspan></text>
<text x="516" y="2414.3" font-size="13.5">10<tspan font-size="8.8" dy="-9">1</tspan></text>
<text x="467" y="2370.3" font-size="13.5">10<tspan font-size="8.8" dy="-9">1</tspan></text>
<text x="545" y="2414.3" font-size="13.5">10<tspan font-size="8.8" dy="-9">2</tspan></text>
<text x="467" y="2345" font-size="13.5">10<tspan font-size="8.8" dy="-9">2</tspan></text>
<text x="574" y="2414.3" font-size="13.5">10<tspan font-size="8.8" dy="-9">3</tspan></text>
<text x="467" y="2319.6" font-size="13.5">10<tspan font-size="8.8" dy="-9">3</tspan></text>
<text x="603.1" y="2414.3" font-size="13.5">10<tspan font-size="8.8" dy="-9">4</tspan></text>
<text x="467" y="2294.2" font-size="13.5">10<tspan font-size="8.8" dy="-9">4</tspan></text>
<text x="632.1" y="2414.3" font-size="13.5">10<tspan font-size="8.8" dy="-9">5</tspan></text>
<text x="467" y="2268.9" font-size="13.5">10<tspan font-size="8.8" dy="-9">5</tspan></text>
<text x="661.1" y="2414.3" font-size="13.5">10<tspan font-size="8.8" dy="-9">6</tspan></text>
<text x="467" y="2243.5" font-size="13.5">10<tspan font-size="8.8" dy="-9">6</tspan></text>
<path d="M616 2283.5h1m-11 2h1m-29 24h1m10 10h1m-11 -2h1m8 1h1m5 -8h1m-5 -3h1m-16 3h1m24 4h1m3 -21h1m-5 6h1m2 12h1m-36 -13h1m14 19h1m25 -32h1m-22 27h1m-16 7h1m24 -23h1m15 -3h1m-52 37h1m44 -45h1m-43 32h1m23 -31h1m-4 24h1m-2 21h1m-8 2h1m-12 -12h1m3 13h1m15 -8h1m9 -33h1m-8 33h1m35 -26h1m-46 14h1m-13 -1h1m12 -6h1m36 -7h1m-49 16h1m19 3h1m9 -20h1m-9 40h1m7 -24h1m-20 -3h1m1 4h1m16 25h1m-10 -46h1m-37 31h1m-2 -12h1m25 8h1m-25 3h1m10 -5h1m-2 9h1m13 -18h1m-24 21h1m19 -20h1m-3 10h1m25 -22h1m-40 37h1m-3 -2h1m-3 -5h1m6 -6h1m2 -2h1m21 -22h1m-17 28h1m9 -7h1m5 5h1m-4 -27h1m-36 18h1m16 4h1m10 -11h1m29 -7h1m-39 18h1m-8 -8h1m28 -10h1m-3 19h1m-11 -10h1m30 -20h1m-46 24h1m19 -22h1m25 -3h1m-41 24h1m41 -35h1m-17 30h1m-11 1h1m25 -4h1m-30 2h1m-48 29h1m46 -30h1m-9 4h1m-16 23h1m4 -24h1m-3 8h1m54 -30h1m-23 6h1m12 5h1m4 -2h1m-57 28h1m52 -35h1m-50 32h1m-11 -14h1m31 -3h1m-11 10h1m24 -37h1m-21 43h1m12 -16h1m-10 10h1m-15 6h1m-5 -21h1m17 29h1m-7 -28h1m7 21h1m16 -10h1m-17 -3h1m22 -15h1m13 -20h1m-35 45h1m-7 -15h1m-7 -18h1m28 20h1m-15 -5h1m-13 10h1m4 13h1m-12 -8h1m1 -11h1m-25 18h1m5 -2h1m6 8h1m39 -34h1m-17 19h1m-9 5h1m9 -4h1m-22 10h1m-30 -2h1m42 2h1m-17 -13h1m-2 2h1m-7 17h1m27 -28h1m11 9h1m-14 -9h1m7 -7h1m-26 30h1m7 -14h1m-10 1h1m7 -6h1m-3 9h1m0 -8h1m-30 18h1m48 -43h1m-2 16h1m-1 6h1m15 -10h1m-21 9h1m6 12h1m12 -17h1m-64 15h1m39 -23h1m-10 27h1m10 -27h1m-2 10h1m-19 22h1m0 -20h1m-16 15h1m18 -13h1m-3 4h1m13 -14h1m23 -4h1m-35 27h1m-2 -14h1m-2 5h1m-9 1h1m-6 16h1m2 -5h1m17 -13h1m11 -6h1m-16 -6h1m-8 17h1m35 2h1m-23 -4h1m17 -22h1m-20 15h1m-27 23h1m31 -41h1m5 19h1m-2 -15h1m-33 21h1m-10 6h1m33 -37h1m-8 37h1m-42 27h1m44 -43h1m-33 21h1m43 -31h1m-1 12h1m-52 34h1m27 -40h1m-2 10h1m9 -8h1m-31 21h1m-9 -4h1m46 -15h1m-50 31h1m38 -9h1m2 -15h1m1 -8h1m-9 3h1m37 -14h1m-40 29h1m5 8h1m-15 1h1m9 -17h1m28 -27h1m-29 10h1m-21 37h1m-27 9h1m41 -25h1m-19 -1h1m18 -13h1m-13 35h1m23 -31h1m-28 -4h1m19 9h1m0 28h1m-22 -20h1m21 -10h1m-41 19h1m37 -25h1m8 2h1m-7 3h1m9 -13h1m-15 18h1m41 -22h1m-51 37h1m-33 8h1m2 9h1m4 -3h1m28 -24h1m-35 11h1m17 16h1m36 -23h1m-55 12h1m32 -20h1m4 -20h1m12 8h1m-11 19h1m-36 8h1m6 -5h1m38 -29h1m2 -2h1m-43 12h1m32 1h1m-22 12h1m30 -5h1m-35 19h1m22 -19h1m-4 -4h1m-9 15h1m-20 -13h1m41 -15h1m-36 34h1m-15 0h1m21 -9h1m2 2h1m-11 9h1m25 -31h1m-25 0h1m28 24h1m-45 8h1m50 -32h1m-24 -14h1m-1 20h1m19 5h1m-17 -8h1m-1 14h1m-9 -14h1m4 4h1m25 -9h1m4 -16h1m-44 18h1m5 15h1m41 -24h1m-35 19h1m-1 -6h1m0 5h1m-11 -1h1m-12 1h1m27 -1h1m-34 32h1m37 -34h1m10 -1h1m-34 15h1m-6 -1h1m45 -19h1m-44 14h1m-7 6h1m-8 9h1m-12 19h1m23 -39h1m-5 12h1m-9 -2h1m1 -3h1m7 1h1m-35 21h1m53 -31h1m-31 -1h1m12 15h1m15 -17h1m-11 4h1m30 -24h1m-75 50h1m57 -23h1m-2 -6h1m-67 44h1m55 -44h1m-14 6h1m0 1h1m2 1h1m11 2h1m-13 10h1m-7 5h1m18 -33h1m-21 6h1m24 6h1m32 -18h1m-72 41h1m4 -9h1m5 3h1m8 -10h1m24 -27h1m-5 14h1m16 -4h1m-71 40h1m21 -28h1m6 22h1m2 -34h1m-18 26h1m11 -1h1m-5 4h1m-3 7h1m-12 -7h1m20 -14h1m-8 8h1m12 -13h1m-16 8h1m21 -4h1m-14 -8h1m15 3h1m-26 10h1m31 -17h1m-33 19h1m2 15h1m22 -30h1m-21 26h1m-25 -2h1m8 11h1m9 -6h1m35 -41h1m0 9h1m-26 4h1m-19 11h1m24 -28h1m-35 59h1m28 -21h1m-13 -25h1m17 13h1m-14 -28h1m-10 26h1m31 9h1m-46 1h1m42 -21h1m-14 7h1m14 -4h1m-32 20h1m-20 9h1m44 -15h1m-14 -4h1m-16 7h1m5 16h1m-14 -1h1m38 -19h1m-41 7h1m41 -29h1m-23 38h1m39 -45h1m-49 23h1m10 -9h1m15 8h1m-16 -3h1m-18 12h1m11 4h1m-23 12h1m5 -9h1m9 -28h1m9 12h1m-9 22h1m0 -26h1m21 -3h1m-5 -6h1m-38 19h1m17 3h1m-18 25h1m54 -55h1m-69 50h1m20 -43h1m-13 36h1m26 -19h1m-4 -9h1m14 6h1m-23 12h1m20 -17h1m-24 17h1m-8 0h1m15 15h1m23 -51h1m-7 19h1m-11 -4h1m-41 35h1m28 -26h1m8 -13h1m-34 38h1m45 -31h1m-38 19h1m14 -25h1m2 18h1m3 1h1m-5 -23h1m23 9h1m-2 -14h1m3 11h1m-28 7h1m-40 19h1m14 -9h1m18 4h1m19 -30h1m-35 18h1m14 -10h1m6 24h1m-40 25h1m26 -34h1m-37 39h1m42 -39h1m52 -27h1m-27 15h1m-13 14h1m22 -32h1m-50 46h1m19 -28h1m-17 21h1m10 -34h1m0 17h1m-20 3h1m7 -5h1m15 -5h1m-4 5h1m-2 16h1m5 -1h1m-16 -14h1m-4 8h1m-19 12h1m25 -20h1m9 11h1m22 -62h1m12 0h1m10 4h1m-13 -2h1m-9 -2h1m1 0h1m0 0h1m-2 4h1m-6 3h1m27 -10h1m-17 1h1m-19 7h1m22 -4h1m2 -1h1m-20 5h1m-10 1h1m42 -10h1m-39 8h1m-2 1h1m14 -11h1m11 5h1m-2 2h1m-21 -1h1m6 -7h1m-7 9h1m8 2h1m-10 -5h1m34 -2h1m-16 0h1m-15 4h1m0 4h1m13 -12h1m-17 8h1m20 -5h1m-26 4h1m-8 1h1m3 9h1m-5 -2h1m2 3h1m0 -12h1m13 -5h1m-2 9h1m-9 -5h1m7 0h1m-5 -1h1m-4 -4h1m-8 5h1m18 -1h1m-9 7h1m-3 -1h1m-3 -1h1m5 0h1m-5 -3h1m-8 -5h1m-6 5h1m-17 14h1m12 -19h1m42 -1h1m-27 14h1m6 -10h1m-13 -6h1m2 9h1m-8 -2h1m-4 8h1m10 -3h1m5 -8h1m2 -2h1m9 4h1m-14 -1h1m27 -9h1m-45 17h1m-8 -8h1m18 -3h1m6 2h1m1 2h1m-9 7h1m11 -6h1m-15 1h1m-4 5h1m-1 -8h1m7 -5h1m-18 14h1m1 1h1m22 -9h1m-18 2h1m14 -7h1m-4 10h1m-6 -6h1m9 2h1m-14 7h1m6 -12h1m5 9h1m-23 3h1m22 -16h1m-5 17h1m3 -11h1m1 0h1m-21 13h1m3 -7h1m15 -4h1m-26 6h1m14 -3h1m-3 -2h1m-11 -1h1m3 9h1m9 -8h1m-20 5h1m12 2h1m-10 2h1m8 -15h1m-26 8h1m14 6h1m7 -6h1m1 6h1m-4 -5h1m4 0h1m-5 -9h1m16 2h1m-20 2h1m29 -2h1m-47 8h1m27 -2h1m-24 6h1" stroke="#7676f2" stroke-width="1" fill="none"/>
<path d="M611 2252.5h1m12 16h1m-25 -8h1m25 -1h1m2 -8h1m-9 10h1m4 -6h1m10 4h1m-15 -7h1m18 3h1m-18 7h1m28 0h1m-22 0h1m-18 -6h1m23 2h1m-6 1h1m-21 0h1m36 -9h1m-16 4h1m-13 7h1m-2 -2h1m11 -5h1m-32 5h1m35 -13h1m-20 11h1m22 -10h1m-2 3h1m-29 -4h1m1 15h1m24 -15h1m-26 12h1m12 -4h1m3 -3h1m3 -4h1m-8 10h1m-10 0h1m17 -1h1m-3 8h1m1 -21h1m-22 14h1m27 -7h1m-11 6h1m-11 0h1m-24 19h1m15 -7h1m-28 0h1m7 10h1m-41 -3h1m23 8h1m17 1h1m-30 21h1m10 -24h1m3 -10h1m15 -25h1m-27 60h1m-7 -14h1m33 -25h1m-48 40h1m64 -60h1m-26 29h1m4 -13h1m3 11h1m-33 29h1m23 -36h1m-3 37h1m-2 -19h1m1 -4h1m-9 -12h1m12 -3h1m-9 12h1m18 -11h1m-20 4h1m-6 17h1m2 -22h1m-2 20h1m-7 -6h1m0 0h1m30 -6h1m-48 29h1m29 -31h1m1 26h1m9 -22h1m-19 -13h1m-15 27h1m22 -15h1m2 -26h1m-5 46h1m-11 -36h1m34 -11h1m-69 48h1m34 -12h1m25 -29h1m-31 24h1m3 3h1m-22 5h1m-19 25h1m49 -42h1m-3 0h1m5 -10h1m-23 -1h1m-6 34h1m-20 6h1m33 -24h1m20 -12h1m-8 20h1m-14 -14h1m12 -19h1m-26 34h1m-5 -11h1m16 -13h1m-25 13h1m4 12h1m15 5h1m-4 -28h1m-1 34h1m-3 -12h1m15 -1h1m-32 2h1m-1 -8h1m30 7h1m-5 -3h1m-14 13h1m11 5h1m3 -33h1m-17 21h1m13 1h1m5 7h1m-13 3h1m2 -31h1m0 26h1m-30 11h1m38 -50h1m-27 24h1m9 0h1m-1 -5h1m-19 3h1m7 22h1m-4 -6h1m-7 -13h1m33 -2h1m8 12h1m-42 34h1m14 -19h1m2 -25h1m-17 16h1m38 -11h1m-44 -14h1m-4 0h1m-3 15h1m20 -2h1m-22 14h1m37 -26h1m-9 7h1m-7 11h1m-19 4h1m24 -17h1m-17 18h1m4 -41h1m11 19h1m-17 8h1m15 -7h1m-9 -15h1m-6 32h1m5 -26h1m-17 36h1m11 -44h1m10 37h1m-1 -16h1m-11 11h1m-8 -8h1m14 0h1m-5 -8h1m-9 1h1m-7 -13h1m-11 27h1m12 22h1m-3 -47h1m-21 51h1m15 -4h1m-6 -12h1m33 -22h1m26 -33h1m-44 45h1m14 13h1m-33 -2h1m7 -7h1m-1 -23h1m-9 10h1m24 -3h1m-7 -11h1m8 7h1m-9 12h1m-18 6h1m12 -10h1m-12 17h1m8 18h1m-10 -7h1m22 -42h1m-34 30h1m29 -36h1m-6 25h1m-12 -3h1m17 6h1m4 -33h1m-48 33h1m33 6h1m-27 17h1m7 -20h1m17 -9h1m1 -18h1m5 15h1m-9 10h1m15 -35h1m-30 32h1m8 -8h1m9 -7h1m-13 6h1m22 5h1m-35 1h1m21 -20h1m-23 17h1m8 11h1m15 -20h1m-13 19h1m5 -7h1m24 -40h1m-27 18h1m-10 26h1m-13 -10h1m25 -14h1m11 25h1m-37 0h1m26 -15h1m-32 29h1m40 -36h1m-3 -1h1m-17 -22h1m-27 48h1m51 -34h1m-27 29h1m7 -29h1m-37 35h1m35 -1h1m-10 -21h1m-8 16h1m19 -13h1m-29 24h1m0 8h1m-1 -24h1m12 17h1m-15 -25h1m13 10h1m0 -17h1m-10 38h1m4 -10h1m5 -35h1m23 10h1m-16 -5h1m-9 16h1m7 7h1m-14 -25h1m-7 22h1m-11 8h1m15 -37h1m16 11h1m-27 -1h1m19 29h1m-36 -9h1m9 -3h1m17 9h1m7 -8h1m-23 -33h1m14 32h1m-11 -17h1m-15 29h1m18 -18h1m13 -13h1m-14 33h1m-16 16h1m27 -38h1m-5 -22h1m12 29h1m-22 11h1m0 -24h1m-28 40h1m27 -27h1m-7 14h1m27 -20h1m-33 23h1m37 -40h1m-1 -9h1m-3 9h1m-50 22h1m30 16h1m-8 -36h1m-9 32h1m9 -2h1m-10 7h1m9 -20h1m6 17h1m-9 -39h1m-12 29h1m-32 20h1m18 -5h1m2 -16h1m23 -7h1m0 6h1m-8 2h1m-33 14h1m7 -21h1m28 -15h1m-23 -1h1m12 33h1m-6 -2h1m-29 5h1m36 -8h1m-13 -1h1m1 16h1m0 -23h1m6 8h1m-25 -31h1m14 16h1m11 6h1m-16 -3h1m0 13h1m11 -5h1m-9 -9h1m26 0h1m-35 -7h1m-8 12h1m35 -5h1m-18 5h1m22 0h1m-4 -35h1m-15 20h1m-24 30h1m8 0h1m-8 11h1m12 -16h1m-5 5h1m23 1h1m-33 -16h1m7 -18h1m1 30h1m-1 -10h1m6 -29h1m18 24h1m-27 -1h1m2 -3h1m3 4h1m-19 20h1m6 -6h1m4 -40h1m11 58h1m19 -44h1m-25 3h1m-7 22h1m-2 -15h1m9 -7h1m-5 3h1m1 -18h1m5 25h1m-23 8h1m8 -21h1m12 7h1m-24 0h1m6 24h1m6 4h1m10 -22h1m-26 12h1m22 -43h1m-2 23h1m-33 34h1m7 -10h1m5 8h1m5 -21h1m17 -9h1m-38 16h1m45 -5h1m-18 -20h1m-12 29h1m-15 5h1m38 -27h1m-17 -12h1m-37 18h1m-5 37h1m12 -36h1m2 19h1m20 -39h1m1 24h1m3 -1h1m-6 -19h1m0 37h1m-27 10h1m9 -26h1m24 21h1m0 -6h1m6 -28h1m-4 51h1m-11 -10h1m3 1h1m-14 -13h1m19 11h1m-3 -5h1m-5 8h1m13 2h1m-2 -39h1m9 -7h1m-18 36h1m-7 -5h1m-5 25h1m-5 -19h1m8 -15h1m-6 13h1m26 -25h1m-17 -19h1m5 46h1m-21 9h1m-1 -24h1m-1 -4h1m2 26h1m4 -11h1m13 -14h1m-20 7h1m0 18h1m8 -24h1m2 26h1m6 -33h1m-12 20h1m-16 25h1m8 -13h1m10 -22h1m-12 -17h1m-6 20h1m4 10h1m9 -36h1m-14 51h1m8 -33h1m-13 35h1m11 6h1m-17 -13h1m13 -25h1m-20 5h1m32 12h1m-9 -10h1m1 17h1m-7 -34h1m-8 20h1m8 -5h1m-11 25h1m1 -18h1m4 18h1m-2 -28h1m2 34h1m0 -34h1m0 -4h1m-1 7h1m4 -10h1m-12 -6h1m-2 27h1m-16 0h1m30 5h1m-16 -9h1m1 -25h1m1 32h1m11 -26h1m-25 34h1m13 -13h1m-8 -10h1m3 -1h1m-24 23h1m23 6h1m-21 -5h1m16 -32h1m-4 18h1m9 -5h1m-12 11h1m6 -16h1m5 6h1m-8 8h1m0 -19h1m-6 22h1m9 2h1m-13 -4h1m-9 1h1m12 -18h1m-19 29h1m13 -25h1m-1 33h1m10 -24h1m-4 -5h1m-7 5h1m2 28h1m0 -46h1m-17 -2h1m23 32h1m-13 -33h1m-4 27h1m-2 -9h1m-2 11h1m1 4h1m0 8h1m1 -18h1m7 -12h1m-5 14h1m-5 -15h1m1 -12h1m4 7h1m1 15h1m-27 -8h1m11 8h1m-6 9h1m3 6h1m2 -41h1m-9 36h1m0 -21h1m12 -11h1m-9 17h1m-5 10h1m20 -10h1m-19 16h1m9 1h1m-2 -6h1m-6 -19h1m-1 19h1m4 -8h1m-4 -12h1m-31 24h1m37 -16h1m5 -3h1m-23 -4h1m-1 30h1m-6 -12h1m1 -12h1m16 0h1m-3 8h1m-9 -6h1m8 -27h1m-6 4h1m-8 12h1m10 14h1m-3 -28h1m5 39h1m-19 13h1m-1 -22h1m28 15h1m-17 17h1m-10 -19h1m16 -7h1m-14 -1h1m-4 -12h1m-1 -4h1m1 26h1m7 -38h1m-4 26h1m3 0h1m7 -8h1m-13 -5h1m-4 8h1m2 -5h1m1 20h1m-7 11h1m-9 -18h1m6 -2h1m-9 -6h1m4 8h1m5 6h1m-19 -19h1m24 0h1m3 12h1m-9 0h1m-2 2h1m-20 17h1m21 -37h1m-21 12h1m3 0h1m-33 37h1m58 -64h1m-46 -1h1m3 48h1m60 -7h1m-91 -13h1m1 -54h1m71 31h1m-104 31h1m27 -8h1m58 30h1" stroke="#1a1ad4" stroke-width="1" fill="none"/>
<ellipse cx="598" cy="2282" rx="15.4" ry="8.8" transform="rotate(-50 598 2282)" fill="#1426e4" filter="url(#spkL)" fill-opacity="0.8"/>
<ellipse cx="604" cy="2307" rx="9.9" ry="9.9" transform="rotate(-40 604 2307)" fill="#1426e4" filter="url(#spkL)"/>
<ellipse cx="631" cy="2254.6" rx="18" ry="6.5" transform="rotate(-15 631 2254.6)" fill="#1430ee" filter="url(#spk2)"/>
<ellipse cx="587" cy="2313" rx="37" ry="14.6" transform="rotate(-36 587 2313)" fill="#1228ec" filter="url(#spk)"/>
<ellipse cx="587" cy="2313" rx="28.1" ry="11" transform="rotate(-36 587 2313)" fill="#1030f0" filter="url(#fb1)"/>
<ellipse cx="585.9" cy="2314.4" rx="26.4" ry="10.4" transform="rotate(-36 585.9 2314.4)" fill="#1a7cf4" filter="url(#fb2)"/>
<ellipse cx="585.2" cy="2315.4" rx="21.8" ry="8.6" transform="rotate(-36 585.2 2315.4)" fill="#22cdee" filter="url(#fb2)"/>
<ellipse cx="584.2" cy="2316.8" rx="15.5" ry="6.1" transform="rotate(-36 584.2 2316.8)" fill="#44ec80" filter="url(#fb2)"/>
<ellipse cx="583.3" cy="2318" rx="9.9" ry="3.9" transform="rotate(-36 583.3 2318)" fill="#dcef2c" filter="url(#fb2)"/>
<ellipse cx="582.6" cy="2319" rx="5.6" ry="2.2" transform="rotate(-36 582.6 2319)" fill="#f2380e" filter="url(#fb2)"/>
<line x1="615.5" y1="2239.9" x2="615.5" y2="2392.1" stroke="#3a3a3a" stroke-width="1.4"/>
<line x1="496.3" y1="2289.7" x2="670.4" y2="2289.7" stroke="#3a3a3a" stroke-width="1.4"/>
<text x="505.9" y="2282.9" font-size="13.5" text-anchor="start" fill="#000">1.78</text>
<text x="659.5" y="2282.9" font-size="13.5" text-anchor="end" fill="#000">3.81</text>
<text x="502" y="2383.2" font-size="13.5" text-anchor="start" fill="#000">94.0</text>
<text x="657" y="2383.2" font-size="13.5" text-anchor="end" fill="#000">0.39</text>
<path d="M723.1 2239.5H890.6V2392.4" stroke="#9a9a9a" stroke-width="1" fill="none"/>
<path d="M723.1 2392.4v3.2M751 2392.4v3.2M778.9 2392.4v3.2M806.9 2392.4v3.2M834.8 2392.4v3.2M862.7 2392.4v3.2M890.6 2392.4v3.2M719.5 2392.4h3.6M719.5 2366.9h3.6M719.5 2341.4h3.6M719.5 2315.9h3.6M719.5 2290.5h3.6M719.5 2265h3.6M719.5 2239.5h3.6" stroke="#333" stroke-width="1.1" fill="none"/>
<path d="M731.5 2392.4v1.8M736.4 2392.4v1.8M739.9 2392.4v1.8M742.6 2392.4v1.8M744.8 2392.4v1.8M746.7 2392.4v1.8M748.3 2392.4v1.8M749.7 2392.4v1.8M759.4 2392.4v1.8M764.3 2392.4v1.8M767.8 2392.4v1.8M770.5 2392.4v1.8M772.7 2392.4v1.8M774.6 2392.4v1.8M776.2 2392.4v1.8M777.7 2392.4v1.8M787.3 2392.4v1.8M792.3 2392.4v1.8M795.7 2392.4v1.8M798.4 2392.4v1.8M800.7 2392.4v1.8M802.5 2392.4v1.8M804.1 2392.4v1.8M805.6 2392.4v1.8M815.3 2392.4v1.8M820.2 2392.4v1.8M823.7 2392.4v1.8M826.4 2392.4v1.8M828.6 2392.4v1.8M830.4 2392.4v1.8M832.1 2392.4v1.8M833.5 2392.4v1.8M843.2 2392.4v1.8M848.1 2392.4v1.8M851.6 2392.4v1.8M854.3 2392.4v1.8M856.5 2392.4v1.8M858.4 2392.4v1.8M860 2392.4v1.8M861.4 2392.4v1.8M871.1 2392.4v1.8M876 2392.4v1.8M879.5 2392.4v1.8M882.2 2392.4v1.8M884.4 2392.4v1.8M886.3 2392.4v1.8M887.9 2392.4v1.8M889.3 2392.4v1.8M721.1 2384.7h2M721.1 2380.2h2M721.1 2377.1h2M721.1 2374.6h2M721.1 2372.6h2M721.1 2370.9h2M721.1 2369.4h2M721.1 2368.1h2M721.1 2359.2h2M721.1 2354.8h2M721.1 2351.6h2M721.1 2349.1h2M721.1 2347.1h2M721.1 2345.4h2M721.1 2343.9h2M721.1 2342.6h2M721.1 2333.8h2M721.1 2329.3h2M721.1 2326.1h2M721.1 2323.6h2M721.1 2321.6h2M721.1 2319.9h2M721.1 2318.4h2M721.1 2317.1h2M721.1 2308.3h2M721.1 2303.8h2M721.1 2300.6h2M721.1 2298.1h2M721.1 2296.1h2M721.1 2294.4h2M721.1 2292.9h2M721.1 2291.6h2M721.1 2282.8h2M721.1 2278.3h2M721.1 2275.1h2M721.1 2272.7h2M721.1 2270.6h2M721.1 2268.9h2M721.1 2267.5h2M721.1 2266.1h2M721.1 2257.3h2M721.1 2252.8h2M721.1 2249.6h2M721.1 2247.2h2M721.1 2245.2h2M721.1 2243.4h2M721.1 2242h2M721.1 2240.7h2" stroke="#333" stroke-width="0.8" fill="none"/>
<path d="M722.5 2392.4H890.6" stroke="#6a6a6a" stroke-width="1.2" fill="none"/>
<path d="M723.1 2239V2393" stroke="#333" stroke-width="1.4" fill="none"/>
<text x="713.8" y="2414.6" font-size="13.5">10<tspan font-size="8.8" dy="-9">0</tspan></text>
<text x="693.8" y="2396" font-size="13.5">10<tspan font-size="8.8" dy="-9">0</tspan></text>
<text x="741.7" y="2414.6" font-size="13.5">10<tspan font-size="8.8" dy="-9">1</tspan></text>
<text x="693.8" y="2370.5" font-size="13.5">10<tspan font-size="8.8" dy="-9">1</tspan></text>
<text x="769.6" y="2414.6" font-size="13.5">10<tspan font-size="8.8" dy="-9">2</tspan></text>
<text x="693.8" y="2345" font-size="13.5">10<tspan font-size="8.8" dy="-9">2</tspan></text>
<text x="797.5" y="2414.6" font-size="13.5">10<tspan font-size="8.8" dy="-9">3</tspan></text>
<text x="693.8" y="2319.5" font-size="13.5">10<tspan font-size="8.8" dy="-9">3</tspan></text>
<text x="825.5" y="2414.6" font-size="13.5">10<tspan font-size="8.8" dy="-9">4</tspan></text>
<text x="693.8" y="2294.1" font-size="13.5">10<tspan font-size="8.8" dy="-9">4</tspan></text>
<text x="853.4" y="2414.6" font-size="13.5">10<tspan font-size="8.8" dy="-9">5</tspan></text>
<text x="693.8" y="2268.6" font-size="13.5">10<tspan font-size="8.8" dy="-9">5</tspan></text>
<text x="881.3" y="2414.6" font-size="13.5">10<tspan font-size="8.8" dy="-9">6</tspan></text>
<text x="693.8" y="2243.1" font-size="13.5">10<tspan font-size="8.8" dy="-9">6</tspan></text>
<path d="M804 2314.5h1m9 22h1m-29 -12h1m19 -3h1m-18 12h1m-1 12h1m-3 -17h1m33 1h1m-4 2h1m-15 -5h1m21 -7h1m-37 11h1m26 -3h1m-24 2h1m-31 -5h1m48 -2h1m-6 10h1m-28 9h1m15 -8h1m6 -21h1m-11 12h1m13 -14h1m-33 21h1m52 -31h1m-26 42h1m-11 1h1m-3 -16h1m-4 -1h1m-11 19h1m4 -9h1m19 -7h1m6 -13h1m-27 24h1m23 -7h1m-14 0h1m40 -12h1m-28 1h1m1 1h1m-10 -5h1m5 10h1m-12 3h1m-8 7h1m27 -38h1m4 25h1m-10 -10h1m-33 13h1m19 7h1m5 -19h1m-9 6h1m-26 20h1m27 -3h1m-24 -2h1m3 0h1m26 -5h1m-58 19h1m60 -35h1m-30 23h1m8 -1h1m0 -12h1m-8 -8h1m8 18h1m-8 4h1m5 -25h1m-9 34h1m9 -19h1m-5 -14h1m0 13h1m22 -4h1m-24 2h1m-8 -3h1m44 -4h1m-14 -1h1m-12 8h1m-17 -3h1m27 -8h1m-17 14h1m-10 -2h1m-1 -2h1m12 -15h1m-7 14h1m-12 11h1m-28 1h1m38 -31h1m-10 9h1m11 -5h1m-2 26h1m0 -31h1m-3 14h1m-9 5h1m-30 8h1m12 19h1m45 -44h1m-39 35h1m-7 -26h1m44 -4h1m-25 18h1m-34 15h1m-12 -3h1m6 -19h1m42 -2h1m-4 9h1m-23 -14h1m25 8h1m-34 16h1m12 -15h1m25 0h1m23 -12h1m-49 31h1m6 -23h1m3 11h1m3 -14h1m-4 2h1m15 -8h1m3 -2h1m-20 4h1m-23 19h1m11 -3h1m1 -14h1m0 21h1m20 -10h1m-8 6h1m-9 -2h1m-11 -15h1m13 -6h1m-22 24h1m-4 11h1m8 -10h1m-13 -5h1m3 -14h1m-25 26h1m32 -23h1m-10 4h1m27 11h1m-5 -23h1m-7 1h1m-32 18h1m25 -15h1m-20 12h1m24 -5h1m-22 5h1m-14 -5h1m36 10h1m-18 -2h1m40 -12h1m-32 5h1m-12 5h1m11 0h1m-5 -4h1m-18 -3h1m1 0h1m38 -3h1m-37 12h1m2 7h1m19 -19h1m-15 0h1m29 16h1m-23 -1h1m-8 -16h1m-11 0h1m18 15h1m5 0h1m4 1h1m-25 -15h1m4 7h1m-1 3h1m-29 16h1m30 -25h1m-20 17h1m8 -5h1m-3 -9h1m7 0h1m-18 10h1m19 -3h1m17 -26h1m1 4h1m9 17h1m-19 -18h1m-3 28h1m16 -23h1m-31 9h1m16 1h1m-3 10h1m-29 -8h1m22 7h1m20 -15h1m-24 7h1m-9 11h1m8 0h1m-9 5h1m-15 -16h1m27 1h1m-18 7h1m-4 -17h1m2 2h1m-23 13h1m47 -14h1m2 -2h1m-38 9h1m50 -12h1m-41 8h1m-7 9h1m8 -10h1m9 18h1m-17 3h1m6 -26h1m-27 11h1m37 6h1m-22 10h1m-20 -13h1m25 3h1m20 -15h1m-40 18h1m5 -13h1m-3 28h1m-4 -9h1m-7 -31h1m18 14h1m-24 1h1m53 -24h1m-40 45h1m9 -21h1m-9 5h1m-28 21h1m4 -15h1m66 9h1m-12 -24h1m-23 14h1m17 0h1m3 -4h1m-5 -8h1m-21 21h1m2 -8h1m-17 15h1m-4 -20h1m23 20h1m-24 -40h1m27 11h1m2 -3h1m-23 -5h1m15 -8h1m-28 27h1m10 17h1m-47 0h1m74 -13h1m-4 -1h1m-45 -7h1m40 -13h1m11 11h1m-31 -11h1m7 19h1m-14 -9h1m-15 14h1m-5 0h1m12 -3h1m5 -15h1m19 -6h1m-14 2h1m30 12h1m-7 -14h1m-9 19h1m2 12h1m-55 10h1m21 -31h1m8 3h1m14 4h1m2 -3h1m-7 7h1m-28 0h1m7 -6h1m-8 4h1m30 -11h1m-11 6h1m12 -8h1m-20 2h1m-5 3h1m-16 -1h1m-1 23h1m-5 -4h1m37 -17h1m-32 12h1m7 -1h1m1 -22h1m1 12h1m-7 -10h1m20 7h1m-18 7h1m32 -11h1m-50 -9h1m-26 22h1m31 -1h1m28 10h1m-10 -12h1m4 -9h1m16 0h1m-12 -2h1m-12 14h1m16 -20h1m-3 0h1m-5 14h1m-4 -3h1m-35 6h1m7 -1h1m10 3h1m16 -9h1m2 0h1m-41 9h1m-17 20h1m20 -30h1m16 -8h1m15 -6h1m7 24h1m-8 -13h1m3 1h1m-38 8h1m43 -3h1m-17 -11h1m-5 8h1m8 23h1m-23 -23h1m-12 25h1m24 -36h1m-4 5h1m6 19h1m-14 6h1m13 -22h1m-28 1h1m-9 13h1m5 -16h1m6 9h1m34 3h1m-27 -15h1m-12 8h1m-4 12h1m6 -18h1m-20 15h1m19 0h1m-5 -12h1m-10 18h1m8 10h1m10 -17h1m12 -33h1m16 34h1m-23 0h1m-20 -9h1m-20 0h1m17 12h1m-4 4h1m-9 -13h1m42 -10h1m-26 19h1m30 -6h1m-32 10h1m-9 -21h1m3 5h1m-14 14h1m25 -22h1m10 23h1m-39 -1h1m47 -1h1m-21 -5h1m-21 10h1m12 4h1m1 -1h1m-1 -16h1m-36 8h1m6 -2h1m36 -1h1m-2 1h1m-27 -1h1m10 -11h1m14 -6h1m-40 17h1m9 0h1m24 -2h1m-49 1h1m61 -6h1m-17 3h1m-6 -3h1m8 15h1m-14 -14h1m31 -47h1m26 -10h1m-12 5h1m-6 0h1m7 -19h1m-6 11h1m-14 2h1m21 -8h1m-13 9h1m1 -10h1m14 1h1m-32 12h1m22 -10h1m4 2h1m12 -8h1m-46 20h1m29 -12h1m10 -16h1m-16 18h1m-7 -2h1m-4 5h1m-15 9h1m30 -21h1m-27 19h1m-6 5h1m26 -16h1m0 -5h1m-3 1h1m-3 -4h1m-18 14h1m7 -7h1m-4 1h1m-4 8h1m9 -13h1m-12 16h1m11 0h1m19 -5h1m-24 -2h1m-5 -5h1m1 29h1m2 -34h1m8 -5h1m-2 13h1m-18 3h1m13 -14h1m-9 17h1m12 -8h1m-23 7h1m-3 -1h1m29 -13h1m-20 9h1m-13 6h1m7 -4h1m23 -7h1m-9 10h1m-10 -3h1m-19 13h1m30 -11h1m-13 -12h1m11 4h1m-21 3h1m13 1h1m-15 3h1m-11 5h1m-5 3h1m27 -14h1m-12 7h1m2 -3h1m-24 -2h1m37 -14h1m-20 22h1m-15 5h1m6 2h1m0 -17h1m17 -6h1m-4 8h1m2 3h1m-14 7h1m5 -6h1m10 -7h1m-17 13h1m-6 -4h1" stroke="#7676f2" stroke-width="1" fill="none"/>
<path d="M835 2270.5h1m-5 -2h1m18 0h1m-16 -3h1m-14 6h1m12 -4h1m0 6h1m-12 6h1m17 -14h1m-2 -2h1m-3 1h1m15 -8h1m-28 26h1m19 -19h1m-6 1h1m-13 10h1m21 -18h1m-29 12h1m19 1h1m-1 -9h1m-7 11h1m-5 3h1m14 -13h1m-3 -10h1m-16 15h1m20 -7h1m-14 0h1m-14 13h1m19 -13h1m-7 12h1m-5 1h1m9 -3h1m-7 -9h1m-7 16h1m-6 -13h1m19 4h1m-4 -6h1m9 -7h1m-16 17h1m3 2h1m-14 -1h1m23 -25h1m-19 11h1m13 -1h1m-6 5h1m-20 3h1m6 1h1m17 -4h1m-17 -8h1m0 16h1m8 -16h1m-24 15h1m9 -8h1m18 2h1m-5 -5h1m-20 16h1m7 -7h1m4 -3h1m-4 -2h1m-2 9h1m-10 -7h1m6 5h1m1 -3h1m15 -12h1m-15 6h1m1 -2h1m3 0h1m-15 11h1m18 -7h1m-2 9h1m-3 -8h1m-14 7h1m7 -15h1m-14 20h1m8 -14h1m5 -15h1m-12 26h1m-19 3h1m11 -8h1m14 -5h1m-8 3h1m-17 7h1m5 -14h1m7 13h1m-3 -4h1m-2 -10h1m-3 5h1m-2 -2h1m21 -5h1m-29 17h1m9 -4h1m17 -8h1m-10 8h1m-2 -9h1m-30 20h1m24 -4h1m-20 -13h1m23 7h1m-8 -9h1m32 -6h1m-23 6h1m-25 18h1m2 0h1m16 -8h1m1 -10h1m-18 9h1m8 4h1m5 -14h1m-17 21h1m23 -17h1m-14 10h1m4 -7h1m-4 -2h1m2 -4h1m-4 10h1m-5 -2h1m6 10h1m-14 -7h1m23 -13h1m-41 24h1m35 -12h1m-10 -6h1m5 -2h1m-7 -3h1m27 -10h1m-19 13h1m1 -11h1m-19 18h1m4 8h1m-4 -8h1m-4 2h1m-6 -2h1m22 -2h1m-23 -2h1m13 -2h1m22 -12h1m-21 4h1m-5 0h1m5 4h1m6 2h1m-4 -6h1m-21 7h1m9 0h1m14 -2h1m-14 -8h1m-7 21h1m4 -16h1m-24 60h1m-20 1h1m10 -32h1m-2 19h1m1 -33h1m11 22h1m-4 -7h1m-6 -28h1m-14 56h1m11 -27h1m-6 8h1m5 -16h1m-1 14h1m-2 5h1m0 5h1m-4 -10h1m-5 19h1m2 -34h1m-1 57h1m3 -54h1m2 1h1m-1 7h1m-5 6h1m-7 -22h1m-3 2h1m22 5h1m-24 14h1m17 -9h1m-6 8h1m-3 5h1m7 -23h1m-25 33h1m1 -17h1m14 21h1m-17 5h1m13 -47h1m2 10h1m-3 6h1m-8 22h1m4 -18h1m6 -10h1m-17 40h1m7 -37h1m12 -20h1m-23 40h1m23 -40h1m-8 22h1m5 -6h1m-7 -25h1m-1 21h1m-9 -16h1m0 30h1m-5 -12h1m10 0h1m-11 34h1m-1 -26h1m4 2h1m3 -5h1m-2 -18h1m-11 13h1m1 7h1m-2 3h1m-12 -3h1m2 25h1m5 -7h1m5 10h1m3 -38h1m-19 27h1m4 3h1m6 12h1m8 -44h1m5 -2h1m-27 10h1m12 15h1m6 -12h1m-16 -4h1m5 9h1m6 -1h1m-9 29h1m7 -27h1m-8 7h1m-1 -3h1m-4 -3h1m2 22h1m4 -26h1m-5 -7h1m-18 42h1m-3 -11h1m16 -45h1m1 49h1m3 -35h1m-6 -4h1m12 -13h1m-8 34h1m-1 8h1m-9 -4h1m2 2h1m-6 14h1m6 -7h1m-8 -12h1m6 1h1m6 -18h1m-3 11h1m-19 26h1m7 -37h1m4 15h1m-7 25h1m-12 -25h1m5 6h1m-1 -13h1m5 -4h1m7 -20h1m-11 36h1m-5 -15h1m-10 18h1m11 -5h1m-2 12h1m-1 -21h1m4 6h1m9 -26h1m-6 23h1m-11 -18h1m7 17h1m6 -27h1m-7 42h1m-4 -28h1m-8 37h1m2 -22h1m13 -37h1m-8 20h1m1 11h1m-12 5h1m1 2h1m-3 -7h1m-4 -1h1m21 -14h1m-27 28h1m15 5h1m6 -31h1m3 8h1m-26 11h1m9 -13h1m3 14h1m-17 4h1m20 -9h1m-6 -11h1m-10 0h1m-4 38h1m5 -23h1m1 -19h1m-1 30h1m10 -22h1m5 -27h1m-28 47h1m16 -24h1m-3 -5h1m1 12h1m-15 15h1m2 -10h1m8 4h1m-7 -35h1m13 13h1m-10 14h1m-6 -7h1m1 -11h1m2 7h1m-10 31h1m18 -33h1m-10 37h1m-7 -14h1m-7 16h1m9 -16h1m-4 -19h1m14 -2h1m-13 -2h1m-15 16h1m9 9h1m7 -29h1m-6 4h1m17 1h1m-21 26h1m-2 -1h1m-5 3h1m5 -8h1m-1 -12h1m5 -12h1m-17 13h1m16 0h1m-8 3h1m4 -2h1m-12 13h1m10 -9h1m-16 20h1m20 -34h1m-21 9h1m10 -1h1m-7 29h1m-2 -7h1m0 -6h1m9 16h1m10 0h1m-12 2h1m-6 4h1m-2 6h1m-3 -9h1m3 7h1m6 -14h1m-10 14h1m-2 -6h1m5 -4h1m6 -7h1m-17 19h1m13 -6h1m-5 -12h1m-1 24h1m-5 -24h1m-2 26h1m5 -16h1m-4 6h1m-3 -5h1m14 1h1m-3 -12h1m-17 13h1m11 -16h1m7 4h1m-26 14h1m2 -12h1m15 5h1m0 -8h1m0 8h1m-8 6h1m-4 -1h1m-8 -15h1m11 20h1m-13 -16h1m7 7h1m-2 7h1m12 -21h1m-15 11h1m12 -11h1m-6 7h1m-2 0h1m-9 11h1m-1 -1h1m4 -3h1m-11 6h1m15 -22h1m0 0h1m3 18h1m-13 -3h1m1 5h1m-3 6h1m2 -11h1m0 4h1m4 -6h1m-7 -14h1m1 18h1m-8 1h1m12 2h1m-24 -1h1m11 -17h1m1 11h1m-11 11h1m10 -6h1m3 -9h1m-5 3h1m-4 10h1m-2 -12h1m7 7h1m-2 0h1m-13 7h1m-4 -9h1m-7 5h1m25 -6h1m-12 -7h1m-11 8h1m7 -13h1m-2 27h1m-8 -23h1m7 4h1m-7 20h1m4 -8h1m1 -16h1m-9 4h1m15 2h1m0 6h1m-18 -10h1m0 10h1m6 4h1m-9 2h1m11 5h1m-13 2h1m5 -19h1m4 6h1m-7 -3h1m12 -16h1m-9 18h1m5 -3h1m-13 12h1m0 -8h1m1 3h1m-3 -8h1m-5 9h1m9 2h1m-7 -3h1m17 -20h1m-59 -28h1m-22 45h1m27 -68h1m36 58h1m10 -55h1m-42 26h1m30 45h1m-6 -33h1m38 -14h1m-10 16h1" stroke="#1a1ad4" stroke-width="1" fill="none"/>
<ellipse cx="842" cy="2265" rx="20" ry="8" transform="rotate(-30 842 2265)" fill="#1430ee" filter="url(#spk2)"/>
<ellipse cx="840" cy="2265.4" rx="9" ry="3.6" transform="rotate(-30 840 2265.4)" fill="#20d6de" filter="url(#fb1)" fill-opacity="0.8"/>
<ellipse cx="800" cy="2326" rx="29.1" ry="15.7" transform="rotate(-20 800 2326)" fill="#1228ec" filter="url(#spk)"/>
<ellipse cx="800" cy="2326" rx="22.1" ry="11.9" transform="rotate(-20 800 2326)" fill="#1030f0" filter="url(#fb1)"/>
<ellipse cx="799.8" cy="2325.6" rx="20.8" ry="11.2" transform="rotate(-20 799.8 2325.6)" fill="#1a7cf4" filter="url(#fb2)"/>
<ellipse cx="799.7" cy="2325.3" rx="17.2" ry="9.2" transform="rotate(-20 799.7 2325.3)" fill="#22cdee" filter="url(#fb2)"/>
<ellipse cx="799.5" cy="2324.9" rx="12.2" ry="6.6" transform="rotate(-20 799.5 2324.9)" fill="#44ec80" filter="url(#fb2)"/>
<ellipse cx="799.4" cy="2324.6" rx="7.8" ry="4.2" transform="rotate(-20 799.4 2324.6)" fill="#dcef2c" filter="url(#fb2)"/>
<ellipse cx="799.3" cy="2324.3" rx="4.4" ry="2.4" transform="rotate(-20 799.3 2324.3)" fill="#f2380e" filter="url(#fb2)"/>
<line x1="824.5" y1="2239.5" x2="824.5" y2="2392.4" stroke="#3a3a3a" stroke-width="1.4"/>
<line x1="723.1" y1="2289.4" x2="890.6" y2="2289.4" stroke="#3a3a3a" stroke-width="1.4"/>
<text x="730" y="2283.5" font-size="13.5" text-anchor="start" fill="#000">0.52</text>
<text x="880.8" y="2283.5" font-size="13.5" text-anchor="end" fill="#000">12.1</text>
<text x="727.5" y="2383" font-size="13.5" text-anchor="start" fill="#000">87.0</text>
<text x="878.3" y="2383" font-size="13.5" text-anchor="end" fill="#000">0.33</text>
<path d="M942.9 2239.6H1115.4V2392" stroke="#9a9a9a" stroke-width="1" fill="none"/>
<path d="M942.9 2392v3.2M971.6 2392v3.2M1000.4 2392v3.2M1029.2 2392v3.2M1057.9 2392v3.2M1086.7 2392v3.2M1115.4 2392v3.2M939.3 2392h3.6M939.3 2366.6h3.6M939.3 2341.2h3.6M939.3 2315.8h3.6M939.3 2290.4h3.6M939.3 2265h3.6M939.3 2239.6h3.6" stroke="#333" stroke-width="1.1" fill="none"/>
<path d="M951.6 2392v1.8M956.6 2392v1.8M960.2 2392v1.8M963 2392v1.8M965.3 2392v1.8M967.2 2392v1.8M968.9 2392v1.8M970.3 2392v1.8M980.3 2392v1.8M985.4 2392v1.8M989 2392v1.8M991.7 2392v1.8M994 2392v1.8M995.9 2392v1.8M997.6 2392v1.8M999.1 2392v1.8M1009.1 2392v1.8M1014.1 2392v1.8M1017.7 2392v1.8M1020.5 2392v1.8M1022.8 2392v1.8M1024.7 2392v1.8M1026.4 2392v1.8M1027.8 2392v1.8M1037.8 2392v1.8M1042.9 2392v1.8M1046.5 2392v1.8M1049.2 2392v1.8M1051.5 2392v1.8M1053.4 2392v1.8M1055.1 2392v1.8M1056.6 2392v1.8M1066.6 2392v1.8M1071.6 2392v1.8M1075.2 2392v1.8M1078 2392v1.8M1080.3 2392v1.8M1082.2 2392v1.8M1083.9 2392v1.8M1085.3 2392v1.8M1095.3 2392v1.8M1100.4 2392v1.8M1104 2392v1.8M1106.7 2392v1.8M1109 2392v1.8M1110.9 2392v1.8M1112.6 2392v1.8M1114.1 2392v1.8M940.9 2384.4h2M940.9 2379.9h2M940.9 2376.7h2M940.9 2374.2h2M940.9 2372.2h2M940.9 2370.5h2M940.9 2369.1h2M940.9 2367.8h2M940.9 2359h2M940.9 2354.5h2M940.9 2351.3h2M940.9 2348.8h2M940.9 2346.8h2M940.9 2345.1h2M940.9 2343.7h2M940.9 2342.4h2M940.9 2333.6h2M940.9 2329.1h2M940.9 2325.9h2M940.9 2323.4h2M940.9 2321.4h2M940.9 2319.7h2M940.9 2318.3h2M940.9 2317h2M940.9 2308.2h2M940.9 2303.7h2M940.9 2300.5h2M940.9 2298h2M940.9 2296h2M940.9 2294.3h2M940.9 2292.9h2M940.9 2291.6h2M940.9 2282.8h2M940.9 2278.3h2M940.9 2275.1h2M940.9 2272.6h2M940.9 2270.6h2M940.9 2268.9h2M940.9 2267.5h2M940.9 2266.2h2M940.9 2257.4h2M940.9 2252.9h2M940.9 2249.7h2M940.9 2247.2h2M940.9 2245.2h2M940.9 2243.5h2M940.9 2242.1h2M940.9 2240.8h2" stroke="#333" stroke-width="0.8" fill="none"/>
<path d="M942.3 2392H1115.4" stroke="#6a6a6a" stroke-width="1.2" fill="none"/>
<path d="M942.9 2239.1V2392.6" stroke="#333" stroke-width="1.4" fill="none"/>
<text x="933.6" y="2414.2" font-size="13.5">10<tspan font-size="8.8" dy="-9">0</tspan></text>
<text x="913.6" y="2395.6" font-size="13.5">10<tspan font-size="8.8" dy="-9">0</tspan></text>
<text x="962.3" y="2414.2" font-size="13.5">10<tspan font-size="8.8" dy="-9">1</tspan></text>
<text x="913.6" y="2370.2" font-size="13.5">10<tspan font-size="8.8" dy="-9">1</tspan></text>
<text x="991.1" y="2414.2" font-size="13.5">10<tspan font-size="8.8" dy="-9">2</tspan></text>
<text x="913.6" y="2344.8" font-size="13.5">10<tspan font-size="8.8" dy="-9">2</tspan></text>
<text x="1019.8" y="2414.2" font-size="13.5">10<tspan font-size="8.8" dy="-9">3</tspan></text>
<text x="913.6" y="2319.4" font-size="13.5">10<tspan font-size="8.8" dy="-9">3</tspan></text>
<text x="1048.6" y="2414.2" font-size="13.5">10<tspan font-size="8.8" dy="-9">4</tspan></text>
<text x="913.6" y="2294" font-size="13.5">10<tspan font-size="8.8" dy="-9">4</tspan></text>
<text x="1077.3" y="2414.2" font-size="13.5">10<tspan font-size="8.8" dy="-9">5</tspan></text>
<text x="913.6" y="2268.6" font-size="13.5">10<tspan font-size="8.8" dy="-9">5</tspan></text>
<text x="1106.1" y="2414.2" font-size="13.5">10<tspan font-size="8.8" dy="-9">6</tspan></text>
<text x="913.6" y="2243.2" font-size="13.5">10<tspan font-size="8.8" dy="-9">6</tspan></text>
<path d="M1031 2332.5h1m-21 -1h1m26 -26h1m-8 1h1m5 5h1m-2 9h1m-8 -24h1m-7 25h1m-1 9h1m10 -29h1m9 8h1m-7 -5h1m-26 23h1m2 2h1m7 -5h1m37 -36h1m-5 36h1m-43 4h1m39 -20h1m-5 3h1m-28 6h1m21 -10h1m-10 6h1m-4 1h1m12 8h1m13 -14h1m-25 -13h1m-28 47h1m14 -18h1m27 -32h1m17 -5h1m-56 41h1m45 -17h1m-48 29h1m37 -44h1m-25 19h1m17 -23h1m-8 9h1m-18 25h1m-7 -1h1m-2 8h1m-17 -1h1m-17 27h1m29 -35h1m18 -15h1m-14 0h1m25 3h1m-21 7h1m24 -5h1m-16 -13h1m-10 19h1m-11 13h1m-11 12h1m40 -35h1m-15 6h1m-31 23h1m8 -24h1m14 5h1m30 -27h1m0 20h1m-28 7h1m1 -28h1m-36 30h1m36 11h1m-20 -25h1m-7 24h1m47 -26h1m-37 8h1m26 -22h1m-49 37h1m42 -31h1m-8 -5h1m-24 34h1m18 -22h1m-11 -11h1m18 10h1m-11 24h1m-24 -13h1m3 10h1m26 -7h1m-28 -8h1m11 -4h1m-34 39h1m32 -30h1m-15 32h1m21 -37h1m30 0h1m-22 7h1m-25 -10h1m25 -7h1m-40 51h1m19 -27h1m17 -30h1m-21 27h1m-25 16h1m14 -9h1m29 -13h1m-12 -17h1m8 24h1m4 -19h1m-9 18h1m-5 -9h1m11 -12h1m-47 38h1m73 -62h1m-43 27h1m44 -7h1m-45 14h1m11 -22h1m-15 8h1m1 5h1m4 19h1m-9 0h1m19 -32h1m-13 6h1m21 0h1m-54 39h1m25 -34h1m25 -5h1m-44 40h1m4 3h1m-4 -8h1m17 -4h1m14 -21h1m-29 3h1m9 -1h1m-28 31h1m-13 -6h1m47 -13h1m-22 8h1m10 -19h1m-7 -3h1m19 8h1m-30 5h1m42 -25h1m-37 42h1m-2 -15h1m-3 2h1m20 -18h1m-27 23h1m-4 12h1m-4 -24h1m17 -12h1m33 -11h1m-18 19h1m-13 -12h1m-3 2h1m-6 20h1m-24 12h1m47 -22h1m-44 25h1m59 -31h1m-63 18h1m25 9h1m-17 6h1m5 -17h1m4 -2h1m0 2h1m5 -15h1m-1 9h1m12 -23h1m-27 26h1m-2 15h1m-1 -8h1m6 -9h1m17 -22h1m-15 16h1m-22 20h1m12 0h1m-9 2h1m19 -30h1m-27 15h1m7 4h1m-6 10h1m2 2h1m39 -56h1m-37 59h1m22 -34h1m-11 -2h1m13 5h1m-10 13h1m-23 13h1m48 -46h1m-37 20h1m20 -10h1m-25 15h1m11 -8h1m-10 8h1m4 9h1m16 -15h1m-11 9h1m-27 -6h1m16 8h1m17 -12h1m-26 4h1m-9 13h1m17 -6h1m-22 24h1m1 -4h1m2 -25h1m24 -6h1m-17 1h1m32 -3h1m3 4h1m-24 -3h1m-6 26h1m-23 -4h1m8 -25h1m-14 28h1m-6 13h1m47 -36h1m-18 25h1m0 -10h1m-5 -2h1m-26 13h1m-28 17h1m61 -48h1m-14 15h1m15 -4h1m-58 34h1m32 -26h1m-26 -13h1m35 10h1m10 -16h1m-38 26h1m26 -22h1m13 17h1m-53 22h1m38 -17h1m-11 -16h1m6 19h1m14 -8h1m6 -16h1m-22 -11h1m10 0h1m-6 3h1m-9 23h1m-14 1h1m-5 16h1m-16 4h1m14 -25h1m14 -11h1m-2 13h1m4 4h1m11 -14h1m6 6h1m-19 15h1m-5 -10h1m-28 13h1m38 -38h1m-25 13h1m-33 43h1m39 -39h1m8 19h1m3 -28h1m-23 -2h1m16 5h1m-22 8h1m25 -14h1m-19 11h1m15 -15h1m1 19h1m-13 -10h1m8 13h1m1 -6h1m4 1h1m-35 9h1m17 -8h1m7 19h1m-6 -5h1m5 -6h1m-10 -9h1m-22 17h1m27 1h1m8 -31h1m-10 0h1m-37 39h1m18 -51h1m-10 45h1m43 -40h1m-16 18h1m-2 3h1m-31 32h1m12 -39h1m-18 42h1m8 -37h1m-11 33h1m22 -11h1m-2 -10h1m14 -31h1m-5 17h1m16 -27h1m-6 11h1m-18 19h1m13 -1h1m-35 11h1m19 -8h1m-6 11h1m-12 4h1m28 -31h1m-26 23h1m10 -18h1m-16 2h1m27 -6h1m-10 5h1m-33 26h1m31 -23h1m40 -25h1m-30 28h1m5 -6h1m-8 9h1m8 -23h1m-26 40h1m-9 -6h1m6 2h1m-16 12h1m-2 -15h1m36 -24h1m-34 18h1m7 13h1m30 -28h1m-16 5h1m-21 10h1m-4 3h1m3 -11h1m17 13h1m9 -20h1m-42 14h1m27 11h1m-23 11h1m2 -23h1m45 -15h1m-46 43h1m-3 -31h1m21 4h1m-8 9h1m-12 1h1m0 5h1m4 -19h1m14 4h1m1 -8h1m-33 30h1m-13 -6h1m39 -21h1m1 -15h1m-5 27h1m9 -14h1m-40 27h1m16 -17h1m-1 6h1m-14 -16h1m29 4h1m-53 38h1m39 -21h1m19 -25h1m-37 1h1m-4 22h1m29 -11h1m-38 9h1m42 -19h1m-32 14h1m42 -15h1m-20 9h1m-37 7h1m23 -5h1m-1 -1h1m9 -11h1m-36 22h1m44 -19h1m-29 26h1m-20 6h1m21 -28h1m-4 16h1m43 -22h1m-2 -5h1m10 1h1m-22 -26h1m-19 37h1m7 -28h1m6 10h1m7 11h1m-35 1h1m25 -13h1m-13 -5h1m-7 17h1m-16 22h1m21 -24h1m-26 36h1m31 -47h1m-15 32h1m6 -26h1m-20 12h1m-12 20h1m-21 9h1m52 -28h1m-39 16h1m58 -44h1m-46 42h1m18 -10h1m-19 19h1m-13 0h1m28 -12h1m-17 2h1m48 -41h1m-42 37h1m-40 22h1m36 -34h1m-4 26h1m-1 -13h1m-2 9h1m-5 1h1m-14 7h1m23 -33h1m-5 14h1m33 -24h1m-46 15h1m38 -23h1m-9 35h1m-26 -3h1m-7 2h1m14 7h1m-11 -19h1m5 1h1m21 -25h1m-33 55h1m18 -25h1m11 -5h1m-17 12h1m-6 11h1m11 -24h1m12 7h1m-27 -7h1m-4 6h1m43 -3h1m-35 11h1m-4 -9h1m12 -34h1m-9 36h1m-10 -11h1m-8 -1h1m38 -11h1m4 11h1m-9 11h1m-23 -3h1m15 -12h1m-23 26h1m30 -47h1m-35 49h1m13 -19h1m5 -13h1m-11 8h1m16 -10h1m3 -2h1m-29 22h1m12 -6h1m-20 18h1m30 -28h1m-16 10h1m13 -20h1m-50 60h1m14 -16h1m-5 1h1m29 -16h1m14 -25h1m-45 46h1m40 -42h1m-41 32h1m51 -46h1m-53 49h1m-1 -10h1m-11 19h1m35 -33h1m-37 30h1m24 -29h1m1 4h1m-6 16h1m-12 -20h1m3 4h1m-4 8h1m-9 4h1m43 -20h1m-2 -12h1m17 -39h1m15 5h1m-7 -3h1m-4 4h1m11 -5h1m-6 5h1m-9 -6h1m3 6h1m-14 2h1m6 0h1m3 3h1m-16 -2h1m34 -12h1m-20 4h1m14 0h1m-18 -3h1m3 8h1m-14 10h1m0 -16h1m14 -2h1m-9 1h1m9 9h1m-4 -8h1m-14 13h1m-2 -11h1m2 4h1m-8 3h1m4 -3h1m10 -2h1m7 -9h1m2 1h1m-5 11h1m-15 -5h1m-1 13h1m19 -23h1m-11 13h1m-11 1h1m-4 0h1m27 -17h1m-14 10h1m-4 4h1m-2 -2h1m-4 4h1m8 -8h1m-1 7h1m6 -3h1m-10 -4h1m-4 5h1m5 0h1m-2 6h1m-27 -3h1m18 0h1m13 -7h1m-8 4h1m-17 2h1m-9 3h1m29 -1h1m-11 4h1m1 -7h1m-12 9h1m14 -14h1m-12 6h1m-2 -4h1m-10 4h1m11 -3h1m3 4h1m-14 0h1m2 -4h1m-7 4h1m14 -2h1m5 1h1m-23 5h1m10 -10h1m10 -3h1m-22 13h1m18 -11h1m-6 0h1m9 -1h1m2 7h1m-8 3h1m-29 -2h1m1 5h1m11 -5h1m5 -2h1m-10 6h1m-2 -7h1m19 1h1m-8 4h1m-5 -8h1m15 0h1m-24 2h1m11 0h1m-11 -3h1m5 4h1m-8 5h1m2 -5h1m14 8h1m-20 -4h1m-4 4h1m26 -4h1m-31 -2h1m10 0h1m-11 1h1m4 6h1m16 -11h1m-6 -6h1m-11 8h1m15 2h1m-12 -1h1" stroke="#7676f2" stroke-width="1" fill="none"/>
<path d="M1087 2262.5h1m-8 -10h1m-23 7h1m43 -11h1m-17 3h1m-6 -1h1m0 11h1m-8 -5h1m-1 -1h1m5 -2h1m8 2h1m-7 0h1m-2 -3h1m4 -1h1m-16 -1h1m19 9h1m-16 -3h1m8 -1h1m-12 1h1m13 -3h1m-19 7h1m25 -10h1m-20 11h1m-1 -1h1m-4 1h1m-5 -4h1m5 -4h1m-12 1h1m24 4h1m-12 -1h1m-21 -1h1m20 -1h1m2 -6h1m-4 0h1m-6 10h1m2 -2h1m-23 4h1m11 0h1m-10 0h1m7 -1h1m16 -13h1m5 5h1m-59 27h1m12 -3h1m-1 -5h1m-20 39h1m9 -15h1m6 13h1m3 -26h1m5 -10h1m-13 22h1m-27 -5h1m36 -22h1m-22 8h1m10 0h1m16 1h1m-3 -11h1m-17 20h1m-5 8h1m-13 -6h1m4 -2h1m18 -8h1m7 -1h1m-16 12h1m-10 -17h1m-1 4h1m-12 15h1m10 -23h1m15 4h1m-1 5h1m-16 9h1m2 -15h1m-12 7h1m14 4h1m-17 20h1m19 -42h1m-9 18h1m-25 34h1m34 -27h1m5 -16h1m-22 19h1m29 -32h1m-38 28h1m29 -21h1m-2 6h1m-10 13h1m-17 8h1m-2 -2h1m23 -29h1m4 -6h1m-13 31h1m-1 9h1m16 -3h1m-30 -10h1m17 -22h1m8 12h1m-8 4h1m-28 11h1m16 3h1m21 -25h1m-17 0h1m-17 8h1m5 -20h1m10 18h1m-20 18h1m36 -25h1m-10 1h1m-10 46h1m5 -15h1m-12 -36h1m15 -5h1m3 11h1m-41 19h1m14 2h1m22 -22h1m-21 29h1m5 -17h1m-21 -3h1m25 0h1m-42 11h1m10 8h1m41 -41h1m-10 -4h1m-13 46h1m-5 -26h1m-1 16h1m-5 16h1m17 -23h1m7 -8h1m5 25h1m-20 -1h1m-30 -2h1m18 -14h1m10 8h1m2 -12h1m-30 -8h1m12 40h1m5 -11h1m-1 -15h1m1 -8h1m-27 23h1m9 1h1m12 -5h1m11 -14h1m-15 9h1m-10 10h1m6 -16h1m-8 -5h1m28 -12h1m-25 13h1m-7 7h1m15 2h1m18 3h1m-46 18h1m15 -21h1m-17 2h1m30 16h1m-19 -21h1m14 -14h1m-12 1h1m3 4h1m4 -2h1m-14 39h1m-14 -8h1m39 -37h1m-9 -1h1m4 27h1m-10 -29h1m2 4h1m19 -17h1m-59 72h1m25 -52h1m13 -7h1m-14 9h1m-10 16h1m-1 15h1m23 -42h1m3 -13h1m-37 63h1m2 -18h1m15 -31h1m-7 27h1m-11 13h1m33 -31h1m1 -4h1m-46 38h1m16 -31h1m25 11h1m-16 1h1m-4 -12h1m10 10h1m-26 18h1m35 -55h1m-33 39h1m13 -1h1m7 -24h1m-2 13h1m-43 32h1m38 -45h1m-14 19h1m-9 24h1m31 -36h1m4 -18h1m-12 18h1m-12 -11h1m-26 46h1m15 -15h1m-13 32h1m33 -50h1m-13 -1h1m-22 56h1m35 -44h1m-32 9h1m14 -2h1m15 -27h1m-31 43h1m17 -28h1m-2 -15h1m-27 11h1m12 -3h1m10 3h1m7 -1h1m0 -19h1m-32 47h1m16 -19h1m-6 -2h1m25 -19h1m-29 42h1m24 -48h1m-24 41h1m2 2h1m-17 0h1m24 -7h1m-1 7h1m-19 -29h1m4 11h1m-21 36h1m46 -45h1m-14 16h1m2 4h1m-19 -4h1m9 -25h1m-17 17h1m26 -13h1m-37 24h1m41 -31h1m-12 -1h1m-33 32h1m36 -16h1m-21 15h1m-6 12h1m12 -21h1m-18 4h1m11 -17h1m22 2h1m-36 33h1m-21 -4h1m39 -11h1m-1 -6h1m-19 -12h1m24 5h1m-11 -4h1m-23 40h1m32 -17h1m-27 -2h1m25 5h1m-18 16h1m1 -44h1m-4 24h1m-18 5h1m32 -44h1m-3 15h1m8 15h1m-18 17h1m17 -37h1m-33 19h1m30 -5h1m1 -26h1m-25 67h1m-16 -21h1m22 -22h1m-31 23h1m37 2h1m-8 -2h1m12 -23h1m-36 24h1m7 -29h1m8 -3h1m-2 40h1m3 -46h1m2 6h1m-13 46h1m-15 -13h1m36 -44h1m-21 19h1m-4 16h1m5 -12h1m-8 -1h1m18 -24h1m-1 4h1m-25 30h1m10 4h1m-8 -9h1m26 -12h1m-34 44h1m7 -30h1m-4 0h1m21 -22h1m-34 14h1m24 32h1m-5 -31h1m2 1h1m-9 4h1m12 -8h1m0 6h1m-8 -11h1m-27 12h1m20 7h1m-2 -13h1m-40 40h1m48 -23h1m3 -15h1m1 4h1m-16 8h1m-7 -12h1m23 -1h1m-26 -1h1m-23 14h1m43 -9h1m-33 24h1m4 -16h1m48 -28h1m-15 30h1m-10 -20h1m3 9h1m-6 -9h1m-3 15h1m5 -11h1m-8 10h1m-17 9h1m10 -14h1m5 -13h1m15 7h1m-19 -21h1m-24 35h1m9 -20h1m28 -9h1m-33 30h1m13 7h1m-11 -1h1m27 -33h1m-16 38h1m-11 -24h1m2 30h1m24 -53h1m-35 45h1m9 15h1m5 -64h1m-14 56h1m42 -33h1m-42 18h1m-34 25h1m41 -33h1m-24 -3h1m2 22h1m50 -47h1m-39 37h1m-20 16h1m38 -35h1m-25 10h1m4 9h1m-3 -5h1m5 -12h1m-4 -1h1m21 -6h1m-22 39h1m26 -41h1m-11 4h1m-10 -2h1m6 11h1m-12 8h1m-22 1h1m10 -5h1m-8 12h1m-3 -19h1m2 17h1m8 -13h1m21 -11h1m-23 26h1m11 -15h1m-22 6h1m16 -15h1m12 18h1m-32 36h1m18 -38h1m3 -34h1m-32 56h1m46 2h1m1 35h1m-1 -48h1m6 15h1m-24 -6h1m9 19h1m-14 -7h1m10 -11h1m-10 25h1m12 -36h1m-2 0h1m-10 24h1m3 -1h1m-5 -16h1m12 4h1m-6 11h1m6 -9h1m-27 9h1m-2 7h1m16 -30h1m-4 4h1m0 25h1m1 -19h1m-18 -4h1m16 -17h1m1 4h1m2 -2h1m-12 23h1m1 -20h1m4 27h1m-4 3h1m-1 -45h1m-4 44h1m9 -30h1m-11 24h1m0 2h1m7 -34h1m-8 53h1m-3 -29h1m7 -5h1m1 19h1m-4 3h1m-6 -2h1m12 -43h1m-7 57h1m-17 -13h1m20 -7h1m-9 13h1m-10 -32h1m9 26h1m-2 -7h1m-6 5h1m17 -14h1m-26 21h1m12 -16h1m2 -16h1m0 33h1m-7 3h1m-8 -53h1m5 17h1m-5 41h1m-5 -43h1m20 13h1m-11 -5h1m2 10h1m-9 -12h1m2 16h1m-10 -31h1m3 14h1m4 -8h1m1 12h1m-3 25h1m8 -17h1m-4 0h1m8 -4h1m-18 14h1m-5 -5h1m-15 -2h1m11 11h1m12 -5h1m1 -29h1m-9 44h1m-8 -29h1m1 -15h1m7 2h1m-3 27h1m-2 -5h1m4 0h1m-19 -15h1m10 16h1m-19 29h1m28 -49h1m-25 2h1m14 28h1m-1 -14h1m-8 3h1m-6 7h1m-1 -17h1m6 20h1m10 -12h1m-19 -15h1m13 0h1m10 -13h1m-5 24h1m8 -5h1m-19 14h1m-2 19h1m-12 -4h1m32 -42h1m-12 10h1m-3 -23h1m-14 25h1m23 -27h1m-13 7h1m5 17h1m-12 15h1m1 11h1m-5 -25h1m8 -13h1m-6 20h1m-2 9h1m-16 -20h1m14 18h1m-14 -27h1m9 -5h1m-17 51h1m20 -31h1m-9 24h1m-3 -14h1m-2 -7h1m9 -7h1m-10 5h1m3 15h1m2 -16h1m-4 10h1m-18 -17h1m21 14h1m9 -1h1m-29 21h1m10 -27h1m-4 12h1m-1 -11h1m-12 7h1m26 -27h1m-6 6h1m-6 26h1m-2 -15h1m9 11h1m-16 -13h1m28 24h1m-6 -10h1m-37 -18h1m6 17h1m-4 -4h1m23 -18h1m-10 3h1m6 9h1m-7 5h1m-6 -8h1m3 22h1m-3 -19h1m2 32h1m-1 -17h1m1 -1h1m-4 -4h1m-15 14h1m19 -19h1m-16 7h1m-7 1h1m9 13h1m10 -23h1m-7 -2h1m-12 21h1m9 -19h1m-6 3h1m-3 38h1m-13 -38h1m7 9h1m4 5h1m20 26h1m-31 -37h1m-38 30h1m68 -36h1m-59 25h1m-10 -49h1m9 71h1m49 -63h1m-44 45h1" stroke="#1a1ad4" stroke-width="1" fill="none"/>
<ellipse cx="1048" cy="2280" rx="15.4" ry="8.8" transform="rotate(-50 1048 2280)" fill="#1426e4" filter="url(#spkL)" fill-opacity="0.8"/>
<ellipse cx="1052" cy="2304" rx="9.9" ry="9.9" transform="rotate(-40 1052 2304)" fill="#1426e4" filter="url(#spkL)" fill-opacity="0.9"/>
<ellipse cx="1082" cy="2255" rx="16" ry="6.5" transform="rotate(-15 1082 2255)" fill="#1430ee" filter="url(#spk2)"/>
<ellipse cx="1034" cy="2313" rx="38.1" ry="14.6" transform="rotate(-38 1034 2313)" fill="#1228ec" filter="url(#spk)"/>
<ellipse cx="1034" cy="2313" rx="28.9" ry="11" transform="rotate(-38 1034 2313)" fill="#1030f0" filter="url(#fb1)"/>
<ellipse cx="1032.4" cy="2314.6" rx="27.2" ry="10.4" transform="rotate(-38 1032.4 2314.6)" fill="#1a7cf4" filter="url(#fb2)"/>
<ellipse cx="1031.3" cy="2315.8" rx="22.4" ry="8.6" transform="rotate(-38 1031.3 2315.8)" fill="#22cdee" filter="url(#fb2)"/>
<ellipse cx="1029.8" cy="2317.3" rx="16" ry="6.1" transform="rotate(-38 1029.8 2317.3)" fill="#44ec80" filter="url(#fb2)"/>
<ellipse cx="1028.5" cy="2318.7" rx="10.2" ry="3.9" transform="rotate(-38 1028.5 2318.7)" fill="#dcef2c" filter="url(#fb2)"/>
<ellipse cx="1027.4" cy="2319.7" rx="5.8" ry="2.2" transform="rotate(-38 1027.4 2319.7)" fill="#f2380e" filter="url(#fb2)"/>
<line x1="1064" y1="2239.6" x2="1064" y2="2392" stroke="#3a3a3a" stroke-width="1.4"/>
<line x1="942.9" y1="2288.1" x2="1115.4" y2="2288.1" stroke="#3a3a3a" stroke-width="1.4"/>
<text x="951.8" y="2283.3" font-size="13.5" text-anchor="start" fill="#000">1.44</text>
<text x="1106.8" y="2283.3" font-size="13.5" text-anchor="end" fill="#000">3.86</text>
<text x="948" y="2383.4" font-size="13.5" text-anchor="start" fill="#000">94.3</text>
<text x="1103" y="2383.4" font-size="13.5" text-anchor="end" fill="#000">0.40</text>
<path d="M1169 2241.7H1336.6V2392" stroke="#9a9a9a" stroke-width="1" fill="none"/>
<path d="M1169 2392v3.2M1196.9 2392v3.2M1224.9 2392v3.2M1252.8 2392v3.2M1280.7 2392v3.2M1308.7 2392v3.2M1336.6 2392v3.2M1165.4 2392h3.6M1165.4 2366.9h3.6M1165.4 2341.9h3.6M1165.4 2316.8h3.6M1165.4 2291.8h3.6M1165.4 2266.8h3.6M1165.4 2241.7h3.6" stroke="#333" stroke-width="1.1" fill="none"/>
<path d="M1177.4 2392v1.8M1182.3 2392v1.8M1185.8 2392v1.8M1188.5 2392v1.8M1190.7 2392v1.8M1192.6 2392v1.8M1194.2 2392v1.8M1195.7 2392v1.8M1205.3 2392v1.8M1210.3 2392v1.8M1213.8 2392v1.8M1216.5 2392v1.8M1218.7 2392v1.8M1220.5 2392v1.8M1222.2 2392v1.8M1223.6 2392v1.8M1233.3 2392v1.8M1238.2 2392v1.8M1241.7 2392v1.8M1244.4 2392v1.8M1246.6 2392v1.8M1248.5 2392v1.8M1250.1 2392v1.8M1251.5 2392v1.8M1261.2 2392v1.8M1266.1 2392v1.8M1269.6 2392v1.8M1272.3 2392v1.8M1274.5 2392v1.8M1276.4 2392v1.8M1278 2392v1.8M1279.5 2392v1.8M1289.1 2392v1.8M1294.1 2392v1.8M1297.6 2392v1.8M1300.3 2392v1.8M1302.5 2392v1.8M1304.3 2392v1.8M1306 2392v1.8M1307.4 2392v1.8M1317.1 2392v1.8M1322 2392v1.8M1325.5 2392v1.8M1328.2 2392v1.8M1330.4 2392v1.8M1332.3 2392v1.8M1333.9 2392v1.8M1335.3 2392v1.8M1167 2384.5h2M1167 2380h2M1167 2376.9h2M1167 2374.5h2M1167 2372.5h2M1167 2370.8h2M1167 2369.4h2M1167 2368.1h2M1167 2359.4h2M1167 2355h2M1167 2351.9h2M1167 2349.4h2M1167 2347.5h2M1167 2345.8h2M1167 2344.3h2M1167 2343h2M1167 2334.4h2M1167 2329.9h2M1167 2326.8h2M1167 2324.4h2M1167 2322.4h2M1167 2320.7h2M1167 2319.3h2M1167 2318h2M1167 2309.3h2M1167 2304.9h2M1167 2301.8h2M1167 2299.3h2M1167 2297.4h2M1167 2295.7h2M1167 2294.2h2M1167 2292.9h2M1167 2284.3h2M1167 2279.8h2M1167 2276.7h2M1167 2274.3h2M1167 2272.3h2M1167 2270.6h2M1167 2269.2h2M1167 2267.9h2M1167 2259.2h2M1167 2254.8h2M1167 2251.7h2M1167 2249.2h2M1167 2247.3h2M1167 2245.6h2M1167 2244.1h2M1167 2242.8h2" stroke="#333" stroke-width="0.8" fill="none"/>
<path d="M1168.4 2392H1336.6" stroke="#6a6a6a" stroke-width="1.2" fill="none"/>
<path d="M1169 2241.2V2392.6" stroke="#333" stroke-width="1.4" fill="none"/>
<text x="1159.7" y="2414.2" font-size="13.5">10<tspan font-size="8.8" dy="-9">0</tspan></text>
<text x="1139.7" y="2395.6" font-size="13.5">10<tspan font-size="8.8" dy="-9">0</tspan></text>
<text x="1187.6" y="2414.2" font-size="13.5">10<tspan font-size="8.8" dy="-9">1</tspan></text>
<text x="1139.7" y="2370.5" font-size="13.5">10<tspan font-size="8.8" dy="-9">1</tspan></text>
<text x="1215.6" y="2414.2" font-size="13.5">10<tspan font-size="8.8" dy="-9">2</tspan></text>
<text x="1139.7" y="2345.5" font-size="13.5">10<tspan font-size="8.8" dy="-9">2</tspan></text>
<text x="1243.5" y="2414.2" font-size="13.5">10<tspan font-size="8.8" dy="-9">3</tspan></text>
<text x="1139.7" y="2320.4" font-size="13.5">10<tspan font-size="8.8" dy="-9">3</tspan></text>
<text x="1271.4" y="2414.2" font-size="13.5">10<tspan font-size="8.8" dy="-9">4</tspan></text>
<text x="1139.7" y="2295.4" font-size="13.5">10<tspan font-size="8.8" dy="-9">4</tspan></text>
<text x="1299.4" y="2414.2" font-size="13.5">10<tspan font-size="8.8" dy="-9">5</tspan></text>
<text x="1139.7" y="2270.3" font-size="13.5">10<tspan font-size="8.8" dy="-9">5</tspan></text>
<text x="1327.3" y="2414.2" font-size="13.5">10<tspan font-size="8.8" dy="-9">6</tspan></text>
<text x="1139.7" y="2245.3" font-size="13.5">10<tspan font-size="8.8" dy="-9">6</tspan></text>
<path d="M1271 2307.5h1m-48 16h1m44 10h1m-3 -15h1m-24 -2h1m-4 -3h1m19 11h1m-43 -13h1m19 11h1m-13 8h1m32 -16h1m-28 9h1m10 -6h1m-27 26h1m21 -23h1m29 -10h1m-19 -15h1m23 14h1m-74 32h1m1 3h1m78 -36h1m-23 12h1m-30 21h1m38 -16h1m-10 -5h1m-2 1h1m-5 -15h1m8 2h1m-3 8h1m-10 -5h1m7 9h1m-3 8h1m-2 6h1m-8 -14h1m-8 -1h1m6 -7h1m19 25h1m-21 -8h1m-3 -7h1m32 -10h1m7 14h1m-37 -5h1m-16 8h1m34 -25h1m-49 36h1m47 -42h1m2 23h1m-41 -10h1m-9 10h1m25 1h1m-22 16h1m-13 -18h1m32 3h1m-20 -6h1m11 13h1m-12 -3h1m12 -18h1m-16 22h1m16 -31h1m-13 24h1m26 -23h1m-22 35h1m16 -17h1m-1 -11h1m-19 4h1m-18 20h1m28 -34h1m-29 39h1m26 -21h1m-39 3h1m20 -3h1m6 3h1m-11 -3h1m18 9h1m1 -15h1m-2 21h1m-1 -4h1m14 -23h1m-12 5h1m-4 11h1m-15 13h1m-14 -3h1m9 0h1m21 -27h1m-18 -2h1m19 22h1m-42 4h1m-10 3h1m34 -14h1m-48 19h1m22 14h1m25 -24h1m6 -2h1m-33 10h1m45 -9h1m-17 -1h1m-11 3h1m-18 -2h1m1 1h1m14 7h1m4 3h1m-33 2h1m34 -13h1m-14 -7h1m21 -3h1m-9 -3h1m7 2h1m4 -3h1m-63 4h1m54 3h1m4 2h1m-3 12h1m-41 -10h1m27 -17h1m15 10h1m-24 17h1m-34 4h1m28 11h1m38 -43h1m-28 24h1m-13 -19h1m-9 34h1m40 -27h1m-14 10h1m12 -4h1m-27 -8h1m-23 8h1m47 -14h1m-33 12h1m14 3h1m-3 -5h1m7 -8h1m-8 2h1m18 4h1m-30 3h1m24 1h1m10 3h1m-44 -14h1m-10 20h1m44 -10h1m-21 0h1m13 0h1m-22 -3h1m-38 7h1m23 9h1m-10 6h1m-12 -3h1m28 -12h1m25 -5h1m-7 11h1m-9 -12h1m1 1h1m-15 7h1m35 -9h1m-17 1h1m-4 2h1m-49 24h1m53 -28h1m3 1h1m-25 4h1m-28 15h1m44 -23h1m-20 25h1m-3 -13h1m2 13h1m-8 -26h1m-10 18h1m22 -13h1m18 0h1m-26 4h1m-21 8h1m14 -1h1m6 9h1m-4 -6h1m6 -12h1m-10 0h1m4 7h1m1 3h1m-25 3h1m32 5h1m-7 -5h1m41 -34h1m-42 21h1m24 -28h1m-44 45h1m-9 -17h1m-9 12h1m2 -14h1m2 0h1m26 10h1m-12 2h1m-3 -25h1m-9 19h1m0 15h1m-1 6h1m4 -22h1m30 -10h1m-65 31h1m52 -26h1m5 15h1m-26 -7h1m16 -9h1m15 -5h1m-37 22h1m14 -13h1m-13 10h1m9 13h1m3 -1h1m-10 -25h1m-7 19h1m-3 -15h1m34 1h1m2 -13h1m-25 1h1m5 -11h1m-15 28h1m7 -9h1m26 23h1m-19 0h1m-38 -14h1m38 -20h1m25 4h1m-34 10h1m-36 19h1m34 -12h1m25 -27h1m-38 25h1m13 -1h1m-17 -5h1m16 5h1m-51 10h1m26 -3h1m4 -9h1m-12 -2h1m-5 10h1m8 -14h1m20 11h1m21 -19h1m-42 13h1m12 2h1m-44 17h1m47 -37h1m12 19h1m-32 20h1m4 -4h1m37 -27h1m-44 8h1m-5 -1h1m49 8h1m-33 11h1m-17 -7h1m49 -9h1m-55 12h1m-11 16h1m53 -42h1m-31 4h1m23 2h1m-7 1h1m-40 12h1m-9 -3h1m51 -17h1m-33 14h1m15 -7h1m-21 27h1m28 -27h1m-26 20h1m31 -19h1m-2 -1h1m-43 20h1m35 -33h1m12 11h1m-16 2h1m-7 14h1m-26 1h1m23 -8h1m-12 -2h1m4 8h1m2 -16h1m-22 10h1m26 20h1m-2 -7h1m-34 3h1m53 -25h1m-33 8h1m23 -1h1m-10 -14h1m-42 41h1m66 -32h1m-5 4h1m-42 7h1m17 -8h1m0 2h1m-30 7h1m22 -4h1m-2 -11h1m26 6h1m-69 25h1m18 -15h1m42 -16h1m-39 29h1m-3 -14h1m18 -10h1m-11 9h1m6 2h1m-18 -6h1m3 7h1m4 11h1m-15 -16h1m53 -28h1m-35 21h1m1 4h1m-5 12h1m-1 -5h1m31 -20h1m1 -2h1m-35 11h1m32 -20h1m-50 34h1m19 -13h1m11 -3h1m1 -8h1m-39 31h1m39 -11h1m12 -10h1m-49 19h1m30 -10h1m14 -18h1m-38 12h1m13 11h1m0 11h1m-25 6h1m18 -23h1m31 -11h1m-31 20h1m22 -19h1m-82 22h1m53 -12h1m-43 11h1m28 12h1m18 -29h1m23 0h1m3 8h1m-32 4h1m-3 2h1m-24 9h1m1 -11h1m9 0h1m10 -5h1m29 -22h1m1 5h1m-13 5h1m-19 4h1m-29 11h1m25 -1h1m16 -7h1m-8 0h1m-4 3h1m-14 4h1m14 -10h1m-19 1h1m-5 -5h1m36 -4h1m-5 21h1m-24 -12h1m-5 5h1m19 0h1m-41 16h1m57 -17h1m-57 8h1m13 -6h1m0 -21h1m6 27h1m9 -8h1m-18 5h1m24 6h1m27 0h1m-34 -24h1m1 9h1m-63 14h1m41 -3h1m29 -3h1m-42 12h1m12 -22h1m24 8h1m-18 -11h1m3 24h1m-2 -27h1m-42 24h1m39 -14h1m-20 8h1m7 -10h1m-17 18h1m-15 -7h1m32 -6h1m-25 0h1m11 0h1m-1 12h1m23 -15h1m9 -1h1m-10 -3h1m26 10h1m-41 -10h1m-21 17h1m0 -8h1m59 -10h1m-52 19h1m19 -3h1m-20 -6h1m25 -9h1m-6 1h1m-9 -1h1m-10 14h1m-18 14h1m9 -6h1m30 -7h1m-65 2h1m75 -22h1m-42 27h1m24 -14h1m21 -2h1m-77 35h1m14 -31h1m24 -15h1m24 6h1m13 -5h1m-42 19h1m33 -11h1m-31 8h1m20 -8h1m-36 7h1m-7 9h1m38 -34h1m-11 22h1m-10 -10h1m1 -6h1m-36 32h1m42 -31h1m24 -3h1m-31 25h1m9 -9h1m-1 22h1m11 -24h1m-63 23h1m78 -79h1m-8 -6h1m4 13h1m4 1h1m-4 4h1m-4 -11h1m8 -7h1m21 1h1m-34 11h1m9 3h1m-11 -12h1m-1 8h1m8 -8h1m1 9h1m10 -11h1m-6 -4h1m-24 27h1m17 -13h1m5 -5h1m-6 -3h1m-6 4h1m-5 -2h1m2 5h1m-1 6h1m-1 -13h1m4 1h1m-6 14h1m-15 -2h1m20 -3h1m-21 -12h1m15 8h1m-9 2h1m-17 2h1m29 -7h1" stroke="#7676f2" stroke-width="1" fill="none"/>
<path d="M1302 2260.5h1m1 10h1m-6 -9h1m14 5h1m-29 4h1m28 -16h1m-2 0h1m-17 5h1m-6 17h1m16 -27h1m-16 18h1m4 -4h1m-6 -3h1m1 -5h1m-3 15h1m7 -8h1m-13 -2h1m13 -1h1m-8 -7h1m-8 11h1m3 6h1m10 -5h1m-25 9h1m18 -6h1m-20 3h1m7 -7h1m24 -5h1m-13 -2h1m-18 10h1m7 -2h1m-5 -4h1m-4 1h1m4 13h1m3 -10h1m-5 0h1m24 -2h1m3 0h1m-22 2h1m-3 6h1m-6 4h1m-5 -9h1m12 4h1m17 -7h1m-27 6h1m19 -11h1m-13 11h1m-2 -7h1m-2 9h1m-35 0h1m21 -3h1m14 -6h1m-17 8h1m9 5h1m-14 -5h1m8 -6h1m-3 10h1m14 -13h1m-17 14h1m-6 -8h1m10 -1h1m10 -13h1m-12 9h1m1 7h1m5 -8h1m-11 -4h1m8 -2h1m3 9h1m-8 6h1m-21 7h1m22 -9h1m0 -22h1m-17 21h1m-4 -4h1m10 1h1m0 -3h1m-3 16h1m4 -3h1m-27 11h1m36 -21h1m-22 1h1m-16 6h1m-1 -4h1m16 1h1m-8 5h1m2 -13h1m3 10h1m26 -7h1m-21 -4h1m13 3h1m-29 18h1m6 -17h1m-6 13h1m16 -10h1m7 -11h1m-18 5h1m-14 24h1m23 -28h1m4 -4h1m-19 16h1m4 2h1m-18 12h1m7 -20h1m22 0h1m-22 15h1m5 -17h1m-8 6h1m0 9h1m-17 -7h1m16 -2h1m9 -2h1m2 -1h1m-10 -3h1m0 3h1m-19 11h1m2 -2h1m6 -3h1m1 -1h1m-11 6h1m1 3h1m1 -8h1m22 -6h1m-11 -1h1m13 -5h1m0 -1h1m-35 14h1m15 -6h1m-4 7h1m-4 1h1m16 -10h1m5 -1h1m-28 17h1m-15 4h1m26 -7h1m0 -2h1m8 -19h1m-14 21h1m13 -18h1m-45 18h1m30 -6h1m-7 -1h1m-7 5h1m4 -5h1m3 -2h1m24 -15h1m-34 21h1m7 -1h1m16 -7h1m16 -6h1m-47 15h1m20 -13h1m-1 -3h1m-1 11h1m4 -13h1m-10 9h1m5 4h1m-27 5h1m17 -6h1m10 -9h1m-38 31h1m3 -19h1m26 -12h1m4 10h1m-8 -14h1m12 6h1m-28 14h1m8 -11h1m-7 9h1m15 -12h1m16 6h1m-38 9h1m-14 -4h1m48 -20h1m-13 17h1m-14 -5h1m-23 24h1m5 -18h1m21 -6h1m-14 2h1m4 -6h1m0 2h1m10 6h1m-14 7h1m16 -15h1m-5 9h1m-9 4h1m-8 -3h1m5 -11h1m-2 14h1m-9 -3h1m25 5h1m-4 -17h1m-29 28h1m-7 -8h1m3 -9h1m7 14h1m-12 1h1m11 -9h1m18 -13h1m9 -4h1m-22 8h1m-3 -7h1m8 11h1m-28 5h1m26 -10h1m-1 -5h1m-20 29h1m13 -25h1m2 2h1m-2 -8h1m16 9h1m-36 -7h1m-6 23h1m-10 6h1m-1 7h1m6 5h1m0 -4h1m0 -9h1m3 15h1m-17 -25h1m8 16h1m4 -12h1m-3 18h1m-4 -14h1m-9 8h1m4 -23h1m4 18h1m-10 -9h1m13 -12h1m0 21h1m-19 3h1m11 -1h1m-9 0h1m6 -12h1m9 -10h1m-17 18h1m8 1h1m6 -11h1m-15 -1h1m-9 37h1m-3 -21h1m17 4h1m-9 -1h1m9 -11h1m-22 13h1m17 -19h1m5 14h1m-11 -14h1m-4 14h1m-10 15h1m-4 -21h1m12 14h1m0 -20h1m1 -11h1m-3 8h1m9 27h1m-14 -20h1m7 6h1m3 12h1m-4 -34h1m-6 16h1m-7 27h1m13 -29h1m-18 16h1m8 -23h1m6 -1h1m-11 11h1m-13 7h1m14 -9h1m1 0h1m-18 39h1m7 -28h1m11 -14h1m-9 10h1m5 -19h1m0 16h1m-9 -9h1m-6 -2h1m10 -6h1m5 24h1m-18 2h1m10 11h1m-10 -25h1m-6 16h1m15 5h1m-1 -17h1m4 10h1m-22 -12h1m11 -20h1m-1 18h1m2 14h1m-5 -9h1m-7 11h1m0 -15h1m1 -4h1m3 6h1m2 -1h1m-8 -2h1m1 9h1m-7 18h1m10 -14h1m4 -10h1m-2 -3h1m-1 6h1m-2 4h1m-9 1h1m5 0h1m-12 8h1m16 -36h1m-9 35h1m-6 0h1m-3 -6h1m9 -5h1m-15 -16h1m2 20h1m1 0h1m-8 0h1m22 -3h1m-19 -8h1m14 -1h1m1 -5h1m2 11h1m-22 0h1m16 1h1m-11 1h1m-6 -9h1m13 0h1m-15 13h1m12 -10h1m-7 3h1m-21 12h1m21 -21h1m-2 12h1m-14 2h1m22 -6h1m-9 -9h1m-16 20h1m17 -3h1m-19 7h1m-5 -15h1m5 -4h1m13 7h1m-11 -2h1m13 -14h1m-5 7h1m-15 0h1m7 8h1m-4 6h1m4 6h1m1 -18h1m-15 28h1m58 -58h1m-13 3h1m9 -8h1m-15 12h1m-2 -6h1m6 2h1m8 -1h1m-6 -5h1m10 10h1m-12 -7h1m6 3h1m-7 1h1m0 7h1m-11 -1h1m8 -5h1m10 -7h1m-14 4h1m-1 5h1m-6 -5h1m14 -7h1m-18 16h1m-9 -7h1m12 -5h1m-6 6h1m2 4h1m-4 -7h1m12 -5h1m5 0h1m-10 2h1m11 3h1m-8 6h1m-15 -11h1m2 -3h1m4 5h1m-1 10h1m-5 -3h1m-10 -8h1m11 -4h1m-22 6h1m12 6h1m17 -8h1m-7 1h1m-16 3h1m3 5h1m5 -9h1m-10 -2h1m3 21h1m16 -23h1m-19 11h1m4 -9h1m-6 16h1m-1 3h1m-9 -13h1m-5 12h1m13 -7h1m8 6h1m6 -5h1m-10 -11h1m12 -3h1m-31 17h1m15 -11h1m11 6h1m-14 8h1m-2 -19h1m7 11h1m-13 -2h1m3 8h1m-3 -8h1m15 -10h1m-13 4h1m8 2h1m-14 7h1m2 -8h1m3 4h1m-12 20h1m-4 -3h1m14 -19h1m-14 -4h1m-9 6h1m2 8h1m9 -9h1m4 0h1m-103 45h1m98 -1h1m-24 -21h1m-74 17h1m74 36h1m-63 -24h1m10 52h1m35 -68h1m-35 -12h1m7 14h1m13 3h1m10 -8h1" stroke="#1a1ad4" stroke-width="1" fill="none"/>
<ellipse cx="1281" cy="2314" rx="9.9" ry="6.6" transform="rotate(-60 1281 2314)" fill="#1426e4" filter="url(#spkL)" fill-opacity="0.9"/>
<ellipse cx="1297" cy="2265" rx="21" ry="8.5" transform="rotate(-25 1297 2265)" fill="#1430ee" filter="url(#spk2)"/>
<ellipse cx="1294.9" cy="2265.4" rx="9.5" ry="3.8" transform="rotate(-25 1294.9 2265.4)" fill="#22c8e2" filter="url(#fb1)" fill-opacity="0.8"/>
<ellipse cx="1254" cy="2321" rx="34.7" ry="15.1" transform="rotate(-20 1254 2321)" fill="#1228ec" filter="url(#spk)"/>
<ellipse cx="1254" cy="2321" rx="26.3" ry="11.5" transform="rotate(-20 1254 2321)" fill="#1030f0" filter="url(#fb1)"/>
<ellipse cx="1253.1" cy="2321" rx="24.8" ry="10.8" transform="rotate(-20 1253.1 2321)" fill="#1a7cf4" filter="url(#fb2)"/>
<ellipse cx="1252.5" cy="2321" rx="20.5" ry="8.9" transform="rotate(-20 1252.5 2321)" fill="#22cdee" filter="url(#fb2)"/>
<ellipse cx="1251.6" cy="2321.1" rx="14.6" ry="6.3" transform="rotate(-20 1251.6 2321.1)" fill="#44ec80" filter="url(#fb2)"/>
<ellipse cx="1250.8" cy="2321.1" rx="9.3" ry="4" transform="rotate(-20 1250.8 2321.1)" fill="#dcef2c" filter="url(#fb2)"/>
<ellipse cx="1250.3" cy="2321.1" rx="5.3" ry="2.3" transform="rotate(-20 1250.3 2321.1)" fill="#f2380e" filter="url(#fb2)"/>
<line x1="1280" y1="2241.7" x2="1280" y2="2392" stroke="#3a3a3a" stroke-width="1.4"/>
<line x1="1169" y1="2291.9" x2="1336.6" y2="2291.9" stroke="#3a3a3a" stroke-width="1.4"/>
<text x="1176.2" y="2284" font-size="13.5" text-anchor="start" fill="#000">0.51</text>
<text x="1330.2" y="2284" font-size="13.5" text-anchor="end" fill="#000">10.8</text>
<text x="1173.6" y="2383.4" font-size="13.5" text-anchor="start" fill="#000">87.8</text>
<text x="1330.8" y="2383.4" font-size="13.5" text-anchor="end" fill="#000">0.88</text>
<text x="174.4" y="2015.2" font-size="17" text-anchor="middle" fill="#000">sh-NC</text>
<text x="385.3" y="2016.5" font-size="17" text-anchor="middle" fill="#000">sh-IDH2</text>
<text x="581.1" y="2015" font-size="17" text-anchor="middle" fill="#000">sh-NC+TEMPO</text>
<text x="803.7" y="2012.5" font-size="17" text-anchor="middle" fill="#000">sh-IDH2+TEMPO</text>
<text x="1025.3" y="2012.6" font-size="17" text-anchor="middle" fill="#000">sh-NC+SC-79</text>
<text x="1251.2" y="2012.6" font-size="17" text-anchor="middle" fill="#000">sh-IDH2+SC-79</text>
<line x1="6.6" y1="2046.7" x2="6.6" y2="2374.3" stroke="#000" stroke-width="1.6"/>
<polygon points="6.6,2034.7 2.6,2048.7 6.6,2043.7 10.6,2048.7" fill="#000"/>
<text x="12.5" y="2397.6" font-size="15" text-anchor="middle" transform="rotate(-90 12.5 2397.6)" fill="#000">PI</text>
<text x="113" y="2446" font-size="17.2" text-anchor="start" fill="#000">Annexin-V</text>
<line x1="217.5" y1="2441.4" x2="1332" y2="2441.4" stroke="#000" stroke-width="1.5"/>
<polygon points="1344,2441.4 1330,2437.4 1335,2441.4 1330,2445.4" fill="#000"/>
<line x1="1362.2" y1="2101.8" x2="1362.2" y2="2390.3" stroke="#000" stroke-width="2.2"/>
<text x="1372.5" y="2244" font-size="18" text-anchor="middle" transform="rotate(90 1372.5 2244)" fill="#000">8 Gy</text>
</g></svg></body></html>
